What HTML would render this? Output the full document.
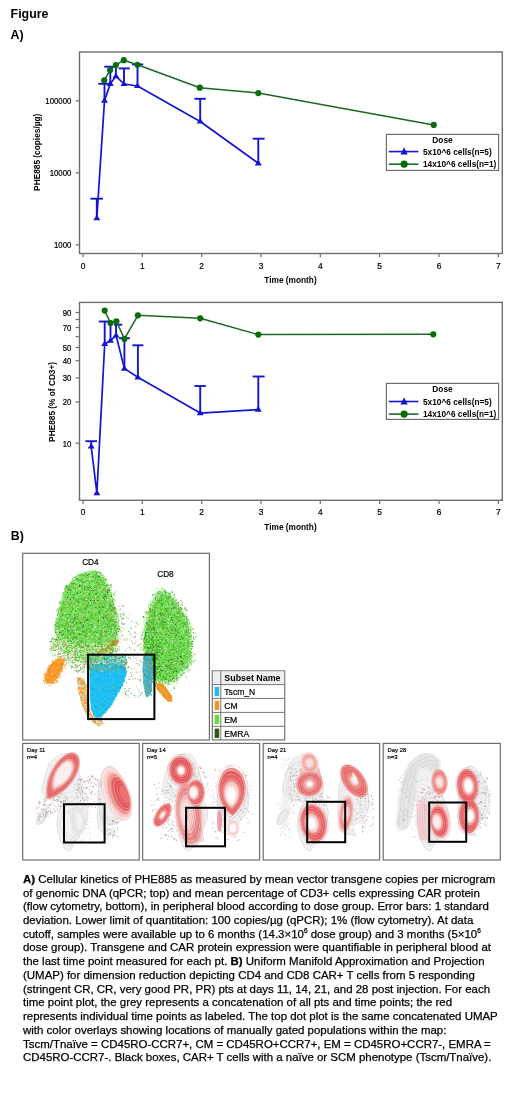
<!DOCTYPE html>
<html><head><meta charset="utf-8"><style>
html,body{margin:0;padding:0;background:#fff;}
body{width:520px;height:1105px;position:relative;overflow:hidden;font-family:"Liberation Sans",sans-serif;color:#111;}
#w{position:absolute;left:0;top:0;width:520px;height:1105px;will-change:transform;}
.t{position:absolute;font-weight:bold;font-size:12.4px;line-height:12px;color:#000;}
.l{position:absolute;left:23px;font-size:11.46px;line-height:13.6px;white-space:nowrap;color:#000;-webkit-text-stroke:0.25px #000;}
.l sup{font-size:6.5px;vertical-align:0;position:relative;top:-4.5px;}
svg{position:absolute;left:0;top:0;}
svg text{font-family:"Liberation Sans",sans-serif;fill:#000;}
svg text:not([font-weight]){stroke:#000;stroke-width:0.2px;}
</style></head><body><div id="w">
<div class="t" style="left:10.6px;top:7.8px">Figure</div>
<div class="t" style="left:10.6px;top:28.6px">A)</div>
<div class="t" style="left:10.8px;top:529.5px">B)</div>
<svg width="520" height="1105" viewBox="0 0 520 1105">
<rect x="79.5" y="52" width="422.8" height="201.5" fill="none" stroke="#6e6e6e" stroke-width="1.4"/>
<line x1="83.0" y1="253.5" x2="83.0" y2="257.3" stroke="#6e6e6e" stroke-width="1.2"/>
<text transform="translate(83.0 268.6) scale(1 1.12)" font-size="8.4" text-anchor="middle" fill="#222">0</text>
<line x1="142.3" y1="253.5" x2="142.3" y2="257.3" stroke="#6e6e6e" stroke-width="1.2"/>
<text transform="translate(142.3 268.6) scale(1 1.12)" font-size="8.4" text-anchor="middle" fill="#222">1</text>
<line x1="201.7" y1="253.5" x2="201.7" y2="257.3" stroke="#6e6e6e" stroke-width="1.2"/>
<text transform="translate(201.7 268.6) scale(1 1.12)" font-size="8.4" text-anchor="middle" fill="#222">2</text>
<line x1="261.0" y1="253.5" x2="261.0" y2="257.3" stroke="#6e6e6e" stroke-width="1.2"/>
<text transform="translate(261.0 268.6) scale(1 1.12)" font-size="8.4" text-anchor="middle" fill="#222">3</text>
<line x1="320.3" y1="253.5" x2="320.3" y2="257.3" stroke="#6e6e6e" stroke-width="1.2"/>
<text transform="translate(320.3 268.6) scale(1 1.12)" font-size="8.4" text-anchor="middle" fill="#222">4</text>
<line x1="379.6" y1="253.5" x2="379.6" y2="257.3" stroke="#6e6e6e" stroke-width="1.2"/>
<text transform="translate(379.6 268.6) scale(1 1.12)" font-size="8.4" text-anchor="middle" fill="#222">5</text>
<line x1="439.0" y1="253.5" x2="439.0" y2="257.3" stroke="#6e6e6e" stroke-width="1.2"/>
<text transform="translate(439.0 268.6) scale(1 1.12)" font-size="8.4" text-anchor="middle" fill="#222">6</text>
<line x1="498.3" y1="253.5" x2="498.3" y2="257.3" stroke="#6e6e6e" stroke-width="1.2"/>
<text transform="translate(498.3 268.6) scale(1 1.12)" font-size="8.4" text-anchor="middle" fill="#222">7</text>
<text x="290.5" y="282.8" font-size="8.3" font-weight="bold" text-anchor="middle" fill="#111">Time (month)</text>
<line x1="75.6" y1="244.9" x2="79.4" y2="244.9" stroke="#6e6e6e" stroke-width="1.2"/>
<text transform="translate(71.3 248.3) scale(1 1.15)" font-size="7.8" text-anchor="end" fill="#222">1000</text>
<line x1="75.6" y1="172.9" x2="79.4" y2="172.9" stroke="#6e6e6e" stroke-width="1.2"/>
<text transform="translate(71.3 176.3) scale(1 1.15)" font-size="7.8" text-anchor="end" fill="#222">10000</text>
<line x1="75.6" y1="100.9" x2="79.4" y2="100.9" stroke="#6e6e6e" stroke-width="1.2"/>
<text transform="translate(71.3 104.3) scale(1 1.15)" font-size="7.8" text-anchor="end" fill="#222">100000</text>
<text transform="translate(39.9 152.3) rotate(-90)" font-size="8.3" font-weight="bold" text-anchor="middle" fill="#111">PHE885 (copies/µg)</text>
<line x1="96.8" y1="218.2" x2="96.8" y2="198.7" stroke="#1414d2" stroke-width="1.9"/>
<line x1="90.4" y1="198.7" x2="102.9" y2="198.7" stroke="#1414d2" stroke-width="1.9"/>
<line x1="104.5" y1="100.6" x2="104.5" y2="83.8" stroke="#1414d2" stroke-width="1.9"/>
<line x1="98.4" y1="83.8" x2="110.2" y2="83.8" stroke="#1414d2" stroke-width="1.9"/>
<line x1="110.3" y1="83.8" x2="110.3" y2="66.7" stroke="#1414d2" stroke-width="1.9"/>
<line x1="104.2" y1="66.7" x2="116.2" y2="66.7" stroke="#1414d2" stroke-width="1.9"/>
<line x1="115.9" y1="76.2" x2="115.9" y2="66.8" stroke="#1414d2" stroke-width="1.9"/>
<line x1="124.0" y1="84.0" x2="124.0" y2="68.4" stroke="#1414d2" stroke-width="1.9"/>
<line x1="118.6" y1="68.4" x2="129.8" y2="68.4" stroke="#1414d2" stroke-width="1.9"/>
<line x1="137.5" y1="86.0" x2="137.5" y2="64.4" stroke="#1414d2" stroke-width="1.9"/>
<line x1="132.0" y1="64.4" x2="143.2" y2="64.4" stroke="#1414d2" stroke-width="1.9"/>
<line x1="200.2" y1="121.5" x2="200.2" y2="98.8" stroke="#1414d2" stroke-width="1.9"/>
<line x1="194.4" y1="98.8" x2="205.8" y2="98.8" stroke="#1414d2" stroke-width="1.9"/>
<line x1="258.3" y1="163.3" x2="258.3" y2="138.7" stroke="#1414d2" stroke-width="1.9"/>
<line x1="252.7" y1="138.7" x2="264.6" y2="138.7" stroke="#1414d2" stroke-width="1.9"/>
<path d="M96.8 218.2 L104.5 100.6 L110.3 83.8 L115.9 76.2 L124.0 84.0 L137.5 86.0 L200.2 121.5 L258.3 163.3" fill="none" stroke="#1414d2" stroke-width="1.7" stroke-linejoin="round"/>
<path d="M96.8 214.7L100.3 220.3L93.3 220.3Z" fill="#1414d2"/>
<path d="M104.5 97.1L108.0 102.7L101.0 102.7Z" fill="#1414d2"/>
<path d="M110.3 80.3L113.8 85.9L106.8 85.9Z" fill="#1414d2"/>
<path d="M115.9 72.7L119.4 78.3L112.4 78.3Z" fill="#1414d2"/>
<path d="M124.0 80.5L127.5 86.1L120.5 86.1Z" fill="#1414d2"/>
<path d="M137.5 82.5L141.0 88.1L134.0 88.1Z" fill="#1414d2"/>
<path d="M200.2 118.0L203.7 123.6L196.7 123.6Z" fill="#1414d2"/>
<path d="M258.3 159.8L261.8 165.4L254.8 165.4Z" fill="#1414d2"/>
<path d="M104.2 80.4 L110.1 70.1 L115.9 65.1 L123.8 60.2 L137.5 64.8 L199.8 87.7 L258.3 93.1 L433.8 124.9" fill="none" stroke="#1e6626" stroke-width="1.5" stroke-linejoin="round"/>
<circle cx="104.2" cy="80.4" r="3.1" fill="#0b6c0b"/>
<circle cx="110.1" cy="70.1" r="3.1" fill="#0b6c0b"/>
<circle cx="115.9" cy="65.1" r="3.1" fill="#0b6c0b"/>
<circle cx="123.8" cy="60.2" r="3.1" fill="#0b6c0b"/>
<circle cx="137.5" cy="64.8" r="3.1" fill="#0b6c0b"/>
<circle cx="199.8" cy="87.7" r="3.1" fill="#0b6c0b"/>
<circle cx="258.3" cy="93.1" r="3.1" fill="#0b6c0b"/>
<circle cx="433.8" cy="124.9" r="3.1" fill="#0b6c0b"/>
<rect x="386.4" y="134.4" width="112.2" height="36" fill="#fff" stroke="#6e6e6e" stroke-width="1.2"/>
<text x="442.5" y="143.0" font-size="8.3" font-weight="bold" text-anchor="middle" fill="#111">Dose</text>
<line x1="388.8" y1="151.6" x2="418.4" y2="151.6" stroke="#1414d2" stroke-width="1.6"/>
<path d="M404.1 147.3L407.7 154.6L400.5 154.6Z" fill="#1414d2"/>
<text x="423.0" y="155.2" font-size="8.3" font-weight="bold" fill="#111">5x10^6 cells(n=5)</text>
<line x1="388.8" y1="164.20000000000002" x2="418.4" y2="164.20000000000002" stroke="#1e6626" stroke-width="1.6"/>
<circle cx="404.1" cy="164.20000000000002" r="3.6" fill="#0b6c0b"/>
<text x="423.0" y="167.4" font-size="8.3" font-weight="bold" fill="#111">14x10^6 cells(n=1)</text>
<rect x="79.5" y="302.4" width="422.8" height="197.90000000000003" fill="none" stroke="#6e6e6e" stroke-width="1.4"/>
<line x1="83.0" y1="500.3" x2="83.0" y2="504.1" stroke="#6e6e6e" stroke-width="1.2"/>
<text transform="translate(83.0 515.3) scale(1 1.12)" font-size="8.4" text-anchor="middle" fill="#222">0</text>
<line x1="142.3" y1="500.3" x2="142.3" y2="504.1" stroke="#6e6e6e" stroke-width="1.2"/>
<text transform="translate(142.3 515.3) scale(1 1.12)" font-size="8.4" text-anchor="middle" fill="#222">1</text>
<line x1="201.7" y1="500.3" x2="201.7" y2="504.1" stroke="#6e6e6e" stroke-width="1.2"/>
<text transform="translate(201.7 515.3) scale(1 1.12)" font-size="8.4" text-anchor="middle" fill="#222">2</text>
<line x1="261.0" y1="500.3" x2="261.0" y2="504.1" stroke="#6e6e6e" stroke-width="1.2"/>
<text transform="translate(261.0 515.3) scale(1 1.12)" font-size="8.4" text-anchor="middle" fill="#222">3</text>
<line x1="320.3" y1="500.3" x2="320.3" y2="504.1" stroke="#6e6e6e" stroke-width="1.2"/>
<text transform="translate(320.3 515.3) scale(1 1.12)" font-size="8.4" text-anchor="middle" fill="#222">4</text>
<line x1="379.6" y1="500.3" x2="379.6" y2="504.1" stroke="#6e6e6e" stroke-width="1.2"/>
<text transform="translate(379.6 515.3) scale(1 1.12)" font-size="8.4" text-anchor="middle" fill="#222">5</text>
<line x1="439.0" y1="500.3" x2="439.0" y2="504.1" stroke="#6e6e6e" stroke-width="1.2"/>
<text transform="translate(439.0 515.3) scale(1 1.12)" font-size="8.4" text-anchor="middle" fill="#222">6</text>
<line x1="498.3" y1="500.3" x2="498.3" y2="504.1" stroke="#6e6e6e" stroke-width="1.2"/>
<text transform="translate(498.3 515.3) scale(1 1.12)" font-size="8.4" text-anchor="middle" fill="#222">7</text>
<text x="290.5" y="529.6" font-size="8.3" font-weight="bold" text-anchor="middle" fill="#111">Time (month)</text>
<line x1="75.6" y1="312.5" x2="79.4" y2="312.5" stroke="#6e6e6e" stroke-width="1.2"/>
<text transform="translate(71.3 315.9) scale(1 1.15)" font-size="7.8" text-anchor="end" fill="#222">90</text>
<line x1="75.6" y1="319.5" x2="79.4" y2="319.5" stroke="#6e6e6e" stroke-width="1.2"/>
<line x1="75.6" y1="327.5" x2="79.4" y2="327.5" stroke="#6e6e6e" stroke-width="1.2"/>
<text transform="translate(71.3 330.9) scale(1 1.15)" font-size="7.8" text-anchor="end" fill="#222">70</text>
<line x1="75.6" y1="336.6" x2="79.4" y2="336.6" stroke="#6e6e6e" stroke-width="1.2"/>
<line x1="75.6" y1="347.5" x2="79.4" y2="347.5" stroke="#6e6e6e" stroke-width="1.2"/>
<text transform="translate(71.3 350.9) scale(1 1.15)" font-size="7.8" text-anchor="end" fill="#222">50</text>
<line x1="75.6" y1="360.7" x2="79.4" y2="360.7" stroke="#6e6e6e" stroke-width="1.2"/>
<text transform="translate(71.3 364.1) scale(1 1.15)" font-size="7.8" text-anchor="end" fill="#222">40</text>
<line x1="75.6" y1="377.9" x2="79.4" y2="377.9" stroke="#6e6e6e" stroke-width="1.2"/>
<text transform="translate(71.3 381.3) scale(1 1.15)" font-size="7.8" text-anchor="end" fill="#222">30</text>
<line x1="75.6" y1="402.0" x2="79.4" y2="402.0" stroke="#6e6e6e" stroke-width="1.2"/>
<text transform="translate(71.3 405.4) scale(1 1.15)" font-size="7.8" text-anchor="end" fill="#222">20</text>
<line x1="75.6" y1="443.2" x2="79.4" y2="443.2" stroke="#6e6e6e" stroke-width="1.2"/>
<text transform="translate(71.3 446.6) scale(1 1.15)" font-size="7.8" text-anchor="end" fill="#222">10</text>
<text transform="translate(55.3 401.9) rotate(-90)" font-size="8.3" font-weight="bold" text-anchor="middle" fill="#111">PHE885 (% of CD3+)</text>
<line x1="91.2" y1="446.5" x2="91.2" y2="441.2" stroke="#1414d2" stroke-width="1.9"/>
<line x1="85.4" y1="441.2" x2="97.0" y2="441.2" stroke="#1414d2" stroke-width="1.9"/>
<line x1="104.7" y1="344.0" x2="104.7" y2="321.5" stroke="#1414d2" stroke-width="1.9"/>
<line x1="98.8" y1="321.5" x2="110.6" y2="321.5" stroke="#1414d2" stroke-width="1.9"/>
<line x1="110.5" y1="340.7" x2="110.5" y2="323.0" stroke="#1414d2" stroke-width="1.9"/>
<line x1="116.1" y1="335.5" x2="116.1" y2="324.7" stroke="#1414d2" stroke-width="1.9"/>
<line x1="114.0" y1="324.7" x2="122.3" y2="324.7" stroke="#1414d2" stroke-width="1.9"/>
<line x1="124.4" y1="368.6" x2="124.4" y2="338.2" stroke="#1414d2" stroke-width="1.9"/>
<line x1="118.9" y1="338.2" x2="129.9" y2="338.2" stroke="#1414d2" stroke-width="1.9"/>
<line x1="137.9" y1="377.3" x2="137.9" y2="345.3" stroke="#1414d2" stroke-width="1.9"/>
<line x1="132.3" y1="345.3" x2="143.4" y2="345.3" stroke="#1414d2" stroke-width="1.9"/>
<line x1="200.2" y1="413.1" x2="200.2" y2="386.0" stroke="#1414d2" stroke-width="1.9"/>
<line x1="194.4" y1="386.0" x2="205.8" y2="386.0" stroke="#1414d2" stroke-width="1.9"/>
<line x1="258.3" y1="409.6" x2="258.3" y2="376.5" stroke="#1414d2" stroke-width="1.9"/>
<line x1="252.7" y1="376.5" x2="264.6" y2="376.5" stroke="#1414d2" stroke-width="1.9"/>
<path d="M91.2 446.5 L96.9 493.1 L104.7 344.0 L110.5 340.7 L116.1 335.5 L124.4 368.6 L137.9 377.3 L200.2 413.1 L258.3 409.6" fill="none" stroke="#1414d2" stroke-width="1.7" stroke-linejoin="round"/>
<path d="M91.2 443.0L94.7 448.6L87.7 448.6Z" fill="#1414d2"/>
<path d="M96.9 489.6L100.4 495.2L93.4 495.2Z" fill="#1414d2"/>
<path d="M104.7 340.5L108.2 346.1L101.2 346.1Z" fill="#1414d2"/>
<path d="M110.5 337.2L114.0 342.8L107.0 342.8Z" fill="#1414d2"/>
<path d="M116.1 332.0L119.6 337.6L112.6 337.6Z" fill="#1414d2"/>
<path d="M124.4 365.1L127.9 370.7L120.9 370.7Z" fill="#1414d2"/>
<path d="M137.9 373.8L141.4 379.4L134.4 379.4Z" fill="#1414d2"/>
<path d="M200.2 409.6L203.7 415.2L196.7 415.2Z" fill="#1414d2"/>
<path d="M258.3 406.1L261.8 411.7L254.8 411.7Z" fill="#1414d2"/>
<path d="M104.7 310.6 L110.5 323.0 L116.4 321.3 L124.4 338.9 L137.9 315.3 L200.2 318.3 L258.3 334.6 L433.3 334.3" fill="none" stroke="#1e6626" stroke-width="1.5" stroke-linejoin="round"/>
<circle cx="104.7" cy="310.6" r="3.1" fill="#0b6c0b"/>
<circle cx="110.5" cy="323.0" r="3.1" fill="#0b6c0b"/>
<circle cx="116.4" cy="321.3" r="3.1" fill="#0b6c0b"/>
<circle cx="124.4" cy="338.9" r="3.1" fill="#0b6c0b"/>
<circle cx="137.9" cy="315.3" r="3.1" fill="#0b6c0b"/>
<circle cx="200.2" cy="318.3" r="3.1" fill="#0b6c0b"/>
<circle cx="258.3" cy="334.6" r="3.1" fill="#0b6c0b"/>
<circle cx="433.3" cy="334.3" r="3.1" fill="#0b6c0b"/>
<rect x="386.4" y="383.4" width="112.2" height="36" fill="#fff" stroke="#6e6e6e" stroke-width="1.2"/>
<text x="442.5" y="392.0" font-size="8.3" font-weight="bold" text-anchor="middle" fill="#111">Dose</text>
<line x1="388.8" y1="401.49999999999994" x2="418.4" y2="401.49999999999994" stroke="#1414d2" stroke-width="1.6"/>
<path d="M404.1 397.2L407.7 404.5L400.5 404.5Z" fill="#1414d2"/>
<text x="423.0" y="405.1" font-size="8.3" font-weight="bold" fill="#111">5x10^6 cells(n=5)</text>
<line x1="388.8" y1="414.09999999999997" x2="418.4" y2="414.09999999999997" stroke="#1e6626" stroke-width="1.6"/>
<circle cx="404.1" cy="414.09999999999997" r="3.6" fill="#0b6c0b"/>
<text x="423.0" y="417.3" font-size="8.3" font-weight="bold" fill="#111">14x10^6 cells(n=1)</text>
<rect x="22.7" y="553.3" width="186.7" height="186.7" fill="#fff" stroke="#6e6e6e" stroke-width="1.2"/>
<defs><filter id="bl" x="-20%" y="-20%" width="140%" height="140%"><feGaussianBlur stdDeviation="1.2"/></filter><filter id="bl2" x="-20%" y="-20%" width="140%" height="140%"><feGaussianBlur stdDeviation="0.6"/></filter></defs>
<path d="M71.9 584h1.0M70.1 643.5h1.0M84.7 573.6h1.0M119.7 613.9h1.0M68.9 605.7h1.0M111.7 614.4h1.0M97.9 654.2h1.0M77.9 657.6h1.0M86.9 621.4h1.0M58.9 636.2h1.0M117.8 622.8h1.0M71 598.2h1.0M73.4 647h1.0M111.8 650.5h1.0M87.7 639.4h1.0M115.7 633.2h1.0M95.3 627.9h1.0M67.7 632.2h1.0M103.4 611.7h1.0M102.6 629.9h1.0M66.4 628.9h1.0M73 608.9h1.0M62.3 643.7h1.0M64.2 608.6h1.0M116.2 651.7h1.0M78.6 645.1h1.0M71.6 603.5h1.0M71 588.8h1.0M75 588.2h1.0M110.5 584.8h1.0M96 577.6h1.0M59.4 656.6h1.0M95.5 606.5h1.0M122.8 624.2h1.0M96.1 650.6h1.0M115.5 642.4h1.0M104.4 613h1.0M72.8 639.3h1.0M89.6 610.3h1.0M67 591.8h1.0M116.9 628.3h1.0M83.2 647.7h1.0M113 610.4h1.0M95.8 634.5h1.0M66.8 596.1h1.0M107.7 634.5h1.0M111.9 631.2h1.0M60.1 610.6h1.0M61.6 660.2h1.0M77.7 643.2h1.0M79.3 642.4h1.0M99.7 606.3h1.0M79.2 608.9h1.0M110.7 653.8h1.0M58.8 653.6h1.0M100.3 619.1h1.0M118 626.3h1.0M94.5 628h1.0M98.4 612.4h1.0M50.9 641.6h1.0M99.1 583.4h1.0M79.2 605.7h1.0M108.4 588.5h1.0M62.9 593.6h1.0M55.2 628.5h1.0M62.9 626.7h1.0M113.6 599.7h1.0M91.4 618.4h1.0M54.9 650.4h1.0M58.3 623h1.0M57.7 659.7h1.0M96.4 594.6h1.0M97.1 588.6h1.0M64.3 658.7h1.0M103.9 638.8h1.0M83.6 642.6h1.0M86.8 617.8h1.0M74 657.7h1.0M73.3 584.4h1.0M59.3 602.6h1.0M81.9 582.1h1.0M106.4 605.6h1.0M112.5 599.7h1.0M78.8 631h1.0M117.3 637.9h1.0M111.6 622.7h1.0M66.6 610.2h1.0M100.5 606.4h1.0M57.5 635.4h1.0M107.4 646.8h1.0M95.4 645.8h1.0M111.7 649.1h1.0M79.8 596.2h1.0M179.6 630.8h1.0M182.8 657.3h1.0M146.9 625.3h1.0M150.8 633h1.0M161.3 601.5h1.0M170.2 658.2h1.0M187.3 627.4h1.0M171.4 666.7h1.0M160.3 615.8h1.0M178.2 618.1h1.0M149.2 614.4h1.0M173.7 594.7h1.0M150.5 642.3h1.0M143.1 650.4h1.0M173.7 620.9h1.0M154.4 660.5h1.0M183.5 618.7h1.0M148.4 605h1.0M176.1 628.3h1.0M155 664.7h1.0M189.5 624h1.0M159 682h1.0M153.1 652h1.0M190.9 635.7h1.0M161.4 673h1.0M162.8 653.9h1.0M167.8 680.2h1.0M167.5 639.7h1.0M152.4 594.5h1.0M188.5 669.9h1.0M158.1 614.9h1.0M156.3 660.4h1.0M145.2 634.8h1.0M155.2 679.4h1.0M181.6 605.1h1.0M145.4 643.9h1.0M158.6 674.1h1.0M192.8 637.3h1.0M185.6 622.1h1.0M144.9 612h1.0M175 674.5h1.0M190.7 664h1.0M186.2 668.1h1.0M179.8 627.3h1.0M173.3 673.5h1.0M152 623.3h1.0M165.1 664.6h1.0M161.3 686.7h1.0M172.2 672.4h1.0M186.9 652.8h1.0M157.6 602.3h1.0M175.3 613.5h1.0M175.5 658.5h1.0M162.1 684.3h1.0M159.1 627.3h1.0M159.6 605.8h1.0M155.3 674.4h1.0M184.4 608.2h1.0M155.8 606.7h1.0M191.5 661.6h1.0M159.9 680h1.0M184.5 636h1.0M181 626.5h1.0M152.8 627.3h1.0M186.1 652.4h1.0M168.7 597.5h1.0M174.7 648.3h1.0M180.9 674.9h1.0M174 688.3h1.0M192.8 632.4h1.0M158.4 666.6h1.0M178.7 664.1h1.0M178.6 632.8h1.0M186.4 610h1.0M180.5 600.9h1.0M146.2 612.3h1.0M156 626.1h1.0M141.4 635.4h1.0M174.8 609h1.0M160.9 603.4h1.0M165.4 644.9h1.0M165.3 629h1.0M176.9 647.5h1.0M166.4 656.4h1.0M152.9 614.1h1.0M178.8 626.6h1.0M152.8 669.4h1.0M179.6 670.1h1.0M148.8 610h1.0M157.8 636.1h1.0M156.8 593.6h1.0M142.9 616.5h1.0M154.5 663.5h1.0M163.4 672h1.0M182.8 649.6h1.0M176.7 626.1h1.0M186 622.4h1.0M183.8 667.9h1.0M165.9 628.3h1.0M167.1 629.8h1.0M169.3 671.8h1.0M160 609.6h1.0M184.9 609.3h1.0M191 643.8h1.0M172.8 661.5h1.0M148.1 624.5h1.0M122.6 606.4h1.0M139.7 679.7h1.0M134.5 632.3h1.0M128.2 657.7h1.0M122.4 614.2h1.0M122.9 618.4h1.0M134.1 650.1h1.0M125 693.9h1.0M125.6 691.4h1.0M130.8 628.1h1.0M49.8 648.9h1.0M65.9 649.2h1.0M78.7 643h1.0M51.3 639.2h1.0M95.7 650.5h1.0M52.7 647h1.0M72.1 650.8h1.0M75.6 659.4h1.0M57.5 654.6h1.0M76 654h1.0M52.5 643.9h1.0M95.2 652h1.0M63 646.9h1.0M68.1 658.1h1.0M83.5 658.6h1.0M76.7 666.1h1.0M83.3 671.9h1.0M63.9 640.7h1.0M89.8 658.8h1.0M76.3 671.2h1.0M71.9 660.6h1.0M82.2 668.8h1.0M61.8 646.1h1.0M83.7 666.3h1.0M81 648.2h1.0M66.8 652.3h1.0M87 653.3h1.0M81.6 656.7h1.0M85.5 662.9h1.0M70.3 648.1h1.0M86.7 665h1.0M83.2 664.1h1.0M60 654h1.0M76.5 670.3h1.0M84.2 664.8h1.0M87 656.1h1.0M69.1 652.9h1.0M68.5 660.2h1.0M78.9 670.7h1.0M74.4 667.7h1.0M56.7 645.7h1.0M63.9 641.9h1.0M64.1 652h1.0M74.4 657.6h1.0M76.1 667.1h1.0M54.2 639.4h1.0M61.7 638.6h1.0M60.7 650.5h1.0M74.6 646.9h1.0M71.6 662.6h1.0M65.9 660.1h1.0M86.6 667h1.0M72.8 663.2h1.0M84.1 667.9h1.0M56.6 646.5h1.0M51 648h1.0M76.9 660.7h1.0M80 660.7h1.0M86.6 645.6h1.0M67.8 652.6h1.0" stroke="#2a7a1a" stroke-width="1.0" fill="none"/>
<path d="M86.1 573.5h1.0M79.7 646.5h1.0M50.6 649.4h1.0M70.8 645.5h1.0M91.8 629.1h1.0M89.2 575.8h1.0M62.9 632.9h1.0M114.4 637.5h1.0M79.2 640h1.0M51.5 641.1h1.0M113.5 595.8h1.0M92.4 594.3h1.0M94.6 632.5h1.0M108.4 606.3h1.0M55 628.7h1.0M59.5 601.5h1.0M73.7 603.7h1.0M82.9 614.8h1.0M67.4 646.7h1.0M100.6 594.2h1.0M107 600.5h1.0M64 591h1.0M104.8 614.2h1.0M110.6 589.5h1.0M67 608.8h1.0M91.9 653.6h1.0M87.3 571.7h1.0M102.8 621.5h1.0M55.2 621.8h1.0M56.4 610.9h1.0M63.9 658.1h1.0M111.1 584.9h1.0M86.7 601.4h1.0M71.5 636.8h1.0M89.7 610.7h1.0M50 642.1h1.0M110.1 593.9h1.0M100 609.3h1.0M53.4 649.2h1.0M113.4 612h1.0M89.6 655.7h1.0M57 618.7h1.0M69.3 616.3h1.0M103.4 621h1.0M83.6 656.5h1.0M96 607.4h1.0M52.4 638.5h1.0M68.7 592.4h1.0M82.4 584.6h1.0M70.8 603h1.0M62.5 616.7h1.0M77.8 573.9h1.0M102.1 651.3h1.0M72.1 661.1h1.0M102.8 629.5h1.0M103.5 645.1h1.0M88.2 631h1.0M103.7 593.3h1.0M67.4 637.5h1.0M96.5 577.2h1.0M66.6 638.7h1.0M90.7 571.2h1.0M82.8 613.1h1.0M81.6 594.9h1.0M84.4 572.3h1.0M84.9 611.7h1.0M71.3 647.7h1.0M104.8 647.6h1.0M69.3 604.4h1.0M74.8 609.6h1.0M89.3 636.6h1.0M96.6 596.5h1.0M83.4 601.8h1.0M67 630.7h1.0M89.9 606.5h1.0M116.8 616h1.0M81.6 582.9h1.0M104.7 608.2h1.0M87.4 604.9h1.0M63.6 595.1h1.0M112.3 650.7h1.0M82.2 621h1.0M96.7 598.1h1.0M87.4 623.9h1.0M64.2 625.6h1.0M101.3 598.4h1.0M85.4 632.4h1.0M71 645.9h1.0M64.1 640.3h1.0M120.3 615.9h1.0M98.2 605h1.0M72.5 585.7h1.0M56.5 659.2h1.0M75.7 655.1h1.0M75 653h1.0M51.8 655.1h1.0M104.5 653.1h1.0M67.2 636.3h1.0M106.5 626.2h1.0M105 592.9h1.0M85.4 635.7h1.0M69.6 622.4h1.0M103.8 588.4h1.0M115.1 623.5h1.0M75.7 650.1h1.0M63.8 604.1h1.0M97.2 588.8h1.0M72.2 632.7h1.0M89.2 575.9h1.0M100.5 607.9h1.0M70.7 658.2h1.0M90.6 603h1.0M53.9 627.6h1.0M85.8 583.5h1.0M87.1 655.6h1.0M110.8 586.9h1.0M77.8 617.9h1.0M102.8 653h1.0M90.3 640.1h1.0M79.8 630.9h1.0M94.7 615.3h1.0M60.8 613.8h1.0M56.9 609.8h1.0M81 617.2h1.0M106.9 617.3h1.0M103.4 645.4h1.0M68.2 645.4h1.0M85.7 655.1h1.0M67.2 616.8h1.0M74.7 640.7h1.0M60.6 638.8h1.0M64.5 630.4h1.0M57.4 656.6h1.0M78 594.4h1.0M96.7 622h1.0M78.3 592h1.0M89.4 657h1.0M96.4 645.2h1.0M70.8 597.8h1.0M81.8 590.9h1.0M112.1 635.8h1.0M119.7 639h1.0M114.8 600.4h1.0M90.9 598.5h1.0M55.2 655.9h1.0M110.5 628.4h1.0M105.3 589h1.0M80.6 641.5h1.0M101.3 619.8h1.0M110.1 585.8h1.0M84.8 643.7h1.0M67.1 657.3h1.0M55.5 628.9h1.0M95.4 602.9h1.0M77.4 652.4h1.0M73.8 600.2h1.0M115.2 592h1.0M54.8 659h1.0M108.2 637.8h1.0M62.1 629h1.0M62.9 605.9h1.0M57.9 625.8h1.0M104.1 654h1.0M91.2 639.3h1.0M71.1 628.1h1.0M95.5 593.1h1.0M82 627.5h1.0M99 656h1.0M97.4 642h1.0M78.6 657.7h1.0M56.4 661.1h1.0M74.1 594.5h1.0M63.9 644.1h1.0M83.1 622h1.0M56.6 647.1h1.0M112.5 594.7h1.0M66.5 609.4h1.0M68.7 592.7h1.0M120.3 630.7h1.0M65 641.8h1.0M107.7 647.6h1.0M67.4 591.7h1.0M88.5 649.8h1.0M98.2 647.8h1.0M79.2 658.9h1.0M96.1 628.8h1.0M84.3 653h1.0M102.3 627.8h1.0M87.5 641.3h1.0M78.1 616.6h1.0M97.4 643.3h1.0M95.9 642.5h1.0M92.9 633h1.0M107.6 622h1.0M70.3 609h1.0M53.8 650.4h1.0M65.7 637.9h1.0M112.9 637.5h1.0M121.3 636.3h1.0M71 637.5h1.0M113.3 615h1.0M75.3 623.2h1.0M111 625.6h1.0M80 652.2h1.0M109.2 596.2h1.0M109.8 652.1h1.0M108 612.5h1.0M109.1 641.4h1.0M60.9 634.8h1.0M59 625.2h1.0M87 571.9h1.0M84.4 622.5h1.0M120.6 631.9h1.0M105.4 579.8h1.0M84.1 585.6h1.0M58 632.7h1.0M102.2 588h1.0M57.8 611.4h1.0M83.8 628.1h1.0M102 621.2h1.0M114 594.6h1.0M111.6 600.9h1.0M55.8 660.5h1.0M115.9 631.8h1.0M83.8 596.5h1.0M73.2 583h1.0M111.1 618.7h1.0M80.5 654.4h1.0M91 582.8h1.0M106.3 635.8h1.0M93.9 615.8h1.0M109.5 623.9h1.0M52.1 637.8h1.0M75.3 585.1h1.0M76.4 639.5h1.0M54.4 634.7h1.0M85 616.3h1.0M106.8 601.3h1.0M75.1 619.1h1.0M80.3 616.7h1.0M115.1 651.8h1.0M80.4 658h1.0M70.5 629.9h1.0M78.3 596.7h1.0M83.1 598.7h1.0M64.1 617.4h1.0M92.1 571.1h1.0M69.8 641.4h1.0M52.1 650.6h1.0M80.9 638h1.0M121.1 622.9h1.0M102.7 597.1h1.0M89.8 605.6h1.0M81.2 587h1.0M53.8 655.1h1.0M87.4 579.2h1.0M87.8 645.5h1.0M115.4 608.9h1.0M95.5 625.8h1.0M123.5 628.9h1.0M78.7 642.9h1.0M91.2 608h1.0M59.1 640.3h1.0M71.9 636.2h1.0M73.9 611.6h1.0M94.8 593.1h1.0M118.7 649.1h1.0M116.2 645.5h1.0M85.2 657.8h1.0M77 636.5h1.0M108 592.5h1.0M69.4 621.9h1.0M88.1 605.7h1.0M110.6 602.5h1.0M61.7 596.2h1.0M76 658.7h1.0M120.2 616.7h1.0M63.4 650.7h1.0M86.5 620.2h1.0M90.7 598.7h1.0M55.4 622h1.0M85.5 597.5h1.0M71 590.9h1.0M102.2 596.1h1.0M99.3 631.4h1.0M66.1 648.3h1.0M95.4 586.8h1.0M70.3 605.2h1.0M70.9 629h1.0M111.2 641.8h1.0M55.6 643.2h1.0M117.4 639.3h1.0M110.8 596h1.0M95.4 611.9h1.0M101.1 644.5h1.0M96.1 620.3h1.0M78.7 588.6h1.0M81.3 656.6h1.0M70.1 651.8h1.0M89.2 640.3h1.0M106 646.9h1.0M69.3 603.3h1.0M62.2 634.9h1.0M83.1 603.6h1.0M123.4 639.4h1.0M97.3 593.3h1.0M106.6 647.7h1.0M75.4 646.9h1.0M85.1 616.2h1.0M70.1 623.8h1.0M100 585.1h1.0M61.7 636.9h1.0M86.6 609h1.0M73.8 588.1h1.0M99.3 611.4h1.0M77.5 580.6h1.0M115.5 620.7h1.0M113.4 593.4h1.0M144.5 628.9h1.0M180 665.2h1.0M145.7 672.8h1.0M171.5 667.1h1.0M153.3 625.2h1.0M173.3 608.7h1.0M149.4 664h1.0M193.1 661.6h1.0M191.8 656.7h1.0M172.6 598.3h1.0M146.2 669.8h1.0M188.9 669.7h1.0M162 636h1.0M174.2 594.4h1.0M161.7 623.3h1.0M172.4 621.2h1.0M165.7 689.1h1.0M148.2 656.3h1.0M155.3 638.5h1.0M159.6 643.8h1.0M143.4 621.6h1.0M195.4 636.6h1.0M153.6 610.9h1.0M188.8 633.6h1.0M171.8 618h1.0M143.7 617.9h1.0M160 667h1.0M167.1 680h1.0M152.2 628.1h1.0M189 622h1.0M175.8 682.5h1.0M162.7 657.1h1.0M143.2 629.6h1.0M175.1 621.3h1.0M173.5 613.2h1.0M158.4 596.2h1.0M148 666.3h1.0M194.7 633.6h1.0M169.3 684.4h1.0M152.8 665.2h1.0M150.2 684.2h1.0M167.9 652.7h1.0M184.8 634.4h1.0M143.4 645.2h1.0M175.1 609.8h1.0M154.7 631.6h1.0M152.1 645.7h1.0M155.8 621h1.0M178.2 648.6h1.0M172.4 678.3h1.0M156.7 589h1.0M149.4 657.5h1.0M184.4 658.2h1.0M168.3 610.6h1.0M167.3 600.6h1.0M150 657.8h1.0M181.3 638.6h1.0M189.5 662.6h1.0M149.9 614h1.0M142.4 639.4h1.0M171.2 624.2h1.0M188.9 661.1h1.0M161.7 626.6h1.0M154.3 650h1.0M153.5 607.1h1.0M142.8 658.7h1.0M176.2 643.6h1.0M161.2 660.6h1.0M152.5 650.2h1.0M169.2 636.1h1.0M185.5 611.3h1.0M154.1 597.2h1.0M185 640.7h1.0M178.9 633.2h1.0M184.7 665.4h1.0M153.3 625.1h1.0M161.3 588.3h1.0M172 592.5h1.0M180.2 615.1h1.0M153.5 673.3h1.0M175.6 675.8h1.0M160.8 591.1h1.0M160.6 660.6h1.0M194.4 660.5h1.0M177.3 620.8h1.0M141.4 648.1h1.0M165.9 673.8h1.0M166.5 679.1h1.0M177.5 663.5h1.0M183.1 666.6h1.0M182.2 645.2h1.0M178.1 660.5h1.0M143.1 658.4h1.0M185.7 677.2h1.0M158.7 640.4h1.0M154.7 619.1h1.0M163.5 591.8h1.0M154.4 607.5h1.0M170.1 625.4h1.0M167.4 647.2h1.0M171.1 591.8h1.0M164.9 677.8h1.0M164.3 653h1.0M171.4 669.8h1.0M177.7 656.7h1.0M151.8 673.7h1.0M163.2 655h1.0M190.7 657.8h1.0M143.2 658.9h1.0M186.8 617h1.0M148.6 681.3h1.0M161.9 589.9h1.0M164.1 657.1h1.0M192.6 641.2h1.0M159.5 664.5h1.0M170.3 595.7h1.0M152.7 682.7h1.0M173.5 687.1h1.0M192.9 654.8h1.0M158.7 633.3h1.0M173.4 634.5h1.0M147.4 646.6h1.0M161 655.5h1.0M166.9 602h1.0M167.8 642.2h1.0M168.4 624.7h1.0M162.6 607.7h1.0M171.9 658.2h1.0M182 602.5h1.0M156.3 679.1h1.0M183.9 660.4h1.0M165.9 682.3h1.0M192.7 629.3h1.0M178 602.2h1.0M147.9 607.1h1.0M184.3 636.4h1.0M182.1 652.7h1.0M145.2 661.1h1.0M177.7 664h1.0M184.9 647.9h1.0M154.1 673.7h1.0M151.1 634.1h1.0M186.2 628.7h1.0M176.5 673.5h1.0M140.3 637.4h1.0M146.2 671h1.0M173.9 634.1h1.0M174.7 616.9h1.0M155.2 659.4h1.0M177 670.4h1.0M155.2 686.1h1.0M190.1 627.5h1.0M150.6 672.9h1.0M165.5 670.7h1.0M188.3 639.9h1.0M190.8 638.3h1.0M180.8 664.5h1.0M172.9 646.5h1.0M155.7 665.8h1.0M178.7 615.4h1.0M181.3 604.3h1.0M143 617.5h1.0M151.1 619.9h1.0M146.1 613.6h1.0M161.6 686.7h1.0M151.4 681h1.0M182.1 615.1h1.0M191.4 641.6h1.0M154.9 611.8h1.0M163.1 670.5h1.0M159 593.4h1.0M186.2 614.9h1.0M160.1 659.2h1.0M187 620.3h1.0M175.2 600.9h1.0M152.6 652h1.0M158.5 645.6h1.0M185.3 642.4h1.0M168.3 630.6h1.0M158.4 689.1h1.0M166.8 600.4h1.0M178.2 660.2h1.0M159.1 606.3h1.0M168.9 632.1h1.0M179.4 607h1.0M180.4 652h1.0M165.5 597.1h1.0M148.6 667.4h1.0M171.6 639.3h1.0M172.8 625.9h1.0M186.5 668.2h1.0M169.9 593.9h1.0M175 678.6h1.0M175.8 607.9h1.0M190.7 626.3h1.0M173.1 599.6h1.0M179.6 632.2h1.0M178.8 635.6h1.0M190.9 648.8h1.0M153.5 683.3h1.0M194.5 660.3h1.0M170.5 616.8h1.0M185.4 634.1h1.0M176.4 608h1.0M170.6 623.2h1.0M145.7 624.7h1.0M169.1 633.9h1.0M186.9 661h1.0M178.1 674.9h1.0M154.1 617.8h1.0M158.2 596.4h1.0M182.2 615h1.0M163.1 588.7h1.0M145.9 672.3h1.0M156.1 680.8h1.0M153.9 613.2h1.0M178.7 608.3h1.0M157 593.1h1.0M155.3 666.5h1.0M145.6 618h1.0M159.2 673.1h1.0M185 656.3h1.0M150.1 601.4h1.0M176.5 645.7h1.0M152.5 606.7h1.0M166.4 676.9h1.0M177.2 673.5h1.0M141.6 632.1h1.0M165.8 660.5h1.0M146.6 636.4h1.0M152.9 632.3h1.0M143.8 624.1h1.0M192.4 644.2h1.0M192.8 641.1h1.0M149.6 676.4h1.0M165.8 662.6h1.0M165.4 619.6h1.0M177.1 624.1h1.0M195.1 636.6h1.0M170.1 610.8h1.0M173.9 654.2h1.0M181.5 675.7h1.0M142 632.2h1.0M158 628.8h1.0M140 649.7h1.0M147.7 611.5h1.0M155.1 684.5h1.0M168.7 598.6h1.0M190.3 645.8h1.0M178.8 613.1h1.0M179.7 653.8h1.0M152.5 608.9h1.0M162.7 630.3h1.0M159.9 659.8h1.0M149.8 636.6h1.0M177.9 603.2h1.0M151 666.2h1.0M173 607.1h1.0M170 662h1.0M149.7 658.9h1.0M158.8 640.8h1.0M163.4 636.3h1.0M174.9 658.9h1.0M184.3 662.3h1.0M171.4 591.8h1.0M145.3 647.5h1.0M171.6 600.9h1.0M153.5 613.4h1.0M169.9 661.8h1.0M180.6 609.5h1.0M157.4 655.4h1.0M184.5 618.7h1.0M174.1 595.8h1.0M189.1 634.5h1.0M143.9 626.8h1.0M154.1 656h1.0M183.1 625.2h1.0M174.6 597.4h1.0M175.7 615.5h1.0M183.2 632h1.0M169.8 673.1h1.0M149.7 666.1h1.0M158.9 599.3h1.0M173.8 616.5h1.0M180.1 662.8h1.0M146 671.1h1.0M153.9 613h1.0M187.9 619.9h1.0M181.7 622h1.0M187.5 671.7h1.0M160.5 625.5h1.0M161.2 598h1.0M189.7 665.1h1.0M182.3 671.1h1.0M147.5 642.6h1.0M170.7 633.9h1.0M152 621.9h1.0M145.6 620.5h1.0M184.6 610.1h1.0M143.8 663.6h1.0M175.4 679.6h1.0M190.4 662.8h1.0M188.9 646.1h1.0M177.3 608.1h1.0M142 648h1.0M180.2 631.1h1.0M151.3 617.9h1.0M168 656h1.0M171.4 669.2h1.0M154.5 615.2h1.0M168.7 635.2h1.0M180.1 664.3h1.0M154.3 640.2h1.0M173.8 680.5h1.0M179.9 660.4h1.0M164.8 595.5h1.0M184.6 657h1.0M158.8 666.2h1.0M151.1 603.3h1.0M174.6 618h1.0M152.2 595.3h1.0M157.7 639h1.0M167.2 684.8h1.0M151.1 648.1h1.0M162.6 623.3h1.0M159.7 658.3h1.0M191.5 628.3h1.0" stroke="#55e030" stroke-width="1.0" fill="none"/>
<path d="M64.2 628h1.0M91.4 606.7h1.0M74.6 651.8h1.0M67 634.1h1.0M81.4 656.7h1.0M62.7 627.7h1.0M58.3 646.5h1.0M90.3 640.3h1.0M88.1 614.2h1.0M100.8 651.1h1.0M67 621.8h1.0M58 651.7h1.0M57 609.1h1.0M67.3 659h1.0M89.1 592.6h1.0M118.3 636h1.0M111.3 596.4h1.0M61.6 604.5h1.0M77.8 611.2h1.0M87.2 633.1h1.0M107.2 591.5h1.0M70.2 612.6h1.0M65.1 592.9h1.0M66.8 631.7h1.0M85.9 589h1.0M77.3 589.7h1.0M72.4 587.2h1.0M68.5 602.5h1.0M65 614h1.0M110.1 647.8h1.0M121.9 623.9h1.0M67 641.9h1.0M89.5 629.3h1.0M84.8 644.4h1.0M84.2 574.9h1.0M85.8 605h1.0M57.5 649.3h1.0M59.7 642.9h1.0M96.7 611h1.0M103.5 593h1.0M94.9 577.2h1.0M113.8 654.6h1.0M75.3 599.7h1.0M62.6 640.5h1.0M62.9 594.3h1.0M59.4 642.3h1.0M97.8 603.5h1.0M93.9 633.1h1.0M49.8 641.6h1.0M80.2 629.4h1.0M109.4 623.2h1.0M76.8 624.8h1.0M99.6 581.3h1.0M72.6 626h1.0M109.1 633.3h1.0M107 609.4h1.0M106.1 645.7h1.0M77.6 581.1h1.0M81.5 584.8h1.0M74.1 653.5h1.0M58.1 639.8h1.0M84.8 599.4h1.0M62.5 603.7h1.0M102.9 597.2h1.0M88.4 571.9h1.0M59.7 646.4h1.0M87.5 606.6h1.0M72.8 610.3h1.0M86.8 658.6h1.0M68.1 620.2h1.0M84.8 596.3h1.0M111.9 647.5h1.0M62.7 609.4h1.0M90.5 616h1.0M106.6 619.8h1.0M100.1 645.9h1.0M74.6 587.3h1.0M119.9 609.2h1.0M96.6 628.1h1.0M71.9 612.6h1.0M117 650.1h1.0M171.9 641.4h1.0M151 662.8h1.0M183.4 624.2h1.0M159.6 608.9h1.0M170.7 658.3h1.0M157.8 630.1h1.0M144.9 627.6h1.0M153.8 648.8h1.0M158.5 688h1.0M193.5 639.2h1.0M174.9 632.7h1.0M158.2 600.7h1.0M170.5 630.3h1.0M157.2 653.6h1.0M152.7 676.7h1.0M171.4 659.4h1.0M182.7 673.5h1.0M154.6 660.9h1.0M193.1 637.7h1.0M165.6 610h1.0M177.1 676h1.0M156.2 616.6h1.0M153 631.3h1.0M151.6 629h1.0M186.3 661h1.0M162.1 596.3h1.0M190.6 635.7h1.0M165.8 652.9h1.0M166.9 632.2h1.0M126.2 695h1.0M130.8 693.4h1.0M124.3 673.8h1.0M139.8 695.2h1.0M121.9 618.6h1.0M128.5 679.6h1.0M128.8 688.6h1.0M138.6 692h1.0M137.2 679.1h1.0M127.9 667.4h1.0M140.9 693.4h1.0M135.4 626.2h1.0M129.1 647.4h1.0M120.9 619.1h1.0M136.5 663.6h1.0M139.9 681.1h1.0M131.3 676.7h1.0M141.2 639h1.0M134.1 636.5h1.0M131.3 621.1h1.0M141.8 668.3h1.0M128 690.8h1.0M124.4 688.5h1.0M141.8 662.8h1.0M130.1 657.9h1.0M136.4 622.7h1.0M138 645.8h1.0M128.2 631.4h1.0M135.8 672.2h1.0M134.7 637.2h1.0M133.5 695.3h1.0M124.7 650.8h1.0M134.9 678.6h1.0" stroke="#3aa8b8" stroke-width="1.0" fill="none"/>
<path d="M71.2 624.2h1.0M65.8 623.1h1.0M71.2 634.3h1.0M51.7 634.9h1.0M64.9 591.6h1.0M79.3 604.2h1.0M120.4 633.9h1.0M49 650.9h1.0M87.7 583.6h1.0M59.9 641.4h1.0M104 591h1.0M97.6 602.4h1.0M121.8 630.1h1.0M69.6 592.2h1.0M117.1 602.7h1.0M117.7 616.4h1.0M108.5 585.9h1.0M68.3 641.4h1.0M81.1 626.7h1.0M86.4 634.1h1.0M72.5 627.7h1.0M110.1 610h1.0M111.3 606.4h1.0M76.4 613.9h1.0M70.4 591.5h1.0M111.3 652.5h1.0M109 646.4h1.0M55.1 647.3h1.0M108.4 639.2h1.0M85 605.4h1.0M99.6 640.9h1.0M99 596.9h1.0M91.8 583.1h1.0M66.2 594.6h1.0M115.1 645.1h1.0M116 613.8h1.0M96.6 651.7h1.0M80.3 574.6h1.0M68 658.6h1.0M105.2 654.8h1.0M66.3 609.8h1.0M65 608.6h1.0M55.1 625.1h1.0M62.7 593.6h1.0M77.4 620.9h1.0M78.3 651.7h1.0M76.9 653.6h1.0M93.2 620.9h1.0M70.6 608.9h1.0M105.8 642.1h1.0M107.4 580.6h1.0M67.4 661.6h1.0M110.1 593.5h1.0M94.4 610h1.0M64.3 624h1.0M62.7 627.7h1.0M62.4 626.2h1.0M87.3 594.5h1.0M112.3 645.1h1.0M85.8 648.8h1.0M63.5 634.7h1.0M65 612.6h1.0M105.1 639.7h1.0M91.6 581.7h1.0M66.1 600.2h1.0M85.5 628.5h1.0M99.3 629.3h1.0M87 579.4h1.0M88.7 636.3h1.0M96.2 646.7h1.0M104.1 656.9h1.0M106.8 644.9h1.0M83 597.2h1.0M83.9 609.6h1.0M57.8 646.9h1.0M59.9 652.4h1.0M80.8 651.6h1.0M85 575.4h1.0M58.1 615.5h1.0M111.7 613.3h1.0M72.4 660.8h1.0M113.4 603.9h1.0M80.5 609.1h1.0M71.4 597.7h1.0M102.6 651.9h1.0M107.8 654.2h1.0M78.8 579.4h1.0M95.4 635.6h1.0M75 629.7h1.0M119.8 642.6h1.0M67.3 609.1h1.0M73.7 577.9h1.0M93.7 632.7h1.0M87.2 614.1h1.0M90.5 607.2h1.0M89.9 650.5h1.0M66.8 622.2h1.0M107.6 635.6h1.0M99.1 597.6h1.0M118.5 647.9h1.0M87 611.2h1.0M85.1 617.5h1.0M66.2 609h1.0M94.8 593.2h1.0M92.8 658.4h1.0M67.7 613.1h1.0M111.7 626.4h1.0M82.5 620.7h1.0M113.4 592.1h1.0M74.1 632.5h1.0M112.4 646h1.0M106 624.2h1.0M107.3 650.7h1.0M76.2 611.8h1.0M107.6 648.6h1.0M58.2 623.2h1.0M77 603.1h1.0M77.9 621.9h1.0M84.5 610.7h1.0M69.3 617.3h1.0M70.4 647.9h1.0M98.4 588.2h1.0M89.6 594.6h1.0M87.2 646.1h1.0M54.7 653.6h1.0M51.2 652.4h1.0M70.8 651h1.0M67.1 653.2h1.0M75.3 592.8h1.0M50.3 649h1.0M100.8 609.6h1.0M65.3 592.4h1.0M98.3 625.4h1.0M90.4 580.1h1.0M80.4 587.6h1.0M71.7 604.1h1.0M69.8 611h1.0M93.9 597.5h1.0M120.4 614.5h1.0M97.9 604.4h1.0M79.1 619h1.0M87.9 593.3h1.0M89.7 591h1.0M146.3 639.9h1.0M164.6 676.3h1.0M174.8 677.2h1.0M173.8 596.9h1.0M171 616.7h1.0M159.2 602.2h1.0M150.2 671.6h1.0M152.1 679.5h1.0M160.2 635.1h1.0M183.4 652.3h1.0M181.4 639.4h1.0M159.1 682.3h1.0M173.8 676.4h1.0M158.3 664.4h1.0M185.6 630.5h1.0M173 644.2h1.0M140.5 636h1.0M143.4 638.7h1.0M151.4 665.5h1.0M178.5 654.4h1.0M181.8 675.3h1.0M169.5 650.2h1.0M158 651.9h1.0M169.6 641h1.0M186 634.4h1.0M178.1 624.7h1.0M163.7 668.9h1.0M159.7 626.6h1.0M182.3 626h1.0M142.3 657.2h1.0M188.1 644.3h1.0M169.9 629h1.0M172.6 619.6h1.0M175.9 609.7h1.0M167.1 676.4h1.0M156.7 593.7h1.0M168.7 596.6h1.0M166.2 603.6h1.0M153.4 677.1h1.0M141.7 627.4h1.0M172.4 610.8h1.0M142.3 650.8h1.0M156.7 686.4h1.0M167.6 680.9h1.0M152.6 679h1.0M159.7 597h1.0M160.3 655.3h1.0M161 640.8h1.0M186.7 657.6h1.0M162 664.2h1.0M176.3 670.2h1.0M159.4 601h1.0M166.3 644.6h1.0M170.7 664.9h1.0M169.8 640.7h1.0M168.1 675.1h1.0M172.4 628.5h1.0M177.6 664.9h1.0M181.6 671.9h1.0M179.4 659.7h1.0M155.4 593.5h1.0M152.5 596.3h1.0M143.3 632.9h1.0M175.3 661.9h1.0M162.4 639.8h1.0M159.9 603.5h1.0M165.6 647.4h1.0M166.4 628.1h1.0M180 611.4h1.0M177.6 683.3h1.0M171.1 671.9h1.0M146.4 658.5h1.0M189.8 669.1h1.0M175.1 624.7h1.0M169.7 654.1h1.0M149.9 632.1h1.0M194 653.4h1.0M176.7 648.7h1.0M167.6 687.3h1.0M176.9 647.5h1.0M154.1 624.6h1.0M161.5 624.5h1.0M152.5 663.9h1.0M140.6 654.4h1.0M150.7 664.4h1.0M192.6 628.3h1.0M153.1 636.1h1.0M147.7 640.8h1.0M153.1 603.9h1.0M188.7 630.2h1.0M187.5 670.4h1.0M160.5 641h1.0M144.1 663.6h1.0M140.5 635.9h1.0M181.2 623.9h1.0M172.6 684.5h1.0M186.8 653.3h1.0M154.3 671.9h1.0M152.9 596.2h1.0M172.6 597.7h1.0M175.8 658.4h1.0M146.7 639.2h1.0M160.3 661h1.0M147.2 635h1.0M190.9 629.2h1.0M181.7 656.9h1.0M172.9 672.7h1.0M160.3 686.2h1.0M181 605.9h1.0M171.4 601.4h1.0M185 630.6h1.0M148.5 676.4h1.0M180.8 623.4h1.0M156.7 644.1h1.0M184.3 647.9h1.0M125.8 648.5h1.0M126.7 690h1.0M129.4 633.8h1.0M126.9 639.3h1.0M136 686.4h1.0M134.1 697.5h1.0M141.5 643.9h1.0M122.3 615.7h1.0M121.4 618h1.0M121.8 686.3h1.0M120.7 687.6h1.0M133.7 628.3h1.0M127.6 695.5h1.0M135.9 623.7h1.0M129.8 627.3h1.0M121.9 689.1h1.0M128.2 697.4h1.0M125.8 697.1h1.0M124.5 615.3h1.0M129.5 639.3h1.0M119.7 608.7h1.0M121.7 631h1.0M139.8 671.1h1.0M134.1 622.8h1.0M129.4 614.6h1.0M132 672.8h1.0M129.6 634.2h1.0M73.5 650.8h1.0M72.1 664.3h1.0M70.6 650.1h1.0M84.7 644.4h1.0M79.8 662.9h1.0M51 650.2h1.0M59.5 649.3h1.0M57.2 642.5h1.0M92.5 652.7h1.0M86.6 650.7h1.0M77.8 646.2h1.0M67.5 650.9h1.0M79.2 643.7h1.0M81.7 659.7h1.0M77.3 658.3h1.0M78.1 655.9h1.0M87.8 667.3h1.0M50.7 651h1.0M69.6 655.8h1.0M76.2 647.3h1.0M95.8 650.5h1.0M80.8 656.7h1.0M66 651.8h1.0M71.6 644h1.0M80.3 662.9h1.0M63.7 657.4h1.0M72.2 659.9h1.0M89.1 661.3h1.0M64.9 637.5h1.0M54 642.6h1.0M88.5 664.3h1.0M67.8 645h1.0M65.8 644.5h1.0M58.9 653.1h1.0M73.5 642.2h1.0M91.3 651.2h1.0M76.5 656.9h1.0M75.5 664.4h1.0M50.5 645.9h1.0M67.6 648.4h1.0M71.5 641.5h1.0M83.6 664.2h1.0M64.2 659.2h1.0M73.1 652.3h1.0M67.2 653h1.0M85.8 647.1h1.0M70 665.5h1.0M76 652.3h1.0M54.3 654.5h1.0M55.6 645h1.0M68.8 646.1h1.0M77.4 663.9h1.0M72.8 645.2h1.0M88.7 659.8h1.0M88.5 657.7h1.0M80.5 662.6h1.0M81.5 643h1.0M76.4 644.6h1.0M91.1 650.8h1.0M60.6 637.4h1.0M75.5 667.4h1.0M66.6 640.4h1.0M87.7 660.5h1.0M87 658.8h1.0M80.3 655.7h1.0M58.1 649.3h1.0M88 659.2h1.0M91.9 661.8h1.0M76.8 650.9h1.0M86.1 659.9h1.0M83.2 672.5h1.0M74.4 659.5h1.0M73.8 651.2h1.0M51.2 649h1.0M88.1 655.8h1.0M89 667.7h1.0M82.9 662.1h1.0M86.9 665.6h1.0M71.3 667.5h1.0M67.3 647.6h1.0M85 644.6h1.0M60.8 646.3h1.0M73.1 665.7h1.0M92.6 650.8h1.0M79.7 650.4h1.0M76.2 644.4h1.0M89 648h1.0M75.7 661.4h1.0M59.6 643.6h1.0M53 649.2h1.0M87.1 663.8h1.0M58.9 654.4h1.0M84.6 661.9h1.0M57.9 648.3h1.0M55.4 640.2h1.0M64.5 648.7h1.0M61.6 644.6h1.0M66.4 641h1.0M86.7 664h1.0M76.1 654.6h1.0M50.1 646.9h1.0M68.5 665h1.0M71.6 667.4h1.0M61.5 638.1h1.0M81.2 658.7h1.0M90.1 664.3h1.0M91.8 652.5h1.0M58.8 637.1h1.0M77.8 666h1.0M53.9 644.5h1.0M77.6 650.4h1.0M71.3 648.8h1.0M71 642h1.0M77.4 652.5h1.0M54.1 645.2h1.0M65.1 637.8h1.0M76 643h1.0M57.6 641.5h1.0M74.3 644.4h1.0M83.5 653h1.0M75.5 648.9h1.0M62.6 647.1h1.0M92.2 661.3h1.0M50.2 642.7h1.0M85.7 649.5h1.0M62.9 640.3h1.0M80.1 662.4h1.0M80.9 655.9h1.0M92.7 654.3h1.0M64 641.6h1.0M82.7 650.6h1.0M71 667.4h1.0M88 648.1h1.0M68.5 657.7h1.0M74.6 665.8h1.0M67.9 654.7h1.0M63.4 659.4h1.0M84.3 667.9h1.0M54.2 649.6h1.0M59.1 644.9h1.0M76.1 659.2h1.0M71.6 654.1h1.0M88.8 655.1h1.0M65.5 659.2h1.0M64.5 648.1h1.0M82.8 649.7h1.0M75.9 668.8h1.0M74.9 658.3h1.0M94.1 653.2h1.0M63.8 654.6h1.0M68.1 663.1h1.0M81.5 650.6h1.0M75.8 649h1.0M79.5 664.6h1.0M74.3 660.5h1.0M84.8 663.1h1.0M81.7 660.5h1.0M65 649.8h1.0M89.5 656.1h1.0M59.3 648.8h1.0M52.9 648.3h1.0M84.6 659.9h1.0M67.7 646.7h1.0M87.3 650.4h1.0M54.3 640.8h1.0M67.1 644.3h1.0M61 645.8h1.0M68.7 650.2h1.0M84.9 655.2h1.0M73.1 657.8h1.0M76.7 662.1h1.0M57.2 641.7h1.0M90.7 665.1h1.0M74.7 642.9h1.0M92.3 661.4h1.0" stroke="#a8ee90" stroke-width="1.0" fill="none"/>
<path d="M105.9 623h1.0M91.7 612.2h1.0M66.1 606.2h1.0M89.3 651.7h1.0M116.3 642.1h1.0M112.7 644.6h1.0M107.8 600.8h1.0M58.6 653.7h1.0M118.9 610.1h1.0M98.5 642.5h1.0M119.3 628.7h1.0M87.3 616.7h1.0M110.2 617.1h1.0M101.2 591.4h1.0M66.9 622.7h1.0M85.8 628.2h1.0M118.4 646.4h1.0M74.5 646h1.0M108.8 638.3h1.0M72.1 660.7h1.0M98.9 639.2h1.0M98.2 581.2h1.0M86.1 591.4h1.0M116.4 609.2h1.0M64.1 607.4h1.0M105.2 584.7h1.0M96 603.3h1.0M89.7 623.7h1.0M75 645.6h1.0M85.1 602.1h1.0M85.6 605.1h1.0M70.2 635h1.0M64.6 636.8h1.0M106.6 634.8h1.0M96.2 645.7h1.0M107.2 631.8h1.0M110.7 597.1h1.0M97.5 604.1h1.0M122 635.1h1.0M99.7 625.7h1.0M111.2 645.1h1.0M91 595.3h1.0M91.6 653h1.0M118.9 650.2h1.0M81.8 601.4h1.0M102.6 575.1h1.0M72.8 647.9h1.0M117.1 614.1h1.0M67.5 587.2h1.0M56.3 636.1h1.0M57.5 624.7h1.0M76.9 608.9h1.0M108.9 654.4h1.0M119.1 628.6h1.0M71.5 660.5h1.0M86.5 580.2h1.0M81.1 647.4h1.0M117 641.7h1.0M100.3 638.3h1.0M90.4 600.9h1.0M61.3 629h1.0M72.2 587.1h1.0M80.8 631.6h1.0M121.1 627.3h1.0M70 601.8h1.0M180.7 643.8h1.0M159.8 638.1h1.0M140.3 649.7h1.0M187.2 668h1.0M184.9 607.3h1.0M173.2 633.8h1.0M173.4 605.2h1.0M184.4 657.5h1.0M150.5 618.7h1.0M171.7 623.3h1.0M190.9 660.4h1.0M174.2 654h1.0M181 669.3h1.0M194.9 654.5h1.0M192.5 628.9h1.0M144.7 614.1h1.0M152.7 648.7h1.0M167.5 606.1h1.0M168.8 602.2h1.0M161.3 660.3h1.0M188.6 624.1h1.0M168.1 680h1.0M193.5 639.6h1.0M127.7 618.7h1.0M139.5 680.5h1.0M132.6 679.1h1.0M139.9 654.4h1.0M126 682.6h1.0M121.5 623.3h1.0M140.2 643.9h1.0M118.9 606.1h1.0M141.9 671.1h1.0M130.7 668.6h1.0M125.6 638.2h1.0M124.6 692.8h1.0M140.3 676.2h1.0M129.9 672.7h1.0M131 674.5h1.0M133.3 638.2h1.0M138.4 689.8h1.0M129.4 679.1h1.0M138.5 644.9h1.0M131.3 641h1.0M122.9 612.9h1.0M124.1 614.7h1.0M127.9 654.9h1.0M123.7 676.2h1.0M137.8 624.6h1.0M140.2 660.9h1.0M122 605h1.0M138.3 665.3h1.0M130.2 634h1.0M128.4 666.6h1.0M123.3 640.3h1.0M141.9 634h1.0M134.5 643.6h1.0M141.8 692.5h1.0M130.1 649.3h1.0M138.8 664.2h1.0M138.9 672.2h1.0M127.1 667.6h1.0M130.3 659.3h1.0M128.1 666.9h1.0M87.2 661.4h1.0M96.1 656.4h1.0M75.4 651.2h1.0M53.2 646.4h1.0M68.3 645.3h1.0M75.3 659.9h1.0M89.5 658h1.0M89.6 645.9h1.0M71.6 655.8h1.0M58 638h1.0M87.1 648.1h1.0M64.5 640.6h1.0M58.5 637.9h1.0M92.6 652h1.0M80.1 661.5h1.0M63.1 658.8h1.0M53.5 648h1.0M73.4 655.6h1.0M57.7 654.1h1.0M82.8 664.6h1.0M53.1 642.4h1.0M83.6 667.3h1.0M81.1 672.1h1.0M70.3 654h1.0M88.4 645.9h1.0M71 657.5h1.0M77.3 672.8h1.0M54.7 648h1.0M52.9 647.2h1.0M56.1 639.3h1.0M52.2 645.9h1.0M56 649.6h1.0M88.8 653.7h1.0M63.8 644.4h1.0M74.8 659.2h1.0M52.8 649.7h1.0M76.9 643.1h1.0M65.5 655.4h1.0M84.2 648.6h1.0M82.9 664.2h1.0M94.1 661.1h1.0M77.4 655.3h1.0M60.1 646.2h1.0M64.6 651.5h1.0M87.5 666.5h1.0M71.8 657.5h1.0M86.3 656.9h1.0M63.9 642h1.0M64.1 656h1.0M92.1 649.9h1.0M80 667.2h1.0M74.4 670.7h1.0M82 648.1h1.0M84.7 662.7h1.0M88 653.9h1.0M68.9 640.7h1.0M88.5 666.5h1.0M64 660h1.0M67.1 640.3h1.0" stroke="#f59222" stroke-width="1.0" fill="none"/>
<path d="M136.1 660.2h1.0M124.1 623.8h1.0M126.1 640.1h1.0M135.5 641.4h1.0M136.3 657.8h1.0M132.1 643.2h1.0M140.1 694.8h1.0M136.2 646.1h1.0M135.5 634.8h1.0M126.1 616.9h1.0M139.8 661.8h1.0M137.8 696.7h1.0M133.1 656.8h1.0M134.5 636.7h1.0M133.2 654.8h1.0M134.1 668.9h1.0M133.9 695.9h1.0M131.2 636.4h1.0M134.7 658.3h1.0M138.8 659.3h1.0" stroke="#b0b0b0" stroke-width="1.0" fill="none"/>
<path d="M68.1 663.4h1.0M83.6 670.5h1.0M86.8 654.7h1.0M79.2 666.1h1.0M83.1 656.1h1.0M72.7 650.6h1.0M64.9 652.4h1.0M66.2 653.5h1.0M84.4 646.7h1.0M92.5 653.2h1.0M82.4 656.7h1.0M87.8 647.2h1.0M75.6 659.8h1.0M85.7 664.8h1.0M74.2 642.4h1.0M87.9 646.1h1.0M87.3 662.3h1.0M69.8 662.1h1.0M70 655.6h1.0M69.9 665.7h1.0M79.4 660.5h1.0M63.3 657.2h1.0M74.1 647.9h1.0M66.7 652.2h1.0M85.1 663.7h1.0M87.9 668.5h1.0M60.3 647.4h1.0M78 671.5h1.0M76.3 648.9h1.0M89.8 663h1.0M78 669.6h1.0M75.9 665.9h1.0M67.9 657.3h1.0M86.7 660.6h1.0M53.3 649.8h1.0M70.5 658h1.0M72.1 651h1.0M79.8 664.6h1.0M94.3 654.7h1.0M77.2 653.5h1.0M82.5 651h1.0M76.1 643.7h1.0M76.7 667.5h1.0M73.7 646.8h1.0M63.4 637h1.0M59.9 656.9h1.0M64.9 651.6h1.0M94.7 651.1h1.0M69.9 659.1h1.0M61.8 637.6h1.0M58.5 642.1h1.0M84 649.1h1.0M61.6 641.6h1.0M61 644.5h1.0M69.5 645.7h1.0M80.7 650h1.0M61.6 639.8h1.0M60.8 640.2h1.0M87.8 666.8h1.0M89.2 650.7h1.0M78.8 643.6h1.0M90.2 649.3h1.0M75.1 664.4h1.0M60.7 637.5h1.0M76.9 672h1.0M75.5 670.6h1.0M69.8 661.3h1.0M58.2 649.6h1.0M85.2 660.5h1.0M90.8 652.2h1.0M63 659.7h1.0M69.7 641.4h1.0M85.2 663.2h1.0M91.2 660.5h1.0M70.9 644.3h1.0M65.3 644.1h1.0M74.5 649.4h1.0" stroke="#b0b0a0" stroke-width="1.0" fill="none"/>
<path d="M87.8 664.5h1.0M66.5 646.8h1.0M91.4 653.2h1.0M93.1 653.2h1.0M58.6 648.3h1.0M52.7 640h1.0M81.1 661.8h1.0M70.9 668.1h1.0M82.1 662.2h1.0M76.6 644.9h1.0M71.2 666.4h1.0M84.6 661.5h1.0M57.5 640.3h1.0M80.4 650.6h1.0M60.6 639.8h1.0M60.5 647.9h1.0M95.4 656h1.0M71.8 643.3h1.0M66.4 643.3h1.0M80.3 668.1h1.0M72.8 643.6h1.0M67.6 652.6h1.0M71.8 648.4h1.0M63.1 646.7h1.0M75 646.6h1.0M63.2 655.2h1.0M52.7 638.6h1.0M66.8 655.2h1.0M88 645.5h1.0M91.7 652h1.0M79.9 654.8h1.0M62.4 653.4h1.0M80 669.7h1.0M90.4 667.6h1.0M85.6 654.3h1.0M68.7 649.8h1.0M77.5 657.1h1.0M60.5 648.5h1.0M79.3 647.1h1.0M77.8 661.4h1.0M75.5 665.2h1.0M86.2 660.7h1.0M91 662.2h1.0M82.8 655.2h1.0M63.7 641.2h1.0M76.6 641.4h1.0M66.1 651.4h1.0M84.1 651.5h1.0M87.8 654.3h1.0M88.4 661.8h1.0M76.6 648.8h1.0M55.8 646.5h1.0M68.2 654.6h1.0M74.3 662.4h1.0M66 663h1.0M65.5 643.6h1.0M82.3 666.7h1.0M68.1 641.3h1.0M75.6 657.5h1.0M86 657.6h1.0M72.3 666.8h1.0M92.1 662.5h1.0M92.9 663.6h1.0M64.1 646.4h1.0M89.9 657.7h1.0M61.2 657.8h1.0M81.5 668.5h1.0M68.6 659h1.0M85.7 659.3h1.0M53.4 645h1.0M78.6 665.3h1.0M69.2 643.6h1.0M51.3 648.1h1.0M67.5 656.4h1.0M86.4 649.3h1.0M84.9 658.3h1.0M79.4 660.1h1.0M89 668.1h1.0M55.3 639.4h1.0" stroke="#3cb02a" stroke-width="1.0" fill="none"/>
<path d="M84.2 573.7 L92.6 572.3 L99.1 574.6 L104.7 580.2 L108.4 589.5 L111.2 600.7 L114.9 611.8 L116.8 623.9 L115.9 635.1 L112.1 642.5 L99.1 645.3 L85.2 644.4 L71.2 641.6 L60.1 636.0 L55.4 628.6 L57.3 619.3 L59.6 610.0 L62.4 598.8 L66.6 587.7 L74.0 579.3Z" fill="#7ad45e" fill-opacity="0.95" filter="url(#bl)"/>
<path d="M157.6 594.3 L163.2 592.4 L169.7 596.1 L177.2 604.5 L183.7 614.7 L187.4 623.1 L189.7 636.1 L190.6 649.1 L188.3 660.3 L183.7 668.7 L176.2 677.0 L167.9 680.8 L158.6 680.8 L153.9 676.1 L150.2 667.7 L146.5 658.4 L144.6 647.3 L144.6 635.2 L146.5 621.2 L150.2 608.2 L153.9 598.9Z" fill="#76d25a" fill-opacity="0.95" filter="url(#bl)"/>
<path d="M103.8 612.3h1.0M81.2 625.5h1.0M76.2 595.1h1.0M80.3 631.5h1.0M70.4 642.4h1.0M84 581.1h1.0M82.7 590.1h1.0M93 618.2h1.0M88.1 587.5h1.0M89 582.9h1.0M62.5 638h1.0M85.5 576.4h1.0M74.5 622h1.0M96 617.5h1.0M101.8 582.4h1.0M89.2 597.6h1.0M95.2 576.9h1.0M98.5 618.5h1.0M75.1 610.4h1.0M89.9 628.4h1.0M84.1 597.2h1.0M94.7 612.8h1.0M77 639.1h1.0M116.3 615h1.0M97.8 585.1h1.0M76.1 606.4h1.0M112 641.9h1.0M67 636.8h1.0M83.8 590.2h1.0M67.6 594.5h1.0M61.3 610.5h1.0M102.9 614.7h1.0M59 625.4h1.0M67.5 602.9h1.0M101.6 599.9h1.0M104.5 620.9h1.0M112.3 640.4h1.0M105.1 608.1h1.0M92.3 610.7h1.0M85.1 581h1.0M110.8 618.5h1.0M81.5 598.1h1.0M105.2 645.9h1.0M96.3 608h1.0M93.8 571.8h1.0M105.9 646.2h1.0M84.4 608h1.0M101.5 596.3h1.0M112.3 643.8h1.0M100.7 626.4h1.0M92.4 614.2h1.0M74.5 590.6h1.0M76.8 628.3h1.0M89.7 628.1h1.0M77.8 624.3h1.0M115.4 639.4h1.0M96.5 585.4h1.0M74 610.9h1.0M75.1 599h1.0M92.5 594.9h1.0M78.2 601.9h1.0M72 639.2h1.0M111 617h1.0M106.3 591.6h1.0M82 585.7h1.0M103.8 606.3h1.0M104.1 590h1.0M71.6 616.8h1.0M94.9 601.6h1.0M93.4 602h1.0M80.5 580.9h1.0M65.2 632.8h1.0M70.9 589.4h1.0M63.6 607.7h1.0M72.8 585.1h1.0M92.7 646.3h1.0M97.6 600.2h1.0M90.8 579h1.0M89.2 590.8h1.0M86.5 642.6h1.0M66.5 639.9h1.0M75.8 576.7h1.0M104 604.1h1.0M91.7 577h1.0M83.3 580.3h1.0M98.4 583.8h1.0M92.4 590.8h1.0M70.8 642h1.0M81.3 599.3h1.0M65.1 608.3h1.0M98.3 576.1h1.0M85 621.4h1.0M95.7 639.7h1.0M112.9 637.3h1.0M90.4 610.2h1.0M91.4 591.6h1.0M94.8 641.8h1.0M71.4 632.7h1.0M55.3 632h1.0M112.4 633.6h1.0M94.4 590.1h1.0M71.7 603.1h1.0M103.6 622.9h1.0M110 622.3h1.0M77.7 597.1h1.0M104.6 630.8h1.0M69.7 601.4h1.0M99.9 645.1h1.0M74.9 580.3h1.0M89.6 615h1.0M65.5 600.3h1.0M58.6 628.1h1.0M67.8 633.9h1.0M68.8 596.7h1.0M105.5 602.2h1.0M93.7 597.6h1.0M68.1 597h1.0M70.3 614.1h1.0M67.8 590.3h1.0M86 630h1.0M88.5 630.7h1.0M79.2 575h1.0M77.9 579.6h1.0M111.3 628.8h1.0M64.1 635.2h1.0M101.6 635.5h1.0M108.8 633.8h1.0M101.6 577.6h1.0M106 611.4h1.0M77.6 618.7h1.0M104.8 605.5h1.0M67.8 590.2h1.0M113.5 619.3h1.0M79.1 593.2h1.0M86.1 633.7h1.0M110.7 644.3h1.0M77 619.4h1.0M99.4 603.7h1.0M107.5 626.3h1.0M83.7 597.9h1.0M72.6 601.7h1.0M111.1 605.3h1.0M107.4 612.9h1.0M73 587.7h1.0M57.3 632.4h1.0M66.1 642.3h1.0M79.1 621.4h1.0M83.4 599.6h1.0M76.1 606.4h1.0M110.5 628.5h1.0M111.4 629.6h1.0M99.2 646.9h1.0M88.5 623.6h1.0M85.8 636.6h1.0M115.1 633.2h1.0M100.2 603.8h1.0M90.8 633.7h1.0M113.9 608.8h1.0M102.9 623.7h1.0M96.2 588.8h1.0M70.3 601.6h1.0M71 597.6h1.0M67.1 606.7h1.0M94.1 598.3h1.0M95.2 575.7h1.0M89.9 605h1.0M99.2 637.9h1.0M114.3 644.3h1.0M81.4 590.5h1.0M69.6 617.2h1.0M101.6 628.8h1.0M105.1 600.5h1.0M80.6 610.8h1.0M81.8 612.6h1.0M109.4 637.3h1.0M84.6 608.3h1.0M79.3 640.4h1.0M94.3 614.6h1.0M87.2 591.9h1.0M86.2 619.9h1.0M64.4 588.5h1.0M85.2 624.3h1.0M91.8 571.7h1.0M57.1 623.3h1.0M86.3 619.2h1.0M97.7 587.6h1.0M82.1 600.5h1.0M115.4 613.3h1.0M80.6 616.6h1.0M95 636.6h1.0M91.1 604.6h1.0M60.4 638.6h1.0M74.5 640.9h1.0M92.1 647.8h1.0M107.1 613.9h1.0M104 595.8h1.0M62 631.1h1.0M72 627.1h1.0M100.8 575.4h1.0M87.1 581.3h1.0M73.1 600h1.0M95.5 590.3h1.0M77.9 630h1.0M106.8 601.8h1.0M78.5 623.4h1.0M103.8 582.9h1.0M85.9 592.5h1.0M59.6 627.2h1.0M74.7 610.6h1.0M104.6 594h1.0M89.5 616.5h1.0M104.4 634.9h1.0M104.5 586.7h1.0M100.5 645.5h1.0M113.6 624.7h1.0M115.3 636.5h1.0M86 580.6h1.0M103.4 641.9h1.0M110 612h1.0M63.9 609.2h1.0M86.4 589.6h1.0M100 641.2h1.0M74.5 614.3h1.0M92.9 626.2h1.0M110.5 642.3h1.0M79.6 636.8h1.0M109.3 609.8h1.0M97 632.5h1.0M79.4 636.3h1.0M82.9 618.4h1.0M111 611.1h1.0M60.3 607.9h1.0M67.8 637.9h1.0M82.7 575.6h1.0M77.3 590.7h1.0M65.9 632.3h1.0M82.7 575.5h1.0M71.6 623.3h1.0M89 593.9h1.0M64.2 637.4h1.0M91.3 582.4h1.0M81 622.8h1.0M84.9 596.4h1.0M86 589.3h1.0M90.5 605.5h1.0M113 605.4h1.0M161.8 612.6h1.0M169.8 674.7h1.0M158.9 656.2h1.0M153.8 655.9h1.0M168.1 667.5h1.0M188.1 665.8h1.0M153 643.3h1.0M154.7 659h1.0M159.7 682.6h1.0M186.7 635.9h1.0M164.5 643.1h1.0M168.7 597.7h1.0M146.8 631.5h1.0M155.3 619.6h1.0M173.2 668.3h1.0M170.4 669.9h1.0M172.6 598.2h1.0M165 663.2h1.0M153 627.6h1.0M160.1 614.2h1.0M161.2 610h1.0M172.1 599.3h1.0M150.8 663.4h1.0M176.1 678.5h1.0M174 678.4h1.0M185.1 663.7h1.0M179.6 664.1h1.0M151.6 632.2h1.0M187.3 664.4h1.0M158.9 647.5h1.0M180.7 654.7h1.0M150.8 621.2h1.0M172.1 646.2h1.0M172.8 642.7h1.0M177.3 663.7h1.0M160.2 592.2h1.0M171.1 598.2h1.0M149.9 667.1h1.0M189 662.3h1.0M149.1 662.6h1.0M144.8 635.3h1.0M183.5 616.2h1.0M184 658.6h1.0M173.3 659.2h1.0M154.6 608.3h1.0M165.7 676.9h1.0M171.5 642.8h1.0M147.8 612.2h1.0M145.9 653.4h1.0M151.3 655.3h1.0M186.8 662.4h1.0M160.3 609.5h1.0M175.6 672.7h1.0M155.4 668.9h1.0M174.6 629h1.0M179.4 656.4h1.0M151.7 651.7h1.0M156.9 632.9h1.0M174.8 604h1.0M178.3 650.9h1.0M147.4 614.1h1.0M161 634.4h1.0M158.6 671.7h1.0M168.5 677.7h1.0M168.2 644.2h1.0M186 626.1h1.0M147 664.4h1.0M171.3 645.8h1.0M160 609h1.0M183 615.8h1.0M178.9 636.3h1.0M172 615.4h1.0M163.3 614.8h1.0M169.8 676.1h1.0M145.3 631.2h1.0M180.1 641.4h1.0M183.4 666.6h1.0M180 620.6h1.0M166.7 655.7h1.0M186.9 627.2h1.0M157.1 678.2h1.0M150.9 657.8h1.0M188.2 629.3h1.0M178.3 634.3h1.0M161.8 654.4h1.0M165.9 604.2h1.0M174 676h1.0M168.2 661.8h1.0M167.1 670h1.0M163.7 643.7h1.0M180.3 645.9h1.0M189.9 653.7h1.0M163.3 600.5h1.0M162.6 639.7h1.0M173 646.8h1.0M163.8 625.1h1.0M148.8 642.1h1.0M159.8 613.6h1.0M150.8 625.1h1.0M178.8 644.7h1.0M170 680.1h1.0M186.5 647.7h1.0M174.4 602.1h1.0M172.7 640.3h1.0M167 682.9h1.0M166.3 609.5h1.0M175.5 630.4h1.0M168.7 653h1.0M177.3 618h1.0M163.2 647.1h1.0M149.3 634.3h1.0M158 652.2h1.0M171.2 680.3h1.0M156.2 677h1.0M167.6 660.2h1.0M153.9 624.8h1.0M153.9 612.3h1.0M172.1 601.2h1.0M156.2 624.6h1.0M174.5 637.5h1.0M159.3 606.1h1.0M169.6 672.3h1.0M148.4 647.6h1.0M174.9 615.7h1.0M172.7 633h1.0M156.1 647.5h1.0M157.2 596.8h1.0M169.1 660.3h1.0M155.8 641.9h1.0M152.3 667.9h1.0M181.5 655.4h1.0M162.2 592.6h1.0M147.7 650.4h1.0M167.1 637.9h1.0M151.3 629.2h1.0M148.6 655.7h1.0M190.6 652.4h1.0M152.2 611.5h1.0M155.7 680.2h1.0M154.8 634.5h1.0M156.5 644.8h1.0M166.7 597h1.0M159.6 683h1.0M176.9 656.2h1.0M158.7 672.7h1.0M149.3 617.4h1.0M162.4 619.3h1.0M144.9 638.3h1.0M178.4 673.9h1.0M170.1 625.8h1.0M161.1 623.3h1.0M184.8 668.1h1.0M185.4 618.2h1.0M183.9 624.4h1.0M182.7 629.9h1.0M169.8 598h1.0M171.1 627.8h1.0M165.3 592.1h1.0M155.3 602.4h1.0M187.4 645.6h1.0M159.2 655.5h1.0M173.6 600.3h1.0M164.9 673.6h1.0M171.5 649.5h1.0M183.4 667h1.0M185.4 669h1.0M175 648.2h1.0M149 612.2h1.0M181.6 623h1.0M146.2 625.7h1.0M180.1 660.5h1.0M148.3 629.5h1.0M181.1 657.1h1.0M175.8 664h1.0M186.7 651.9h1.0M148 622.3h1.0M148.1 618.7h1.0M172.1 602.7h1.0M179.5 622.7h1.0M156.5 667.6h1.0M154.5 628.1h1.0M158 646.7h1.0M175.8 634.7h1.0M174 633h1.0M152.4 639.3h1.0M179.6 636.5h1.0M158.6 683.4h1.0M157.7 622.4h1.0M168.1 603.2h1.0M157.1 668.9h1.0M156.4 637.5h1.0M158 598.7h1.0M189.1 652.2h1.0M174.9 629.9h1.0M172.6 658.8h1.0M170.2 680h1.0M174.8 635.4h1.0M148.5 636.9h1.0M177.6 629.7h1.0M148.6 628.7h1.0M158.2 666.6h1.0M182.2 661.7h1.0M162.5 627.1h1.0M178.5 620.6h1.0M191.3 652.6h1.0M159.9 674.7h1.0M145.3 660.4h1.0M178.7 663.2h1.0M183.4 627.7h1.0M170.4 615.2h1.0M165.5 666.3h1.0M182.8 673.1h1.0M178.8 646.7h1.0M172.4 672.8h1.0M170 614h1.0M149.7 661.5h1.0M153 630.7h1.0M148.8 641h1.0M151.4 669.4h1.0M147.9 643h1.0M153.8 628.8h1.0M156.3 634.2h1.0M149.3 648.3h1.0M156.9 646h1.0M144.5 652h1.0M152.3 643.8h1.0M157.2 672.9h1.0M153.1 639.9h1.0M157.7 640.2h1.0M145.7 655.5h1.0M155.2 675h1.0M158.1 650.8h1.0M145.2 654.4h1.0M147.6 668.1h1.0M152.8 665.2h1.0M158.9 659h1.0M157 672.9h1.0M154.4 667.3h1.0M148.2 630.2h1.0M155.6 656.5h1.0M150.5 640h1.0M152.1 663.5h1.0M150.2 663.6h1.0M158.1 650h1.0M156.8 655.5h1.0M155.4 671.3h1.0M146.3 649.4h1.0M153 645.7h1.0M155.3 644.1h1.0M145 647.4h1.0M154.2 667h1.0M145 655.2h1.0M157.4 666.8h1.0M146.8 648.9h1.0M144.3 643.4h1.0M149.1 669.9h1.0M156.1 649.2h1.0M147.1 667.3h1.0M152 636.5h1.0M147 648h1.0M150 635.7h1.0M156 652.6h1.0M153.4 675.3h1.0M158.6 656.7h1.0M155.5 650.1h1.0M158.2 647.1h1.0M146.9 645.1h1.0M154.1 650.7h1.0M152.2 658h1.0M149.8 664.6h1.0M153.9 656.8h1.0M155.4 674.9h1.0M153.9 662.4h1.0M151.1 656.8h1.0M156.7 648.7h1.0M153.1 673.6h1.0M155.1 635.7h1.0M149.2 651.2h1.0M145.4 652.3h1.0M159.5 655.3h1.0M157.8 659.6h1.0M144.8 646.5h1.0M150.5 635h1.0M145.3 652h1.0M150.4 647.7h1.0M149.6 654.9h1.0M156.4 657.1h1.0M157.2 673.1h1.0M152.6 636.1h1.0M149 669.1h1.0M157.1 663.3h1.0M156.2 657.8h1.0M147.9 654.9h1.0M157.7 642.7h1.0M152.5 659h1.0M154.3 662.7h1.0M155.6 645.1h1.0M150.5 660.2h1.0M149.8 643.9h1.0M153.2 641.1h1.0M148.6 633.5h1.0M151.1 638.7h1.0M146.3 647.5h1.0M154.5 651.9h1.0M152.6 654.2h1.0M151.9 668.9h1.0M149.1 654.6h1.0M157.2 665h1.0M148.1 665h1.0M145.8 635.9h1.0M147.1 645.9h1.0M152 644.5h1.0M156.8 652.4h1.0M146.3 647h1.0M157.1 666.6h1.0M145.2 650.5h1.0M145.4 636.5h1.0M150.4 646.2h1.0M158.4 646.6h1.0M156.3 654.4h1.0M150.7 663.5h1.0M145.6 639.2h1.0M156 662.8h1.0M149.3 665.3h1.0M146.3 631h1.0M152.6 661.9h1.0M149.6 671.7h1.0M150.5 659.5h1.0M153.4 665.6h1.0M154 637.7h1.0M148.1 638h1.0M152.4 629h1.0M146.3 639.7h1.0M144.8 657.4h1.0M156.9 640.6h1.0M149.1 658.5h1.0M154.6 664.3h1.0M155.4 665h1.0M152.8 667.6h1.0M149.8 632h1.0M151.5 670.1h1.0M151.2 640.4h1.0M156.5 642.4h1.0M147.3 651.1h1.0M154.3 632.1h1.0M156.7 634.7h1.0M145.5 654.9h1.0M148 652.6h1.0M150.2 632.8h1.0M146.6 639.2h1.0M152.3 660.9h1.0M146.4 631.4h1.0M158.4 659.5h1.0M157.8 644.6h1.0M146.9 643.8h1.0M149.7 664.1h1.0M144.7 644.5h1.0M146.5 650.8h1.0M148.8 645.9h1.0M150.8 647.3h1.0M149.3 648.5h1.0M158.1 651.7h1.0M155.7 670.9h1.0" stroke="#3cb02a" stroke-width="1.0" fill="none"/>
<path d="M95.1 645.3h1.0M70.4 620h1.0M70.3 641.3h1.0M107.4 589.6h1.0M93.7 600.4h1.0M105.1 592.4h1.0M114.8 613.8h1.0M57.9 613.3h1.0M64.8 614.6h1.0M69.7 634.3h1.0M76.6 645.2h1.0M97.5 639.6h1.0M102.8 607.1h1.0M96.1 582.1h1.0M77 627.1h1.0M79.8 623.3h1.0M73.4 597.7h1.0M116.1 615.7h1.0M110.5 635.1h1.0M60.8 635h1.0M74.6 617.7h1.0M73.1 608.8h1.0M78.4 601.7h1.0M97.8 582.3h1.0M104.4 636.3h1.0M72 609.9h1.0M70.6 582.8h1.0M74.8 578.1h1.0M83 644.7h1.0M66.3 623.8h1.0M91.6 594.3h1.0M96.9 600.4h1.0M89.8 587.5h1.0M114.5 642.1h1.0M87.3 604.7h1.0M115.1 635.9h1.0M98 621.7h1.0M100.6 614.6h1.0M112.6 610.6h1.0M105.5 616.9h1.0M74.1 615.7h1.0M56.1 626.6h1.0M89.8 600.9h1.0M67.5 631h1.0M65.9 599.8h1.0M63 602.5h1.0M106.2 593.5h1.0M71.4 602.6h1.0M103.1 617.8h1.0M99.3 633.4h1.0M88 602.8h1.0M79.3 586.4h1.0M99.5 635.3h1.0M56.1 626.7h1.0M89.1 595h1.0M97.8 620.2h1.0M118.6 629.1h1.0M103.5 598.6h1.0M102.1 582.1h1.0M71.8 602.2h1.0M81.6 582.2h1.0M113.3 607.8h1.0M115 630.3h1.0M58.7 632.5h1.0M66.1 587.3h1.0M99.9 630.7h1.0M109.8 606.2h1.0M64.7 597.4h1.0M98.2 588.3h1.0M91.9 600.9h1.0M76 630.5h1.0M64 638.3h1.0M72.1 597.5h1.0M104.7 594.9h1.0M112.7 603.7h1.0M76.7 636.7h1.0M88.3 574.5h1.0M97.9 575.9h1.0M95.3 594.3h1.0M106.2 634h1.0M73.9 603.9h1.0M79.8 592.4h1.0M106.7 620.1h1.0M99.3 602.9h1.0M112.7 624.2h1.0M62.1 625.7h1.0M114.7 622.2h1.0M110.8 596h1.0M186.4 666.5h1.0M164.4 681.8h1.0M150.9 622.7h1.0M182.8 637.7h1.0M156.3 626.1h1.0M167.9 653h1.0M160.4 601.2h1.0M176.1 626h1.0M177.9 613.5h1.0M165 665h1.0M176.3 616h1.0M162.2 629.1h1.0M163.5 669.4h1.0M179.7 656.5h1.0M172 679.3h1.0M183.8 672.8h1.0M168.4 673.9h1.0M175.2 608.3h1.0M181.5 663h1.0M177.9 605.7h1.0M175.8 666.3h1.0M162.2 670.6h1.0M159.6 681.6h1.0M170.4 604h1.0M182.6 624.2h1.0M182.4 658.8h1.0M173.4 647.4h1.0M145.9 644.8h1.0M175.9 661.3h1.0M183.1 645h1.0M156.2 656.9h1.0M191.7 646.4h1.0M173 648.6h1.0M189.7 652.1h1.0M189.5 642.9h1.0M187.2 651.1h1.0M170.6 596.5h1.0M166.6 665.3h1.0M161.1 679.4h1.0M154.7 675.7h1.0M160.8 648.1h1.0M158.6 666.2h1.0M170.9 617.4h1.0M162.8 676.9h1.0M154.5 652.8h1.0M183.5 655.2h1.0M175.2 639.2h1.0M167.6 633.9h1.0M175.3 639.3h1.0M152.2 637.6h1.0M157.3 592h1.0M169.5 633.1h1.0M163.7 622.5h1.0M154.8 671.1h1.0M151.3 649.2h1.0M160.4 679.4h1.0M173.2 672.2h1.0M158.9 619.1h1.0M147.2 645.5h1.0M145 636.1h1.0M171.8 668.3h1.0M151.1 639.7h1.0M166.5 647.2h1.0M186.8 622.9h1.0M146.6 624h1.0M181.1 660.1h1.0M174.7 630.9h1.0M158.9 663.9h1.0M159.4 671h1.0M171.2 630h1.0M153 621.9h1.0M156.5 623.1h1.0M187.3 653.3h1.0M155.7 630.7h1.0M169.6 668.1h1.0M167 599.4h1.0M180.4 662h1.0M165 655.8h1.0M159.6 675.9h1.0M191.5 641.6h1.0M168.5 681.4h1.0M173.6 615.3h1.0M172.5 672.1h1.0M183.7 649.4h1.0" stroke="#1c4a12" stroke-width="1.0" fill="none"/>
<path d="M103.2 587h1.0M67.6 625.7h1.0M85.7 643.8h1.0M76.6 633.9h1.0M63.8 638.7h1.0M86.8 615.7h1.0M82.8 578.2h1.0M59.3 628.9h1.0M105.3 629.8h1.0M69.6 632.5h1.0M76.6 645.7h1.0M77.3 604.1h1.0M91.4 595.2h1.0M86.5 594.7h1.0M72.1 590.1h1.0M97.8 596.4h1.0M104.9 623.4h1.0M89.6 642.1h1.0M87.2 592.1h1.0M86 572.8h1.0M88.6 640.8h1.0M83.4 591.6h1.0M99.4 618.7h1.0M109.2 614.6h1.0M70.6 635.5h1.0M110.8 623.8h1.0M76.6 623.9h1.0M76.7 575.9h1.0M81.1 617.8h1.0M112.3 598.6h1.0M94.9 574.8h1.0M115.5 626.3h1.0M78.6 637.1h1.0M94.6 604.5h1.0M80.8 629.3h1.0M80.6 601.6h1.0M81.6 594.9h1.0M71.5 622.6h1.0M99.7 592.9h1.0M106.5 623h1.0M93.1 621.5h1.0M61.5 623.9h1.0M93.9 604.3h1.0M61 638.3h1.0M110.8 593.1h1.0M58.3 608.2h1.0M89.8 603h1.0M101.5 582.8h1.0M118.4 621.8h1.0M79.8 575.9h1.0M107.5 629.9h1.0M105.5 621.4h1.0M80.1 616.8h1.0M115.6 609.8h1.0M63.1 636.8h1.0M92.4 578.9h1.0M95.8 577h1.0M112.1 614.4h1.0M58.8 636.5h1.0M79.8 626.6h1.0M74.7 607.4h1.0M102.4 575.7h1.0M97.3 601.4h1.0M98.4 610h1.0M82.7 644.6h1.0M108 631.8h1.0M74.5 628.1h1.0M79.2 605.8h1.0M104.4 610.4h1.0M85.5 629.3h1.0M86.5 615.8h1.0M73.7 597.8h1.0M62.5 633.3h1.0M59.5 626.8h1.0M112.2 598.4h1.0M87 630.4h1.0M75.8 578.9h1.0M97 590h1.0M72.8 611.3h1.0M104.3 578.8h1.0M90.2 577.1h1.0M97.4 604.6h1.0M76.9 638.7h1.0M82.6 589.1h1.0M95 596.6h1.0M89.2 580.3h1.0M100.2 615.7h1.0M69 627.7h1.0M116.3 615.5h1.0M93.1 628.5h1.0M106.9 604.3h1.0M77.9 611.5h1.0M96.3 609.9h1.0M86.2 627.3h1.0M90.3 624h1.0M82.4 605.7h1.0M73.5 580.5h1.0M100.8 647.1h1.0M109.4 601.4h1.0M107.9 629.8h1.0M90.1 633.1h1.0M78.2 597.6h1.0M92.9 572.7h1.0M91 584.5h1.0M108.6 613.3h1.0M94.1 602.4h1.0M102.7 620h1.0M86.7 621.5h1.0M75.7 604h1.0M83.2 585.8h1.0M114.8 626.6h1.0M76.8 576.1h1.0M110.6 595.2h1.0M86.3 612.7h1.0M88.7 605.7h1.0M79.5 583.1h1.0M95.9 629.4h1.0M109 604.3h1.0M58 631.9h1.0M71.7 635.5h1.0M71.4 608.1h1.0M111.9 626.8h1.0M108.5 628.7h1.0M117.8 632.9h1.0M83.1 581.1h1.0M84.6 610.3h1.0M54.7 624.3h1.0M103.5 625h1.0M97.2 616.6h1.0M69.9 601.7h1.0M86.2 588.6h1.0M89.6 612.8h1.0M69.9 626.4h1.0M68 628.7h1.0M111.2 633.3h1.0M76.6 634.1h1.0M88 597.1h1.0M77.2 644.8h1.0M98.8 634.7h1.0M111.7 635.2h1.0M108.1 606.8h1.0M88.2 597.6h1.0M86.4 623.6h1.0M99.2 624.8h1.0M58.4 626.2h1.0M94.7 610.2h1.0M81.8 582.2h1.0M82.1 628.1h1.0M98.1 590.5h1.0M106.6 602.8h1.0M110.9 593.3h1.0M89.7 627h1.0M103.8 611.2h1.0M79.9 597h1.0M118.4 628.8h1.0M102 608.8h1.0M101 598.9h1.0M65.6 589.2h1.0M63.8 629.8h1.0M104.9 638.5h1.0M59.9 625.7h1.0M91.6 587.3h1.0M80.3 581.6h1.0M110.6 643h1.0M107.6 613.2h1.0M105.4 640.2h1.0M92.3 596.5h1.0M78.8 630.5h1.0M113.6 604h1.0M77.3 612.7h1.0M72.6 599.2h1.0M89.2 601.4h1.0M106.7 611h1.0M82.8 619h1.0M70.7 639.8h1.0M101.6 623.3h1.0M75.3 619.2h1.0M114.3 611.5h1.0M97 607.9h1.0M64.8 602.6h1.0M81.5 590.1h1.0M97.6 602.3h1.0M99.7 630.5h1.0M73.5 615.7h1.0M104.4 585.3h1.0M82.5 614.8h1.0M118 624.6h1.0M116.7 623.9h1.0M91.6 645.9h1.0M65.5 639.4h1.0M105.9 586.9h1.0M68.7 633h1.0M77.2 626.7h1.0M87.6 625.1h1.0M85.9 622.6h1.0M110 591.9h1.0M110.3 610.5h1.0M99.6 600.3h1.0M77.9 624.8h1.0M69.2 630.5h1.0M85.7 594.3h1.0M103.5 578h1.0M78 587.2h1.0M100.4 589.1h1.0M112.4 610.3h1.0M89.7 647h1.0M86.4 576.6h1.0M97.5 633.3h1.0M82.7 641.8h1.0M70.5 625.8h1.0M85.7 591.6h1.0M112.3 629.3h1.0M107.7 642.4h1.0M73.9 592h1.0M106.3 588.4h1.0M67.6 622.1h1.0M108.3 616.7h1.0M78.9 592.9h1.0M108 585.1h1.0M87.6 590.9h1.0M88.5 633.6h1.0M93.9 613.2h1.0M105.7 605.7h1.0M67.9 639.9h1.0M81 634.8h1.0M93.3 583.7h1.0M108 631.6h1.0M98.4 620.1h1.0M66 641.8h1.0M106.1 579.8h1.0M79.2 620.5h1.0M95 626.7h1.0M111.6 604.2h1.0M86.5 574.2h1.0M107.8 595.2h1.0M75.7 633.4h1.0M88.9 646.9h1.0M66.8 587.7h1.0M92.5 643.5h1.0M86.5 642h1.0M105.4 633.4h1.0M98.5 624.3h1.0M104.8 584.5h1.0M98 641.7h1.0M68.9 637.4h1.0M86.1 586.1h1.0M91.9 644.4h1.0M61 598.4h1.0M96.4 643.6h1.0M98.3 604.6h1.0M91.8 601.7h1.0M85.5 593.1h1.0M63 609.2h1.0M92.6 587.3h1.0M91.9 625.5h1.0M69.3 644.1h1.0M59.6 619.9h1.0M73.9 592.2h1.0M86.9 575.9h1.0M67 613.8h1.0M65.3 600.1h1.0M65.8 595.2h1.0M75.7 579.1h1.0M87.7 617.5h1.0M115.2 625.1h1.0M70.5 625.2h1.0M60.4 608.7h1.0M73.8 622.8h1.0M111.7 630.2h1.0M97.2 581.9h1.0M84.4 640.4h1.0M68.7 593.5h1.0M76.1 606.8h1.0M92.1 642h1.0M72.6 611.9h1.0M93.4 584.9h1.0M87.4 628.9h1.0M99.6 599.3h1.0M65.9 621h1.0M95 622.1h1.0M112.7 627h1.0M95.7 596.1h1.0M89.1 603.1h1.0M62.8 630.4h1.0M74.2 580h1.0M65.8 613.4h1.0M96.5 611.9h1.0M118.7 628.2h1.0M66.3 612.2h1.0M95.9 610.7h1.0M109.9 591.4h1.0M72.3 606.5h1.0M86.2 584.9h1.0M68.1 602.3h1.0M91.2 606.5h1.0M65.4 586.5h1.0M77.4 631.6h1.0M81.2 635.6h1.0M83.7 621.2h1.0M91.9 573h1.0M94.1 646.6h1.0M109.6 639.8h1.0M95.8 638.4h1.0M60.5 622.2h1.0M83 612.7h1.0M63.9 597.7h1.0M91.4 629.2h1.0M64.1 602.5h1.0M107 622.3h1.0M65.9 621.3h1.0M81.4 577.1h1.0M101.7 575.3h1.0M72.9 593.6h1.0M97.5 601.7h1.0M64.7 598.9h1.0M109.2 599.4h1.0M105.9 593.7h1.0M65.8 641.4h1.0M92 632.3h1.0M85.3 625.9h1.0M65.8 591.8h1.0M58.6 637.3h1.0M76.9 587.2h1.0M99 604.2h1.0M92.2 571h1.0M104.1 581h1.0M77.6 636.9h1.0M108.4 636.2h1.0M98.1 581h1.0M64.4 608.8h1.0M100.7 646.9h1.0M68.4 625.4h1.0M88.2 591.8h1.0M70.3 644.5h1.0M97.4 601.9h1.0M73 580.2h1.0M65.6 629.3h1.0M84.7 646.1h1.0M76.3 642h1.0M86.9 571.8h1.0M63.1 611h1.0M87.4 605h1.0M67.9 620.4h1.0M83.7 619h1.0M66.6 585h1.0M94 577.8h1.0M98.7 645.7h1.0M65.9 600.1h1.0M110.3 620.3h1.0M98.3 589.3h1.0M94.8 601.8h1.0M67.7 614.7h1.0M100.1 590.6h1.0M65.4 597h1.0M76.2 595.7h1.0M103.7 576.7h1.0M68.5 597.1h1.0M75 632.6h1.0M68.4 607.8h1.0M96.5 584.9h1.0M91.8 573.7h1.0M57.7 629.7h1.0M58 631h1.0M83.8 579.8h1.0M109.9 608.2h1.0M98.9 585.8h1.0M86.1 593.4h1.0M82.5 574.4h1.0M69.1 633.8h1.0M80.5 605.3h1.0M113 639.1h1.0M78.4 642.6h1.0M61.9 595.6h1.0M69.6 594.8h1.0M65.2 598.5h1.0M63.5 636.9h1.0M69.7 583h1.0M73.3 610.7h1.0M79.5 632.6h1.0M102.8 609.8h1.0M100.5 582.3h1.0M79.2 631.7h1.0M88.8 605.3h1.0M83.5 580.1h1.0M95.7 641.7h1.0M59 606.4h1.0M75.7 616.4h1.0M80 644.3h1.0M100.3 573.4h1.0M54.1 630.5h1.0M104.3 593h1.0M103.8 580h1.0M103.4 634.7h1.0M71.5 598.8h1.0M105.6 619.4h1.0M101.1 594.9h1.0M116.2 627.9h1.0M64.7 599.1h1.0M77.7 604.4h1.0M68 609.9h1.0M86.8 622.4h1.0M73.5 581.6h1.0M74.4 621.7h1.0M91.7 602.7h1.0M91.6 631.1h1.0M65 639.6h1.0M71.5 620.1h1.0M110.4 615.8h1.0M65.2 638.1h1.0M111.3 633.5h1.0M71.7 585.6h1.0M101.1 632.3h1.0M64.5 625.1h1.0M102.5 646.2h1.0M93.6 611.5h1.0M86.6 604.9h1.0M97.2 647.5h1.0M93.2 615.7h1.0M57.9 633.3h1.0M75.1 615.4h1.0M96.7 613.8h1.0M107.2 630h1.0M88.5 592.9h1.0M83.1 606.4h1.0M111.1 634h1.0M105.7 586.3h1.0M56.6 634.4h1.0M113.5 619.8h1.0M112 632.3h1.0M68.2 619h1.0M95.2 623h1.0M81.6 636.4h1.0M69.2 629.2h1.0M94.4 577.5h1.0M70 635.4h1.0M89.3 579.2h1.0M102.5 640.6h1.0M80.1 574.4h1.0M68.1 639.5h1.0M101.9 586.8h1.0M100.4 628.1h1.0M86.8 614.6h1.0M107.1 587.9h1.0M90 588.7h1.0M78.9 590.9h1.0M71.3 644.2h1.0M89.6 608.8h1.0M85.3 614.8h1.0M92.2 602.5h1.0M104 645.9h1.0M61.3 621.8h1.0M87.2 641.1h1.0M58.2 633.4h1.0M74.7 610.3h1.0M100.6 624.4h1.0M93.6 606.4h1.0M64.2 628.5h1.0M100.1 578.3h1.0M73.2 596.2h1.0M86.7 579.8h1.0M67 618.2h1.0M77.6 608.1h1.0M102.2 582.2h1.0M99.9 574.9h1.0M65.7 587.5h1.0M85 599.8h1.0M83.3 620.8h1.0M87.9 605.9h1.0M61.8 614h1.0M105.9 590.2h1.0M81.8 602.8h1.0M96.9 612.7h1.0M79.9 587.7h1.0M76.1 614.4h1.0M76.7 631.1h1.0M99.2 618.7h1.0M94 624.6h1.0M83.4 631.9h1.0M90.8 592.4h1.0M86.7 647.2h1.0M80.6 629.8h1.0M76.6 594.9h1.0M110.1 590.5h1.0M85.5 623.9h1.0M72.5 596.5h1.0M75.1 599.4h1.0M79.4 630.4h1.0M111.4 620.2h1.0M91.4 574.3h1.0M85.7 623.4h1.0M78.5 609.4h1.0M75.1 610h1.0M108.8 588.4h1.0M93.9 627.6h1.0M99.5 603.7h1.0M83.3 589.1h1.0M107.5 645h1.0M83.3 594.2h1.0M89 596.6h1.0M64 614.2h1.0M63.8 612.7h1.0M112.9 618.4h1.0M110.5 623h1.0M97.7 632.8h1.0M68.9 637.1h1.0M102.7 613.7h1.0M89.9 607.7h1.0M66.2 639.9h1.0M80.5 614.6h1.0M92.1 626.6h1.0M57.6 631.1h1.0M92.3 587.6h1.0M114.4 640.2h1.0M108.5 645.4h1.0M74.9 591.1h1.0M105.4 623.7h1.0M110.4 624.3h1.0M80.3 599h1.0M100.1 583.2h1.0M88.8 614.3h1.0M65.3 600.7h1.0M70.5 643h1.0M97.5 588.3h1.0M75.4 592.3h1.0M109.6 610.9h1.0M67.6 605.2h1.0M63.7 619.3h1.0M71 609.4h1.0M60.7 600.9h1.0M61.8 610.5h1.0M87.4 634.4h1.0M84.8 641h1.0M107.6 605.5h1.0M82.9 578.7h1.0M115.1 616h1.0M75.6 594.2h1.0M99 597.1h1.0M116.1 625.5h1.0M75.1 576.5h1.0M108.2 621h1.0M98.4 575.5h1.0M78.5 581.5h1.0M106.1 633.9h1.0M93.7 646.1h1.0M85.5 637.3h1.0M77.7 584.7h1.0M108.6 619.9h1.0M83.5 602h1.0M93.6 581.8h1.0M55.6 626.3h1.0M95.3 578.7h1.0M88.8 643.1h1.0M114.2 607.8h1.0M62.4 612.1h1.0M103.9 591.3h1.0M92.1 625.9h1.0M88.8 609.9h1.0M107.1 588.1h1.0M105.3 582.3h1.0M73 624.4h1.0M103.8 578.9h1.0M101.9 622.9h1.0M106.3 625.5h1.0M104.6 580.7h1.0M84.1 571.8h1.0M56.5 629h1.0M73.1 588.3h1.0M108 622.2h1.0M95.4 611.9h1.0M77.8 609h1.0M76.6 597.2h1.0M86.9 624.2h1.0M112.8 627.6h1.0M78.8 601.1h1.0M93.3 578h1.0M73.3 641.4h1.0M90.8 582.9h1.0M93.4 640.6h1.0M79.3 636.4h1.0M112.3 599.5h1.0M89.5 575.5h1.0M103.8 576.7h1.0M73 614.9h1.0M88.9 615.7h1.0M104.7 592.8h1.0M61.6 623.9h1.0M93.3 580h1.0M82.6 614.9h1.0M89.3 579.5h1.0M77.3 597.8h1.0M94.6 615.1h1.0M92.7 593.9h1.0M100.7 590.8h1.0M70 609.6h1.0M64.5 613.6h1.0M110.6 637.2h1.0M98.6 631.2h1.0M103.4 599.7h1.0M102.6 619.5h1.0M96.4 629.1h1.0M108 595.9h1.0M112.1 625.7h1.0M99.9 575.7h1.0M83.3 624.3h1.0M98.1 591.2h1.0M112 642.9h1.0M95.4 647.4h1.0M66.3 618.5h1.0M108.1 638.1h1.0M87.2 632h1.0M95.8 576.7h1.0M88.3 615.4h1.0M67.8 588.2h1.0M100 598.5h1.0M80.1 631.1h1.0M78.5 638.4h1.0M101.1 626.6h1.0M98.3 638.4h1.0M95.4 636.7h1.0M84.1 579.1h1.0M101.3 619.1h1.0M115.9 626.6h1.0M83.9 624.5h1.0M107.4 616.5h1.0M66.1 637.4h1.0M74.1 600.3h1.0M76.3 612.5h1.0M97.1 599.3h1.0M108.7 602.2h1.0M76.9 643.6h1.0M84.2 595.1h1.0M75.5 631.9h1.0M93.2 611.6h1.0M84.1 587h1.0M68.3 583.8h1.0M105.8 643h1.0M98.1 588.4h1.0M100 616.2h1.0M80.4 632.9h1.0M63.8 634.5h1.0M90.3 613.6h1.0M93.2 575.7h1.0M90.7 578.8h1.0M91.7 588.7h1.0M104.7 630h1.0M56.3 627.3h1.0M81.6 611.4h1.0M100.6 605.3h1.0M81.4 621.3h1.0M81.4 579.6h1.0M79.9 637.6h1.0M79.3 581.7h1.0M191.3 649.4h1.0M189.6 649h1.0M151.3 646h1.0M167.2 674.3h1.0M163.3 592.4h1.0M159.1 628.1h1.0M177.2 664.3h1.0M188.3 641h1.0M167.3 661.1h1.0M166.6 596.1h1.0M150.1 618.6h1.0M179.2 676.7h1.0M148 638.3h1.0M164.9 658.7h1.0M188.4 663.7h1.0M166 632.9h1.0M182.5 654.3h1.0M161.8 656.3h1.0M167.7 670.3h1.0M171.3 660.1h1.0M157.5 598.4h1.0M169 630h1.0M166.6 672.3h1.0M181.4 613.5h1.0M189.5 652.1h1.0M183.9 657.4h1.0M179.4 666.6h1.0M157.2 628.7h1.0M179.1 616.5h1.0M171.2 615.5h1.0M154.4 629.5h1.0M150 654.2h1.0M156.4 626.3h1.0M190.5 653.8h1.0M181.6 610.6h1.0M154.4 648h1.0M153.3 651.3h1.0M173.5 654.2h1.0M153.8 660.7h1.0M168.9 621.9h1.0M153.3 634.6h1.0M158.8 658.8h1.0M152.9 609.2h1.0M179.2 622.4h1.0M186.7 662.5h1.0M147.6 643.2h1.0M173.9 680.8h1.0M160.1 655.4h1.0M150.5 621.3h1.0M191.7 652.7h1.0M183.5 663.2h1.0M181.9 641.1h1.0M152.6 614.7h1.0M158.4 625.6h1.0M164.5 646.5h1.0M184.7 665.8h1.0M155.2 670.4h1.0M146.7 652.9h1.0M163.7 676.1h1.0M165 607.5h1.0M179 622.8h1.0M165.6 599.3h1.0M183.5 673h1.0M179.3 643.9h1.0M166.3 669.7h1.0M186.9 631.2h1.0M191.9 652.4h1.0M158.9 659.9h1.0M168.8 674.3h1.0M150.3 618.3h1.0M172.8 616.4h1.0M171.8 682.4h1.0M156.3 600.4h1.0M184 627.5h1.0M181.9 644.2h1.0M158.3 604.4h1.0M162.7 598.3h1.0M153.9 668.1h1.0M160.1 626.6h1.0M186.9 629.3h1.0M154.6 612.9h1.0M158.8 657.4h1.0M181.5 666.8h1.0M172.2 623.6h1.0M184.7 616.7h1.0M180.3 640.4h1.0M160 623.1h1.0M172 668h1.0M162 620.2h1.0M173.2 621.8h1.0M148.3 615.4h1.0M181.6 609.2h1.0M166.6 647.3h1.0M166.2 646.2h1.0M163.7 673.8h1.0M149.9 628.3h1.0M172.1 676.7h1.0M184.1 634.6h1.0M177.7 655.5h1.0M179.2 659.6h1.0M150.5 657.6h1.0M175.6 621.5h1.0M157.1 638.6h1.0M168.4 614.5h1.0M155.1 622.2h1.0M168.3 618.7h1.0M155.5 672.4h1.0M162.8 633.9h1.0M184.7 659.8h1.0M178.9 609.5h1.0M177 622.2h1.0M169.6 669.7h1.0M156.8 640.2h1.0M143.1 640.2h1.0M159.5 654.6h1.0M183.4 672.6h1.0M163.9 590.7h1.0M163.2 590.9h1.0M187.7 624.8h1.0M170.1 661.3h1.0M186.2 623.9h1.0M166.6 668.3h1.0M168 656.9h1.0M151.1 670.9h1.0M183 630h1.0M170.5 611h1.0M170.6 681.5h1.0M161.9 595.5h1.0M148.1 631.1h1.0M185.9 646.6h1.0M165.2 620.4h1.0M155.1 602.1h1.0M183.8 659.2h1.0M149.6 645.2h1.0M156.9 675.9h1.0M184.8 656.5h1.0M174.5 608.8h1.0M149.4 663.2h1.0M178.1 663.5h1.0M170.1 646.1h1.0M158.5 631.1h1.0M179.7 653h1.0M152.4 674.6h1.0M156.1 650.6h1.0M174.9 674.6h1.0M183 657.6h1.0M166.7 626.7h1.0M186.5 627.6h1.0M146.7 637.5h1.0M155.7 619.6h1.0M190 629.6h1.0M188.5 634.7h1.0M170.3 602.7h1.0M158.8 610.2h1.0M158.3 607.4h1.0M148.4 638.4h1.0M155.8 682.1h1.0M144.1 646.1h1.0M163.4 616h1.0M167.9 642.7h1.0M161.8 667.4h1.0M146.7 617.1h1.0M160.1 661.9h1.0M159.5 681h1.0M146.7 652.3h1.0M153.7 665.4h1.0M177.2 680.1h1.0M163.3 597.6h1.0M164.5 604.5h1.0M156.8 609.5h1.0M176.8 646.9h1.0M157.5 637h1.0M185 614.9h1.0M173.1 610.5h1.0M170.5 680.4h1.0M148.7 631.2h1.0M175.3 675h1.0M160.3 617.2h1.0M177.4 635.2h1.0M148.5 666.6h1.0M153.9 601.6h1.0M153.1 648.3h1.0M156.2 637.1h1.0M147.5 656.2h1.0M163 591.8h1.0M178.8 620.3h1.0M173 600.1h1.0M171.1 681.6h1.0M162.2 684h1.0M156.3 613.2h1.0M145.8 640.4h1.0M157.4 670.7h1.0M175.3 603.4h1.0M170.4 631.2h1.0M174.7 618h1.0M149.2 661.8h1.0M172.1 646.8h1.0M151.5 625h1.0M189.6 660.3h1.0M164 628.7h1.0M167.9 598h1.0M161.2 625.9h1.0M175.9 614.9h1.0M164 646.8h1.0M178 621.8h1.0M144.4 638.9h1.0M175.2 613.7h1.0M166.4 624.2h1.0M166.1 669.2h1.0M143.3 647.2h1.0M181.8 636.4h1.0M152.5 631h1.0M152 650.9h1.0M191.4 647.4h1.0M149.3 661h1.0M157 665.5h1.0M155.7 676.5h1.0M152.1 652.1h1.0M147.5 638.4h1.0M148.9 613.3h1.0M177.3 645.2h1.0M178 668.2h1.0M150.6 624.6h1.0M151.1 671.3h1.0M169.5 634.7h1.0M185 613.6h1.0M161.1 630h1.0M157.4 660.4h1.0M160.6 683.7h1.0M161.6 601.5h1.0M146.9 617.1h1.0M168.8 618.9h1.0M176.9 633.9h1.0M152.6 631h1.0M162.2 657.1h1.0M173.9 624h1.0M145.2 655.4h1.0M154.3 642.3h1.0M178.3 674.4h1.0M184.2 669.3h1.0M168.9 594.7h1.0M155.3 637.4h1.0M175.3 676.9h1.0M160.6 677h1.0M175.9 666.2h1.0M167.8 669.6h1.0M158.5 648.9h1.0M161.1 636.3h1.0M155.4 664.9h1.0M181.9 624.5h1.0M170.9 610h1.0M167.9 656h1.0M186 665.7h1.0M189 659.5h1.0M160.3 662h1.0M178.1 614.9h1.0M154.2 650.5h1.0M175.4 640.1h1.0M164.7 652h1.0M158 594.9h1.0M160.3 612.9h1.0M176.3 655.6h1.0M175.3 611.5h1.0M176.8 601.3h1.0M185.3 623.5h1.0M187.6 653.5h1.0M183.2 656.5h1.0M169.5 645.2h1.0M181.8 659.3h1.0M187.7 657.2h1.0M167.4 597.3h1.0M187.8 657.5h1.0M177.5 626.4h1.0M154.3 636.3h1.0M160.8 674.7h1.0M149.5 669.7h1.0M166.1 606.7h1.0M151 631.3h1.0M185.4 625.3h1.0M154 648.2h1.0M181.1 632.8h1.0M165.7 648.4h1.0M178.9 618.2h1.0M176.6 676.4h1.0M169.5 604.8h1.0M146.3 645.4h1.0M162.4 607.6h1.0M154.5 606h1.0M155.3 610.1h1.0M159.1 658.3h1.0M165.5 632.9h1.0M159.1 638h1.0M159.9 667.3h1.0M172.1 644.8h1.0M182.6 628.7h1.0M187.2 665.5h1.0M156.1 593.9h1.0M178.7 659.1h1.0M158.8 660.9h1.0M190.3 638.4h1.0M153.2 599h1.0M188.9 638.8h1.0M184.6 650.1h1.0M162.6 678.4h1.0M172.6 663.4h1.0M177.7 602.6h1.0M152.4 608.2h1.0M146.5 627.2h1.0M173.5 676h1.0M167.3 603.8h1.0M149.4 620.5h1.0M178.2 610h1.0M154.5 610.8h1.0M175.1 656h1.0M186.9 658.9h1.0M159.5 591.8h1.0M188.7 641.8h1.0M185.8 625.7h1.0M154.1 638.3h1.0M184.3 617.1h1.0M165.9 628.2h1.0M157 639.5h1.0M160.8 679h1.0M156.2 663h1.0M157.9 606h1.0M158.4 592.6h1.0M157.9 605.1h1.0M170.2 639.2h1.0M158 642.6h1.0M174.9 601.8h1.0M180.4 640.9h1.0M183.5 618.8h1.0M168.1 648h1.0M156.5 620.2h1.0M151.6 632.2h1.0M172 652.4h1.0M150.1 672.7h1.0M154.9 602.4h1.0M175.4 663h1.0M156 595h1.0M170 620.6h1.0M167.6 619.1h1.0M161.2 678h1.0M143.4 632.3h1.0M160 640.4h1.0M146.8 642.1h1.0M167.7 677.6h1.0M167.6 635.9h1.0M156.1 601.1h1.0M152.4 626.5h1.0M151.9 655.6h1.0M176.4 668.3h1.0M154.5 624.7h1.0M183.7 618.7h1.0M161.3 639.1h1.0M158.4 637.9h1.0M175.8 666.8h1.0M190.2 635.5h1.0M151.8 641.9h1.0M157.9 597.1h1.0M149.8 651.5h1.0M153.4 624.9h1.0M168.8 651.1h1.0M170.8 641h1.0M173.3 637.5h1.0M156.6 660.6h1.0M150.6 630.7h1.0M146.9 654.8h1.0M181.5 627.9h1.0M164.3 655.5h1.0M144.3 638.9h1.0M168.4 665.7h1.0M177.7 655.7h1.0M190.2 656.9h1.0M174.9 601.7h1.0M183.1 617.3h1.0M166.7 635.6h1.0M183.3 657.3h1.0M179.6 609.1h1.0M166.1 621.2h1.0M157.5 645.6h1.0M169.2 620.2h1.0M168.6 648.1h1.0M158.4 650.1h1.0M167.4 655h1.0M190.3 634.8h1.0M178.7 606.6h1.0M184.8 658.4h1.0M168.8 634.2h1.0M158 670.5h1.0M150 641h1.0M190.2 660.5h1.0M162.2 672.1h1.0M186.1 628.1h1.0M174.1 679.6h1.0M157.4 639.2h1.0M147.8 659.7h1.0M157.5 623.1h1.0M162.4 630.5h1.0M182.4 641.3h1.0M172.2 661h1.0M155.1 646.3h1.0M178.6 627.3h1.0M178.2 623.8h1.0M172.7 664.3h1.0M145.8 644.9h1.0M187 637.7h1.0M169.6 625.3h1.0M148.4 619.2h1.0M167.5 595.3h1.0M159.8 610.4h1.0M185.8 637.3h1.0M148.7 646.2h1.0M164 608.8h1.0M159.5 648h1.0M177.5 669.2h1.0M159.2 605.6h1.0M147.1 634.3h1.0M175.3 678.3h1.0M164.6 594.3h1.0M172.6 661h1.0M162.3 612.1h1.0M168.2 643.8h1.0M153.6 655.1h1.0M175.9 646.6h1.0M183.8 618h1.0M146.5 652.7h1.0M160 681.9h1.0M144.9 652.2h1.0M152.2 669.9h1.0M162.7 638.5h1.0M179 619.2h1.0M177.9 671.8h1.0M162.1 648.1h1.0M145.5 623.8h1.0M186.5 630h1.0M149.2 641.4h1.0M143.2 641.9h1.0M177 617h1.0M164.5 657.6h1.0M152.8 604.7h1.0M186.7 637.1h1.0M159.4 663.7h1.0M160.7 662h1.0M157 649.3h1.0M185.2 666.9h1.0M153.8 636.3h1.0M170.2 641.2h1.0M171.5 607.2h1.0M151.9 670.6h1.0M158.2 610.2h1.0M147.2 660.4h1.0M176.8 640.6h1.0M177.8 611.4h1.0M167.5 639.8h1.0M170.1 659.2h1.0M154.4 651.9h1.0M166.1 637.2h1.0M188.4 643h1.0M173.1 669h1.0M177.5 643.1h1.0M161.7 615.8h1.0M150.3 615.9h1.0M175.8 649.3h1.0M185.5 661.8h1.0M160.7 662.1h1.0M157 628.9h1.0M177.2 607.7h1.0M190.3 656.4h1.0M150.7 608.8h1.0M160.4 602.2h1.0M169.9 674.1h1.0M185.5 648.4h1.0M163 645.9h1.0M149.5 668h1.0M150.5 639h1.0M175.3 653.7h1.0M157.3 621.4h1.0M177.1 662.7h1.0M155.9 670.1h1.0M185.9 646.7h1.0M156.3 598.2h1.0M162.9 669.5h1.0M156.1 640.9h1.0M163.8 642.3h1.0M157.1 609.3h1.0M185.7 629.1h1.0M145.5 649.8h1.0M144.1 636.1h1.0M170.2 616.5h1.0M186.2 644.5h1.0M174.7 617.5h1.0M173.9 613.2h1.0M168.7 665.3h1.0M152.4 634.2h1.0M183.1 630.4h1.0M172.2 627h1.0M157.6 662.4h1.0M186.9 620.5h1.0M173 626.5h1.0M191.9 648.4h1.0M144.6 643.5h1.0M175.3 656h1.0M185.2 624.4h1.0M157.3 674.1h1.0M161.6 610.4h1.0M161.5 684.5h1.0M146.3 661.6h1.0M188.1 628.3h1.0M173.8 621.3h1.0M175.1 617.8h1.0M167.6 653.4h1.0M173.1 659.6h1.0M157 636.7h1.0M172.5 678.6h1.0M175.5 662.7h1.0M188.7 635.3h1.0M168.4 677.7h1.0M162.5 596.9h1.0M183.2 652h1.0M169.6 646.8h1.0M178.6 612.4h1.0M177.7 665.1h1.0" stroke="#a8ee90" stroke-width="1.0" fill="none"/>
<path d="M82 588.2h1.0M105.3 579.2h1.0M86.6 617.8h1.0M88.5 594.3h1.0M86.4 645.9h1.0M70.3 590.7h1.0M60.3 632.2h1.0M68.7 614.4h1.0M108.2 640.8h1.0M94.7 571.9h1.0M95.2 615h1.0M86.6 607.3h1.0M96.3 620.7h1.0M110.3 612.6h1.0M58.7 608.2h1.0M109.4 592.2h1.0M97.2 596.8h1.0M116.9 634.8h1.0M74.5 637.4h1.0M62.7 609.8h1.0M81.5 574.6h1.0M110.7 644.1h1.0M98.1 601.2h1.0M107.2 623.3h1.0M60.4 624.3h1.0M88.6 639.1h1.0M65.1 628.8h1.0M82.6 593.7h1.0M65.2 625.2h1.0M71.7 606.7h1.0M85.5 645.8h1.0M103.7 615h1.0M66.6 588.2h1.0M57.8 634.3h1.0M73.1 625.8h1.0M108.2 589.5h1.0M98.3 606.6h1.0M105.7 632.6h1.0M100.7 609.7h1.0M60.1 616.9h1.0M76.8 641h1.0M59.8 632.8h1.0M55.8 633.1h1.0M96 593.5h1.0M84.5 586.6h1.0M111.2 610.5h1.0M108.3 629.2h1.0M117.1 628.7h1.0M105.1 612.7h1.0M111.4 605.8h1.0M103.7 620.3h1.0M80.6 622.4h1.0M58.1 610h1.0M86.4 629.2h1.0M93.6 636h1.0M71.5 583.6h1.0M108.8 633.6h1.0M85.5 609.2h1.0M82.9 645h1.0M105.2 596.4h1.0M114.6 621.9h1.0M108.5 620.3h1.0M107.3 595.1h1.0M78.8 611.1h1.0M87.7 608h1.0M99.5 634.9h1.0M80.8 579.3h1.0M94.4 646.6h1.0M87.6 620.7h1.0M78.8 627h1.0M75.6 602.3h1.0M72.8 630h1.0M98.2 613.1h1.0M93.7 602h1.0M70.7 611.5h1.0M76.2 638.9h1.0M66.9 597.9h1.0M73 595.8h1.0M79 585.3h1.0M98.6 610.3h1.0M98.2 606.9h1.0M91.7 605.4h1.0M82.6 582.5h1.0M63.8 627.7h1.0M100.6 641.2h1.0M77.1 592.8h1.0M81.2 617.7h1.0M98.4 620.8h1.0M106.6 619.1h1.0M95.3 594h1.0M75.9 600.4h1.0M88.4 647.4h1.0M93.1 576.2h1.0M98.3 583h1.0M65.2 607.4h1.0M97.4 580.2h1.0M83.2 616.1h1.0M74.7 611.1h1.0M82.2 626h1.0M75.7 624.3h1.0M100.8 625.9h1.0M80.3 575.1h1.0M76.4 604.9h1.0M78.8 597h1.0M83.8 598.7h1.0M88.8 591.2h1.0M75.5 613.3h1.0M93.8 581h1.0M76.4 617.7h1.0M92.9 603.4h1.0M117.3 628.7h1.0M85.3 600.4h1.0M67 592.3h1.0M107.3 643.9h1.0M94.5 603.1h1.0M100.3 573.2h1.0M86.5 645.9h1.0M113 604.1h1.0M77.2 593.2h1.0M80.2 638.7h1.0M114 625.1h1.0M112.5 635.4h1.0M62.3 603.2h1.0M92.2 619.1h1.0M56 634.3h1.0M64 591.5h1.0M70.2 640.4h1.0M77.3 641.3h1.0M108.3 646.3h1.0M87.2 617.1h1.0M114.6 626.4h1.0M94.5 588.3h1.0M85.3 621.8h1.0M81.4 642.1h1.0M110.7 631.4h1.0M107.6 624.3h1.0M101.9 584.5h1.0M73.2 632.7h1.0M75.7 622.3h1.0M67 618.8h1.0M75.6 589.1h1.0M71 584.8h1.0M78 614h1.0M115.6 632.1h1.0M72.1 605.4h1.0M86.4 628.8h1.0M107.1 592.9h1.0M80.4 581.1h1.0M101.6 617.1h1.0M75.2 606.3h1.0M69.9 599.2h1.0M78.5 580.8h1.0M91.5 596.2h1.0M66.9 604.6h1.0M80.4 581h1.0M109.7 603h1.0M108.9 621.6h1.0M72.8 622.1h1.0M111.3 624.8h1.0M87.2 646.7h1.0M97.2 572.3h1.0M99.1 584.4h1.0M91.5 580.8h1.0M82.8 631.4h1.0M92.7 590.4h1.0M107.7 591.1h1.0M60.6 625.9h1.0M75.9 642.9h1.0M84.9 605.4h1.0M79.8 628.3h1.0M99 638h1.0M109.5 604.3h1.0M79.1 590.2h1.0M72.7 639.3h1.0M112.7 621.3h1.0M56.9 615.2h1.0M63.8 620.2h1.0M85.8 628.2h1.0M111.8 607.1h1.0M81 645.2h1.0M113.9 612.6h1.0M84.8 634.7h1.0M87.3 633.6h1.0M97.6 613.2h1.0M71.5 622.6h1.0M79.2 623.8h1.0M98.3 642.8h1.0M103 597.7h1.0M85 612.6h1.0M66.3 621.4h1.0M89.9 624.9h1.0M69.9 626.7h1.0M81.4 640.5h1.0M85.9 620h1.0M114.5 609.8h1.0M97 646.4h1.0M77 599.8h1.0M66.9 631.7h1.0M100 601.4h1.0M115.8 612h1.0M76 643.6h1.0M109.1 599.9h1.0M72.2 619.1h1.0M87.4 619.4h1.0M105.4 580.2h1.0M91 588.7h1.0M106.2 626.1h1.0M72.7 594.9h1.0M65.7 586h1.0M92.4 577.5h1.0M88.3 593.5h1.0M74.8 638.3h1.0M87.9 625.9h1.0M99.1 612.6h1.0M84.4 589.6h1.0M111.6 642.9h1.0M88 612h1.0M83.9 582.4h1.0M61.3 619.1h1.0M115.8 634.1h1.0M66.2 632.5h1.0M105.8 616h1.0M100.2 573.3h1.0M89.1 612.7h1.0M62.2 614.2h1.0M79.6 609.2h1.0M80.5 634.5h1.0M113.4 608.2h1.0M73.2 580.8h1.0M68.7 622.4h1.0M69.7 615.1h1.0M109.1 605.8h1.0M60.7 608.8h1.0M111.9 642.1h1.0M104.3 631.1h1.0M69.8 593.9h1.0M115.4 641.9h1.0M73.3 597.1h1.0M64 628.9h1.0M107.3 617.8h1.0M95.5 607.2h1.0M70.1 599.8h1.0M68.9 585.9h1.0M94.5 623.8h1.0M74.4 618.6h1.0M71.8 637.6h1.0M83.6 608.9h1.0M62.6 634.5h1.0M100.9 644.2h1.0M118.6 629.5h1.0M72.8 641.5h1.0M101 647.9h1.0M110.9 620.3h1.0M78.5 575.7h1.0M70.3 626.4h1.0M67.7 604.1h1.0M114.2 637.9h1.0M62.6 630.4h1.0M83.2 626.4h1.0M71.5 608.3h1.0M69.1 589.7h1.0M98.4 642.6h1.0M67.9 627.3h1.0M70.1 634.4h1.0M89.5 621h1.0M88.4 605.9h1.0M65.9 605.1h1.0M100.7 580.1h1.0M67 617.6h1.0M61.5 608h1.0M79.5 598.7h1.0M88.2 589.7h1.0M108.6 614.1h1.0M105.5 640.4h1.0M76.2 579.1h1.0M107.1 624.7h1.0M83 624.7h1.0M98.8 572.2h1.0M75.7 578.9h1.0M111.9 601.8h1.0M76 636.4h1.0M66.2 637.9h1.0M70.1 630.1h1.0M106.6 585.4h1.0M87.4 619.9h1.0M73.5 634h1.0M101.8 607.1h1.0M81.6 580.7h1.0M95.4 576.7h1.0M77 643.5h1.0M110.1 619.9h1.0M90.9 613.8h1.0M55.3 625.6h1.0M87.4 588.5h1.0M84.3 610.6h1.0M56.5 623.9h1.0M114.1 607h1.0M99.8 586.7h1.0M100.7 606.9h1.0M98.4 629.6h1.0M89.1 629.2h1.0M85 621h1.0M65.4 587.1h1.0M73.2 599.2h1.0M76.5 628.6h1.0M78.8 644h1.0M57.5 635.9h1.0M78.1 604.9h1.0M62 615.5h1.0M78.9 634.7h1.0M86.7 605.5h1.0M110.3 596h1.0M100.9 634.4h1.0M96.2 572.8h1.0M75.9 611h1.0M115.3 625.7h1.0M75.9 594.1h1.0M67.2 601.9h1.0M98.7 583h1.0M107.1 590.4h1.0M97.5 625.1h1.0M78.3 598.5h1.0M94 587.4h1.0M103.2 589.6h1.0M71.1 602.8h1.0M81 609.5h1.0M60.4 610.8h1.0M79.1 581.6h1.0M59.1 619.5h1.0M89.9 646.9h1.0M85.9 606.1h1.0M113 630.7h1.0M95.1 578.2h1.0M72 579.2h1.0M102.1 630.8h1.0M87.2 628.7h1.0M106.8 617.5h1.0M79.7 586h1.0M90.3 631.7h1.0M116.2 641h1.0M118 620.6h1.0M85.1 636.2h1.0M117.9 631.5h1.0M114.6 638.7h1.0M86 609.4h1.0M69.2 604.1h1.0M81.3 604.2h1.0M103.1 578.2h1.0M75.3 579.2h1.0M103.3 627.1h1.0M84.4 617.7h1.0M72.8 608.3h1.0M95.6 598.3h1.0M101.5 633h1.0M70.7 644h1.0M76.9 601.2h1.0M80.3 642h1.0M97.6 639.2h1.0M69.7 636.2h1.0M66.7 629.7h1.0M108.1 642.2h1.0M97.5 627.3h1.0M108.3 608.9h1.0M67.6 641.8h1.0M116.4 622.1h1.0M111.4 629.1h1.0M104.2 599.9h1.0M74.2 620.9h1.0M84.2 588.2h1.0M92.9 632.4h1.0M114 622.3h1.0M94.7 631.7h1.0M89.6 600.1h1.0M67.4 607.1h1.0M75.5 584h1.0M87.7 644.7h1.0M104.6 645h1.0M96.4 579.9h1.0M85.6 627.2h1.0M91.6 590.5h1.0M68.2 625.2h1.0M60.5 609.7h1.0M84 622h1.0M78.8 629.6h1.0M105.1 591h1.0M95.1 585.3h1.0M114.9 641.6h1.0M100.7 637.2h1.0M84.1 590.6h1.0M96.9 622.6h1.0M54.8 632.4h1.0M85.6 574.7h1.0M109.8 604.3h1.0M62.9 633.3h1.0M72.7 622h1.0M76 623.1h1.0M78.2 627.9h1.0M74.2 615.4h1.0M104.1 596.6h1.0M76.3 616.4h1.0M85.3 632.2h1.0M97.8 596.9h1.0M96 632.3h1.0M111.4 610h1.0M61 617.9h1.0M73.7 583.9h1.0M105.5 611.9h1.0M78 602.7h1.0M73 633.1h1.0M98.4 623.9h1.0M106.9 642h1.0M91.6 626.9h1.0M65.9 600.9h1.0M97.5 644.7h1.0M102.2 603.1h1.0M67.3 587.3h1.0M115.4 626.9h1.0M97 592h1.0M96.1 639.8h1.0M107.1 592.4h1.0M85.5 620.8h1.0M114.2 633.8h1.0M72.8 584h1.0M101.1 631.9h1.0M83 603.7h1.0M81.9 629.9h1.0M73.8 624.2h1.0M83.8 601.5h1.0M69.1 586.7h1.0M77.5 608.5h1.0M112.1 619.8h1.0M99.3 607.5h1.0M109.1 590.5h1.0M66 585.8h1.0M105.5 585.1h1.0M82.2 630.8h1.0M72.7 605.6h1.0M65.9 641.4h1.0M54.6 624.7h1.0M76 593.3h1.0M98.7 611.7h1.0M73.5 577.3h1.0M91.5 624.7h1.0M103.1 618.5h1.0M89.5 618.1h1.0M81.7 627.6h1.0M87 623.4h1.0M71.2 584.8h1.0M96.2 573.8h1.0M104.9 594.2h1.0M75.8 584.5h1.0M114.5 625.6h1.0M88.5 595.6h1.0M83.4 619.2h1.0M91.9 615.8h1.0M59.1 627h1.0M69.7 632.7h1.0M85 645h1.0M86.6 600.6h1.0M85.6 637h1.0M71.5 631.6h1.0M71 611.7h1.0M71.9 610.6h1.0M67.3 623.9h1.0M82.4 610.7h1.0M88 598h1.0M112.5 608.4h1.0M115.8 640.2h1.0M87 575.3h1.0M105.8 597.7h1.0M68.6 630.6h1.0M115.2 615h1.0M90 600.9h1.0M61.5 626.2h1.0M97.5 576h1.0M91.1 616.1h1.0M106.7 610.7h1.0M83.5 626.9h1.0M95 575.1h1.0M104.3 627.2h1.0M103.5 616h1.0M109.8 626.7h1.0M112.7 626.1h1.0M69 606.2h1.0M114.4 626.8h1.0M97.3 577.5h1.0M62.1 624.1h1.0M77.7 623h1.0M79.3 633.5h1.0M115.9 618.6h1.0M57.9 626h1.0M62.2 635.2h1.0M78.2 634.2h1.0M68.1 589.6h1.0M76.7 578.3h1.0M99.2 643.2h1.0M55.3 631.9h1.0M84.7 635.3h1.0M82.7 632.9h1.0M59.2 624.7h1.0M106.3 615.2h1.0M75.8 629.9h1.0M104.1 630.9h1.0M94.6 607.6h1.0M96 571.8h1.0M109.3 587.5h1.0M84.6 630.7h1.0M112.5 602.9h1.0M99 576.7h1.0M74.4 619.5h1.0M68.1 637.5h1.0M74.2 637.5h1.0M86.3 587.5h1.0M89 632.1h1.0M106.7 584.2h1.0M91 625.5h1.0M114.9 612.1h1.0M68.4 640.1h1.0M83.8 612.4h1.0M108.4 626.8h1.0M89.2 586h1.0M106.2 631.7h1.0M81.5 599.3h1.0M66.6 614.4h1.0M86.7 608.5h1.0M107.8 631.3h1.0M99.8 639.2h1.0M108.6 645.8h1.0M91.8 639.2h1.0M118.6 629.8h1.0M144.3 637.9h1.0M176.7 630.6h1.0M146.5 632.7h1.0M169.7 665.2h1.0M158.6 675.1h1.0M155.2 658.6h1.0M166.1 634.6h1.0M187 624.2h1.0M178.7 611.5h1.0M161.2 604.1h1.0M148 634.7h1.0M169 596h1.0M166.7 647.2h1.0M168.2 675.5h1.0M158 684.3h1.0M160.7 649.1h1.0M177.7 632.3h1.0M161.8 597.6h1.0M160.2 637.2h1.0M188.3 636.5h1.0M184.9 624.2h1.0M160.3 593.2h1.0M166.1 671.2h1.0M185.8 634h1.0M160.5 621.2h1.0M159.2 643.1h1.0M182.8 626.3h1.0M150.5 653.4h1.0M174.5 671.3h1.0M180.2 657.1h1.0M157.3 669.8h1.0M165.1 613.8h1.0M158.9 602.7h1.0M159.9 648.1h1.0M161.6 595.5h1.0M163.4 613.4h1.0M154.8 603.6h1.0M148.4 639.3h1.0M173.6 666h1.0M151 630.4h1.0M145.9 623.3h1.0M145.7 653.6h1.0M179 640.2h1.0M156.8 677.4h1.0M178.6 642.6h1.0M167.6 660.4h1.0M165.4 596.8h1.0M174.8 635.6h1.0M167.3 628.3h1.0M154 658.5h1.0M146.9 662.7h1.0M146.1 651.7h1.0M149.2 637.7h1.0M161.8 683h1.0M143.9 639.1h1.0M161.5 615h1.0M158.4 645.4h1.0M159.1 660.9h1.0M146.1 660.1h1.0M143.1 641.1h1.0M173.2 622.8h1.0M173.2 654.8h1.0M153 620.9h1.0M179.9 639.5h1.0M169.9 659.8h1.0M150.9 653.9h1.0M154.6 605.4h1.0M149 644.2h1.0M163.3 625h1.0M172.8 664.5h1.0M162.9 615.4h1.0M168.3 635.5h1.0M172.7 627.9h1.0M160.2 638.2h1.0M162 654.1h1.0M149 668.1h1.0M158.8 627.3h1.0M172.8 678.5h1.0M191.5 644.9h1.0M153.9 629.2h1.0M150.3 638.8h1.0M191.7 643.2h1.0M170.8 629.5h1.0M172.7 608.6h1.0M162.3 629.3h1.0M158 681.1h1.0M175.8 622.9h1.0M186.3 630.5h1.0M171.4 668.4h1.0M182.1 638.5h1.0M147.7 632.4h1.0M153.1 640.6h1.0M187.8 642.2h1.0M147.5 647.6h1.0M160.3 669.5h1.0M189.2 656.8h1.0M175.5 670.5h1.0M168.1 628.5h1.0M177.8 613.2h1.0M169.8 655.4h1.0M148.1 639.1h1.0M164 590.9h1.0M163 662.5h1.0M163.5 597.8h1.0M183.9 647h1.0M154.1 663.2h1.0M151.7 614.5h1.0M188.5 628.2h1.0M162.3 620.5h1.0M147.3 624.5h1.0M154.5 607.5h1.0M161.4 657.5h1.0M172.8 653.3h1.0M144.8 654.4h1.0M160.7 623h1.0M161.5 646.2h1.0M165.9 624.6h1.0M165.2 592.4h1.0M180.8 651.1h1.0M151.5 629h1.0M175.5 676.2h1.0M166.6 602.1h1.0M166 610.9h1.0M175.5 640.8h1.0M165.3 613.4h1.0M155.3 676.5h1.0M175.7 600h1.0M175.1 624.5h1.0M150.7 615.9h1.0M186.7 619.3h1.0M149.2 620.4h1.0M158.8 639h1.0M176.6 663.2h1.0M160.4 615.8h1.0M177.3 622h1.0M174.8 614.2h1.0M161.7 662.5h1.0M158.9 669.5h1.0M176.5 613.5h1.0M160.5 634.4h1.0M148.6 636.9h1.0M168.7 605h1.0M180.9 661.9h1.0M182.5 614.8h1.0M174.5 605.9h1.0M154.6 610.4h1.0M155 678.2h1.0M188.1 644.7h1.0M157.5 656.4h1.0M164.8 665.5h1.0M159.5 632.8h1.0M185.8 625.2h1.0M158.9 639.2h1.0M172.1 620.6h1.0M152.7 627.9h1.0M153.9 629.8h1.0M180.8 650h1.0M172.8 669.4h1.0M160 642.9h1.0M150.8 655.3h1.0M158.5 666.4h1.0M174.6 656.4h1.0M148.6 626h1.0M190.2 630.2h1.0M176.2 634.9h1.0M171.5 620.1h1.0M152.1 609.7h1.0M158.6 645.9h1.0M152.2 643.7h1.0M178.5 648.7h1.0M154.5 676.5h1.0M175.4 667.8h1.0M148.6 662.1h1.0M168.5 604h1.0M161.9 653.7h1.0M162.7 651.8h1.0M151.4 667.9h1.0M162.5 624.9h1.0M153.5 666h1.0M155 680.1h1.0M148.8 625.2h1.0M169 669.8h1.0M159.2 625.4h1.0M152.1 641.6h1.0M150.2 634.7h1.0M185.7 625.9h1.0M163.4 659.7h1.0M156 682.4h1.0M172.8 670h1.0M154.3 613h1.0M171 662.6h1.0M171.5 633.2h1.0M177.6 677.6h1.0M168.4 680.9h1.0M170.6 681h1.0M155 647.9h1.0M156.8 655.6h1.0M182.4 638h1.0M159.8 624.6h1.0M157.2 615.9h1.0M168.4 621.5h1.0M148.1 627.3h1.0M189.3 654.5h1.0M179.3 609.3h1.0M164.7 640.4h1.0M177 658.8h1.0M178.2 609.1h1.0M145.9 640.6h1.0M153.1 677.3h1.0M179.5 628.8h1.0M166.3 611.3h1.0M165.1 659.1h1.0M164.7 643.5h1.0M176.6 619.5h1.0M184 656.7h1.0M156.9 658.5h1.0M177.1 617h1.0M176.6 661.3h1.0M173.5 607.6h1.0M145.8 632.4h1.0M152.3 658.2h1.0M165.4 678.3h1.0M170.5 647.9h1.0M157.5 607.9h1.0M158.3 593.6h1.0M181.2 609h1.0M160.3 614.5h1.0M152.7 624.5h1.0M186.2 642.3h1.0M179 614.7h1.0M145.3 654.6h1.0M155.6 669.1h1.0M162.1 679.3h1.0M174.7 668.6h1.0M166.8 673.8h1.0M161 600.6h1.0M172.8 677.9h1.0M170.9 664.3h1.0M155.3 658.1h1.0M176.3 671.4h1.0M159.7 647h1.0M149.5 638.7h1.0M160.2 612.7h1.0M182.1 614.9h1.0M146 660.8h1.0M149 633.4h1.0M157.3 639.4h1.0M166.7 666.8h1.0M171.4 647.8h1.0M164.4 609.3h1.0M182.5 639.7h1.0M167 614.5h1.0M164.5 616.2h1.0M158.5 663.8h1.0M181 636.5h1.0M187 651h1.0M155 598.4h1.0M146.1 622.7h1.0M161.9 639.3h1.0M148.6 665.6h1.0M167 668.9h1.0M185.5 617.1h1.0M152.7 632.6h1.0M155.7 646.8h1.0M155.8 625.2h1.0M169.5 637.4h1.0M181 631.3h1.0M161.2 597h1.0M143.5 638.1h1.0M180.3 652.5h1.0M174.3 652.5h1.0M162.2 638.5h1.0M165.4 679.3h1.0M167.9 665.5h1.0M156.5 601h1.0M177.3 668.6h1.0M164.6 679.3h1.0M154.3 616h1.0M167.1 621.6h1.0M168 661.6h1.0M167.3 609.3h1.0M172.6 626.7h1.0M166.6 666.9h1.0M144.9 632.7h1.0M156.2 632.5h1.0M169.6 651.3h1.0M172.5 645.7h1.0M164.8 592.7h1.0M166.3 622.9h1.0M174.1 649.5h1.0M189.9 636.8h1.0M166.9 628.6h1.0M169.8 660.1h1.0M165 621.8h1.0M186.2 632.1h1.0M172.4 661.2h1.0M188.5 632.4h1.0M148.8 628.5h1.0M149.9 664.5h1.0M161 653.6h1.0M176.1 651.8h1.0M163.6 603h1.0M158.8 637h1.0M173.9 634.9h1.0M149.8 609.8h1.0M180.6 675.3h1.0M176.7 680.6h1.0M160.6 670.4h1.0M179.6 661.1h1.0M152.7 674h1.0M186.5 656.4h1.0M168.2 630.4h1.0M170.9 619.3h1.0M161 596.7h1.0M159.3 642.3h1.0M179.9 646.7h1.0M191.2 655.7h1.0M175.6 648.7h1.0M157.4 639.6h1.0M149 608.7h1.0M178.4 614.6h1.0M175.2 652.5h1.0M172.2 659.5h1.0M146.5 654h1.0M155.8 625.5h1.0M153.1 625.9h1.0M168 616.8h1.0M154.4 614.1h1.0M177.8 613.5h1.0M162.5 621.7h1.0M168.9 649.9h1.0M152.9 653.2h1.0M175.9 603h1.0M168.2 631.4h1.0M168.4 599.8h1.0M175.1 658.6h1.0M148.4 660.6h1.0M180.1 660.5h1.0M183.5 656h1.0M151.3 671.6h1.0M181.1 608.3h1.0M182.3 612.9h1.0M177.5 602.9h1.0M178.9 633h1.0M160.9 605.1h1.0M152.2 645.3h1.0M161.5 604.4h1.0M166.1 628.3h1.0M163 617.6h1.0M161.3 648.1h1.0M177.8 658.6h1.0M159.5 673.6h1.0M176.6 657h1.0M169.9 664.2h1.0M149.7 662.5h1.0M164.4 618.8h1.0M161.1 670.8h1.0M181.4 669.5h1.0M171.6 649.6h1.0M149.6 611.7h1.0M182.7 663.6h1.0M176.5 677.8h1.0M167 642.5h1.0M163.3 678h1.0M164.4 625.7h1.0M168.7 655.5h1.0M177.3 671.5h1.0M177.9 631.2h1.0M178.4 653.1h1.0M168.7 593.5h1.0M167.7 608.6h1.0M176.7 646.3h1.0M156.6 602.9h1.0M181.6 634.6h1.0M155.1 599.4h1.0M150.5 611.1h1.0M152.6 672.8h1.0M153.8 627.5h1.0M174.3 636.8h1.0M153.6 679.2h1.0M183.6 625.1h1.0M168.3 614h1.0M167.8 646.3h1.0M174.5 616.1h1.0M161.2 617.6h1.0M157.5 668.3h1.0M154.1 610.6h1.0M170.8 610.3h1.0M187.2 641.5h1.0M143.2 641.5h1.0M147.6 662.2h1.0M173.4 607.7h1.0M184 654.4h1.0M150.2 670.8h1.0M181.8 634.9h1.0M172.6 604.5h1.0M175.7 660.4h1.0M165 608.5h1.0M155.8 653.4h1.0M167.5 592.9h1.0M160.1 665.3h1.0M187.1 658.2h1.0M151.4 643.9h1.0M164.5 621.3h1.0M154.8 669.6h1.0M165.7 633.5h1.0M161.1 626.7h1.0M155.8 596.4h1.0M161.1 599.6h1.0M160.6 666.5h1.0M158.5 613.9h1.0M144.4 653.3h1.0M164.7 590.7h1.0M155.7 659.6h1.0M169.9 680.4h1.0M173.2 634h1.0M182.9 663.6h1.0M166.1 598.4h1.0M152.8 619.8h1.0M165.3 660.4h1.0M187.2 667.3h1.0M187.9 631h1.0M161.6 604h1.0M186.1 619.1h1.0M149.4 643.7h1.0M181 657.4h1.0M153 602.5h1.0M146.2 632.8h1.0M171 648.1h1.0M148 654.6h1.0M155.1 624.4h1.0M149.7 621.2h1.0M168.9 604.3h1.0M172.2 604.4h1.0M167.9 597.5h1.0M181.2 613.1h1.0M152.8 677.5h1.0M169.3 676.2h1.0M165.5 609.5h1.0M159.8 652h1.0M160.9 639.2h1.0M174.2 639.7h1.0M160.3 613.8h1.0M155.3 644.7h1.0M179.9 607.6h1.0M178.6 620.3h1.0M154.6 594.6h1.0M179 617h1.0M155.3 654.5h1.0M160.6 622.8h1.0M172.1 631.5h1.0M157.3 649.9h1.0M164.6 602.2h1.0M153.1 647.7h1.0M174.4 628.6h1.0M167.6 628.1h1.0M162.9 676.6h1.0M169.4 620.5h1.0M164.9 657.8h1.0M171.1 608.7h1.0M161.7 636.8h1.0M152.7 616h1.0M158.7 663.5h1.0M175.6 635.8h1.0M168 615h1.0M181.7 664.5h1.0M188.1 643.9h1.0M166.7 642.3h1.0M148.9 641.6h1.0M180.2 642.9h1.0M155.4 624.7h1.0M176.5 679.1h1.0M147.3 650.6h1.0M184.8 632.1h1.0M158.1 615.3h1.0M161.1 623h1.0M177.6 633.2h1.0M178.5 664.3h1.0M178.8 621.4h1.0M144.4 647.4h1.0M183.7 623.1h1.0M151.5 637.7h1.0M161.2 594h1.0M159.4 684.5h1.0M175.4 616.9h1.0M169 666.1h1.0M172.8 597.9h1.0M180.8 652.1h1.0M163.1 627.7h1.0M159.5 672.8h1.0M180.9 660.5h1.0M178.6 611.7h1.0M146.9 627.9h1.0M153.5 646.4h1.0M152.2 650.2h1.0M160.4 680h1.0M173.7 649.3h1.0M168.5 644.3h1.0M150.4 673.2h1.0M161.4 613.8h1.0M158.4 601.1h1.0M175.9 675.1h1.0M161.5 606.3h1.0M153.3 660.1h1.0M173.2 647.6h1.0M186.4 662.4h1.0M152.5 623.2h1.0M171.3 659.9h1.0M180.6 643.4h1.0M154 612.1h1.0M165.5 635.5h1.0M161.3 648.2h1.0M158.5 600.4h1.0M156.5 668.7h1.0M154.3 678h1.0M174.1 643.7h1.0M165.2 619.6h1.0M146.7 663.2h1.0M170.3 669.7h1.0M165.2 641h1.0M176 671.3h1.0M174.4 608.6h1.0M149.2 644.1h1.0M174.7 617.6h1.0M172.7 611.6h1.0M155.6 650.4h1.0M169.5 593.6h1.0M153.9 657.1h1.0M151.9 659.6h1.0M148 627.7h1.0M149 628.6h1.0M151.5 664h1.0M153 666h1.0M156.5 673.3h1.0M155.7 650.5h1.0M156.4 652.7h1.0M154.1 666.8h1.0M150.5 639.8h1.0M145.9 642h1.0M148.6 667.2h1.0M148.5 639.5h1.0M156.7 644h1.0M150 663.3h1.0M146.6 648.2h1.0M150.9 643.3h1.0M149.5 638.2h1.0M156 664.8h1.0M154.4 669h1.0M148.2 642.5h1.0M156 673.7h1.0M154.4 633.4h1.0M152.8 665.6h1.0M155.8 637.2h1.0M148.3 648.3h1.0M155 642.1h1.0M146.7 653h1.0M154.5 672.4h1.0M151.4 675.4h1.0M148.8 653.8h1.0M148.1 640.5h1.0M149.3 664.6h1.0M152.7 651.5h1.0M148.6 636.1h1.0M151 669.5h1.0M147 660.8h1.0M153.6 675.8h1.0M156.9 636.6h1.0M155.3 660.7h1.0M148.1 648.2h1.0M152.8 660.7h1.0M151.2 658.9h1.0M155.8 641.4h1.0M146.5 629.4h1.0M154.2 667.3h1.0M156.4 658h1.0M154.3 667.1h1.0M150.1 644h1.0M159.4 649.9h1.0M152.6 658.2h1.0M151.9 668.1h1.0M151 628.7h1.0M153.2 637.1h1.0M151.8 659.5h1.0M157.5 639.9h1.0M147.8 637.1h1.0M146.9 662.8h1.0M143.9 642.8h1.0M152.4 656.2h1.0M154.4 662.3h1.0M158.4 663.4h1.0M154.7 673.8h1.0M146 655h1.0M150.7 651.7h1.0M144.4 636.9h1.0M156.3 655.8h1.0M146.4 654.7h1.0M153.9 654.9h1.0M152.3 656.9h1.0M150.4 657.9h1.0M152.3 653h1.0M144 648.3h1.0M154.5 651.4h1.0M153.3 642.4h1.0M144.9 655.8h1.0M155.6 669.6h1.0M152.8 647.7h1.0M155.1 666h1.0M146.2 656.1h1.0M145.9 640.7h1.0M153.5 646.6h1.0M157.1 653.8h1.0M150.2 672.4h1.0M150.4 628.3h1.0M154.9 656.3h1.0M157.5 651.7h1.0M146.6 664.1h1.0M150.8 632h1.0M146 652.9h1.0M156.9 652.9h1.0M144.6 646.8h1.0M153 667.4h1.0M149.4 667.2h1.0M147.3 637.9h1.0M149.6 626.8h1.0M154.1 667.6h1.0M151.2 640.6h1.0M149.6 626.8h1.0M151.8 669.9h1.0M158.2 659.6h1.0M152.4 650.3h1.0M152 675.1h1.0M149.1 643.8h1.0M146.9 645h1.0M145.9 640h1.0M149.3 671h1.0M150 661.2h1.0M153.6 657.9h1.0M150.4 658.8h1.0M153.4 659.5h1.0M155.5 667.3h1.0M157 640.2h1.0M153.6 629.4h1.0M156.7 639.2h1.0M150.7 652.4h1.0M153.7 634h1.0M152.4 661.1h1.0M152.1 647.6h1.0M146.8 628.9h1.0M151.5 670.7h1.0M157.6 639.8h1.0M155.2 660h1.0M152.9 656.6h1.0M148.8 639.2h1.0M152 666.3h1.0M154.6 646.4h1.0M145.1 633.8h1.0M153.5 665.9h1.0M154.7 661.9h1.0M154.3 648.9h1.0M149.5 655.5h1.0M156.9 646.7h1.0M153.6 672.2h1.0M144.7 642.6h1.0M158.3 666.7h1.0M155 634h1.0M159.4 655.9h1.0M150.7 647h1.0M155.2 652.1h1.0M153 632.7h1.0M145.1 638.1h1.0M151.9 666.5h1.0M149.9 645.9h1.0M144.9 654.4h1.0M151.6 669.7h1.0M143.7 646h1.0M150.4 630.6h1.0M158.6 651.8h1.0M155.6 666.9h1.0M145.8 661.5h1.0" stroke="#2a7a1a" stroke-width="1.0" fill="none"/>
<path d="M105.8 590.7h1.0M91 645.6h1.0M102.2 599.3h1.0M61.6 617.9h1.0M107.2 606.7h1.0M76.3 585.5h1.0M99.2 616.8h1.0M114 637.9h1.0M89.8 644.9h1.0M53.6 631.1h1.0M107.4 633.3h1.0M89.8 626.4h1.0M117.4 638.6h1.0M108.5 599.7h1.0M63.8 621.3h1.0M61.8 629.2h1.0M83.5 602.3h1.0M73.4 628.5h1.0M84.3 611.6h1.0M94.7 588.7h1.0M87.2 608.9h1.0M72.1 641.4h1.0M108.7 636.4h1.0M96 639.3h1.0M84.6 591.1h1.0M69.7 607.1h1.0M94.6 624.2h1.0M83.4 610h1.0M101.4 599.1h1.0M84.4 580.3h1.0M80.1 589.4h1.0M72.4 590.7h1.0M55.8 620.2h1.0M96 642.7h1.0M116.4 617.8h1.0M79.7 639.9h1.0M87.5 617.6h1.0M113.8 618.9h1.0M69.8 585h1.0M88 594.7h1.0M81.5 635.9h1.0M94.6 626.3h1.0M69.3 596.5h1.0M109.1 588.1h1.0M77.6 588.1h1.0M95.5 580.4h1.0M64 640.8h1.0M76.7 631.5h1.0M104.6 608.7h1.0M105.2 613.9h1.0M69.5 636.9h1.0M95.2 597.8h1.0M85.1 584.7h1.0M75 582.9h1.0M96.2 571.8h1.0M95.9 579.2h1.0M107.4 643.7h1.0M94.4 613.1h1.0M105.6 612.8h1.0M92.3 599.6h1.0M78.7 595.4h1.0M95.2 595.8h1.0M118.5 630.6h1.0M116.1 641.1h1.0M79.4 589.7h1.0M91.7 636.8h1.0M84.1 584.7h1.0M99.5 583.1h1.0M114.5 634.2h1.0M57 625.2h1.0M88.6 640.3h1.0M62.6 617.8h1.0M98.7 629.7h1.0M100 587.3h1.0M91.3 594h1.0M62.8 616.7h1.0M95.9 627.3h1.0M80.1 604h1.0M72 602.5h1.0M90.9 578h1.0M71.7 598.2h1.0M86.3 628.6h1.0M69.1 628.2h1.0M92.9 630.1h1.0M79.1 625.4h1.0M102.1 629.6h1.0M92.3 589.6h1.0M76.4 641.1h1.0M84.4 583.6h1.0M106.4 600.2h1.0M71.9 615.4h1.0M91.3 578.6h1.0M82.3 590.8h1.0M93.9 627.5h1.0M91.3 589.4h1.0M105.6 645.8h1.0M93.9 630.1h1.0M96.2 619.7h1.0M99.5 641.2h1.0M66.2 639.9h1.0M67 604.7h1.0M96.1 634.6h1.0M61.1 627.1h1.0M74.8 578.1h1.0M66.2 610.1h1.0M86.8 643.3h1.0M58.2 616h1.0M71.2 640.3h1.0M96.2 645.1h1.0M95.9 622.5h1.0M98.6 635.8h1.0M90.7 620.8h1.0M98.1 582.4h1.0M60.6 628.6h1.0M74.3 579.2h1.0M111.5 642.8h1.0M75.8 621h1.0M113 630.9h1.0M89 639.9h1.0M105.1 647.2h1.0M90.6 575.2h1.0M114.6 640h1.0M101.4 615.9h1.0M78.4 597.5h1.0M85.3 605.6h1.0M86.5 582.4h1.0M116.6 618.3h1.0M103.4 630.2h1.0M102.5 633.4h1.0M86.7 638.1h1.0M106.4 642.4h1.0M88.4 634.3h1.0M70.7 613.9h1.0M94.5 584.6h1.0M94.7 581.3h1.0M89.2 579.1h1.0M112 618.5h1.0M64.9 619.2h1.0M65.6 613.9h1.0M99.5 601.5h1.0M88.6 591.4h1.0M57.8 635.6h1.0M85.2 627.3h1.0M55.6 630.2h1.0M116.4 615.3h1.0M90.3 579.3h1.0M86.7 579h1.0M115.6 623.7h1.0M71.8 613.8h1.0M72.5 604.6h1.0M63.3 595h1.0M92.9 643.8h1.0M105 583.9h1.0M107.4 600h1.0M56 633.8h1.0M63.9 613.4h1.0M71.6 579.5h1.0M65.5 612.7h1.0M84.1 633.4h1.0M110.6 634.6h1.0M79.4 581.4h1.0M84.1 619.8h1.0M61.2 636.1h1.0M80.1 599.9h1.0M87.5 636.7h1.0M92.5 610.2h1.0M66.2 607.7h1.0M74 590.9h1.0M116.8 638.9h1.0M74.7 581.3h1.0M89.4 623.6h1.0M56.7 620.9h1.0M75.6 582h1.0M94.8 610.6h1.0M105.3 645.9h1.0M108 612.9h1.0M95.1 600.1h1.0M82.3 617.4h1.0M78.3 645.8h1.0M89.4 572.9h1.0M112.7 622.7h1.0M87.7 608.5h1.0M103.8 636.9h1.0M105.9 588.7h1.0M98.5 574.7h1.0M68.1 584.7h1.0M55.1 621h1.0M59.3 625.2h1.0M74.4 612.7h1.0M77.1 640.3h1.0M65.6 630.6h1.0M76.8 590.5h1.0M68.3 628.4h1.0M61.3 623.1h1.0M75.2 632h1.0M63.5 596h1.0M89.7 573.6h1.0M79.2 589.2h1.0M76.6 591h1.0M73.5 609h1.0M73.3 579.6h1.0M111.8 631.2h1.0M102.7 626.5h1.0M75.8 596.8h1.0M73.1 606.8h1.0M71.2 580.5h1.0M91.7 638.6h1.0M78.3 604h1.0M69.3 641.7h1.0M92.5 583.4h1.0M91.3 585.5h1.0M101.7 588h1.0M77.2 582.8h1.0M75.2 630.9h1.0M113.9 632.3h1.0M103.5 641.9h1.0M75.9 612.2h1.0M65.5 600.2h1.0M69.8 623.8h1.0M65.8 602.1h1.0M68.3 620.8h1.0M72.2 611.9h1.0M64 591.6h1.0M111.7 613.2h1.0M108.8 613.2h1.0M95.4 608.6h1.0M73.9 584.8h1.0M66.3 632.2h1.0M58 632.2h1.0M81.8 616.6h1.0M86.4 645.8h1.0M72.2 624.6h1.0M83.2 637.3h1.0M99.4 645.8h1.0M80 583.3h1.0M107.6 632.3h1.0M73.6 605.7h1.0M65.7 632.8h1.0M91.9 594.7h1.0M66.4 606.6h1.0M81.4 604.9h1.0M58.1 609h1.0M75.6 627.9h1.0M106.6 607.5h1.0M83 615h1.0M100.7 595.8h1.0M103.1 631.1h1.0M76 608.6h1.0M75.9 589.8h1.0M108.4 641.9h1.0M67.9 591.6h1.0M85.6 589.1h1.0M110.1 591.1h1.0M92.2 643.8h1.0M57.7 613.1h1.0M90.9 618.2h1.0M85.9 599.5h1.0M103.6 612.4h1.0M101.2 614.9h1.0M78.3 636.2h1.0M76.1 641.8h1.0M82.8 587.1h1.0M60.2 605.9h1.0M115.5 620.8h1.0M74.5 640.1h1.0M78.9 613.7h1.0M105.9 587.2h1.0M88.7 630.7h1.0M99 622.1h1.0M88.7 601.5h1.0M91.8 604.4h1.0M89.9 611.5h1.0M99.3 627.4h1.0M64.5 605h1.0M114 625.7h1.0M70.5 630.6h1.0M94.3 628.1h1.0M61 597.9h1.0M66.5 605.8h1.0M89.9 610.8h1.0M77.1 607.1h1.0M103.9 640.2h1.0M113.3 631.4h1.0M75.3 625.3h1.0M63.1 628.2h1.0M62.9 596h1.0M98.3 624.1h1.0M76 603.9h1.0M103 634.4h1.0M88.3 634.2h1.0M112.7 629.9h1.0M104.6 620.3h1.0M98.2 633.9h1.0M110 589.9h1.0M97.4 646.8h1.0M114.8 615.3h1.0M102.1 574.9h1.0M86.3 616.7h1.0M74.4 622.4h1.0M67.6 600.4h1.0M110.7 612.4h1.0M105.1 593.3h1.0M61 629.1h1.0M97.2 622.8h1.0M73.9 644.2h1.0M86.2 584.6h1.0M106.4 642.4h1.0M93.6 644.6h1.0M83.7 596.9h1.0M82.5 645.8h1.0M72.5 601.4h1.0M79.7 579.6h1.0M81 593.5h1.0M112.7 602.7h1.0M90.4 602.1h1.0M73.5 592.2h1.0M164.6 597.6h1.0M177.8 663.8h1.0M168.3 602h1.0M176.4 637h1.0M171.9 642.9h1.0M158.7 615.3h1.0M159.8 679.1h1.0M165.2 659.9h1.0M161.5 593h1.0M156.9 680.5h1.0M156.7 616.1h1.0M167.8 623.1h1.0M184.8 620.7h1.0M145.7 651.1h1.0M169.5 609.8h1.0M154 668.4h1.0M173.5 605.8h1.0M187.4 651.3h1.0M162.8 636.6h1.0M191.7 645.1h1.0M147.5 634.4h1.0M149.4 633.7h1.0M170.3 648.3h1.0M153.8 679.8h1.0M169.4 603.3h1.0M163.6 617.6h1.0M178.7 641.6h1.0M180 606h1.0M174.5 644.6h1.0M146.8 649.7h1.0M160.6 630.2h1.0M184.7 647.7h1.0M146 618h1.0M152.5 651.7h1.0M168.8 617h1.0M155.1 635h1.0M153.7 600.6h1.0M165 651h1.0M144.4 653.8h1.0M149.7 638.1h1.0M167.6 627.9h1.0M147.9 663.1h1.0M179.6 638.2h1.0M167.1 622.4h1.0M157.2 664.6h1.0M184.1 647.3h1.0M158.3 670.4h1.0M177.6 660.5h1.0M163.5 681.6h1.0M164.3 648.5h1.0M147.5 645.9h1.0M157.3 631.9h1.0M155.8 656.2h1.0M174.3 640.4h1.0M152.8 633.6h1.0M184.5 628.3h1.0M177.8 614.8h1.0M190.8 632.8h1.0M151.3 637h1.0M189.9 639.9h1.0M174.6 615.9h1.0M191.2 651.3h1.0M165.3 620.8h1.0M150.6 671h1.0M180.8 659.4h1.0M169.4 606.5h1.0M163.3 611.2h1.0M157 630.9h1.0M175.2 639.7h1.0M174.5 652.6h1.0M172.6 632.2h1.0M155.1 647.8h1.0M169.8 623.5h1.0M172 648.2h1.0M183.9 654.5h1.0M159.9 648.5h1.0M147.5 645.3h1.0M159.6 607.2h1.0M167 671.7h1.0M169.6 661.4h1.0M153.1 674.1h1.0M168.5 674.6h1.0M156.7 676h1.0M189.7 641.7h1.0M174.4 674.7h1.0M171.9 611.3h1.0M188.7 645h1.0M162.7 597.1h1.0M159.2 669.6h1.0M190.4 650.3h1.0M178.5 606.8h1.0M176.9 674.7h1.0M181.8 654.1h1.0M181.7 634.5h1.0M157.7 610.3h1.0M174.3 672.9h1.0M147.9 639.8h1.0M167.5 683.3h1.0M180.7 614.5h1.0M183.4 668.1h1.0M185.5 625.4h1.0M181.2 614.4h1.0M170.9 599h1.0M172.7 634.8h1.0M171.6 641.6h1.0M175.1 657.9h1.0M182.6 653.8h1.0M178.9 631.6h1.0M156.6 597h1.0M164.8 663.2h1.0M167 645.8h1.0M155.9 664.7h1.0M175.4 613.2h1.0M182.6 631.2h1.0M173.4 648.6h1.0M144.3 645.6h1.0M155.4 625.9h1.0M147.5 664.4h1.0M169.8 617.1h1.0M160.6 638.5h1.0M158 596.8h1.0M171.4 670.3h1.0M174.4 675.2h1.0M151.4 665.1h1.0M163.2 646.6h1.0M182.7 647.4h1.0M160.5 593.1h1.0M181.9 645.8h1.0M188.8 623.7h1.0M174.9 609.6h1.0M169.3 599.8h1.0M187.9 622.1h1.0M150.6 626.6h1.0M172.5 668.5h1.0M150.2 613.6h1.0M174.1 635.3h1.0M147.4 633.4h1.0M174.5 666.4h1.0M180 651h1.0M156.3 638.5h1.0M159.2 595.9h1.0M167.8 632.4h1.0M167.4 638.4h1.0M153.4 597h1.0M167.6 625.5h1.0M152.5 603.5h1.0M177.5 649.2h1.0M182 619.2h1.0M175.7 659.8h1.0M183 647.5h1.0M185 641.5h1.0M172.4 597.4h1.0M187.4 650.7h1.0M166 603.3h1.0M143.6 650.1h1.0M157.5 621.5h1.0M178 626.4h1.0M166.3 648h1.0M150.8 663.1h1.0M168.2 619.6h1.0M188.3 625.5h1.0M145.4 624.5h1.0M173.8 597.9h1.0M149.6 635h1.0M169.3 671.1h1.0M145.5 654.7h1.0M169 599.8h1.0M149.1 643.7h1.0M175.3 681.1h1.0M166.7 662.1h1.0M181.2 629.1h1.0M156.1 613.2h1.0M153 651.7h1.0M164.6 612.9h1.0M179.7 634.6h1.0M160.5 651.1h1.0M182.1 655.4h1.0M164.9 607h1.0M165 651.2h1.0M160.8 597h1.0M179.6 648.3h1.0M185.9 641.1h1.0M164.9 648h1.0M178.1 640.7h1.0M173.9 609.1h1.0M170.5 606.3h1.0M167.9 593h1.0M157.7 636.7h1.0M151.2 607.2h1.0M159.9 627.8h1.0M167.6 633.7h1.0M146.2 654.8h1.0M146.1 631.6h1.0M153.6 602.2h1.0M163.5 641h1.0M176.7 625.9h1.0M162.4 657.7h1.0M155.4 602.2h1.0M171 597h1.0M154.9 649.2h1.0M157.5 673.7h1.0M168.1 621.1h1.0M159.4 680.5h1.0M168.3 628.1h1.0M149.6 635.5h1.0M178.2 614.8h1.0M155.8 599.6h1.0M163.1 665.5h1.0M160.7 635.5h1.0M171.8 682.6h1.0M151.5 631h1.0M175 604h1.0M157.2 681.7h1.0M188.9 648.1h1.0M165.2 683.5h1.0M159.7 638.5h1.0M161.6 631.3h1.0M185.5 617.1h1.0M150.3 607.1h1.0M151.4 633.3h1.0M165 599.4h1.0M165.7 657.4h1.0M148.1 610.5h1.0M164 602h1.0M154.1 598.7h1.0M153.9 637.8h1.0M151.3 671.5h1.0M180 630.7h1.0M172.7 611.1h1.0M177.9 673.5h1.0M172.1 640.9h1.0M155.6 625h1.0M171 651h1.0M159.7 641.5h1.0M156.5 665.3h1.0M156 618.4h1.0M190.1 634h1.0M176.6 615.9h1.0M169.5 604.7h1.0M151.7 655.4h1.0M165.9 613.9h1.0M156 617.9h1.0M149.3 667.6h1.0M189.1 640.3h1.0M146.8 636.9h1.0M157.1 664.5h1.0M183.2 632.7h1.0M181 667.9h1.0M166.9 605h1.0M162.9 606.3h1.0M185.5 636.5h1.0M186.6 655.8h1.0" stroke="#e2f6da" stroke-width="1.0" fill="none"/>
<path d="M84 611.8h1.0M59.9 608h1.0M64.3 604.9h1.0M86 611.6h1.0M89.9 646.2h1.0M85.6 632.5h1.0M77.3 601.4h1.0M92.2 635h1.0M88.3 615.7h1.0M71.7 642.1h1.0M71.2 640.2h1.0M111.8 607.5h1.0M62.9 609h1.0M84.7 606.8h1.0M116 616.7h1.0M87.2 631.7h1.0M87 612.3h1.0M91.3 605h1.0M107.8 624.3h1.0M116.9 637.9h1.0M90.1 617.8h1.0M87.1 578.9h1.0M96.1 576.2h1.0M118.2 620.1h1.0M86 597.9h1.0M98.1 582.6h1.0M114.8 608.3h1.0M103.3 576.9h1.0M108.1 617.2h1.0M83.6 633.6h1.0M91 584.3h1.0M62.9 606.4h1.0M100.2 587.9h1.0M84.9 621.7h1.0M70.6 630.6h1.0M96.9 611h1.0M98.9 580.1h1.0M99.9 608.7h1.0M89.4 571.7h1.0M112.9 621.3h1.0M103 635.9h1.0M80.1 598.4h1.0M89 639.1h1.0M85.8 590.3h1.0M71.3 610.4h1.0M116.2 629.9h1.0M71.2 643.1h1.0M108.8 637.2h1.0M115.8 620.7h1.0M110.3 640.3h1.0M96.2 575.8h1.0M97.1 584h1.0M87.7 607.6h1.0M62.1 639.4h1.0M95.9 581.5h1.0M55.6 623.1h1.0M81.3 576.7h1.0M65.1 622h1.0M69.2 584.4h1.0M98 615.4h1.0M110 599.3h1.0M86.9 589.8h1.0M62.6 613h1.0M71.3 635.2h1.0M95.7 613.6h1.0M107 585.9h1.0M73.2 633h1.0M94.8 572.5h1.0M99.7 609h1.0M84.2 643.8h1.0M91.3 597.2h1.0M89.5 585.7h1.0M85.3 637.3h1.0M108.1 607.4h1.0M67.5 625.1h1.0M105.9 605.7h1.0M59.4 636.1h1.0M103.2 612.6h1.0M84.7 637.4h1.0M78.9 602.9h1.0M84.9 625.4h1.0M96.7 608.7h1.0M89 645.3h1.0M86.7 583.7h1.0M112.7 604.9h1.0M113 617.7h1.0M71.3 618.6h1.0M64.1 635.8h1.0M77.2 644.7h1.0M55.3 629.8h1.0M61.2 598.1h1.0M64.2 595.2h1.0M65.9 618.2h1.0M70.1 616.3h1.0M70.7 613.5h1.0M114.6 619.5h1.0M86.5 586.9h1.0M82.3 646.1h1.0M83.9 576.1h1.0M70 643.1h1.0M97.9 578.7h1.0M74 611.4h1.0M98.6 596.7h1.0M61.8 639.8h1.0M102.5 632.4h1.0M73.5 603.1h1.0M104.3 622.8h1.0M91.8 639.9h1.0M71.1 584.5h1.0M109.1 642.2h1.0M69.5 609.4h1.0M74.8 577.1h1.0M113.4 629.2h1.0M59.2 620.7h1.0M97 622.8h1.0M71.3 610.5h1.0M110.4 626.5h1.0M97.9 579.4h1.0M94.5 645.3h1.0M110.9 633.1h1.0M64.6 599h1.0M66.2 596.7h1.0M96.1 613h1.0M62.6 616.5h1.0M102.4 584.1h1.0M78.2 633.2h1.0M103.4 585.6h1.0M63.2 627h1.0M100.4 623.7h1.0M80.3 596.3h1.0M104.6 600.4h1.0M91.3 616.9h1.0M58.9 630.8h1.0M94.3 611.9h1.0M81.2 621.6h1.0M61.7 633.5h1.0M97.7 601.8h1.0M99.7 617.4h1.0M81.8 611.3h1.0M66.2 618.4h1.0M76.2 627.9h1.0M82.6 637.2h1.0M83.9 579.8h1.0M73.6 635h1.0M87.7 614.2h1.0M61.9 604.2h1.0M93.1 587.9h1.0M95 642.6h1.0M76.2 611.1h1.0M79.8 608.9h1.0M102.7 610.7h1.0M73.4 636.6h1.0M84.9 587.1h1.0M117.3 633h1.0M102 605.4h1.0M89.9 590.8h1.0M99.9 586.9h1.0M98.2 630.9h1.0M118.7 626.4h1.0M103.2 636.2h1.0M113.2 604.1h1.0M79.2 637.3h1.0M89.6 611.1h1.0M98 641.8h1.0M90.5 626.4h1.0M93 627.8h1.0M98 640.9h1.0M70.8 592.5h1.0M91.7 606h1.0M64.5 608.1h1.0M102.5 618.9h1.0M94.4 574.3h1.0M72.4 615.4h1.0M64.3 604.9h1.0M97.5 639.5h1.0M111.3 639.5h1.0M105.4 595.3h1.0M94 598.7h1.0M106.6 646h1.0M81.2 604.7h1.0M115.9 611.7h1.0M97.4 608.3h1.0M77.8 622.9h1.0M110.9 626.6h1.0M86 610.4h1.0M64.7 630.5h1.0M72.8 623.2h1.0M76.9 603h1.0M78.2 609.2h1.0M82.5 620.3h1.0M112.1 616.8h1.0M108.7 594.4h1.0M64.3 592.7h1.0M91.3 626.8h1.0M56.2 622.5h1.0M114.1 624.2h1.0M80 574.4h1.0M79.2 635.7h1.0M65.4 607.5h1.0M91.2 630.7h1.0M97.7 587.4h1.0M110.7 632.1h1.0M72.9 608.3h1.0M100.6 628.4h1.0M69.6 616.9h1.0M104 579.2h1.0M99.5 634.3h1.0M94.1 641.8h1.0M109 599.8h1.0M98.6 604.1h1.0M80.8 646.4h1.0M103.3 585.2h1.0M57.5 612.7h1.0M101.4 603.6h1.0M97 577.4h1.0M89 573.4h1.0M99.5 598.7h1.0M59.5 627h1.0M94.7 620.5h1.0M93.8 589.1h1.0M108.6 605.7h1.0M82.8 574.1h1.0M107.7 629.6h1.0M90.4 573.4h1.0M89.6 616.8h1.0M104.6 624.5h1.0M83.5 641.9h1.0M87.9 636h1.0M100.2 602.6h1.0M102.2 644.5h1.0M98.5 633.3h1.0M111.4 631.4h1.0M80.5 640.6h1.0M87.4 581.4h1.0M90.6 618.7h1.0M118.2 629.9h1.0M106.7 601.8h1.0M92.6 574.3h1.0M99.8 592.4h1.0M102.4 609.6h1.0M76 614.8h1.0M78.6 613.9h1.0M65.1 638.7h1.0M94.3 639.3h1.0M90.5 641.7h1.0M83.8 631.8h1.0M72.6 584.7h1.0M79.5 611.9h1.0M91.3 591.3h1.0M83.7 592.7h1.0M97 619.2h1.0M67.7 592.1h1.0M85.4 640.9h1.0M90.9 619h1.0M104.3 607.7h1.0M78.8 620.1h1.0M95.8 623.8h1.0M80.5 637.2h1.0M98.7 648.4h1.0M77.2 623.4h1.0M95.3 620.9h1.0M103.4 611.4h1.0M108.4 624.6h1.0M81.7 609.3h1.0M83.8 633.1h1.0M80.1 579h1.0M84.2 615h1.0M106.7 632.5h1.0M108.1 621.3h1.0M79.7 630.2h1.0M87.6 626.7h1.0M65.2 626.5h1.0M83.8 626.1h1.0M61.2 616.4h1.0M101.7 623.9h1.0M107.6 609.8h1.0M68.4 626.9h1.0M80 606.9h1.0M102.6 594.8h1.0M60.3 603.9h1.0M88.6 620.9h1.0M99 600.6h1.0M77 595.5h1.0M99.5 575.2h1.0M90.5 613.9h1.0M90.3 642.9h1.0M87.6 589.2h1.0M89.6 628.2h1.0M68.6 622.3h1.0M113.9 622.5h1.0M101.3 618.2h1.0M70.1 607.6h1.0M77.4 612.5h1.0M107 641.8h1.0M95.9 612.8h1.0M81.8 605.6h1.0M62.2 624.7h1.0M90.1 598.9h1.0M63.1 638.5h1.0M89.9 631h1.0M80.8 604.3h1.0M70.3 638.4h1.0M73.5 589.2h1.0M88.2 613.2h1.0M70.1 619.7h1.0M61.6 614.8h1.0M88.8 573.4h1.0M93.1 630.6h1.0M88.7 630.7h1.0M54.7 626.7h1.0M109.2 614.4h1.0M87.4 630.6h1.0M92.7 642.5h1.0M76.2 601.1h1.0M98.7 614.5h1.0M98.7 598.7h1.0M81.1 635.4h1.0M116 640.9h1.0M103.9 642h1.0M90.6 593.7h1.0M97.8 592.5h1.0M65.1 590.7h1.0M90.7 594.7h1.0M110.9 598.9h1.0M93.8 612.4h1.0M104.9 583.2h1.0M78.6 638.8h1.0M117.2 614.3h1.0M76.2 588.3h1.0M89.5 583.4h1.0M76.2 584.5h1.0M105.4 623.4h1.0M77.5 587.6h1.0M69.6 643.1h1.0M104.6 646.5h1.0M93.9 640.2h1.0M79.4 575.7h1.0M67.3 618.4h1.0M86.2 634.2h1.0M106.8 613.5h1.0M99.9 585.3h1.0M92.9 573.5h1.0M82.4 590.4h1.0M95.6 630h1.0M111.6 600.6h1.0M79.1 607.8h1.0M113.8 611.7h1.0M110.7 622.2h1.0M110.1 622.4h1.0M84 638.5h1.0M105.8 644.4h1.0M86.5 595.2h1.0M63.8 590.1h1.0M82.1 610.9h1.0M69 597h1.0M96.5 589h1.0M108 633.3h1.0M84.8 616.2h1.0M104.3 627.9h1.0M75.4 599.6h1.0M106.4 620.3h1.0M92 614.5h1.0M115.3 628.7h1.0M104.5 603.6h1.0M75.5 621h1.0M79 600.2h1.0M66.9 624.2h1.0M100.6 606h1.0M84.2 620.3h1.0M79.7 600h1.0M88.6 622.8h1.0M81.8 614.2h1.0M84.1 593.1h1.0M98.9 600h1.0M113 640.9h1.0M60.2 633.6h1.0M117.2 631.6h1.0M73.7 587.8h1.0M114.5 635.9h1.0M107.8 620.4h1.0M86 604.6h1.0M95 631.8h1.0M77.5 619.8h1.0M71.9 610.5h1.0M66.8 613.5h1.0M83.1 613.1h1.0M56.7 628.7h1.0M79.2 622.6h1.0M91.7 617.4h1.0M101.5 623.4h1.0M80 610h1.0M90.2 638.5h1.0M79 642.3h1.0M62.8 626.7h1.0M113.3 637.7h1.0M98.1 599.1h1.0M87.7 644.6h1.0M95.4 580.8h1.0M112.3 624.1h1.0M95.8 608.4h1.0M103.4 602.6h1.0M71.2 618.6h1.0M110.2 603.8h1.0M59.7 611.2h1.0M86.1 578.5h1.0M108.5 616.3h1.0M94.7 576.5h1.0M64.7 591.9h1.0M62.3 607.8h1.0M101.7 633.4h1.0M109.9 630.8h1.0M64.3 621.6h1.0M94.9 573.1h1.0M100.3 636.5h1.0M102.9 580.2h1.0M66.7 628.5h1.0M111.7 602.3h1.0M92.7 646.4h1.0M109 592.5h1.0M91.1 646.1h1.0M94.8 613.4h1.0M68.8 636.1h1.0M103.5 585.4h1.0M57.4 623.1h1.0M57 628.4h1.0M95.8 574.7h1.0M95.5 617.5h1.0M92.4 620h1.0M67.1 632.2h1.0M77.1 632.3h1.0M67.5 586h1.0M110.1 637.8h1.0M88 595.9h1.0M86.1 590.7h1.0M80.7 633.7h1.0M111.8 597.7h1.0M64.6 589.1h1.0M66.4 607.5h1.0M70 630.6h1.0M94.3 593.8h1.0M94.7 583.4h1.0M70.9 589.5h1.0M90.9 608.5h1.0M103.8 586.1h1.0M62 612h1.0M90.7 626.1h1.0M61.7 610.5h1.0M82.5 598.9h1.0M83.2 590.5h1.0M70.9 588.4h1.0M73 602.8h1.0M83.4 572.8h1.0M109.8 608.8h1.0M88.6 606.7h1.0M116 624.3h1.0M105.3 622h1.0M88.3 586.3h1.0M100 642.9h1.0M68.7 622h1.0M70.6 602.9h1.0M111.7 618.2h1.0M79.5 603.5h1.0M82.5 586.7h1.0M98.7 598.9h1.0M108.7 589.5h1.0M114.2 625.5h1.0M112.2 598.4h1.0M68.9 606.7h1.0M106 625.8h1.0M92 630.9h1.0M81.4 591.3h1.0M68.3 633.8h1.0M100.1 613.1h1.0M113.5 616.4h1.0M77.8 581.3h1.0M90.9 609.4h1.0M92.7 595.3h1.0M96 623h1.0M97.4 586.4h1.0M75.5 644.2h1.0M109.2 608.3h1.0M82.2 635.5h1.0M99.4 632.3h1.0M65.3 621.7h1.0M81.8 581.8h1.0M57.8 613.4h1.0M58.9 635.9h1.0M81.2 585.9h1.0M92.9 639.3h1.0M105.1 579.3h1.0M91.2 602.3h1.0M72 605.8h1.0M83.4 606.1h1.0M74.4 597.3h1.0M85.1 642.6h1.0M88.8 632.6h1.0M67.5 603.5h1.0M71 606.4h1.0M111 640.5h1.0M90.9 618.5h1.0M63.2 595.6h1.0M66.3 608.9h1.0M103.2 581.1h1.0M87.5 623.9h1.0M109.3 615.3h1.0M83.8 605.1h1.0M115 607.9h1.0M94.7 574.9h1.0M79.2 611.5h1.0M94.5 607.6h1.0M99.9 630.4h1.0M66.5 620h1.0M98.5 594.4h1.0M67.6 640.3h1.0M65.7 615.3h1.0M107.1 623.3h1.0M99.3 632.3h1.0M71.5 582.5h1.0M88.7 611.2h1.0M88 576.2h1.0M61.8 639.2h1.0M71.6 623.5h1.0M117.2 624.3h1.0M74.5 633.6h1.0M89 600.6h1.0M95.2 618.7h1.0M95.1 606.1h1.0M99 635.2h1.0M74.4 607.9h1.0M82 579.1h1.0M111.3 641.9h1.0M91.8 608.2h1.0M82.4 604.6h1.0M96.4 621.3h1.0M92.3 587.8h1.0M72.3 598.6h1.0M117.4 627.7h1.0M82.1 604.2h1.0M67.8 639.3h1.0M91 598.3h1.0M66.7 628.3h1.0M111 594.5h1.0M79 629.1h1.0M58.8 638.3h1.0M102.1 646.7h1.0M100 606.2h1.0M73.8 596.6h1.0M78.5 627.7h1.0M106.9 585.7h1.0M108.7 592.5h1.0M86.9 628.8h1.0M99.5 579.7h1.0M101.6 637.4h1.0M113.4 631.1h1.0M75.2 579.4h1.0M85.9 609.2h1.0M57.2 621.6h1.0M98.8 619.8h1.0M83.5 603.2h1.0M79.4 610.4h1.0M101.8 624.3h1.0M57.3 635.6h1.0M100.2 603.8h1.0M83.5 643.6h1.0M60.1 624.1h1.0M100.6 607h1.0M77.3 643.6h1.0M68 604.6h1.0M74.3 615.5h1.0M89.2 611.7h1.0M68 607.2h1.0M78.1 631.4h1.0M100 616.6h1.0M66 629.4h1.0M96.9 621.5h1.0M93.5 595.8h1.0M95.6 619.6h1.0M99.9 575.9h1.0M58.4 611.9h1.0M110.5 608.3h1.0M97.7 601.5h1.0M78 591.6h1.0M102.5 609.5h1.0M94.8 628.6h1.0M103.6 615.8h1.0M91.9 589.3h1.0M89.2 571.4h1.0M89.7 614.8h1.0M109.3 611.1h1.0M100.5 629.2h1.0M96.4 578.8h1.0M97.8 645.9h1.0M102.4 581.2h1.0M101.2 641.2h1.0M79.9 595.3h1.0M98.1 615.9h1.0M104.4 588.8h1.0M92.3 599.8h1.0M103.7 616.4h1.0M97.5 633.3h1.0M111.7 616.4h1.0M100.9 581.8h1.0M83.8 628.4h1.0M85.4 574.2h1.0M65.4 600.2h1.0M117.3 615.2h1.0M67.9 622.5h1.0M76.3 633h1.0M61.5 601.7h1.0M83.7 646.2h1.0M108.2 622.5h1.0M81.2 620.6h1.0M73.1 624.3h1.0M89.5 616.9h1.0M86.7 634.1h1.0M85 573.6h1.0M108.7 646.2h1.0M62.4 633.3h1.0M69 640.7h1.0M56.2 619.8h1.0M78.1 626.7h1.0M91.6 618.4h1.0M95 581.5h1.0M98.9 596.2h1.0M75.9 643.6h1.0M54.7 624.2h1.0M96.6 623.5h1.0M67.6 595.7h1.0M108.8 607.1h1.0M72.5 637.2h1.0M86.6 636.8h1.0M101 612.6h1.0M111.8 632.4h1.0M99.5 626h1.0M84.4 621h1.0M91.6 571.9h1.0M106.4 627.4h1.0M89.1 624.4h1.0M72.6 591.4h1.0M106.5 616.8h1.0M96.1 627.7h1.0M102 582.4h1.0M107.9 629.3h1.0M87.1 601.2h1.0M95.8 594.3h1.0M77.9 592.9h1.0M85.6 581.8h1.0M87.8 595.7h1.0M80.2 593h1.0M94.9 605h1.0M104.9 643h1.0M91 593.5h1.0M92 571.4h1.0M102.2 644.8h1.0M100.3 634.4h1.0M103.2 624.7h1.0M55.2 621.8h1.0M100.4 644.3h1.0M113.7 626.2h1.0M75.4 607.3h1.0M63.3 632.4h1.0M97.1 590.2h1.0M92.6 580.2h1.0M105.5 587.5h1.0M55.2 629.8h1.0M90.3 589.1h1.0M88.7 581.8h1.0M93.3 583.6h1.0M90.8 602.3h1.0M69.6 621.1h1.0M76 644.5h1.0M61.6 607.1h1.0M68 597.5h1.0M97.3 626.5h1.0M58 623h1.0M95.7 618.3h1.0M97.1 603.5h1.0M88.6 608.5h1.0M58.9 625.1h1.0M67.7 606.9h1.0M93.9 616.6h1.0M91.9 630.6h1.0M102.5 632.8h1.0M89.7 637.9h1.0M68.6 595.8h1.0M77.4 627.6h1.0M88.8 619h1.0M80.3 602.1h1.0M70.1 607.3h1.0M79.9 609.9h1.0M74.8 636.5h1.0M105.2 603.3h1.0M90.9 592h1.0M56.4 625.8h1.0M99.3 624.7h1.0M61.2 620.5h1.0M75.2 594.6h1.0M106.5 630h1.0M74 611.1h1.0M77.5 637.6h1.0M61.3 605.7h1.0M97.3 581.1h1.0M63.1 595.9h1.0M100.1 576.7h1.0M86.3 577.2h1.0M99.7 602.6h1.0M90.9 623.9h1.0M101 591.2h1.0M106.6 610.4h1.0M79.5 576.2h1.0M97.3 632.3h1.0M89 644.1h1.0M72 587.8h1.0M95.3 647.9h1.0M65.3 631.2h1.0M78.3 610.9h1.0M110.6 593.8h1.0M112.1 645.4h1.0M90.8 582.2h1.0M115.2 638h1.0M75.7 618.1h1.0M67.1 638.2h1.0M88.6 639.8h1.0M101.8 601.3h1.0M103.3 624.6h1.0M112.4 636.7h1.0M112.9 601.5h1.0M74.1 588.2h1.0M85.1 576.8h1.0M81.6 592.2h1.0M78.1 624h1.0M98.7 604.8h1.0M96.2 617.3h1.0M110.5 608.3h1.0M104.7 645.9h1.0M99.9 603h1.0M73.1 595.2h1.0M111.8 635.1h1.0M62.8 592.6h1.0M86.2 646.9h1.0M64.7 620.4h1.0M59.4 634.7h1.0M70.6 616.4h1.0M68.7 587.2h1.0M84.1 637.1h1.0M83.9 598.4h1.0M101.4 609h1.0M63 605.9h1.0M105.4 602.7h1.0M81.1 609h1.0M85.2 634.4h1.0M116.5 617h1.0M100.4 615.1h1.0M104.6 623h1.0M73 609.2h1.0M81.3 581h1.0M64 627.1h1.0M100.5 592.2h1.0M64.1 604.9h1.0M61.5 636.6h1.0M80.7 611.8h1.0M65.3 616.2h1.0M69.3 640.7h1.0M76.4 610.3h1.0M75.3 578.7h1.0M71.4 624.1h1.0M88.2 580.9h1.0M64.9 587.7h1.0M69.3 593.2h1.0M101.1 592h1.0M90.7 594.6h1.0M58.5 620.8h1.0M81 580.2h1.0M68 637.8h1.0M61.8 630.9h1.0M64.8 602.3h1.0M75.6 591h1.0M94.5 602.2h1.0M74.1 595.1h1.0M92.1 582.1h1.0M66.2 615h1.0M72.6 604.6h1.0M107.4 589.4h1.0M60.6 605h1.0M60.6 639.7h1.0M65.6 612.4h1.0M90.7 617.3h1.0M57.8 614.8h1.0M101.3 643.5h1.0M65.3 587.4h1.0M79.5 579.2h1.0M100.8 614h1.0M81.6 581.5h1.0M72.6 614.1h1.0M66.3 634.6h1.0M90.1 595.9h1.0M78.8 574.4h1.0M75.6 617.1h1.0M64.6 607.2h1.0M75.8 633.2h1.0M80.6 643.2h1.0M62.8 607.7h1.0M86 614.7h1.0M106.8 610.8h1.0M81.7 580.1h1.0M109 599.5h1.0M83 601.7h1.0M105.6 629.5h1.0M97.1 640.1h1.0M74.4 625.3h1.0M84.8 630.5h1.0M93.2 641.2h1.0M74.8 588.9h1.0M107.4 628.3h1.0M93.7 588.2h1.0M113.7 639.1h1.0M65.2 632.4h1.0M80.3 606.2h1.0M66.7 594.6h1.0M75.5 594.3h1.0M76.4 617.6h1.0M89.7 646.4h1.0M110.1 634h1.0M62.3 600.9h1.0M78 642.9h1.0M61.3 634.7h1.0M105.2 646.9h1.0M80.4 637.5h1.0M77.7 586.6h1.0M87.1 607.9h1.0M79.3 637h1.0M99.8 579.5h1.0M74.5 582.3h1.0M68.1 613.7h1.0M71.5 632.7h1.0M108.4 640.4h1.0M97.6 646.6h1.0M75.4 625.7h1.0M98.3 597.4h1.0M96.1 637.5h1.0M84.8 596.7h1.0M94.8 579.7h1.0M70.6 613.4h1.0M77.7 618.9h1.0M101.8 592.1h1.0M60.6 622.3h1.0M74.5 587.1h1.0M91.2 581.8h1.0M87.7 642h1.0M90.4 614h1.0M78.7 584.2h1.0M55.4 628.4h1.0M71.6 610h1.0M91.3 607.2h1.0M90.7 572.9h1.0M81.3 573.6h1.0M61.4 628.3h1.0M102.2 600h1.0M108.4 642.8h1.0M75.3 591.6h1.0M98.3 606.3h1.0M62.7 633.6h1.0M64.3 611.7h1.0M70.2 603.9h1.0M99.5 606.1h1.0M67 603.8h1.0M91.6 629.5h1.0M63.7 594.7h1.0M103.9 615.1h1.0M106.6 635.3h1.0M97.7 572h1.0M96.8 588.6h1.0M103.6 613.7h1.0M83.1 588.2h1.0M75.4 637.9h1.0M101 591.1h1.0M89.2 635.3h1.0M106.2 616.4h1.0M90.2 608.8h1.0M85 642.8h1.0M66.7 611.2h1.0M82.5 617.6h1.0M117.7 618.2h1.0M65.8 595.1h1.0M75.6 592.2h1.0M77.5 633.9h1.0M75.2 613.7h1.0M64.3 625.3h1.0M79.2 623.5h1.0M102.2 643.8h1.0M107.1 639.5h1.0M96.8 620.9h1.0M71.3 629.7h1.0M80.9 609.1h1.0M99.6 578.1h1.0M84.9 630.6h1.0M101.7 588h1.0M108.5 613.2h1.0M84 612.5h1.0M102.3 634.9h1.0M73.1 637h1.0M100.8 603.6h1.0M92.6 570.2h1.0M71.8 603.1h1.0M65.8 619.6h1.0M108.8 634h1.0M88.1 647.3h1.0M91.9 627.5h1.0M117.5 631.6h1.0M94.7 610.2h1.0M75.8 636.6h1.0M108.2 610.6h1.0M80.5 580.9h1.0M90.8 601h1.0M80.5 631.3h1.0M116.6 625.8h1.0M101.5 609.4h1.0M94 633.8h1.0M95.8 587.1h1.0M70.6 601.7h1.0M92.5 573.2h1.0M81.4 619h1.0M60 602.5h1.0M108.6 629.7h1.0M112.9 626h1.0M63 625.4h1.0M75.6 644.5h1.0M60.5 621.1h1.0M107.3 585.4h1.0M76.4 597.6h1.0M105.2 579.6h1.0M68.7 585.6h1.0M94.7 570.7h1.0M61.6 623.8h1.0M71.3 581h1.0M89.1 630.2h1.0M70.3 612.1h1.0M100.4 645.2h1.0M90.8 640.2h1.0M85.9 597.2h1.0M104.4 585.4h1.0M74.7 608.3h1.0M85.5 573h1.0M104.9 593.6h1.0M103.4 595.8h1.0M90.1 616.1h1.0M88.1 628.8h1.0M103.3 615.2h1.0M72.9 603.2h1.0M84.2 606.9h1.0M107.2 593.8h1.0M84.5 643.3h1.0M57.9 636.8h1.0M102.5 623.3h1.0M83.5 607.7h1.0M79.4 644.8h1.0M83.8 581.8h1.0M110.1 624.2h1.0M114.8 639.9h1.0M110.1 591h1.0M72.6 639.1h1.0M103.4 616.5h1.0M87.9 595.2h1.0M71.2 601.1h1.0M89.7 638.6h1.0M107.5 604.1h1.0M91.5 592.3h1.0M110.5 613.5h1.0M63.4 605.4h1.0M78.5 598.7h1.0M102.3 644.2h1.0M88.2 620.7h1.0M69.4 611.3h1.0M112.2 600.6h1.0M71.3 637h1.0M85.6 644.7h1.0M101.4 601.2h1.0M82.6 615.4h1.0M96.3 642.7h1.0M70.4 583.5h1.0M95.6 609h1.0M95.1 634.8h1.0M66.4 641.6h1.0M73 641.1h1.0M106.2 618.4h1.0M87.3 579.9h1.0M67.5 609.9h1.0M80 638.6h1.0M101.5 611.3h1.0M85.8 626.3h1.0M80 599.7h1.0M64.3 595.1h1.0M68.1 592.8h1.0M108.6 588.5h1.0M80.4 590.3h1.0M114.4 627.3h1.0M73.6 589.6h1.0M69.8 628.5h1.0M110.3 641.4h1.0M91.9 639.5h1.0M83.1 584.4h1.0M114.1 639h1.0M89.4 601.1h1.0M77.2 625.8h1.0M99.1 606h1.0M76.3 575.9h1.0M61 607.8h1.0M114.1 632.6h1.0M88.4 576.7h1.0M77.3 588.6h1.0M68.9 621h1.0M87.5 576.2h1.0M111.6 641.1h1.0M76.3 601.4h1.0M110.5 606.1h1.0M66.9 586.7h1.0M78.9 630.2h1.0M102.9 578.7h1.0M87.9 618.1h1.0M81.4 638h1.0M82.8 639.6h1.0M64.2 597.2h1.0M94.6 620.7h1.0M97.9 605.5h1.0M73.7 603.7h1.0M65.2 633.2h1.0M89.5 605.1h1.0M99.6 586.8h1.0M96.8 619.7h1.0M67.3 634.6h1.0M72.9 608.9h1.0M104.9 614h1.0M68.3 632.8h1.0M59.2 603.8h1.0M94.3 605.5h1.0M84.9 612.7h1.0M74.1 589.8h1.0M76.6 591.6h1.0M100.9 621.3h1.0M71.7 626.1h1.0M106.2 641.3h1.0M76.8 611.1h1.0M66.7 617.8h1.0M98.5 582.4h1.0M76.8 580.8h1.0M67.6 626h1.0M71.6 626.3h1.0M79.3 598.5h1.0M102.3 575h1.0M115.3 635.7h1.0M65.6 592.4h1.0M93 625.7h1.0M77.1 605.8h1.0M79.4 620.9h1.0M81.9 636h1.0M106.4 587.2h1.0M100.1 616.9h1.0M98.3 610.5h1.0M56 619.8h1.0M96.6 629.8h1.0M84.7 601.6h1.0M77.7 585.4h1.0M103.5 608.6h1.0M81.7 586.6h1.0M88 624.5h1.0M90.9 591.6h1.0M107.9 630.3h1.0M75.7 643.1h1.0M99.3 641.9h1.0M67.9 618.4h1.0M85.2 589h1.0M93.4 625.5h1.0M95.5 640.8h1.0M79.7 628h1.0M115.2 630.2h1.0M56.3 632.8h1.0M106.3 607.9h1.0M115.9 628.4h1.0M112.8 642.9h1.0M64.5 599.8h1.0M77.4 625.7h1.0M96.5 605.3h1.0M85.6 614.6h1.0M110.2 629.4h1.0M87.7 623.2h1.0M60.4 617.6h1.0M100.7 601.5h1.0M111.3 619.2h1.0M67.3 612h1.0M89.5 612.2h1.0M67.6 593.7h1.0M110.3 641.9h1.0M95.2 630.2h1.0M60.1 624.4h1.0M96.1 577.3h1.0M108.2 598.2h1.0M86.5 609.3h1.0M93.3 636.1h1.0M93.7 612.2h1.0M76.4 619.1h1.0M99 595.1h1.0M86.2 581h1.0M89.8 604.1h1.0M87.9 581.5h1.0M76.2 594h1.0M93.9 598.3h1.0M103.2 629.7h1.0M86.8 625.5h1.0M78.5 627.3h1.0M85.9 584.2h1.0M88.1 635.8h1.0M78.7 603.4h1.0M91.8 633.2h1.0M70.3 609.2h1.0M94.1 633.6h1.0M97.6 614.2h1.0M106.9 595.6h1.0M106.5 623.3h1.0M83.2 576.2h1.0M102.3 598.5h1.0M84 618.2h1.0M62.8 602.2h1.0M109.6 623.2h1.0M93.6 637.3h1.0M79 590.4h1.0M80.1 596h1.0M76.8 621h1.0M71.6 610.7h1.0M92.5 617.9h1.0M90.9 598.7h1.0M70.7 636.9h1.0M73 624.9h1.0M113.7 612.4h1.0M84.9 622.1h1.0M65.4 606.5h1.0M65.2 611.6h1.0M64.2 632.4h1.0M61.9 608.5h1.0M62.9 593.2h1.0M69.8 616.9h1.0M95.8 580.4h1.0M102.5 646h1.0M86 589.6h1.0M87.2 586.4h1.0M97.8 638.2h1.0M101.2 592.1h1.0M62.5 640.4h1.0M82.6 639.4h1.0M103.9 602.5h1.0M108.8 617h1.0M91.1 617.1h1.0M87.5 616.9h1.0M78.2 606.7h1.0M61.7 603.7h1.0M99.4 579.1h1.0M99.2 603.9h1.0M85.9 593.9h1.0M99.9 593.7h1.0M76.7 585h1.0M67.9 593.8h1.0M86 600.5h1.0M82.9 582.9h1.0M89.5 647.7h1.0M102.4 635.6h1.0M65.3 586.6h1.0M78.7 611.4h1.0M105.5 624.8h1.0M92.8 602.1h1.0M82.6 578.8h1.0M85.3 605.7h1.0M92 582.1h1.0M72.7 611.8h1.0M86 618.5h1.0M68.3 610.2h1.0M73.5 602.5h1.0M91.4 626h1.0M67.4 642.8h1.0M114.3 628.6h1.0M95.7 629.7h1.0M72.1 597.7h1.0M95.8 613.1h1.0M61.1 619.7h1.0M113.8 620.8h1.0M109.8 623.5h1.0M75.9 636.7h1.0M94.1 579.4h1.0M61.4 625.6h1.0M91.1 619.1h1.0M84.4 641.3h1.0M82.1 594h1.0M93.4 628.6h1.0M117.5 616.7h1.0M78.9 604h1.0M100.8 604.7h1.0M106.9 617.5h1.0M74.8 636.5h1.0M61.9 627.2h1.0M74 592.7h1.0M107 595.6h1.0M110.5 617.8h1.0M64.6 626.8h1.0M78.4 609.6h1.0M93 622.1h1.0M67.2 594.8h1.0M91.7 638.5h1.0M110.4 608.7h1.0M117.7 629.4h1.0M86.1 646h1.0M97.1 632.3h1.0M106.2 647h1.0M76.2 578.6h1.0M99.2 630.8h1.0M70.5 633.2h1.0M54.1 629.6h1.0M92 612.7h1.0M112.5 618.1h1.0M73.6 593.5h1.0M114.5 608.6h1.0M107.5 646.9h1.0M71.1 608.5h1.0M78 586.3h1.0M106.9 637.3h1.0M79.9 624.8h1.0M97.9 573h1.0M82.2 630.1h1.0M96.2 571.9h1.0M83.9 613.7h1.0M113.1 601.7h1.0M107.7 619.4h1.0M109.3 600.7h1.0M55.5 625.3h1.0M75.8 606h1.0M83.2 627.7h1.0M90.1 592.3h1.0M114.6 607.8h1.0M115.1 621h1.0M108.6 585.5h1.0M71.4 611.8h1.0M77 599.9h1.0M116.5 630.2h1.0M85.2 585.5h1.0M100.6 631.6h1.0M79 628h1.0M82.3 596.8h1.0M115.4 638.1h1.0M59.5 614h1.0M68.4 643h1.0M93.3 596.7h1.0M60.3 613.4h1.0M116.4 623h1.0M104.6 622.5h1.0M82.7 595h1.0M71.1 582.3h1.0M93.2 595.3h1.0M75.8 643.7h1.0M60.2 616h1.0M83.6 642.5h1.0M60.4 628.2h1.0M100.5 595.3h1.0M100.3 629.1h1.0M69.9 587.5h1.0M86.8 627.9h1.0M91.7 603.8h1.0M68.4 607.5h1.0M93.7 581.9h1.0M98.2 630.9h1.0M95.4 575.2h1.0M72.2 579h1.0M94.5 587h1.0M80.6 589.5h1.0M95.1 609h1.0M74.4 627.3h1.0M57.7 618.1h1.0M113.8 610.3h1.0M62.6 620.4h1.0M105 623h1.0M75.3 606.1h1.0M101.9 602.8h1.0M113.7 623.7h1.0M62 622.5h1.0M92.1 572.9h1.0M111.3 601.4h1.0M100.2 577.6h1.0M64.8 601.8h1.0M68 629h1.0M108 639.4h1.0M64.9 613.9h1.0M65.4 628.8h1.0M87.2 603.1h1.0M114.1 613h1.0M63.2 593.2h1.0M80.9 599.6h1.0M65.7 634h1.0M55.6 618.6h1.0M58.2 621.1h1.0M83 584.3h1.0M149.5 639.8h1.0M146.7 624.9h1.0M149.7 635.4h1.0M166.6 654.1h1.0M166.8 609h1.0M157.5 680.5h1.0M152.3 642.9h1.0M171.1 675.2h1.0M187.9 641.3h1.0M160.8 606.4h1.0M163 611.5h1.0M160.1 665.6h1.0M146.7 634.1h1.0M185.8 637.9h1.0M176.9 645.3h1.0M150.3 620.6h1.0M156.9 662h1.0M159.6 664.9h1.0M168.5 674.7h1.0M178.7 645.9h1.0M182 639.5h1.0M166.9 643.8h1.0M176.3 661.5h1.0M156.3 678.6h1.0M171.6 608.8h1.0M183.8 666.9h1.0M183 655.4h1.0M169.7 608.6h1.0M185.9 633.8h1.0M170.9 647.5h1.0M171.2 679.9h1.0M153.2 618.8h1.0M159.9 607.9h1.0M150 634.7h1.0M155 680.5h1.0M171.3 672.6h1.0M177.4 660.9h1.0M152.6 636.1h1.0M148.2 651.4h1.0M180.6 619.5h1.0M169.9 640.9h1.0M147.2 642.2h1.0M163.9 672.8h1.0M167.9 647.2h1.0M151.6 647.8h1.0M154.9 658.6h1.0M157.4 679h1.0M171.7 604h1.0M144.9 654.2h1.0M157.6 679.6h1.0M165.2 638.8h1.0M169.8 647.8h1.0M159.3 606.8h1.0M171.9 606.2h1.0M168.8 620.2h1.0M190.4 654.2h1.0M164.6 600.9h1.0M165.5 619.7h1.0M164.9 618.6h1.0M157.8 639.5h1.0M163.2 684h1.0M189.8 639.5h1.0M158.7 606.7h1.0M180.9 649.3h1.0M180.7 609.4h1.0M183.7 655.4h1.0M181.9 620h1.0M168.2 596.3h1.0M180.1 627.1h1.0M158.8 639.8h1.0M180.4 652.5h1.0M150.6 633.5h1.0M183.3 646.3h1.0M181 645.1h1.0M160.9 597.8h1.0M187.9 633.5h1.0M187.5 635.6h1.0M190.1 650.8h1.0M175.5 674.1h1.0M164.7 671h1.0M153.8 610.8h1.0M171.2 650.7h1.0M161.7 646h1.0M179.5 638.3h1.0M163.7 591.7h1.0M149.9 642.9h1.0M160.4 652.3h1.0M167.4 621.1h1.0M157.4 656.4h1.0M185.5 660.3h1.0M167.8 649.9h1.0M181.7 648.8h1.0M160.3 610.5h1.0M168.4 647.5h1.0M187.3 624.8h1.0M160.9 661.7h1.0M188.9 632.3h1.0M155.5 679.2h1.0M159.6 656.3h1.0M152.2 619.2h1.0M167.9 612.6h1.0M166.9 599.6h1.0M150.2 633.8h1.0M162.9 600.8h1.0M164.2 625.5h1.0M163.7 654.7h1.0M148.5 612.6h1.0M173.4 615.9h1.0M150.8 646h1.0M143.3 640.5h1.0M172.3 617.1h1.0M160.1 625.1h1.0M156.7 661.3h1.0M168 648.2h1.0M149.7 610.2h1.0M166.8 631.7h1.0M173 627.8h1.0M180.7 619h1.0M163.1 646.1h1.0M180 661.1h1.0M150.2 605.4h1.0M177.5 629.8h1.0M174.1 674.7h1.0M179.8 615.6h1.0M147.6 652.6h1.0M150.4 640.3h1.0M150.5 652.1h1.0M180.7 632.3h1.0M165.7 675h1.0M156.8 678.4h1.0M162.5 636.3h1.0M186.6 634.2h1.0M148.7 626.9h1.0M169.3 618.3h1.0M186.2 642.5h1.0M170.8 661.1h1.0M184.4 622.5h1.0M188 626.7h1.0M182.7 614.2h1.0M148.5 651.8h1.0M177.8 645h1.0M170 652.9h1.0M156.9 598.6h1.0M168.3 657.1h1.0M152 673.1h1.0M184.1 651.7h1.0M157.8 616.7h1.0M163.7 642.5h1.0M148.2 611.5h1.0M160.6 591.9h1.0M161.1 598.3h1.0M182.2 635.1h1.0M185.8 653.9h1.0M154.2 628.5h1.0M149.7 616.2h1.0M157.5 675.4h1.0M182.8 639.1h1.0M152.6 657h1.0M181 623.3h1.0M170 649.9h1.0M166.8 603.2h1.0M180 677.1h1.0M187.2 665h1.0M180.4 653.7h1.0M163.4 637.9h1.0M150.8 628.3h1.0M159.6 638.5h1.0M187.4 621.2h1.0M164.9 607.6h1.0M154.3 656.8h1.0M178.1 633.6h1.0M153.4 620h1.0M174.4 675.9h1.0M190.8 637.1h1.0M161.6 641.5h1.0M163.3 644.4h1.0M173.3 676h1.0M173.3 682.1h1.0M164.4 666.9h1.0M181.5 623.4h1.0M147.2 651.1h1.0M159.5 676.2h1.0M163.1 680.5h1.0M179.8 647.2h1.0M159 606h1.0M159.8 596.6h1.0M143.7 646.7h1.0M179 640.3h1.0M175.1 649.9h1.0M159.3 626.4h1.0M161.5 630.8h1.0M160.6 604.2h1.0M181 663.2h1.0M146.4 635.1h1.0M162.5 647.6h1.0M165.9 626.7h1.0M173.7 644.4h1.0M165.4 677.2h1.0M159.5 638.1h1.0M165.6 597.1h1.0M157.8 601.1h1.0M153.3 674.3h1.0M180.6 673h1.0M151 650h1.0M167 665h1.0M156.8 629.9h1.0M157.2 656.3h1.0M156.8 618.1h1.0M182.3 657.1h1.0M188.6 640h1.0M179.8 652.3h1.0M146.4 644.9h1.0M169.7 656.5h1.0M160 658.9h1.0M167.7 684.3h1.0M146.9 642.1h1.0M175.1 640.2h1.0M159.6 634.1h1.0M179.4 647.3h1.0M170 598.7h1.0M165.2 598.6h1.0M173.5 658.4h1.0M169.4 599.6h1.0M162.1 638.6h1.0M154 675.7h1.0M157.1 639.7h1.0M156.4 660.8h1.0M152.6 633.9h1.0M190.5 631.6h1.0M189 622.6h1.0M146.6 638.6h1.0M171.5 673.4h1.0M170.1 613.6h1.0M154.5 666.1h1.0M187 658.8h1.0M187 651h1.0M178.9 632h1.0M182.7 660.9h1.0M164 619.7h1.0M179.3 614.5h1.0M190.5 635.8h1.0M183.9 634.9h1.0M167.4 648h1.0M183 651.2h1.0M168 675.6h1.0M168.2 678.4h1.0M177.3 633.7h1.0M177.5 636.5h1.0M153.6 645.4h1.0M174.4 667.1h1.0M176.7 678.5h1.0M172.3 680.7h1.0M189.3 655.7h1.0M166.8 597.2h1.0M146.5 628.8h1.0M172.4 612.5h1.0M174.2 650.1h1.0M170.7 680.7h1.0M183.6 624.9h1.0M164.6 627h1.0M156.5 615.5h1.0M190.5 639.1h1.0M157.1 644.5h1.0M160.7 651.8h1.0M150.6 621.7h1.0M164.2 669.8h1.0M147 654.2h1.0M190.1 648.6h1.0M156.6 601.9h1.0M177.8 626.8h1.0M157.6 614.2h1.0M170.9 639.4h1.0M169.9 619h1.0M169.6 621h1.0M177.5 679.5h1.0M155.4 634.9h1.0M152.9 662.3h1.0M171.8 650.9h1.0M174.3 608.6h1.0M182.9 624.3h1.0M168.6 621.6h1.0M158.7 625.4h1.0M183.5 625.5h1.0M165.5 647.2h1.0M162.2 679.2h1.0M184.5 649.1h1.0M173.6 666.3h1.0M184.5 646.1h1.0M190.7 648.5h1.0M167.3 657.5h1.0M184.7 640.1h1.0M143.6 631.1h1.0M156.8 615.5h1.0M188.8 660.4h1.0M176.3 630.9h1.0M184.3 654.5h1.0M174.1 602.6h1.0M160.9 622.9h1.0M180.6 624.9h1.0M189.3 653.1h1.0M170.1 645.2h1.0M169.7 617.6h1.0M144.7 646.4h1.0M167.7 617.5h1.0M154.1 636.6h1.0M150.5 632.7h1.0M157.5 669h1.0M155.7 660.5h1.0M178.5 637.9h1.0M150.7 658.5h1.0M168.8 660.2h1.0M164.1 629.2h1.0M178 672.5h1.0M164.8 657.7h1.0M157.7 663.2h1.0M148.6 641.1h1.0M156.1 672.5h1.0M148.3 664.8h1.0M159.2 639h1.0M174.4 653.4h1.0M166.9 661.6h1.0M152.3 653.5h1.0M161.6 648.1h1.0M156.2 625.6h1.0M188.2 657.3h1.0M183.4 625.1h1.0M163.2 610.7h1.0M175.6 642.9h1.0M145.5 638.9h1.0M173.1 664.9h1.0M155.7 619.4h1.0M151.1 621.3h1.0M175 632.1h1.0M159.9 602.8h1.0M154.8 651.1h1.0M174.2 634.8h1.0M153.3 624.1h1.0M182.4 616.7h1.0M178.5 652.7h1.0M190.5 641.3h1.0M154.9 627.1h1.0M176.8 611.9h1.0M143 641.5h1.0M173.6 614.4h1.0M180.1 623.4h1.0M178.6 604.1h1.0M163.8 613.1h1.0M154.9 646.2h1.0M155.8 668.9h1.0M164.8 664.3h1.0M158.4 595.6h1.0M161.5 628.8h1.0M169.7 600.1h1.0M153.5 642.8h1.0M155.5 641.4h1.0M150.2 664.8h1.0M178.7 664.8h1.0M145.6 640.5h1.0M170.3 680.6h1.0M187.1 628.9h1.0M179.4 654h1.0M182.1 645.9h1.0M160.6 625.9h1.0M182.2 631h1.0M168.9 638.3h1.0M156.7 645.7h1.0M161.2 680h1.0M150.6 619.6h1.0M188.8 646.6h1.0M167 669.3h1.0M156.3 636.6h1.0M173 599.8h1.0M168 667.9h1.0M147.5 625.8h1.0M159.4 592.2h1.0M170.8 667.1h1.0M164.7 662.8h1.0M181.2 645.2h1.0M149.7 625h1.0M159.6 597.5h1.0M165.1 683.6h1.0M145.4 642.8h1.0M153 606.6h1.0M183.2 637.7h1.0M187.3 651.2h1.0M160.4 615.9h1.0M168.4 683h1.0M176 611.8h1.0M158.9 608.7h1.0M187.5 659.8h1.0M190.7 641.5h1.0M183.8 643.7h1.0M158.2 665.6h1.0M151.9 613.6h1.0M151.1 664h1.0M156.7 670.4h1.0M183.9 642.7h1.0M166.6 624.8h1.0M171.8 632.4h1.0M154.3 605.9h1.0M161.6 599.3h1.0M165.6 665.7h1.0M145.7 618.1h1.0M154.5 665.7h1.0M155.9 606.1h1.0M157.8 617.2h1.0M164.7 602.3h1.0M161 678.6h1.0M171 625.9h1.0M151.4 668.5h1.0M160.1 646.8h1.0M159.3 606.9h1.0M154.2 649.4h1.0M190 651.5h1.0M169.4 634.5h1.0M166.4 640.4h1.0M165 656.3h1.0M143.1 645.4h1.0M154.3 610.5h1.0M180 647h1.0M161.7 633.1h1.0M157.1 653.7h1.0M175.8 623.4h1.0M160.5 597.3h1.0M165.8 631.9h1.0M173.4 647.8h1.0M170.6 655.4h1.0M169.1 632.3h1.0M161.7 627.9h1.0M155.5 623.3h1.0M172.6 614.6h1.0M158.3 632.6h1.0M170.8 612.2h1.0M173.4 600.8h1.0M189.9 653.4h1.0M186.3 633h1.0M143.4 648.7h1.0M145.4 622.5h1.0M150.1 639.4h1.0M154.7 641.9h1.0M170.3 673.5h1.0M168.4 597h1.0M160.1 637.3h1.0M181.2 617.5h1.0M150.5 604h1.0M163.5 678.2h1.0M153.2 621.3h1.0M160.6 645.2h1.0M160.7 654.8h1.0M175 655.9h1.0M170.7 644.9h1.0M166.5 676.4h1.0M181.5 646.5h1.0M169.3 654.5h1.0M149.3 644.6h1.0M164.3 628.7h1.0M177.2 640.8h1.0M186.3 659.8h1.0M186 629.7h1.0M171.9 606.1h1.0M160.1 639h1.0M174.6 648.7h1.0M170.7 620.1h1.0M146.4 616h1.0M162.1 644.8h1.0M151.5 673.7h1.0M166.3 592.3h1.0M157.5 650.8h1.0M180.9 622.4h1.0M158.5 657.5h1.0M164.7 626.2h1.0M166.5 600h1.0M170.2 632.4h1.0M166.7 633.2h1.0M185.1 662h1.0M172.7 653.2h1.0M166.4 634h1.0M147.4 661h1.0M174.2 644.2h1.0M154.8 678.3h1.0M161.9 616.1h1.0M175 603.3h1.0M163.8 649h1.0M143.2 649.5h1.0M167.5 608.9h1.0M158.1 658.4h1.0M170.5 658.4h1.0M150.2 613.3h1.0M172 628.5h1.0M174.3 636.6h1.0M182.2 671.8h1.0M150.7 610.9h1.0M155.2 642.6h1.0M173.7 664.7h1.0M160.1 600.4h1.0M172.5 668.3h1.0M164.4 627.1h1.0M159 668.1h1.0M188.3 647.1h1.0M162.5 672.4h1.0M151.1 636.2h1.0M145.3 661h1.0M178.4 633.6h1.0M177.3 637.5h1.0M166.1 635.7h1.0M178.2 629.3h1.0M171.7 670.7h1.0M173.3 655.4h1.0M156.5 653.4h1.0M184 641h1.0M164 669h1.0M164.6 650.4h1.0M188.6 638.1h1.0M151.3 672.6h1.0M168.5 614.4h1.0M187.3 621.1h1.0M152.4 613.9h1.0M174.6 643.1h1.0M146.8 649h1.0M158.5 614.7h1.0M163.4 600.7h1.0M177.5 660.2h1.0M184.3 664.2h1.0M170 632.3h1.0M170.6 635.5h1.0M152.1 665h1.0M160.2 671h1.0M177.3 628.9h1.0M171.3 640.7h1.0M161.7 660.9h1.0M167.2 600h1.0M146.1 630.6h1.0M169.6 624.7h1.0M186.2 627.5h1.0M167.9 618.1h1.0M159.5 657h1.0M144.3 648.5h1.0M171.1 623.2h1.0M154.1 662.8h1.0M184.8 659.3h1.0M175 638.4h1.0M163.3 661.9h1.0M150.9 664.3h1.0M150 655.9h1.0M186.7 644.7h1.0M169.1 645.2h1.0M151.6 640.4h1.0M152.5 602.1h1.0M168.1 631.9h1.0M185.6 657.8h1.0M189.8 643.6h1.0M179.9 654.3h1.0M154.7 602.9h1.0M159 629.1h1.0M150.8 609.6h1.0M182.6 640.1h1.0M176.6 618.9h1.0M171.1 626.3h1.0M150.7 666.7h1.0M187.2 628.4h1.0M179.7 663.5h1.0M167 655.7h1.0M155.5 657.3h1.0M180.2 610.2h1.0M157.4 642.7h1.0M147.5 632.3h1.0M169.2 654.5h1.0M151.6 662.1h1.0M160.1 607.2h1.0M158.8 625.2h1.0M179.4 628.4h1.0M164.6 631.1h1.0M170 621.6h1.0M165.9 620.5h1.0M155.9 675.8h1.0M159.8 623.4h1.0M143.9 644h1.0M172.7 643.4h1.0M168.3 670.6h1.0M171.3 628.2h1.0M177.8 634.4h1.0M152.1 621.7h1.0M187.3 626.4h1.0M155.3 664.1h1.0M155.9 628.3h1.0M183.6 616h1.0M154.9 627.4h1.0M169.1 628.3h1.0M149.4 660.6h1.0M170.1 600.1h1.0M160.7 617.2h1.0M162.9 663.4h1.0M148.1 636.6h1.0M168.2 598.3h1.0M179.1 635.8h1.0M189.6 658.9h1.0M180 631.6h1.0M153.5 640.8h1.0M153.2 657h1.0M156.9 664.4h1.0M174 624.8h1.0M185.7 647.1h1.0M150.4 664.4h1.0M189.9 629.2h1.0M163.6 651.7h1.0M161.1 674.8h1.0M164.7 657h1.0M180.5 644.5h1.0M147.8 666.3h1.0M182.4 670.5h1.0M188.4 665.4h1.0M171.9 676.7h1.0M166.9 624.1h1.0M165.3 594.9h1.0M150.8 614.7h1.0M160.2 663h1.0M147.7 638.5h1.0M167.1 636.7h1.0M161.6 654.5h1.0M153.4 642h1.0M165.4 681.7h1.0M157.4 644h1.0M149 664.1h1.0M162.8 606.3h1.0M172.5 652.6h1.0M180.7 648h1.0M158.8 676.6h1.0M183.4 670.4h1.0M143.9 641.4h1.0M185.9 636.8h1.0M165.4 600h1.0M189.7 656.2h1.0M166.9 676.5h1.0M169.1 620.6h1.0M178.4 626.9h1.0M157.7 635.1h1.0M157.7 678.6h1.0M173.4 650.7h1.0M190.2 648.2h1.0M164.4 658.4h1.0M161.7 646.5h1.0M157.4 612.6h1.0M160 660.5h1.0M165.7 621.2h1.0M168.4 604.8h1.0M182.2 635.6h1.0M174.6 656.7h1.0M155.2 643.5h1.0M161.7 663.2h1.0M155.4 640.1h1.0M177.7 653h1.0M158.1 651.3h1.0M150.6 669h1.0M191 649.3h1.0M172.1 668.8h1.0M169.1 608.6h1.0M172.7 661.2h1.0M164.4 627.2h1.0M167.7 601.8h1.0M159.1 645.7h1.0M163.4 618.5h1.0M184.7 654.2h1.0M188 643.3h1.0M167.4 654h1.0M155.4 669.6h1.0M186.3 638.7h1.0M181 667.1h1.0M153.7 673.5h1.0M169.2 663.8h1.0M146.8 664.1h1.0M165.1 594.2h1.0M178.2 659.2h1.0M144.9 637.7h1.0M168.8 675.4h1.0M181.2 615.2h1.0M167.2 644.2h1.0M155.7 630.7h1.0M160.4 633.4h1.0M184.6 632.3h1.0M163.9 603.1h1.0M164.9 634.5h1.0M183.9 653.4h1.0M173.8 659.8h1.0M185.3 654.8h1.0M189.3 661.9h1.0M144.7 648.1h1.0M156.7 677.6h1.0M144.2 630h1.0M164 637.4h1.0M173.5 659h1.0M183.6 656.9h1.0M176 650.3h1.0M152.2 624.4h1.0M156.4 620.5h1.0M183.7 638.2h1.0M149.3 632.5h1.0M173.9 666.6h1.0M158.7 638h1.0M162.8 646.4h1.0M163.7 611.9h1.0M149.3 638.2h1.0M165.1 626.2h1.0M166.8 647.9h1.0M176.6 610.6h1.0M173.3 617.3h1.0M161.4 634.5h1.0M169.4 655.9h1.0M151.2 666.2h1.0M157.2 642h1.0M178.5 656h1.0M165.1 594.9h1.0M162 643.1h1.0M153.7 671.2h1.0M170.4 640h1.0M167 640.2h1.0M154.3 642.5h1.0M164.2 595.4h1.0M174.3 670.6h1.0M183.1 654.9h1.0M183.6 635.8h1.0M169.2 673.4h1.0M170.1 672.7h1.0M181.7 655.8h1.0M162.3 612.7h1.0M163.6 604.3h1.0M178.1 649h1.0M152.2 623.8h1.0M152.9 677.5h1.0M188 665.2h1.0M163.9 683.2h1.0M154.9 653.8h1.0M173.7 665.2h1.0M155 603.5h1.0M168.6 615.1h1.0M154.7 641.2h1.0M186.2 662.5h1.0M171.3 664.3h1.0M155.5 611.7h1.0M174.9 649.1h1.0M156.4 621.7h1.0M168.2 683.7h1.0M184.4 668.4h1.0M168.4 594.3h1.0M173.3 681.4h1.0M151.6 643.2h1.0M179.3 637.9h1.0M150.2 671h1.0M161.7 681.2h1.0M166.4 651h1.0M176.4 648.5h1.0M175.6 669.5h1.0M186 616.8h1.0M178.8 628h1.0M174 680.9h1.0M180.9 626.8h1.0M166.3 630.7h1.0M156.7 624.1h1.0M177.3 645.4h1.0M173.1 603.9h1.0M179.1 615.6h1.0M160.8 620h1.0M154.9 648.1h1.0M177.8 620.7h1.0M181.3 642.1h1.0M183.6 668.8h1.0M179.7 669h1.0M147.1 644.2h1.0M177 668.8h1.0M163.2 611.3h1.0M161.4 655.6h1.0M172.6 618h1.0M189.7 662.6h1.0M177.8 619h1.0M151.4 612.3h1.0M186.8 640.9h1.0M187.4 619.8h1.0M188.6 661.1h1.0M180.3 654.3h1.0M177.1 643.7h1.0M163 646.9h1.0M152.9 663.7h1.0M166.3 642.7h1.0M189.7 656.8h1.0M166.5 674.8h1.0M168.6 668.8h1.0M160.7 606.1h1.0M155.4 642.2h1.0M190 642.1h1.0M159.7 596h1.0M169.7 653.5h1.0M148.4 651.8h1.0M164.5 674.4h1.0M158.9 598.3h1.0M189.8 639.7h1.0M159.6 641.6h1.0M176 658.6h1.0M190.2 634.1h1.0M165.6 592.1h1.0M154 665.5h1.0M172.6 672.8h1.0M154.6 597.6h1.0M165.4 681.8h1.0M176.7 630.7h1.0M145.1 647.5h1.0M179.5 609.5h1.0M183.9 616.9h1.0M172.3 636.4h1.0M165 662.1h1.0M150.7 647h1.0M165.4 658.2h1.0M161.7 595.1h1.0M174.7 632.4h1.0M159.9 677.5h1.0M150 625.8h1.0M170.1 638.6h1.0M167.9 657.1h1.0M153.3 607.9h1.0M171 654.3h1.0M171.5 634.1h1.0M150.6 613.9h1.0M189 623.1h1.0M161.8 595.4h1.0M177.8 617h1.0M152.2 614.4h1.0M156.1 675.4h1.0M160.5 678.2h1.0M167.6 660h1.0M167 658.5h1.0M183.2 647.7h1.0M172 614.9h1.0M160.7 617.3h1.0M178.1 644.2h1.0M189.6 662.7h1.0M146.7 657.9h1.0M169.1 613.4h1.0M181.4 652.6h1.0M178.8 671.9h1.0M175.3 632.8h1.0M161.7 677.4h1.0M152.6 662.8h1.0M175.1 645.4h1.0M161.5 609h1.0M165.8 625.2h1.0M184.5 647.9h1.0M167.1 624.5h1.0M177.7 672.9h1.0M154.1 660.6h1.0M190.1 633.1h1.0M166.6 598h1.0M181.1 647.1h1.0M151.1 668.8h1.0M165.2 662.5h1.0M161.3 606.3h1.0M176 612h1.0M148.5 628.2h1.0M160.3 631.8h1.0M189.4 645.1h1.0M168.5 669.7h1.0M169.4 654.3h1.0M181.4 671.1h1.0M162 682h1.0M161.9 644.5h1.0M155.5 660.5h1.0M144.9 645.9h1.0M188.4 655.5h1.0M164.8 612h1.0M165.5 634.2h1.0M170 671.5h1.0M175.4 631.8h1.0M162.9 615.8h1.0M155 667.9h1.0M162.8 629.5h1.0M187.3 643.3h1.0M161.4 636h1.0M187.7 643.2h1.0M169.1 647.7h1.0M146.7 658.5h1.0M161.9 646h1.0M175.8 612.3h1.0M149.1 637.2h1.0M167.9 604.8h1.0M180.5 620.4h1.0M165.9 668.2h1.0M173.8 648.6h1.0M171.6 648.3h1.0M184.9 658.1h1.0M151.8 648h1.0M162.8 653.9h1.0M157.2 665.9h1.0M167 675.3h1.0M168.3 602.5h1.0M172.2 631.4h1.0M159 639.6h1.0M181.5 631.5h1.0M161.9 649h1.0M167.3 679.9h1.0M158.1 632.2h1.0M150.4 652.5h1.0M167.4 609.4h1.0M168 593.3h1.0M152.7 648.6h1.0M170.5 663.8h1.0M144.1 634.5h1.0M172.6 681.1h1.0M151.9 626.6h1.0M180.1 624.1h1.0M178.7 633.7h1.0M169.5 606.5h1.0M175.4 649.3h1.0M179.3 655.7h1.0M179.3 626.3h1.0M177.6 662.5h1.0M179.8 662h1.0M149.3 638.2h1.0M153.7 680h1.0M190 659.4h1.0M169.5 639.4h1.0M159.8 672h1.0M177 643.9h1.0M159.4 627.5h1.0M150.9 643.8h1.0M183.7 619.3h1.0M172.4 610.4h1.0M179.6 667.8h1.0M188 640.5h1.0M185.9 648.3h1.0M161.8 595h1.0M144.9 646.9h1.0M169 608.4h1.0M172.6 640.2h1.0M173.8 666h1.0M150.9 650.2h1.0M177.4 671.2h1.0M163.7 607.3h1.0M177.9 666.9h1.0M168.4 609.3h1.0M162.3 663h1.0M148.4 625.2h1.0M174.2 670.2h1.0M163.4 604.1h1.0M172 676.2h1.0M160.3 646.2h1.0M175.7 600h1.0M169.8 612h1.0M151.6 625.1h1.0M177.5 628.5h1.0M169.9 627.7h1.0M165.9 645.3h1.0M178 616.6h1.0M188.2 633.2h1.0M155.8 670.9h1.0M170.4 637.8h1.0M168.5 611h1.0M167 658.1h1.0M155.8 605.4h1.0M186.3 665.5h1.0M159.2 664.4h1.0M159.3 620.7h1.0M159 640.2h1.0M158.2 592.1h1.0M149 642h1.0M180.7 643.9h1.0M168.5 682.3h1.0M183.7 615.6h1.0M163.8 605.3h1.0M155.8 677.5h1.0M161.9 676.9h1.0M172.9 657.1h1.0M164.1 624.3h1.0M171.4 624.4h1.0M188.9 658.9h1.0M147.2 635.9h1.0M181.4 674.7h1.0M176.8 672.3h1.0M156.2 622h1.0M177.8 658.4h1.0M167.6 642.5h1.0M184.4 634.6h1.0M158.3 678.7h1.0M161.1 613.3h1.0M183.2 613.7h1.0M167.9 599.9h1.0M180.5 666.1h1.0M156 648.2h1.0M178.2 621.9h1.0M174 636.7h1.0M178.6 619.3h1.0M177.6 669.5h1.0M152.4 606.2h1.0M143.5 645h1.0M174.1 621.7h1.0M152.5 630.7h1.0M152.4 644.1h1.0M149 668.3h1.0M175.2 661.5h1.0M183.8 636.1h1.0M182.8 648.3h1.0M168.3 684h1.0M169.5 620.7h1.0M155.5 651.2h1.0M165.9 668.6h1.0M184.4 617.2h1.0M177 636h1.0M145 656.9h1.0M155.3 666h1.0M150.8 610.8h1.0M173.3 616.6h1.0M179.6 621.1h1.0M160.8 647h1.0M172.5 665.3h1.0M163.3 643.5h1.0M180.9 644.3h1.0M162.4 596.7h1.0M157 633.5h1.0M156.9 614.8h1.0M172.8 677.4h1.0M173.5 646.8h1.0M155.2 617.6h1.0M177.4 677.4h1.0M148 637.2h1.0M176.8 651.5h1.0M162.3 640.5h1.0M149.1 639.6h1.0M183 635.7h1.0M187.4 638.4h1.0M155.8 619.8h1.0M161.9 629.9h1.0M182.3 616.6h1.0M163.4 599h1.0M178.3 608.5h1.0M185.5 616.5h1.0M158.2 624.6h1.0M159.3 673h1.0M168.7 679.5h1.0M167.5 626.2h1.0M187.5 663.5h1.0M185.4 618.2h1.0M153.9 632.2h1.0M170.3 607.4h1.0M152.4 671.7h1.0M147.8 627.6h1.0M153.9 609.5h1.0M147.9 628.5h1.0M184.2 621.6h1.0M178.6 610.2h1.0M164.7 604.4h1.0M178.6 624.5h1.0M155 652.7h1.0M153.9 624.3h1.0M176.7 656.1h1.0M188.8 633.4h1.0M165 683.1h1.0M181.1 639h1.0M150.2 608.3h1.0M157.1 609.7h1.0M183.6 625.8h1.0M151.4 636.6h1.0M159.6 591.4h1.0M179.1 646.6h1.0M159.7 591.8h1.0M185.1 655.6h1.0M161.4 631.9h1.0M190.6 657.7h1.0M188.9 635.3h1.0M162.1 680.5h1.0M161.4 677.1h1.0M165.4 640.7h1.0M162.2 639.2h1.0M148.2 660.8h1.0M168.9 613.1h1.0M174.2 681.7h1.0M159 591h1.0M145.7 637.5h1.0M152.6 648.8h1.0M164.8 635.3h1.0M156.5 592.9h1.0M167.1 614h1.0M172.9 647.8h1.0M151.1 662.1h1.0M160.9 608.9h1.0M186 620.8h1.0M156.8 610h1.0M169.6 622.2h1.0M144.4 640.5h1.0M170.5 652.3h1.0M157 644.2h1.0M169 623.6h1.0M151.1 624.4h1.0M187.5 657.4h1.0M156.7 664.3h1.0M154.6 624.1h1.0M182.4 648.9h1.0M162.4 657.9h1.0M151.2 651.7h1.0M175.1 617.7h1.0M157.4 665h1.0M164.9 609.5h1.0M153.5 676.4h1.0M158.3 663.1h1.0M188.5 636.7h1.0M160.4 677h1.0M163.3 657.3h1.0M144.9 626h1.0M157.7 628.7h1.0M163.5 680.4h1.0M155.7 630.4h1.0M157.2 592.7h1.0M182.7 628.2h1.0M175.4 608.9h1.0M166.1 659.5h1.0M157.5 605.1h1.0M157.9 604.4h1.0M168.6 593.3h1.0M178.7 610.1h1.0M171.4 604.8h1.0M160.8 680.6h1.0M153 667.8h1.0M171 632.6h1.0M163 625.9h1.0M183.6 625.6h1.0M178.1 640.6h1.0M151.3 663.7h1.0M181 648.4h1.0M184.1 668.3h1.0M175.8 604.7h1.0M159.7 668h1.0M166.1 657.2h1.0M159.7 614.6h1.0M146.5 650.9h1.0M145.5 655.2h1.0M162.2 674.5h1.0M157.7 610.9h1.0M183.5 636.2h1.0M157.4 638.1h1.0M155.9 638.9h1.0M160.7 675.2h1.0M153.5 647.1h1.0M180.4 651.6h1.0M167.5 666h1.0M179.9 612.9h1.0M157.2 615.1h1.0M170.1 665.8h1.0M186.5 654.6h1.0M176.9 627.5h1.0M152.8 600.2h1.0M177.6 607.4h1.0M157.6 634.2h1.0M171 654.6h1.0M163.6 636.8h1.0M180.2 649.6h1.0M186.3 668.2h1.0M160.2 654.7h1.0M164.4 673.2h1.0M148.7 655.3h1.0M189.8 658.3h1.0M185.5 623.7h1.0M151.1 633h1.0M185.1 666.6h1.0M155.6 627.7h1.0M158.9 610.8h1.0M181 631.6h1.0M190.5 645.4h1.0M150 607.2h1.0M154.6 628.5h1.0M157.1 676h1.0M188.5 657.7h1.0M144.7 640.4h1.0M174.7 614.9h1.0M156.1 625.1h1.0M180 636.9h1.0M176.4 628.1h1.0M152 669.9h1.0M166.4 593.9h1.0M152.2 662.2h1.0M174.1 621.8h1.0M162 602.4h1.0M185.4 658.4h1.0M152.7 618.6h1.0" stroke="#55e030" stroke-width="1.0" fill="none"/>
<path d="M70.9 608.2h1.0M115 642.4h1.0M73.7 636.7h1.0M71.7 603.2h1.0M84.6 599.2h1.0M88.8 647.1h1.0M65.7 607.5h1.0M90.7 577.1h1.0M111.8 614.9h1.0M85.3 605.9h1.0M111.8 600.3h1.0M109 602.6h1.0M86.4 636.5h1.0M76 618.3h1.0M95.6 620.2h1.0M103.3 640.4h1.0M80.7 643.4h1.0M82.8 612.7h1.0M96.8 617.1h1.0M69.6 607.9h1.0M62 609.2h1.0M63.6 603.2h1.0M102.3 591h1.0M95.3 572.5h1.0M64.8 591.4h1.0M73.4 642.8h1.0M65.5 589h1.0M97.1 583.6h1.0M102.8 633h1.0M113.7 621.6h1.0M56.6 629.3h1.0M110.4 613.3h1.0M105.6 614.8h1.0M81.2 615.7h1.0M106.4 589.7h1.0M111 614h1.0M109.2 620.2h1.0M82.8 621.9h1.0M67.9 623.4h1.0M98.8 604.9h1.0M91.5 610.1h1.0M73.2 636.4h1.0M64 602.8h1.0M98.5 587.5h1.0M104.3 628.5h1.0M109.2 640.1h1.0M83.3 588.6h1.0M106.5 595.4h1.0M102.3 634.3h1.0M108.3 613.8h1.0M67.2 624.3h1.0M97.7 588.1h1.0M85.5 575.8h1.0M100.9 582.7h1.0M91.9 611.4h1.0M84.6 646h1.0M114.2 616.2h1.0M79.1 620h1.0M101.1 622.8h1.0M95.4 636.9h1.0M98.4 603.8h1.0M87.3 597.8h1.0M82.7 604.9h1.0M106 610.7h1.0M67.5 601.1h1.0M102.8 603.7h1.0M94.8 599.9h1.0M61.2 634.1h1.0M63.8 616.8h1.0M84.7 634.5h1.0M80.7 579.2h1.0M99.6 596.5h1.0M155.6 674.8h1.0M172.4 667.1h1.0M147.8 613.7h1.0M154.8 649.5h1.0M180 660.6h1.0M147.3 627.5h1.0M149.9 609.9h1.0M163.3 648.5h1.0M151 626.8h1.0M178.9 610h1.0M166.8 614.6h1.0M171 649.3h1.0M177 605h1.0M177.6 655h1.0M151.2 605.2h1.0M160.4 624.1h1.0M168.3 630.7h1.0M177.7 602.7h1.0M156.8 617.7h1.0M180.9 663.9h1.0M154 655.3h1.0" stroke="#f59222" stroke-width="1.0" fill="none"/>
<path d="M96.0 652.0 L106.0 646.0 L115.0 639.0 L119.0 640.0 L116.0 645.0 L106.0 651.0 L98.0 655.0Z" fill="#d8a040" fill-opacity="0.55" filter="url(#bl)"/>
<path d="M59.3 674.1 L57.2 677.2 L54.8 679.8 L52.3 681.9 L50.0 683.1 L48.0 683.5 L46.3 683.1 L45.2 681.8 L44.7 679.8 L44.8 677.1 L45.5 674.1 L46.9 670.8 L48.7 667.5 L50.8 664.4 L53.2 661.8 L55.7 659.7 L58.0 658.5 L60.0 658.1 L61.7 658.5 L62.8 659.8 L63.3 661.8 L63.2 664.5 L62.5 667.5 L61.1 670.8Z" fill="#f59222" fill-opacity="1.0" filter="url(#bl2)"/>
<path d="M77.0 677.0 L83.0 678.0 L87.0 688.0 L88.5 700.0 L90.0 712.0 L95.0 716.0 L102.0 718.0 L103.0 724.0 L98.0 726.0 L92.0 722.0 L86.0 714.0 L81.0 702.0 L78.0 690.0Z" fill="#f59222" fill-opacity="0.6" filter="url(#bl2)"/>
<path d="M156.0 683.0 L163.0 684.0 L168.0 690.0 L172.0 697.0 L171.0 702.0 L166.0 700.0 L161.0 694.0 L157.0 690.0Z" fill="#f59222" fill-opacity="0.9" filter="url(#bl2)"/>
<path d="M90.5 666.0 L100.0 664.0 L112.0 664.0 L122.0 665.0 L126.0 668.0 L126.5 674.0 L123.0 684.0 L117.0 695.0 L111.0 705.0 L105.0 713.0 L100.0 717.5 L95.0 717.0 L91.0 710.0 L90.0 695.0 L89.5 675.0Z" fill="#1cc0f4" fill-opacity="1.0" filter="url(#bl2)"/>
<path d="M143.5 656.0 L151.0 656.0 L153.0 668.0 L152.0 684.0 L151.0 695.0 L146.0 697.0 L143.5 686.0 L142.5 670.0Z" fill="#48b4cc" fill-opacity="0.9" filter="url(#bl2)"/>
<path d="M89.0 655.0 L125.0 655.0 L127.0 662.0 L124.0 669.0 L110.0 671.0 L95.0 671.0 L89.0 670.0Z" fill="#88c8b0" fill-opacity="0.55" filter="url(#bl2)"/>
<path d="M116.6 641.2h1.0M107.5 648h1.0M100.6 649.9h1.0M109.8 648.1h1.0M104 649.6h1.0M111.3 646.5h1.0M97.4 651.8h1.0M102.7 651.3h1.0M101.1 652.6h1.0M109.6 647.4h1.0M114.4 645.6h1.0M109.3 648.5h1.0M100.4 650h1.0M113.5 641.3h1.0M104.8 650h1.0M116.1 640.6h1.0M113.9 645h1.0M107.7 649.3h1.0M109.7 646h1.0M109.6 644.6h1.0M111.7 644.6h1.0M112.9 644h1.0M113.9 642.4h1.0M100 651.7h1.0M113.5 642.8h1.0M103.8 648.7h1.0M105.6 648.4h1.0M113.4 640.8h1.0M107.8 648.2h1.0M112.3 642.9h1.0M109.5 646h1.0M115.7 643.3h1.0M100.1 652.6h1.0M102.2 651.2h1.0M96.6 654.6h1.0M55.4 641.5h1.0M82.5 650.8h1.0M58.7 644.2h1.0M91.6 646.6h1.0M115.1 648.5h1.0M89.4 654.3h1.0M84.4 661.2h1.0M107 657.1h1.0M74.1 659.7h1.0M75.9 646.1h1.0M86.5 649.2h1.0M101.1 658.9h1.0M98.8 659.8h1.0M100.2 651.9h1.0M66.5 647h1.0M99 655.2h1.0M91.1 647.9h1.0M82.3 647.2h1.0M104 658.1h1.0M110.9 649.6h1.0M110 653.2h1.0M73.7 652.1h1.0M69.8 643.4h1.0M100.9 659h1.0M55.9 638.9h1.0M87.2 650h1.0M94 661.4h1.0M82.3 655.3h1.0M78.7 651.8h1.0M80.4 646.8h1.0M82.8 659.2h1.0M73 643.3h1.0M72.1 657.2h1.0M107.5 652.2h1.0M90.2 650.7h1.0M64.8 645.1h1.0M98.5 646.5h1.0M59.5 639.2h1.0M75.1 658.6h1.0M105.2 651.2h1.0M89.9 659.1h1.0M63.1 644.9h1.0M108.5 652.6h1.0M100.9 651h1.0M86.6 652.5h1.0M102 646.7h1.0M67.2 654.5h1.0M71.4 650.5h1.0M105.2 650.1h1.0M89.2 654.2h1.0M81.8 647.2h1.0M108.1 656.2h1.0M95.7 649.4h1.0M93.9 658.8h1.0M75.4 654.7h1.0M95.7 652.1h1.0M111.9 652.4h1.0M85.5 654.5h1.0M88 661.5h1.0M82.2 655.7h1.0M79 645.6h1.0M94 646.1h1.0M57.8 637.5h1.0M75.1 656.9h1.0M75.6 651.8h1.0M78.5 647.7h1.0M103.1 657.8h1.0M113.9 650.8h1.0M77.1 655h1.0M58.5 646.3h1.0M108.7 656.4h1.0M68.6 651.1h1.0M92.6 648.1h1.0M86.4 652.2h1.0M113.7 648.5h1.0M87.3 654.5h1.0M110.9 653.1h1.0M99.6 653.2h1.0M56.5 640.2h1.0M63.2 642h1.0M67.8 645.8h1.0M103 658.7h1.0M64.9 645.4h1.0M85.9 650.1h1.0M66.2 649.2h1.0M144.1 674.6h1.0M149.4 688.4h1.0M146.8 676.1h1.0M147.2 680.2h1.0M148.1 668.8h1.0M148.5 689.2h1.0M148.7 660.7h1.0M151.3 668h1.0M149 679h1.0M145.8 677.4h1.0M146.3 665.7h1.0M150.3 684.4h1.0M145.6 692h1.0M146.6 659.3h1.0M152.9 669.9h1.0M150.1 685.6h1.0M146.9 665.7h1.0M147.4 671.6h1.0M149.1 676.2h1.0M147.9 677.7h1.0M150.3 690.7h1.0M150.1 663.9h1.0M144.2 659.1h1.0M143.7 656.9h1.0M149.3 673.5h1.0M147.8 692h1.0M151.1 690.9h1.0M143.9 657.4h1.0M91.3 658.4h1.0M111.9 663.1h1.0M121.7 665.1h1.0M117.7 663.6h1.0M96.2 670.1h1.0M90.2 663.8h1.0M97.4 669.7h1.0M119.1 658.6h1.0M107.9 664.8h1.0M120.3 657.3h1.0M95.1 669.8h1.0M92 669.7h1.0M96.8 670.9h1.0M93.5 657.3h1.0M94.1 659.9h1.0M103.8 657.3h1.0M115.5 670.6h1.0M117.4 669.5h1.0M110.2 664.9h1.0M118.8 658.3h1.0M95.9 660.5h1.0M123.4 660.1h1.0M89.3 656.7h1.0M97 665.1h1.0M92.2 665.3h1.0M96 669.9h1.0M124.8 667.1h1.0M120.7 669.3h1.0M106.4 666.4h1.0M114.8 668.4h1.0M115.7 656.6h1.0M94.5 659.4h1.0M90.6 662.7h1.0M114.3 666.1h1.0M110.7 661.4h1.0M115.4 659.4h1.0M107.9 658.2h1.0M107 661.4h1.0M104.7 659.4h1.0M122.1 656.4h1.0M104.1 671.3h1.0M117.5 655.9h1.0M104.1 659.3h1.0M96.1 671h1.0M92.7 664.8h1.0M114.3 661.2h1.0M94.9 667.3h1.0M91.9 664.3h1.0M89.8 668.2h1.0M111.3 655.7h1.0M89.2 669.1h1.0M105 660h1.0M96.6 655.6h1.0M91.6 657.9h1.0M113.1 663.9h1.0M100.8 667.8h1.0M93.6 659.4h1.0M96.9 655.8h1.0M121.4 661.4h1.0M89.1 666.2h1.0M124.8 655.7h1.0M94.4 666.7h1.0M92.4 665.2h1.0M120.5 662.9h1.0M103.9 669.1h1.0M96.8 662h1.0M108.9 663h1.0M112.2 668.2h1.0M90.9 668.8h1.0M113.9 661.7h1.0M100.5 664.5h1.0M106.1 665.7h1.0M103.9 658.6h1.0M114.4 664.4h1.0M104.2 659.3h1.0M103.5 668.8h1.0M104.8 658.8h1.0M104.9 655.7h1.0M118.4 657.3h1.0M125.1 663.2h1.0M97.9 667.2h1.0M94.5 662h1.0M111.7 659.7h1.0M92.3 665.4h1.0M125 663.2h1.0M100.3 663.6h1.0M96.1 657.6h1.0M97.6 660.4h1.0M121.8 667h1.0M104.2 668.4h1.0M106.1 658.8h1.0M101.7 660.7h1.0M124.1 665.3h1.0M115.8 665.8h1.0M119.7 667.8h1.0M114.9 660.4h1.0M90.4 661.4h1.0M119.2 667h1.0M110.6 667.9h1.0M93.7 655.5h1.0M123.7 669.2h1.0M121.5 660.4h1.0M92.1 655.5h1.0M93.2 670.4h1.0M115.4 669.5h1.0M115.2 667.9h1.0M120.1 666.4h1.0M100.9 665.2h1.0M94.8 658.1h1.0M120.9 660.1h1.0M117 665.4h1.0M121.3 661.7h1.0M97 661h1.0M107.2 661.6h1.0M114.6 661.8h1.0M114.5 665.5h1.0M111.9 668.4h1.0M112.2 659.6h1.0M117.7 667.6h1.0" stroke="#2a7a1a" stroke-width="1.0" fill="none"/>
<path d="M106.2 647.4h1.0M102.5 652h1.0M117.1 641h1.0M106.1 649.6h1.0M115.2 641.6h1.0M110.9 643.5h1.0M106.7 648.4h1.0M110.3 647.8h1.0M111.3 645h1.0M113.5 641.5h1.0M98.5 653.9h1.0M98.5 651.2h1.0M97.4 652.6h1.0M107.5 649.1h1.0M114.6 644.6h1.0M99.2 651.6h1.0M106.1 650.5h1.0M106.4 646.9h1.0M108.4 646.2h1.0M102.8 649.2h1.0M100.6 650h1.0M106.4 647.1h1.0M117.2 642.7h1.0M106.8 648.9h1.0M99.4 652.1h1.0M108.5 645.8h1.0M104.3 652.3h1.0M108 647.9h1.0M103.1 650.3h1.0M115.9 640.5h1.0M101.1 650h1.0M116.5 644.1h1.0M98.5 654.8h1.0M100 651.2h1.0M115.1 640.9h1.0M110.8 646.9h1.0M98.7 653.6h1.0M103.1 649.9h1.0M107.8 646.3h1.0M102.1 652.9h1.0M103.3 649.4h1.0M99.8 652h1.0M113.3 645.7h1.0M99.1 653h1.0M99.2 651.4h1.0M114 644.1h1.0M112.9 642.3h1.0M107.6 649.6h1.0M96.8 653.6h1.0M102.6 651.2h1.0M108 647.5h1.0M101.5 652.1h1.0M106.4 650.7h1.0M105.5 648.4h1.0M107.1 647.1h1.0M98.2 654.1h1.0M109.2 647.1h1.0M97.1 654h1.0M113.2 641.9h1.0M102.4 651h1.0M106.6 646.2h1.0M104.8 650.7h1.0M111.1 643.6h1.0M102 649.5h1.0M98.5 652.5h1.0M105.3 647.9h1.0M108.8 649.1h1.0M99.1 650.7h1.0M106.2 651.1h1.0M112.2 643.8h1.0M105 647.5h1.0M103.2 648.9h1.0M107.1 646.6h1.0M110.6 644h1.0M115.8 642.1h1.0M104.6 648.3h1.0M115.9 644.7h1.0M115.7 641.9h1.0M116.9 642.2h1.0M100.5 651.5h1.0M98.3 655.2h1.0M108.3 647.9h1.0M101.2 652.2h1.0M111.2 647.8h1.0M112.4 647.4h1.0M101.4 652.3h1.0M107.4 647.1h1.0M116.7 643.6h1.0M112.4 647.3h1.0M116.4 642.3h1.0M102.3 646.9h1.0M90.2 655h1.0M95.4 651.8h1.0M57.4 641.6h1.0M98.8 648.6h1.0M86.2 655.8h1.0M73.9 659h1.0M65.6 649.8h1.0M98.1 655.4h1.0M83.5 661.8h1.0M95.4 654.2h1.0M95.8 655h1.0M60.7 641.9h1.0M63.5 642.3h1.0M83.4 658.1h1.0M103.3 655.3h1.0M112.3 645.6h1.0M103.8 652.7h1.0M97.7 656.5h1.0M88.6 657h1.0M90.2 647.3h1.0M74.2 651.4h1.0M108.9 653.4h1.0M84.3 655.1h1.0M101.3 647.2h1.0M102.5 658.7h1.0M69.5 651.3h1.0M95.6 646.8h1.0M100.4 659.7h1.0M93.5 657.1h1.0M67.1 647.4h1.0M103.5 656.3h1.0M76.7 644.4h1.0M80.4 645.9h1.0M87.2 650.6h1.0M109.5 651.5h1.0M96.8 649.3h1.0M69.4 653.2h1.0M83 658h1.0M93.6 646.3h1.0M76.8 645.2h1.0M91.5 649.3h1.0M74.9 650.7h1.0M97 655.7h1.0M88.1 649.5h1.0M75 648.4h1.0M81.9 651h1.0M87 653.2h1.0M95.2 651.8h1.0M64.8 643.2h1.0M66.2 645.2h1.0M63.2 642.4h1.0M110.3 645.5h1.0M65.5 648.4h1.0M49 672.4h1.0M47 679.4h1.0M51.9 681.9h1.0M48 681.2h1.0M48.5 665.7h1.0M61.4 671.3h1.0M56.8 676.5h1.0M48.3 677.1h1.0M56.8 678.1h1.0M61.8 662.7h1.0M57.2 675.4h1.0M50.5 678h1.0M59.6 675.3h1.0M58 676.8h1.0M43.8 683.2h1.0M63.3 664.5h1.0M44.6 673.1h1.0M49.7 665.8h1.0M59.4 673.5h1.0M65.1 664.6h1.0M47 672.4h1.0M51 665.7h1.0M44 676.1h1.0M54.6 661.5h1.0M47.4 669.1h1.0M51.9 661.4h1.0M64.7 668.1h1.0M44.9 678.3h1.0M57.3 657.8h1.0M58.3 662.4h1.0M44.3 674.5h1.0M58.4 673.3h1.0M59.3 656.4h1.0M65.5 664h1.0M52.2 665.6h1.0M58.2 675.2h1.0M43.4 674.8h1.0M44.4 677.1h1.0M43 680.8h1.0M63.5 660.5h1.0M56.7 670.1h1.0M59.7 677.6h1.0M60.4 657.1h1.0M60 662.7h1.0M53 678.7h1.0M58.6 661h1.0M56.8 677.3h1.0M62.1 663.2h1.0M47.8 676.2h1.0M53.1 663.7h1.0M56.8 677.2h1.0M51.2 682.9h1.0M50 682.7h1.0M52.2 681.7h1.0M52.2 662.2h1.0M48.5 665.9h1.0M46.6 679.9h1.0M55.2 662.2h1.0M64.4 658.8h1.0M57 664.4h1.0M49.3 666.6h1.0M43.6 682.2h1.0M50.2 684.3h1.0M55.6 661.9h1.0M62.2 660.2h1.0M51.6 666.1h1.0M55.6 665.2h1.0M51.9 665.6h1.0M52.7 667.5h1.0M57.1 678.4h1.0M58.2 669.7h1.0M52.3 683.6h1.0M64.1 665.8h1.0M55.4 666.5h1.0M58.5 656.2h1.0M56.5 681.2h1.0M54.2 678.4h1.0M60 660.1h1.0M52.8 677.8h1.0M50.6 682.3h1.0M65.3 660.5h1.0M57.3 668.9h1.0M53.3 681h1.0M53 682.5h1.0M56.1 682.4h1.0M61.5 665.4h1.0M48.9 686h1.0M56.4 681.5h1.0M45.6 674.7h1.0M48 676.1h1.0M58.9 676.6h1.0M53.3 678.7h1.0M50.9 673.2h1.0M54.4 682.5h1.0M62.1 670.2h1.0M46 676h1.0M61.9 662.3h1.0M51.8 660.3h1.0M61.6 656.2h1.0M63.6 662h1.0M64.2 665.7h1.0M59.3 673.7h1.0M60.7 669h1.0M61.9 662.8h1.0M47.1 668.9h1.0M62.2 661.4h1.0M55.5 680.3h1.0M43.7 677.9h1.0M56.9 680.3h1.0M45.7 676.4h1.0M56.7 667.8h1.0M55.6 672.9h1.0M50.6 672.9h1.0M62.3 668.4h1.0M48.2 675.4h1.0M56.1 664.6h1.0M60.5 656.9h1.0M50.1 675.3h1.0M50.7 672.9h1.0M63.5 662.3h1.0M46.1 680.5h1.0M51.7 683.9h1.0M49.9 677.6h1.0M62.4 659.6h1.0M53.2 668.9h1.0M57.9 660.7h1.0M64 660.5h1.0M53.9 683.1h1.0M55.7 673.1h1.0M43.4 680.5h1.0M60.6 667.9h1.0M62.7 663.1h1.0M54.2 671.8h1.0M61.4 665.8h1.0M50.4 665.8h1.0M52.2 667.7h1.0M54.4 663.7h1.0M59.3 672.6h1.0M45.6 676.7h1.0M59.4 663.6h1.0M60.5 665.4h1.0M62.4 661.9h1.0M45.8 676.8h1.0M51.5 666.6h1.0M55.2 679.3h1.0M56.4 668h1.0M49.2 672.8h1.0M54.7 671.3h1.0M54.1 676.4h1.0M51.8 680.5h1.0M60.4 662.6h1.0M50.3 672.7h1.0M58.5 664.2h1.0M62.1 664.5h1.0M53.2 676.8h1.0M52.9 670.1h1.0M56.5 668.3h1.0M55.4 673.7h1.0M52.4 680.5h1.0M50 673.9h1.0M55.2 670.2h1.0M58.1 669.2h1.0M51.8 672.9h1.0M59.8 670.8h1.0M59.6 669.2h1.0M53.2 667.9h1.0M54.9 664.9h1.0M53 681.3h1.0M61.4 665.4h1.0M54.6 672.8h1.0M51.3 681.9h1.0M46 677h1.0M56.8 664.1h1.0M55.2 675.5h1.0M58.2 670.9h1.0M57 668.4h1.0M50.4 673.7h1.0M51.9 674.7h1.0M52.2 671.3h1.0M55.2 667.8h1.0M61.4 667.2h1.0M51.7 680.6h1.0M54.4 680.5h1.0M61.6 667.4h1.0M56.6 667.4h1.0M58.4 673.6h1.0M47.5 675.5h1.0M51.2 667.1h1.0M54.6 669.7h1.0M51.2 679.9h1.0M58.1 673h1.0M52.8 672.3h1.0M55.9 674.8h1.0M56 667.7h1.0M57.2 666.6h1.0M53.7 678.3h1.0M52.8 666.5h1.0M51.7 671.9h1.0M51.4 667.5h1.0M46.6 677.6h1.0M49.6 668.2h1.0M46.4 681.4h1.0M53 669.7h1.0M54.5 675.9h1.0M51.5 666.3h1.0M56.5 665.9h1.0M47.1 678h1.0M49.9 676.9h1.0M60.7 669.4h1.0M47.4 674.8h1.0M51.7 682.7h1.0M57.2 671.6h1.0M59.8 664.9h1.0M61.5 669h1.0M61 664.2h1.0M46.5 678.2h1.0M48.9 667.7h1.0M58.2 669.7h1.0M55.5 664.5h1.0M63 663.6h1.0M54.2 672.3h1.0M51.8 674.3h1.0M59.5 670.2h1.0M56.1 662.6h1.0M58.9 661h1.0M53.3 669.3h1.0M48.7 671.7h1.0M50.4 681.8h1.0M59.1 673.9h1.0M49.7 671h1.0M63.2 661.8h1.0M62.3 662.9h1.0M54.2 677.1h1.0M53.5 672h1.0M48.3 678h1.0M60.6 672h1.0M54.9 680.2h1.0M60.9 671.5h1.0M46.1 683.2h1.0M55.8 670.4h1.0M54.5 661.6h1.0M47 671.7h1.0M60.3 662.7h1.0M50.6 672.5h1.0M61.4 668.6h1.0M54.5 673.2h1.0M58.9 668.1h1.0M57.4 672h1.0M60.5 664.5h1.0M54.9 672.9h1.0M53.3 680.6h1.0M57.2 674.2h1.0M57.2 670.9h1.0M47 673.6h1.0M49.8 681.3h1.0M52 670.3h1.0M54.1 671h1.0M47.2 680.4h1.0M45.2 676.5h1.0M46 681.3h1.0M62.4 660.8h1.0M54.6 680h1.0M51.4 674.2h1.0M56.1 661.4h1.0M47.9 683.3h1.0M57.4 669.2h1.0M55.2 677.2h1.0M53.8 678.9h1.0M48.9 676.5h1.0M55.5 661h1.0M57.8 665.4h1.0M57.9 675.3h1.0M53.7 673.3h1.0M59.3 666.3h1.0M55.2 665.8h1.0M50.4 679.4h1.0M61.5 660.7h1.0M49.5 667.8h1.0M50.1 680h1.0M50.8 675.2h1.0M50.9 680.6h1.0M53.5 667.1h1.0M52.3 664.7h1.0M52.5 664.2h1.0M61.1 660.1h1.0M51.7 665.3h1.0M47.5 682.3h1.0M45.1 681.4h1.0M50.3 667.8h1.0M59.5 664.1h1.0M57.1 660.5h1.0M52.9 676.7h1.0M48.6 674.1h1.0M60.7 669.6h1.0M56 674.4h1.0M55.6 673.4h1.0M47.5 671.7h1.0M57.4 660.1h1.0M52.5 680.8h1.0M57.6 668.3h1.0M57.8 667.7h1.0M60.4 663.8h1.0M46.3 682.1h1.0M50.5 668.8h1.0M51.9 665.8h1.0M61.8 667.7h1.0M54.2 667.5h1.0M48.3 673.8h1.0M46.1 682.8h1.0M49.6 680.9h1.0M60.6 663.1h1.0M47.8 674.8h1.0M58.6 661.7h1.0M59.1 670h1.0M49.4 671.1h1.0M48.6 673.6h1.0M53.6 671.9h1.0M55 662.7h1.0M62.5 661.5h1.0M54.8 678.7h1.0M58.1 661.1h1.0M47.2 678.5h1.0M49.2 667.9h1.0M60.1 667.6h1.0M52.9 663.8h1.0M57.6 659.9h1.0M60.3 669.5h1.0M54.6 677.3h1.0M58 663.9h1.0M48.6 668.2h1.0M47.6 671.3h1.0M48.9 671.6h1.0M53.9 668.3h1.0M51.1 670.2h1.0M57.5 659.5h1.0M48 669.9h1.0M56 678.2h1.0M52.4 668.7h1.0M49.3 675.1h1.0M52.1 666.3h1.0M49.9 669.4h1.0M54.9 674.6h1.0M48.7 678.3h1.0M53.5 673.5h1.0M62.1 664.2h1.0M50.3 676.1h1.0M57.8 665.8h1.0M55 677.3h1.0M54.8 662.7h1.0M50.6 673.5h1.0M51.1 674.5h1.0M50.5 669.1h1.0M60.5 666.9h1.0M52.8 666.5h1.0M56.7 675.4h1.0M54.9 680.1h1.0M48.3 682.5h1.0M50 679h1.0M50.7 666.6h1.0M52.2 680.5h1.0M54.9 678.8h1.0M52.9 667.1h1.0M61.4 660.6h1.0M58.1 666.8h1.0M53.9 678.2h1.0M48.9 668.8h1.0M47.8 673.4h1.0M86.8 714.3h1.0M81.3 680.9h1.0M85.3 704h1.0M86.6 709h1.0M92 719.4h1.0M84.9 701.2h1.0M77.8 679.9h1.0M83.2 679.3h1.0M86.3 712.1h1.0M99.1 725.4h1.0M84.3 703.6h1.0M88 700.5h1.0M87 693.1h1.0M82 692.1h1.0M81 688.5h1.0M85.2 691.6h1.0M92.8 717.5h1.0M99.3 717.9h1.0M84.8 699.6h1.0M99.4 725.8h1.0M84.9 706.4h1.0M82.3 688.2h1.0M82.9 693.1h1.0M88.1 715.4h1.0M77.8 681.6h1.0M81.4 687.3h1.0M87 701.3h1.0M101.9 722.2h1.0M80.5 682.1h1.0M91.4 718.9h1.0M86.5 712.2h1.0M81.5 682.5h1.0M78.8 688.6h1.0M80.8 698.2h1.0M85.8 700.9h1.0M91.9 718.5h1.0M88.2 700.9h1.0M84.9 691.2h1.0M98 725.5h1.0M97.5 718.7h1.0M98.2 722.8h1.0M82.8 693.7h1.0M85.7 712.8h1.0M85.7 709.7h1.0M77.2 677.6h1.0M95.6 716.9h1.0M81.2 696.4h1.0M85.2 711h1.0M79.3 678.3h1.0M90 714h1.0M81.3 693.6h1.0M82.3 699.8h1.0M83.5 693.3h1.0M87.3 695.5h1.0M87.7 699.5h1.0M85.5 685.3h1.0M97.6 724.1h1.0M97.9 718.4h1.0M80.9 682.9h1.0M88.1 711h1.0M82.3 703.7h1.0M82.4 705.3h1.0M97 717.8h1.0M82.6 697.5h1.0M83.9 698.9h1.0M84 696.3h1.0M82.4 698.6h1.0M90.2 718.5h1.0M81.1 680.2h1.0M89.6 709.9h1.0M100.5 724.6h1.0M80.8 699.9h1.0M80.2 698.8h1.0M86.5 699.1h1.0M79.7 683.8h1.0M96.3 723.3h1.0M88.8 709h1.0M101.3 718.7h1.0M82.6 705.9h1.0M101 724.7h1.0M80.5 679.3h1.0M87.7 712.9h1.0M79 688.5h1.0M81 682.6h1.0M79.6 678.5h1.0M82.8 682.7h1.0M94.1 723h1.0M87.7 713.6h1.0M93.7 722.6h1.0M78.8 693.5h1.0M87.6 712.3h1.0M87.4 700.4h1.0M84 700.3h1.0M83.7 687.7h1.0M80.1 692h1.0M85.1 703.8h1.0M77.9 689h1.0M83.3 695.5h1.0M92.8 716.1h1.0M84.3 690.4h1.0M83.7 694.8h1.0M94.4 716.4h1.0M81.1 692.6h1.0M77.6 680.4h1.0M80.4 693.8h1.0M82.5 689.6h1.0M83.5 682.5h1.0M92.7 718.7h1.0M84.6 697.8h1.0M93.3 723h1.0M101.1 724.5h1.0M89.3 707.2h1.0M87.3 694.5h1.0M78.6 692.8h1.0M94.5 721.6h1.0M81.4 697.4h1.0M99.8 719.2h1.0M85.9 686h1.0M85.1 686.7h1.0M99.8 722.5h1.0M82.5 703.5h1.0M82 692.8h1.0M83.1 688.7h1.0M83.6 682.9h1.0M80.6 691.7h1.0M84.4 689.2h1.0M90.7 719.3h1.0M95 721.5h1.0M92.8 720.2h1.0M81.8 698.6h1.0M81.8 693.3h1.0M78.8 678.9h1.0M92.2 716.9h1.0M82 689.8h1.0M82 702.4h1.0M85.1 684.4h1.0M82.9 679.7h1.0M80.6 684.5h1.0M94.4 721.2h1.0M102.7 723.5h1.0M85.2 688.2h1.0M89.3 711h1.0M82.8 694.6h1.0M87.9 699.4h1.0M82 693.1h1.0M88.9 711.2h1.0M94.2 723h1.0M101.1 719.1h1.0M82.8 698.2h1.0M94.1 718.1h1.0M84.9 708.9h1.0M95.1 718.1h1.0M81.9 699.1h1.0M96.1 719.2h1.0M78.6 679h1.0M81.2 701.2h1.0M92.7 719.5h1.0M86.4 713.4h1.0M87.7 716.2h1.0M84.7 682.9h1.0M84.9 702.3h1.0M93.4 715.9h1.0M84.6 709.2h1.0M83.8 692.9h1.0M82.9 681.7h1.0M82.7 683.8h1.0M90 717.8h1.0M94.8 719.2h1.0M79.1 679.7h1.0M84 690.8h1.0M88.7 705h1.0M81.4 691.1h1.0M84.9 708h1.0M93.3 715.4h1.0M87.4 710h1.0M85.4 703.7h1.0M88.2 715.4h1.0M97.6 722.2h1.0M100.5 720.6h1.0M99.9 721.6h1.0M87.8 700.1h1.0M100.2 718.3h1.0M167.4 697.6h1.0M160.7 687.1h1.0M164.2 695.1h1.0M160.8 686.8h1.0M168.4 694.4h1.0M170.8 697.1h1.0M169.1 693.2h1.0M157.8 683.9h1.0M157.8 685.6h1.0M163 689.6h1.0M167.6 700.6h1.0M163.1 694h1.0M157.9 689.2h1.0M162.5 695.9h1.0M161.5 689.8h1.0M168.8 696.2h1.0M167.2 700.8h1.0M167.5 700.8h1.0M158.7 684h1.0M171.5 699.5h1.0M156.9 684.9h1.0M169.3 700.4h1.0M167.3 692.3h1.0M160.8 691.6h1.0M171.3 697.9h1.0M164.4 695.5h1.0M165.9 696.2h1.0M158.8 688.2h1.0M170.8 695.6h1.0M166.9 700.2h1.0M156.1 684.1h1.0M161.2 685.5h1.0M168.8 696.7h1.0M156.6 687.5h1.0M160.4 688.7h1.0M167.3 698.4h1.0M162.1 688.7h1.0M167.1 693.1h1.0M164.1 693.5h1.0M167.2 698.6h1.0M157.5 687.7h1.0M166.5 691.6h1.0M160.3 684.7h1.0M156.8 688.2h1.0M156.8 688.4h1.0M162.3 687.9h1.0M166.4 697.3h1.0M164.3 696.4h1.0M168.2 694h1.0M169.5 700.1h1.0M160.7 685.2h1.0M162.6 685.2h1.0M169 695.6h1.0M160.8 690.9h1.0M171.2 701.4h1.0M165.1 690.5h1.0M162.8 690.4h1.0M163.5 690h1.0M166.5 695.4h1.0M168.4 698.4h1.0M158.8 684.9h1.0M168.1 693.9h1.0M162.4 689h1.0M166.4 691.1h1.0M159.2 692h1.0M163 686h1.0M169 698.3h1.0M158.1 685.6h1.0M157.1 688.7h1.0M159.5 687h1.0M162.7 694.9h1.0M169.6 695.2h1.0M161 684.7h1.0M165 687.2h1.0M163.4 694.7h1.0M162.6 696.2h1.0M169.1 697h1.0M171.2 697.3h1.0M171 696.7h1.0M171.1 701.3h1.0M168.3 701.2h1.0M167.5 699.2h1.0M167.8 695.7h1.0M170.5 697.6h1.0M164.2 698.1h1.0M158.5 689.9h1.0M165.1 689.8h1.0M157.6 683.8h1.0M163.2 685.5h1.0M162.8 689.4h1.0M166 689.6h1.0M170.9 700.3h1.0M167.3 700.8h1.0M170.3 698.4h1.0M168.8 698.7h1.0M166.2 692.5h1.0M164.5 696.2h1.0M162.2 695.5h1.0M156.8 686.9h1.0M161.5 688.6h1.0M159.2 685.2h1.0M165.9 688.9h1.0M166 698.8h1.0M164.7 697.9h1.0M162.1 695h1.0M158.2 688.2h1.0M164 687.9h1.0M167 698.8h1.0M163.4 696.8h1.0M158.6 689.9h1.0M156.3 685.7h1.0M112.2 695.6h1.0M99.8 687.2h1.0M98 688.6h1.0M105.5 676.9h1.0M102.8 703.2h1.0M95.8 709.1h1.0M92.2 692.7h1.0M102.2 714.8h1.0M121 672.5h1.0M109.9 691.4h1.0M91.2 675.1h1.0M114.4 688.2h1.0M112 687.4h1.0M101.7 697.1h1.0M145 693h1.0M148.9 689.2h1.0M146.3 687.1h1.0M149.1 670.9h1.0M146.9 689h1.0M151.6 681.4h1.0M149.1 662.6h1.0M148.1 665.4h1.0M152.4 666.2h1.0M147.7 658.8h1.0M146.5 691.2h1.0M143.1 675.6h1.0M145.2 663.4h1.0M148.6 670.5h1.0M150.9 684.4h1.0M143.8 661.3h1.0M149.8 688.4h1.0M148.2 669.3h1.0M147.3 694h1.0M146.4 672.1h1.0M149 683.5h1.0M149.8 665.3h1.0M148.2 683.2h1.0M144.6 686.4h1.0M148.4 688.4h1.0M147 665.3h1.0M148.5 665.9h1.0M151.7 663.2h1.0M146.3 677.2h1.0M147.7 685.5h1.0M151 666.5h1.0M143.5 659.1h1.0M100.1 665.9h1.0M114.8 660.3h1.0M101.2 660.2h1.0M110.7 655.7h1.0M102.6 671h1.0M106.4 666.1h1.0M91.9 659.1h1.0M122.8 665.4h1.0M100.8 665.1h1.0M106.7 659.9h1.0M111.8 665.1h1.0M118.8 663.6h1.0M104 668.4h1.0M100.9 667.5h1.0M101.1 670.4h1.0M115.8 659.5h1.0M103.9 669.8h1.0M120.6 666.3h1.0M102.9 666.8h1.0M98.5 670.5h1.0M112.8 667.4h1.0M110.5 670.8h1.0M104.5 669.2h1.0M95.9 668.3h1.0M117.9 657.4h1.0M99.3 665.5h1.0M97.2 669.4h1.0M100 659.4h1.0M108 661.4h1.0M124.5 662.8h1.0M109 669.3h1.0M113.5 657.6h1.0M104.8 664.8h1.0M98.9 658.1h1.0M96.8 666.8h1.0M105.9 662.4h1.0M109.5 663.6h1.0M114.4 670.9h1.0M95.9 666.3h1.0M99.7 661.1h1.0M111.7 666.1h1.0M97.8 659.6h1.0M125.9 664.2h1.0M90.6 665.3h1.0M94.2 662.6h1.0M107.2 670.1h1.0M109.5 662.5h1.0M105.9 662.8h1.0M95.2 670.6h1.0M92.9 666.9h1.0M91.4 665.4h1.0M124.2 661.7h1.0M114.8 670.4h1.0M104.3 664.4h1.0M100.7 658.7h1.0M95.1 668.3h1.0M116 656.6h1.0M95.3 657.7h1.0M113.7 659h1.0M121.1 657.3h1.0M105.8 668.1h1.0M122.7 665.3h1.0M126.3 660.4h1.0M98.6 656.8h1.0M90 663.1h1.0M114.6 657.3h1.0M123.2 659.8h1.0M93 669.6h1.0M105.6 659.9h1.0M119.4 668.9h1.0M97.2 665.1h1.0" stroke="#f59222" stroke-width="1.0" fill="none"/>
<path d="M115.3 644.4h1.0M118.1 641.3h1.0M107.9 646.2h1.0M109.5 648.2h1.0M116.5 640.4h1.0M111.8 642.1h1.0M106.9 649.2h1.0M118.1 641.1h1.0M110.6 645.2h1.0M106.3 650.4h1.0M107.9 647.3h1.0M112.2 643.5h1.0M106.7 646.9h1.0M99.7 651.7h1.0M112.2 645.5h1.0M105 651.6h1.0M100.9 652.5h1.0M108.5 647.9h1.0M106.9 649.2h1.0M112.1 645h1.0M112 643.8h1.0M112.1 643.1h1.0M99.6 651.3h1.0M114.8 639.9h1.0M98.5 653.3h1.0M97.6 652.7h1.0M98.9 651.3h1.0M97.7 653.2h1.0M99.6 651.6h1.0M108.7 647.5h1.0M112.5 643.1h1.0M116.8 641.8h1.0M112.3 642.5h1.0M107.3 646.3h1.0M113 643.3h1.0M113.9 644.9h1.0M103.6 654.1h1.0M114.8 648.3h1.0M68.5 647.6h1.0M94.7 660h1.0M56.3 641.9h1.0M72.8 654.5h1.0M65.7 647.5h1.0M58.3 646.2h1.0M80 652.3h1.0M98.1 660.7h1.0M102.6 648.5h1.0M80 649.7h1.0M88.7 646.6h1.0M86.7 648.3h1.0M57.6 639.6h1.0M112.7 651.5h1.0M66.4 650.3h1.0M93.1 658.8h1.0M101.6 648.5h1.0M97.5 648.7h1.0M80.1 655h1.0M75 653.4h1.0M55.2 646.3h1.0M59.7 646.6h1.0M105.4 649.5h1.0M106.5 657.9h1.0M71.4 649.1h1.0M111.4 645.2h1.0M81.7 652.8h1.0M111.3 648.8h1.0M88.5 657.2h1.0M90 654h1.0M86.1 652.5h1.0M85.9 661.6h1.0M74.5 655.9h1.0M76.3 650.3h1.0M108.2 648.5h1.0M96.6 660.1h1.0M59.8 646.5h1.0M81.6 647.2h1.0M110 648.7h1.0M96.9 653.6h1.0M66.9 647.4h1.0M75.2 660.4h1.0M95.8 653.6h1.0M62.1 642.4h1.0M65.7 652.1h1.0M111.9 654.3h1.0M83.3 648.6h1.0M108.8 653.5h1.0M85.9 647.3h1.0M73.7 658.6h1.0M73.3 647.8h1.0M60.7 650.4h1.0M112.7 649.8h1.0M109.9 652.7h1.0M79 657.3h1.0M57 640.6h1.0M80.7 655.8h1.0" stroke="#9a8a40" stroke-width="1.0" fill="none"/>
<path d="M84.9 659.5h1.0M110.6 652.6h1.0M89.4 649.2h1.0M112.5 650h1.0M104.7 648.4h1.0M112.4 647.6h1.0M77.5 660.5h1.0M80.9 652.1h1.0M98.7 657.5h1.0M107 656.2h1.0M86.6 661.3h1.0M105.4 645.6h1.0M82.9 656.5h1.0M87.3 654.2h1.0M89.7 649.2h1.0M57.7 637.6h1.0M93.1 649.9h1.0M81.4 658.8h1.0M62.3 649.7h1.0M93.2 650.5h1.0M106.4 651.2h1.0M96.5 649.2h1.0M63.4 651.8h1.0M93.6 656.1h1.0M93.9 653.2h1.0M79.5 651.9h1.0M97.4 657.3h1.0M80 647h1.0M103.8 657.7h1.0M68 651h1.0M110.9 647.9h1.0M109.6 645.6h1.0M92.6 655.5h1.0M70.3 645.3h1.0M78.1 656h1.0M76.1 660.4h1.0M57.7 647.9h1.0M69 646.9h1.0M63.5 652.8h1.0M103.1 657.7h1.0M86.7 650.8h1.0M64.1 652.5h1.0M109.6 650.3h1.0M82.2 657.9h1.0M62 644.2h1.0M88.4 655.2h1.0M68.9 650.8h1.0M91.9 660h1.0M93.3 655.5h1.0M109.7 646.2h1.0M83.7 646.7h1.0M65.3 652.1h1.0M94.2 661.1h1.0M82.2 654.5h1.0M85.2 661.8h1.0M115.3 650h1.0M104 646.2h1.0M76.7 653.1h1.0M65.5 648.3h1.0M100.3 653.3h1.0M101.1 646.7h1.0M112.7 648.5h1.0M81.6 655.1h1.0M54.8 644h1.0M113.5 644h1.0M90 660.4h1.0M103.7 648.5h1.0M55.8 646.4h1.0M83 651.2h1.0M102.4 650.2h1.0M91.4 648.4h1.0M82.1 647.8h1.0M84.3 652.1h1.0M64 652.9h1.0M79.7 652h1.0M79 650.8h1.0M77.1 653h1.0M69 645.6h1.0M98.9 649.5h1.0M65 651.8h1.0" stroke="#3cb02a" stroke-width="1.0" fill="none"/>
<path d="M88.6 661.6h1.0M100.3 650.9h1.0M94.9 652.3h1.0M70 644h1.0M90.1 646.8h1.0M112.2 654h1.0M109.9 654.4h1.0M91.4 651h1.0M63.4 643.9h1.0M69.7 652.3h1.0M103.2 652.2h1.0M69.7 651.2h1.0M109.8 647.6h1.0M96.7 650.8h1.0M85 656.3h1.0M68.9 653.8h1.0M108.8 654.1h1.0M87.5 657.1h1.0M86.9 649.5h1.0M62.8 650.1h1.0M80.2 653.8h1.0M102.2 656.4h1.0M71.3 644.2h1.0M88.4 648.1h1.0M69.3 646.4h1.0M91 660.6h1.0M84.8 658.9h1.0M104.1 656h1.0M92.1 660.1h1.0M85.8 656.3h1.0M90.8 648.2h1.0M58.2 646.1h1.0M76.5 644.9h1.0M101.6 651.4h1.0M103.7 651.4h1.0M62.2 641.7h1.0M86.3 648h1.0M114.7 647h1.0M89 657.1h1.0M68 642.5h1.0M97.5 649.1h1.0M78.5 647.3h1.0M79.6 653h1.0M83.4 659.4h1.0M100.2 659.5h1.0M99 653.6h1.0M78.9 654.1h1.0M65.5 642.9h1.0M63.9 651.7h1.0M88.1 660.5h1.0M63.3 640.9h1.0M57.9 645.2h1.0M70.1 657.1h1.0M99.5 657.3h1.0M69.8 643.2h1.0M83.9 650.3h1.0M61.8 640.8h1.0M68.5 653h1.0M96.7 647.1h1.0M60.7 650.3h1.0M97.2 652.5h1.0M78.3 656.2h1.0M90.6 649.4h1.0M58.5 641.6h1.0M82.3 654.6h1.0M75.2 649.3h1.0M82.3 658.8h1.0M70.3 642.8h1.0M88.2 658.5h1.0M82.2 649.3h1.0M76.7 650h1.0M88.8 647.2h1.0M87 648.4h1.0M85 653h1.0M58.9 648h1.0M87.7 658.7h1.0M88.4 660.8h1.0M65.9 653.1h1.0M65.3 652.6h1.0M91 659.6h1.0M54.9 644h1.0M101.2 659.5h1.0M105.2 647.8h1.0M83.9 653.9h1.0M56.2 641.4h1.0M64.9 647.8h1.0M108 654.4h1.0M66.6 649.4h1.0M105.7 646.4h1.0M74.4 659.3h1.0M99.8 651.7h1.0M103.7 647.1h1.0M66.9 643h1.0M73.7 648.8h1.0M64.8 649.5h1.0M85.4 647.7h1.0M112.4 648h1.0M59.3 647.1h1.0M92.9 652.3h1.0M109.2 646.1h1.0M91.7 656.4h1.0M80.2 659.2h1.0M91.7 646.8h1.0M65.3 649.2h1.0M91 648.6h1.0M111 656.6h1.0M90.6 649h1.0M66.3 642.9h1.0M111.1 646.9h1.0M111.8 647.5h1.0M80.9 648.4h1.0M86.1 649.7h1.0M82.3 649.1h1.0M93.6 658.1h1.0M69.3 648.6h1.0M80.5 651.8h1.0M103.6 652.6h1.0M91.8 657.2h1.0M65.3 646.2h1.0M79.2 658.1h1.0M77.6 648.5h1.0M57.5 647.2h1.0M55.9 643.8h1.0M109.9 656.2h1.0M86.2 647h1.0M90.1 648.4h1.0M95.7 652.4h1.0M62.6 643.1h1.0M78.1 659.3h1.0M85.9 660.4h1.0M110.5 653.6h1.0M110.6 656.9h1.0M84.5 652.9h1.0M69.3 656.8h1.0M58.8 649.1h1.0M111.7 655.8h1.0M61.7 640.5h1.0M64.8 654h1.0M73.1 657.7h1.0M68.2 646.6h1.0M57.7 639.4h1.0M97.7 658.1h1.0M101.2 652.7h1.0M97.9 657.5h1.0M92.4 654.7h1.0M80.1 648.8h1.0M92.7 646.2h1.0M78 646.4h1.0M82.9 650.9h1.0M117.8 663h1.0M109.1 668.3h1.0M99.3 658.4h1.0M116.6 665.4h1.0M97.8 661.3h1.0M98.7 671h1.0M93.9 666.8h1.0M118.6 656.2h1.0M96.8 670.9h1.0M107 662.4h1.0M110 665.8h1.0M112 666.4h1.0M113.8 665.1h1.0M102.9 662.5h1.0M106 663h1.0M96.7 660.7h1.0M102.8 664.3h1.0M123.2 666.6h1.0M123 658.8h1.0M96.1 659.3h1.0M104.9 669.2h1.0M101.5 660.2h1.0M103.4 667.1h1.0M102.6 663.4h1.0M93.5 658.7h1.0M94.7 656.2h1.0M124.3 659.9h1.0M95 664.8h1.0M107.1 657h1.0M97.2 657.8h1.0M117.6 665.7h1.0M125.6 664.4h1.0M101.3 666.1h1.0M116 657.3h1.0M112.4 664.6h1.0M105.3 659.6h1.0M100.4 671.4h1.0M123 660.2h1.0M110.8 658.3h1.0M117.8 669.5h1.0M96 657.8h1.0M125.1 661.2h1.0M120 669.5h1.0M105.9 656.2h1.0M111.2 659.9h1.0M106.3 656.5h1.0M92.2 667.9h1.0M110.9 665.1h1.0M115.3 656.5h1.0M107.9 656.7h1.0M91.6 656.1h1.0M93.6 670.3h1.0M108.3 666.9h1.0M94.7 656.3h1.0M99.2 656.8h1.0M92.6 660.7h1.0M93.8 657.5h1.0M111.3 663h1.0M92.8 665.7h1.0M98.9 659.4h1.0M95.4 668.7h1.0M109.4 657.2h1.0M121.8 663.7h1.0M101.8 671.5h1.0M115.6 656.5h1.0M110.9 663.8h1.0M97.7 658.7h1.0M123.7 663.1h1.0M97.7 668.2h1.0M94.4 656.4h1.0M106 664.6h1.0M94.7 669.9h1.0M108.1 655.8h1.0M109 667h1.0M94.8 667.1h1.0M109.3 657.4h1.0M118.2 656.8h1.0M116.1 661.9h1.0M104 655.8h1.0M116.1 660.4h1.0" stroke="#a8ee90" stroke-width="1.0" fill="none"/>
<path d="M104.1 657.8h1.0M74.6 657.6h1.0M110.3 646.5h1.0M72.7 647.4h1.0M85.8 651.2h1.0M88.1 656h1.0M90.5 648.1h1.0M93.6 659.5h1.0M105 646.3h1.0M72.5 649.1h1.0M71.5 646.4h1.0M103.1 658.5h1.0M82.1 659.2h1.0M82.9 649.6h1.0M109.6 650.6h1.0M99.9 650.5h1.0M79.8 655.9h1.0M70.1 651.6h1.0M75.7 656.7h1.0M111.9 651.9h1.0M96.2 652.5h1.0M58.6 646.3h1.0M65.6 651.1h1.0M65.1 651.5h1.0M63.6 640.1h1.0M68.5 652.5h1.0M67.7 649.9h1.0M77 644.4h1.0M69.9 642.7h1.0M102.6 653.6h1.0M80.5 644.7h1.0M78.7 659.6h1.0M83.1 650.2h1.0M93.4 659.2h1.0M76.7 660.4h1.0M83.9 659.6h1.0M86.4 661.2h1.0M71.4 646.3h1.0M105.2 650h1.0M105.3 655.5h1.0M87.2 651.1h1.0M76.1 653.9h1.0M91.3 661.2h1.0M114.5 646h1.0M98.6 650h1.0M58.3 644.2h1.0M112.4 647h1.0M57.2 645.8h1.0M85.4 655.6h1.0M110.1 650.6h1.0M99.5 649.4h1.0M56 646.7h1.0M77.1 647.1h1.0M56.6 643h1.0M57.2 644.5h1.0M110 656.7h1.0M57.9 644.3h1.0M79.6 649.1h1.0M85 649.8h1.0M111.3 655h1.0M73.1 643.6h1.0M110.2 648.6h1.0M87.2 661.2h1.0M87.5 660.1h1.0M81.8 655.2h1.0M55.5 640.5h1.0M105.9 652.6h1.0M61.2 651.3h1.0M57 643.9h1.0M73.9 655.5h1.0M94.8 647.9h1.0M91.1 660h1.0M96.2 659.6h1.0M111 653.6h1.0M110.2 651.1h1.0M60.3 649h1.0M73.8 651.2h1.0M80.3 646.7h1.0M92.7 649.2h1.0M110.1 646h1.0M58.7 639.1h1.0M110.8 652.4h1.0M82.7 658.3h1.0M106.6 657.5h1.0M112.6 649.3h1.0M84.9 657.1h1.0M71.1 646.2h1.0M77.9 645.3h1.0M102.2 655.8h1.0M103.1 649.2h1.0M74.5 649h1.0M74.4 654.1h1.0M76.7 650h1.0M77.3 645.5h1.0M108.3 657.5h1.0M76.3 650.6h1.0M105.2 650.8h1.0M82.7 661.3h1.0M80.1 657.8h1.0M74.4 644.6h1.0M112.4 655.8h1.0M84.7 654.8h1.0M86.3 649.3h1.0M63.8 651.4h1.0M111.6 655.8h1.0M83.8 657.6h1.0M87.5 647.8h1.0M111.9 647.5h1.0M102.7 650h1.0M81.8 652.1h1.0M56.2 637h1.0M89.7 656.1h1.0M70.2 647.4h1.0M73.8 645.8h1.0M80.5 648h1.0M97.7 657.8h1.0M92.3 652.7h1.0M94 649.6h1.0M75.3 654.2h1.0M77.9 645.6h1.0M71.1 643.6h1.0M88.4 660.3h1.0M79.9 655.1h1.0M108.7 655.4h1.0M79.8 651.9h1.0M98.6 660.3h1.0M88.9 651.6h1.0M88.6 652h1.0M100.4 658h1.0M71 643.1h1.0M98.3 650.3h1.0M77.7 644.7h1.0M107.1 649.8h1.0M97.2 652.5h1.0M81.2 660.8h1.0M71.8 657.3h1.0M91.3 656.1h1.0M76.6 652.6h1.0M61.9 649.5h1.0M57 639.5h1.0M103.2 651.9h1.0M90.9 648h1.0M87.3 659.5h1.0M71.1 652.9h1.0M55.1 645.7h1.0M96.5 648.9h1.0M65.9 651.6h1.0M79.2 656.4h1.0M95 650.3h1.0M54.3 645h1.0M56.9 640.5h1.0M82.9 653.8h1.0M88.5 652.1h1.0M92.5 659.4h1.0M94.7 655.3h1.0M109.7 652.5h1.0M112 652.1h1.0M89.3 649.8h1.0M88.3 660.3h1.0M98 657.6h1.0M74.3 658.6h1.0M96.2 654.4h1.0M94.9 656.7h1.0M66.4 647.2h1.0M102.2 655h1.0M100.8 654.2h1.0M103.3 649.1h1.0M78.6 645.9h1.0M67.2 650.1h1.0M95.6 655.2h1.0M99.9 653.2h1.0M110.1 649.2h1.0M67.6 652.9h1.0M80.9 653.4h1.0M90.1 650.7h1.0M107.7 655.7h1.0M79.3 658.5h1.0M99.9 650.8h1.0M96.7 657.8h1.0M86.1 648h1.0M67 648.8h1.0M91.8 656.9h1.0M117.3 648.5h1.0M89.6 650.1h1.0M157.5 689.1h1.0M165.4 692.1h1.0M164.2 693.5h1.0M169.8 694.4h1.0M162 687.6h1.0M159.6 692.9h1.0M163.9 689h1.0M164 692.3h1.0M157.1 686.9h1.0" stroke="#55e030" stroke-width="1.0" fill="none"/>
<path d="M108.1 653.1h1.0M97.2 649h1.0M76 653.2h1.0M90.3 647.7h1.0M72.6 650.6h1.0M101.8 655.1h1.0M79.7 659.2h1.0M83.4 654.6h1.0M58.9 647.6h1.0M59.4 645.9h1.0M107 649.1h1.0M96.4 660.9h1.0M98.3 650.1h1.0M82.8 649.1h1.0M59.4 645.4h1.0M82.5 656.5h1.0M114 648.4h1.0M86.3 651.5h1.0M60.2 643.7h1.0M104.1 648h1.0M57.1 646.8h1.0M81.2 649.2h1.0M65.8 641.6h1.0M112.8 646.7h1.0M80.3 660.5h1.0M61.9 645.7h1.0M109.6 654.5h1.0M105.3 646.3h1.0M59.1 646.1h1.0M103.2 646.1h1.0M99.2 648.1h1.0M87.9 662h1.0M88.1 659h1.0M96.1 653.8h1.0M101.2 655.3h1.0M82.5 645.1h1.0M74.5 658.2h1.0M56 641.5h1.0M83.8 691.4h1.0M95.2 718.8h1.0M96.5 721h1.0M93.5 716.2h1.0M84.3 693.5h1.0M98.8 721.5h1.0M80.7 694.2h1.0M98 722.4h1.0M83.9 689.4h1.0M89 717.6h1.0M84.8 704.7h1.0M87.7 695.7h1.0M98.4 726.2h1.0M86.7 704.4h1.0M78.5 685.8h1.0M88.3 700.6h1.0M102.6 722.5h1.0M86.5 693.2h1.0M86.6 707.1h1.0M81.6 679.3h1.0M93.5 723.5h1.0M86.2 713.2h1.0M87.3 716.2h1.0M95.7 722.5h1.0M85.6 709h1.0M94.5 716.3h1.0M86.6 703.2h1.0M81.7 691h1.0M78.9 682.7h1.0M99.3 722.4h1.0M89 716.5h1.0M86.8 692h1.0M82.9 694.7h1.0M79.1 690.5h1.0M100.5 724.9h1.0M87.2 710.7h1.0M91.2 720.4h1.0M81.9 702h1.0M86.9 715.7h1.0M93.2 717.6h1.0M78.4 685.8h1.0M85.9 688.4h1.0M86.6 701.3h1.0M87.5 707.5h1.0M100.9 724.9h1.0M96.9 720.3h1.0M87 711.2h1.0M80.2 685.7h1.0M82.4 696.5h1.0M82.1 698.7h1.0M100.8 723.8h1.0M96.5 724.4h1.0M80.5 698.4h1.0M82 686.7h1.0M89 713.4h1.0M84.7 691.5h1.0M83.4 698.2h1.0" stroke="#ffffff" stroke-width="1.0" fill="none"/>
<path d="M47.1 672.1h1.0M45.4 680.9h1.0M51 672h1.0M46.3 682.1h1.0M53.8 678.3h1.0M56.5 667.5h1.0M52.7 673.1h1.0M45.9 672.1h1.0M46 667.8h1.0M51.8 668.6h1.0M49.4 681.6h1.0M50.6 679.2h1.0M51.4 674.6h1.0M60.3 659h1.0M59.7 667h1.0M43.9 680.2h1.0M52.5 667.1h1.0M53.8 668.9h1.0M56.7 675.2h1.0M59.4 672.7h1.0M47.5 678.3h1.0M55.2 672.2h1.0M55.2 660.2h1.0M55.6 681.7h1.0M58.6 663h1.0M63.2 665.9h1.0M45.2 676.8h1.0M53.1 683.4h1.0" stroke="#f8c080" stroke-width="1.0" fill="none"/>
<path d="M49.6 674.3h1.0M45.7 675.5h1.0M50.7 669.5h1.0M57.6 672.6h1.0M53.3 677.2h1.0M57.2 662.8h1.0M50.9 677.4h1.0M52.3 674.1h1.0M51.9 674.4h1.0M55.7 669.4h1.0M55.5 677.7h1.0M51.3 673.3h1.0M55.7 675.3h1.0M45.9 675.9h1.0M46.1 677.7h1.0M60.5 667.6h1.0M53.1 679.7h1.0M56.3 674h1.0M61.5 670.5h1.0M55.1 679.8h1.0M58.1 667.8h1.0M58.9 663.4h1.0M54 666.3h1.0M46.3 674.2h1.0M45.1 676.5h1.0M61.9 668.1h1.0M55 663.3h1.0M54.1 679.2h1.0M52.1 681.5h1.0M45.2 677.6h1.0M56 660.4h1.0M51.3 678.7h1.0M45.5 677.6h1.0M51 668.8h1.0M53.2 662.3h1.0M51 672.7h1.0M55.1 673.7h1.0M56.2 671.7h1.0M46.7 673.9h1.0M61.1 661.8h1.0M47.3 678h1.0M58.8 675.4h1.0M55.2 672.1h1.0M57.3 663.7h1.0M48.2 672.3h1.0M51.9 668.4h1.0M59.7 671.3h1.0M57.2 675.4h1.0M51.2 674.2h1.0M55.3 661.5h1.0M54 677.3h1.0M58.5 661.6h1.0M58.1 659.4h1.0M49 678.1h1.0M54.9 679.8h1.0M45.4 679.1h1.0M48.1 676.7h1.0M50.9 668.7h1.0M51.1 676.3h1.0M54.1 670.5h1.0M51.3 670.1h1.0M52.9 666.3h1.0M50.3 680.7h1.0M52.6 681.4h1.0M60.3 662.1h1.0" stroke="#ffb050" stroke-width="1.0" fill="none"/>
<path d="M77.8 682.5h1.0M85.9 702.2h1.0M86.4 703.7h1.0M84 708.9h1.0M82.2 682.1h1.0M98.4 720.7h1.0M78.6 687.4h1.0M100 721.4h1.0M82.6 684.5h1.0M83.9 681.2h1.0M81.1 684.2h1.0M94.6 716.5h1.0M94.6 722.2h1.0M80.5 697.5h1.0M77.8 679.2h1.0M81.5 700h1.0M94.5 721.8h1.0M91.4 717.6h1.0M88.3 713.8h1.0M82.6 693.8h1.0M86.4 695h1.0M151.9 668.9h1.0M148 675.4h1.0M148.8 685.9h1.0M148.4 689.1h1.0M150.7 687.3h1.0M146.2 686.1h1.0M146.7 671.2h1.0M151.4 670h1.0M145.5 688.3h1.0M152.1 668.3h1.0M147.1 662.9h1.0M145.8 694.3h1.0M148.4 663.3h1.0M147.3 696.9h1.0M148.4 677.8h1.0M148.1 685.4h1.0M151.5 680.7h1.0M148.9 679h1.0M147.6 691.8h1.0M150.8 678.2h1.0M145.7 677.4h1.0M150.9 695.3h1.0M151.5 671h1.0M144.4 657.1h1.0M147.7 658.9h1.0M146.9 696.2h1.0M150.3 684.1h1.0M151.1 673.8h1.0M145.6 693.4h1.0M149.1 685.2h1.0M147.8 680.5h1.0M146.8 668.8h1.0M151.7 679.9h1.0M146.4 679.4h1.0M143.6 665.9h1.0M149.8 671.1h1.0M146.2 678.9h1.0M151.3 682.1h1.0M147.2 681h1.0M144.2 669.7h1.0M147.4 692.6h1.0M146.9 672.6h1.0M113.6 664.2h1.0M117.1 664.7h1.0M122.3 657.4h1.0M102 663.1h1.0M89.1 664.6h1.0M122.1 657.4h1.0M111.9 667.7h1.0M100.3 667.4h1.0M119.4 662.5h1.0M114.5 656.4h1.0M90.5 665.2h1.0M96.7 659.3h1.0M115.3 663h1.0M107.6 662.1h1.0M104.2 671h1.0M111.1 656.9h1.0M117.5 667.2h1.0M125.2 656.7h1.0M111.4 663.8h1.0M115.8 659h1.0M98.1 671.4h1.0M97.5 667.6h1.0M121.9 667.7h1.0M123.8 668.8h1.0M111.3 657.4h1.0M94.5 658.3h1.0M101.7 657.9h1.0M90.4 655.9h1.0M123.3 661.7h1.0M91.5 658.4h1.0M123 657.5h1.0M115.2 668.7h1.0M106.5 664.3h1.0M115.1 659.7h1.0M96.8 666.6h1.0M100.5 662.9h1.0M119.6 661.1h1.0M95.6 670.8h1.0M94.9 670.5h1.0M118 658.8h1.0M110.7 661.1h1.0M110.1 667.2h1.0M115.4 657.7h1.0M108.8 661.4h1.0M105.6 656.8h1.0M109.3 660.6h1.0M113.9 656.4h1.0M120.9 655.8h1.0M126 662.7h1.0M108.9 671.4h1.0M98.9 656.7h1.0M108.3 663.4h1.0M91.7 660.3h1.0M107.4 667.6h1.0M100.5 665.4h1.0M99.4 661.3h1.0M109.2 659.1h1.0M115.2 669.8h1.0M106.7 659.9h1.0M118.6 658.7h1.0M119.9 665h1.0M114.3 661.4h1.0M112.2 664.2h1.0M104.1 656.5h1.0M90 664.4h1.0M99.2 665.1h1.0M117.3 662h1.0M105.3 658.6h1.0M106.6 656.8h1.0M121.3 664.3h1.0M111.5 667.3h1.0M100.6 659.9h1.0M109.9 664.2h1.0M126.3 663.8h1.0M109.6 656.7h1.0M102.9 669.8h1.0M95 664.4h1.0M107.9 665.5h1.0M104.9 660.7h1.0M101.9 661.1h1.0M120.6 664.4h1.0M116.9 664.8h1.0M109.3 659.5h1.0M106.4 659.9h1.0M122.5 657h1.0M95.9 662.5h1.0M112.9 670.6h1.0M111.3 661.8h1.0M89.2 660.1h1.0M116.2 661.9h1.0M110.6 661h1.0M113.3 669.7h1.0M92.5 669.3h1.0M96 662.8h1.0M110.5 660.3h1.0M111.1 657.6h1.0M92.9 665.1h1.0M109.9 668.3h1.0M103.1 659.6h1.0M115.8 658.5h1.0" stroke="#1cc0f4" stroke-width="1.0" fill="none"/>
<path d="M121.6 676.1h1.0M90.9 666.7h1.0M113.8 691.2h1.0M90.7 698.2h1.0M93.3 698.7h1.0M97.3 676.7h1.0M110.2 669.9h1.0M101.8 693h1.0M93.3 682.8h1.0M106.6 690.3h1.0M106.8 668.9h1.0M111.9 695.4h1.0M109.4 678.6h1.0M104.3 694.3h1.0M101.3 696.4h1.0M118.5 690.6h1.0M112.9 685.2h1.0M105 697h1.0M115.6 682.1h1.0M117.7 688.4h1.0M96.9 678.6h1.0M117.2 688.3h1.0M92.9 713.8h1.0M108.3 707.6h1.0M95.8 701.1h1.0M100.6 704.1h1.0M122.2 668h1.0M98.9 668.9h1.0M115.5 672.7h1.0M105 690.4h1.0M110 681.3h1.0M118.7 676.6h1.0M111.4 665.7h1.0M105.9 679.4h1.0M116.9 675.8h1.0M106.7 665.3h1.0M90.3 674.6h1.0M102.4 689.5h1.0M95.9 671.7h1.0M101.2 682.6h1.0M99.5 672.9h1.0M109.9 675.4h1.0M110.9 689.8h1.0M112 699h1.0M115.3 680.7h1.0M92.8 684.6h1.0M95.4 706.4h1.0M116.7 676.9h1.0M93.4 676.7h1.0M104.6 699.4h1.0M98.7 691.7h1.0M104.5 697.1h1.0M108.4 696.3h1.0M104 708.6h1.0M121.9 670.5h1.0M101.8 698.8h1.0M91.2 686.9h1.0M114.7 684.9h1.0M94.4 690.3h1.0M120.7 675.9h1.0M98.5 680.7h1.0M90.5 680.5h1.0M108.2 700.5h1.0M99.3 697.8h1.0M95.2 704h1.0M99.1 714.8h1.0M92.3 693.3h1.0M115.9 696.1h1.0M92.1 699.6h1.0M101.2 666.6h1.0M104 678.8h1.0M99.7 677.1h1.0M116.4 679.6h1.0M92 689.7h1.0M94.1 706.4h1.0M90.8 675h1.0M94.9 683.3h1.0M122.1 667.2h1.0M101.4 697h1.0M108.6 706.4h1.0M91.1 701.4h1.0M104.7 709.9h1.0M113.5 689.5h1.0M92.3 699.9h1.0M90.8 703.6h1.0M117.1 685.1h1.0M109.4 696.9h1.0M98.2 686.8h1.0M113.1 697.2h1.0M90.7 696.7h1.0M97.8 685.3h1.0M107.3 687.4h1.0M106.8 675.3h1.0M93.8 713.7h1.0M108.1 668.5h1.0M115.6 694.1h1.0M97.2 700.6h1.0M100.2 681.3h1.0M96.3 682.4h1.0M105.8 685.2h1.0M100.7 696.9h1.0M118 687.1h1.0M115.7 695.5h1.0M95.3 678.6h1.0M103.5 705.3h1.0M105.7 696.8h1.0M98.7 677.4h1.0M100.2 714.9h1.0M109 698.1h1.0M96 704.7h1.0M104.6 699.7h1.0M101.9 665.2h1.0M99.6 712.4h1.0M102.3 697.2h1.0M100.9 673.7h1.0M109.7 706.1h1.0M102.3 712.1h1.0M121.4 672.6h1.0M109.4 686.6h1.0M91.2 696.6h1.0M119.3 672.9h1.0M112.6 671.3h1.0M102.1 697h1.0M98.8 708.5h1.0M100.5 704h1.0M113.7 674.7h1.0M99.2 673.3h1.0M96.1 680h1.0M119.1 691.6h1.0M94.7 679.5h1.0M107.7 682.3h1.0M108.4 691.6h1.0M102.4 696.3h1.0M108.7 666.2h1.0M107.3 681.9h1.0M89.9 688.3h1.0M95.7 678.7h1.0M95.5 705.9h1.0M94 691.4h1.0M93.1 674.4h1.0M125.8 672.7h1.0M105.7 709.6h1.0M106.7 680.1h1.0M97.7 698.4h1.0M111.2 704.7h1.0M119.9 683.8h1.0M121.5 671h1.0M91.3 679.2h1.0M104.6 707.5h1.0M96.6 680.3h1.0M97.3 701.8h1.0M118.6 671.3h1.0M105.2 696.5h1.0M100.3 678.7h1.0M122.4 666.7h1.0M90.9 700.2h1.0M112.9 672.9h1.0M116.4 683.1h1.0M94.1 706h1.0M103.3 689h1.0M98.5 692.7h1.0M125.7 672.2h1.0M102.4 668.3h1.0M92.9 691h1.0M96.7 708.6h1.0M99.1 686.9h1.0M97 694.7h1.0M90.3 698.2h1.0M101.8 681.8h1.0M123.8 680.9h1.0M116 683.6h1.0M110.8 693.9h1.0M123.4 674.3h1.0M91.9 689.9h1.0M96.4 715.7h1.0M111 699.7h1.0M93.1 696.7h1.0M120 670.5h1.0M90.2 674h1.0M98 677.2h1.0M90.7 671.4h1.0M103.2 704h1.0M104.1 676.6h1.0M101.6 686.8h1.0M95.6 707.9h1.0M92 695.8h1.0M103.4 685.5h1.0M113.1 668.1h1.0M123 677.8h1.0M99.9 683.6h1.0M97.4 708h1.0M123.2 667.5h1.0M93.4 675h1.0M119.8 687.4h1.0M92.6 708.4h1.0M98.7 677.6h1.0M106.3 696.8h1.0M112.6 685.8h1.0M101.8 668.5h1.0M123.8 681.5h1.0M96.6 704.6h1.0M108.1 708h1.0M109.5 703.5h1.0M94.2 703.1h1.0M101.6 680.9h1.0M115.5 693.8h1.0M124.3 668.3h1.0M120.2 676.4h1.0M104.8 675h1.0M91.3 674.5h1.0M104.9 667.9h1.0M94.3 669.3h1.0M122.6 678.6h1.0M116.1 665h1.0M119.2 679.1h1.0M90 695h1.0M105.1 670.6h1.0M100.4 697.2h1.0M102.6 680.9h1.0M91.3 675h1.0M99.9 675h1.0M101.2 714.1h1.0M95.4 678.7h1.0M99.4 676.6h1.0M112.6 694.8h1.0M100.6 665h1.0M92.5 688.3h1.0M99 713.9h1.0M121.8 676.2h1.0M105.9 687.9h1.0M115.4 689.5h1.0M111.5 698h1.0M111 679.1h1.0M90.7 701.8h1.0M121.6 680.6h1.0M114.1 670.4h1.0M100.3 690.8h1.0M94.8 669.4h1.0M122.9 675.4h1.0M123.1 677.3h1.0M109 695.5h1.0M103.7 692.7h1.0M98.4 674.8h1.0M102 684.1h1.0M102.6 711.9h1.0M92.6 692.7h1.0M120.2 678h1.0M120 684.4h1.0M109.4 700.8h1.0M95.9 716.7h1.0M123.1 671.6h1.0M108.1 664.8h1.0M116.1 670h1.0M101.4 674.8h1.0M98.3 678.2h1.0M115.7 687.7h1.0M112.5 685h1.0M89.7 676.5h1.0M116 681.1h1.0M107.6 675.8h1.0M101.3 704.2h1.0M93.7 671.5h1.0M96.4 675.2h1.0M105.9 686.8h1.0M97.4 679.6h1.0M116.1 666.6h1.0M114 693.8h1.0M98.7 687.3h1.0M92 684.5h1.0M97.8 678.4h1.0M122.7 680.9h1.0M103.3 665.6h1.0M103.4 690.4h1.0M113.8 691h1.0M98.1 685.1h1.0M93.3 689h1.0M98.3 702.6h1.0M96.4 681.4h1.0M104.1 665.9h1.0M110.7 705.6h1.0M107.5 670.8h1.0M115 677.5h1.0M106.8 691.2h1.0M103.3 690.4h1.0M119.6 674.9h1.0M108.3 676.6h1.0M93.4 677.2h1.0M113.1 673.7h1.0M103.2 674.3h1.0M105 665h1.0M120.7 680.8h1.0M96.4 707.8h1.0M119.8 687.4h1.0M107.4 668.2h1.0M122.6 676.4h1.0M105.6 666h1.0M113.7 675.7h1.0M100.1 707.1h1.0M100.5 664.8h1.0M99.1 689.9h1.0M90.4 688h1.0M102 706.1h1.0M121.4 677.9h1.0M121.9 677.8h1.0M115.2 676h1.0M111.3 702.3h1.0M103.3 706.1h1.0M109.6 692.2h1.0M92.3 672.6h1.0M114.8 665.1h1.0M119.4 667.8h1.0M120.3 672.7h1.0M101.4 706.2h1.0M100.4 665h1.0M106.9 709.9h1.0M96.9 677.9h1.0M116.1 676.3h1.0M90.5 680.4h1.0M122.3 666.8h1.0M96.5 701.3h1.0M91.7 707.5h1.0M125.3 676.3h1.0M123.5 671.6h1.0M95.4 697h1.0M90.6 676.4h1.0M116.5 665.8h1.0M94.1 688.6h1.0M108.1 693.8h1.0M105.1 687.5h1.0M97.4 678.2h1.0M95.3 703.1h1.0M96.9 672.2h1.0M102.2 702.1h1.0M106.4 702.2h1.0M119 667.8h1.0M123.1 680h1.0M116 688.9h1.0M110 672h1.0M104 672.1h1.0M99.6 666.1h1.0M99.7 704.6h1.0M101.8 668.4h1.0M97.3 710.6h1.0M94.1 671h1.0M107.3 680.7h1.0M103.8 701.4h1.0M90.7 668.2h1.0M105.3 712.6h1.0M106.3 676.3h1.0M103.9 681.4h1.0M103.5 705.7h1.0M111.8 676.8h1.0M119.6 669.8h1.0M112 703.8h1.0M106.7 703.8h1.0M101.8 699.7h1.0M106.8 695.3h1.0M116.6 692.2h1.0M102.3 709.2h1.0M100.6 710.9h1.0M92.2 699.2h1.0M100.7 699.6h1.0M95.6 708.8h1.0M109.6 690.4h1.0M96.5 701.3h1.0M92.7 700.5h1.0M107.5 667.3h1.0M90.6 700h1.0M102.6 691.9h1.0M108.8 685.8h1.0M109.2 707.9h1.0M112.2 666.6h1.0M121.8 681.8h1.0M104.3 679.9h1.0M105.5 690.7h1.0M103 681.1h1.0M91.4 703.3h1.0M91.5 695.5h1.0M95.9 693h1.0M95.4 715.1h1.0M96.6 707.6h1.0M124.2 669.9h1.0M115 681.9h1.0M98.7 714.9h1.0M94 715.8h1.0M96.8 697.1h1.0M99.3 694.6h1.0M97.2 706.9h1.0M118 667.4h1.0" stroke="#12b4ea" stroke-width="1.0" fill="none"/>
<path d="M120.5 675.9h1.0M122.9 671.8h1.0M101.6 695h1.0M111.4 703h1.0M99.9 710.4h1.0M114.8 679.7h1.0M96.5 714.7h1.0M100.1 689.5h1.0M102.5 696.6h1.0M100.5 701.4h1.0M106.3 683.9h1.0M125.1 671.8h1.0M115.3 675.1h1.0M96.4 668.9h1.0M113.2 684.5h1.0M93.1 708.5h1.0M105.2 708.8h1.0M124.2 675.2h1.0M102.2 679.8h1.0M97 677.3h1.0M109.3 673.6h1.0M100.2 713.3h1.0M118.4 669.1h1.0M90.4 688.1h1.0M110.7 685.9h1.0M117.7 676.5h1.0M104.3 690.8h1.0M100.4 695.7h1.0M102.2 666.5h1.0M91 692.5h1.0M116.6 682.4h1.0M115.2 671.3h1.0M101 677h1.0M116.2 690.9h1.0M113 681.9h1.0M93 710.6h1.0M111.7 694.6h1.0M91.6 698.7h1.0M103.9 709h1.0M111.2 676.3h1.0M103.1 701.8h1.0M95.5 688.3h1.0M93.8 685.7h1.0M102.8 698.3h1.0M108.1 686.4h1.0M109.5 689.5h1.0M108.9 676.9h1.0M113.4 695.7h1.0M121.1 684.7h1.0M92.1 699.1h1.0M105.9 677.5h1.0M99.1 699.2h1.0M113.6 700.2h1.0M102.1 690.8h1.0M108.6 695.8h1.0M100.3 710.5h1.0M102.9 673.9h1.0M108.5 684.9h1.0M119.6 679.1h1.0M120.8 667.1h1.0M93.5 687.2h1.0M98.9 692h1.0M113.4 698.8h1.0M90.4 687.6h1.0M102 711h1.0M95.4 717.5h1.0M105.9 705.4h1.0M121.4 678.4h1.0M94.3 667.1h1.0M91.6 679.4h1.0M105.9 684.1h1.0M112.1 681.6h1.0M96.6 701.8h1.0M106.5 685.2h1.0M91.4 705h1.0M97.5 696.7h1.0M92.1 676.9h1.0M111.9 692.1h1.0M95 690.9h1.0M112.7 667.1h1.0M97.9 691.9h1.0M113.3 687.4h1.0M106.8 688.8h1.0M96.4 716.7h1.0M95.3 678h1.0M124.2 671h1.0M90.6 700.3h1.0M117.5 689.6h1.0M114.8 695.8h1.0M94.3 670.7h1.0M94.5 700h1.0M94.4 669.6h1.0M100.1 683.8h1.0M106.4 669.2h1.0M118.7 679.3h1.0M100.6 696.5h1.0M115.7 667.8h1.0M112.4 667.1h1.0M113.2 665.9h1.0M89.8 674.7h1.0M101 716.7h1.0M122.1 683.6h1.0M112.7 695.6h1.0M92.4 706.8h1.0M109.7 674.9h1.0M120.1 669.7h1.0M91.6 698h1.0M95.1 668.1h1.0M109.5 681.7h1.0M93.9 669.8h1.0M91.7 703.1h1.0M97.7 714h1.0M104.8 672.2h1.0M105.8 682.8h1.0M93.4 696.6h1.0M95 676.4h1.0M117.1 672h1.0M94.7 701.7h1.0M108.2 701.8h1.0M96.7 709.2h1.0M98 687h1.0M93.1 695.9h1.0M104.8 693.9h1.0M104.7 694.3h1.0M97.1 675.9h1.0M92 670.9h1.0M111.1 685.2h1.0M105.4 707.8h1.0M106.9 667.4h1.0M114.5 669h1.0M100.7 706.4h1.0M103 686.1h1.0M101.9 715.2h1.0M105 674.7h1.0M91.7 681.9h1.0M110.1 677.8h1.0M122.2 669.9h1.0M118.8 684.7h1.0M94.9 714.1h1.0M97.1 674.9h1.0M100.5 664.6h1.0M105.9 700.4h1.0M104.7 666.8h1.0M95 716h1.0M118.6 669h1.0M113.9 683.3h1.0M91.3 672h1.0M100.7 711.8h1.0M94.9 712.4h1.0M100.6 716.7h1.0M110.8 699.5h1.0M108.5 696.4h1.0M101.3 703.8h1.0M104.5 703.8h1.0M99 698.2h1.0M108 679h1.0M96.7 703.2h1.0M92.2 698.9h1.0M91.5 684.2h1.0M126.1 671.2h1.0M100.6 694.8h1.0M103.5 702.7h1.0M90.8 679.5h1.0M107.4 670.4h1.0M95.3 673.3h1.0M101.3 684.9h1.0M110.3 686.7h1.0M98.4 670.9h1.0M96.4 669.6h1.0M93.9 691.7h1.0M94.1 685h1.0M117.4 678.4h1.0M93.9 696.5h1.0M104.3 699.5h1.0M108.6 681.5h1.0M116.3 687.4h1.0M125.2 673.5h1.0M116.5 678.4h1.0M107.9 695h1.0M113.6 666.2h1.0M95.9 710.5h1.0M100.8 715.9h1.0M92.4 707.4h1.0M123.7 677.8h1.0M116.6 669.2h1.0M110.5 685.7h1.0M102.2 713.8h1.0M103.2 671.8h1.0M92.2 671.8h1.0M112.7 672.2h1.0M101.3 700.4h1.0M115.9 674.2h1.0M98.6 705.1h1.0M95.4 703.5h1.0M93.6 708.8h1.0M95.1 714.9h1.0M123.7 680.1h1.0M93.3 712.8h1.0M98.7 703.1h1.0M101.7 684.4h1.0M111.7 671.7h1.0M112 683h1.0M106 669.7h1.0M118.2 679.4h1.0M97.7 674.6h1.0M104.9 697.7h1.0M104.7 675.4h1.0M101.6 700.3h1.0M93.3 712.4h1.0M96.6 698.1h1.0M92.2 678.5h1.0M93.5 704.7h1.0M104.6 670.4h1.0M101.8 710.1h1.0M102.4 669.3h1.0M90.4 689.7h1.0M121.5 685.1h1.0M93.1 692.4h1.0M106.7 697.1h1.0M106.3 711.1h1.0M90.8 671.7h1.0M112.3 680.2h1.0M105.2 678.3h1.0M97.3 699.4h1.0M98.3 711.4h1.0M96.4 683.5h1.0M120 671.9h1.0M93 709.5h1.0M103.8 684h1.0M98.2 717.1h1.0M99.8 706.1h1.0M117.5 672h1.0M101.4 677.9h1.0M121.6 677.8h1.0M99.7 674.8h1.0M119.2 684.5h1.0M105 674h1.0M99 690.7h1.0M103.2 678.3h1.0M91.7 697.9h1.0M100.9 672.8h1.0M113 671.2h1.0M117.4 685.2h1.0M102.4 695.3h1.0M107.4 703.1h1.0M101.4 701.6h1.0M91.9 683.2h1.0M108.1 680.2h1.0M101.7 709.3h1.0M98.5 677.5h1.0M114.4 693.6h1.0M109.6 674.2h1.0M108.2 678.1h1.0M98.1 703.3h1.0M106.8 701.5h1.0M105.9 683.3h1.0M105.4 688.9h1.0M100.6 715.5h1.0M113.6 690.3h1.0M93.8 710.9h1.0M104.9 698.9h1.0M105.8 679.7h1.0M110.3 704.8h1.0M108 680.3h1.0M115.2 682h1.0M108.6 696.7h1.0M90.4 694.4h1.0M98.1 678.1h1.0M115.6 688.9h1.0M99.7 702h1.0M90.6 699.9h1.0M101.3 674.7h1.0M96.9 669.4h1.0M106.2 688.3h1.0M91.3 709.6h1.0M103.3 690.6h1.0M113.1 664.7h1.0M91.3 681.7h1.0M95.9 677h1.0M94.3 708h1.0M99.2 711.2h1.0M105.4 688.8h1.0M91.2 696.5h1.0M102.9 708.9h1.0M112.5 668.9h1.0M104.2 686.2h1.0M108.1 674.5h1.0M99.8 696.5h1.0M114 667.2h1.0M121 686.5h1.0M103 674.8h1.0M102.3 680.6h1.0M100.5 691.2h1.0M108.8 670.8h1.0M108.3 701.5h1.0M114.7 675.6h1.0M114.2 682.7h1.0M97.1 676h1.0M104.5 711.4h1.0M113.2 693.1h1.0M101.4 686.8h1.0M112.4 682h1.0M91.6 680.8h1.0M105.2 706.8h1.0M117.7 680.2h1.0M113.3 680.6h1.0M115 678.8h1.0M93.6 668.1h1.0M102.9 693h1.0M90 691.4h1.0M116 696.1h1.0M122.5 682.3h1.0M101.3 672.1h1.0M96.9 700.2h1.0M96.5 675.4h1.0M101.4 702.3h1.0M97.2 717.7h1.0M99.3 698.6h1.0M92.3 692.1h1.0M94.9 693.6h1.0M121.6 686h1.0M117.4 674.7h1.0M109.4 677.2h1.0M94.3 683.7h1.0M95.5 696.9h1.0M119.1 672.9h1.0M122.6 681.3h1.0M95.9 704.9h1.0M121.9 685.4h1.0M106.6 665.6h1.0M100.3 681.3h1.0M108.4 707.3h1.0M96.3 680.2h1.0M105.9 669.3h1.0M111.8 682.4h1.0M119.9 688.6h1.0M91.4 702.1h1.0M103.9 699h1.0M109.2 665.9h1.0M102.5 682.3h1.0M92.6 707.2h1.0M98.4 680.2h1.0M107.5 674h1.0M100.3 677.9h1.0M119.1 683.3h1.0M121.1 666h1.0M99 676.3h1.0M93.4 701.6h1.0M100.7 702.2h1.0M96.9 707.7h1.0M102.6 697.8h1.0M92.1 693.8h1.0M94.3 704.4h1.0M93.7 695.4h1.0M109.9 701.2h1.0M89.8 686.9h1.0M99.8 712.5h1.0M100.9 714h1.0M102.2 687.7h1.0M95.4 679.6h1.0M99.7 692.5h1.0M113.6 696.9h1.0M102.6 668.2h1.0M119.5 675.1h1.0M96.2 704.5h1.0M121 668.1h1.0M125.5 672.9h1.0M91.3 708h1.0M107 664.7h1.0M90.8 669.6h1.0M108 665.5h1.0M109.1 688.3h1.0M109.9 677h1.0M106.3 678.6h1.0M99.5 678.8h1.0M119.6 689.3h1.0M97.3 707h1.0M113 701.1h1.0M108 701.8h1.0M95.2 703.8h1.0M101.2 667.7h1.0M97.3 672.9h1.0M108.6 697.7h1.0M106.3 688.1h1.0M92.8 697.6h1.0M121.2 673.7h1.0M115 680.8h1.0M109.8 672.6h1.0M92.3 681.6h1.0M95.4 695.6h1.0M96.7 691.5h1.0M109.4 701.8h1.0M102.1 705.7h1.0M106.8 665.7h1.0M110.6 673.1h1.0M106.8 687.3h1.0M100.7 708.1h1.0M101.3 715.6h1.0M112.6 686.6h1.0M122.4 674.9h1.0M116.8 677.6h1.0M99.4 706.4h1.0M97.2 692.1h1.0M94.8 668.7h1.0M110.5 701.4h1.0M108.1 680.3h1.0M99.3 671.4h1.0M119 688h1.0M94.3 677h1.0M96.3 675.2h1.0M119.8 680.6h1.0M96.5 671.3h1.0M105.6 687.1h1.0M100.1 675.7h1.0M95.6 676h1.0M94.4 674.1h1.0M105.4 695.7h1.0M105.1 699.8h1.0M96.9 687.6h1.0M103.5 711.4h1.0M100.5 712.4h1.0M93.3 678.1h1.0M98.3 674h1.0M95.1 684h1.0M98.4 712.4h1.0M117.6 673.7h1.0M92.6 702.4h1.0M112 678h1.0M90.1 692.2h1.0M93.6 677.2h1.0M106.2 699.9h1.0M94.5 689h1.0M114.3 682.1h1.0M109.2 671.2h1.0M97.1 671.8h1.0M100.3 683.7h1.0M110.7 676.9h1.0M111.7 675h1.0M109.1 673.2h1.0M108.2 688.5h1.0M104.5 677h1.0M106.4 704.7h1.0M101.3 716.8h1.0M96.7 674.5h1.0M107.9 684.2h1.0M112.3 695.2h1.0M113.1 678.9h1.0M101.2 665.8h1.0M90.4 681.3h1.0M94.7 669.6h1.0M91.9 677.1h1.0M93.8 688.8h1.0M121.4 674.6h1.0M94.4 675.3h1.0M123 666.5h1.0M93.5 682.6h1.0M118.8 670.2h1.0M119 671.2h1.0M100.2 709.3h1.0M104.2 671.7h1.0M92.4 712.2h1.0M117.3 672.9h1.0M103.3 698h1.0M93.1 697h1.0M106.3 671.9h1.0M97.2 668.2h1.0M91.4 676.6h1.0M123.4 678.1h1.0M97.1 717.4h1.0" stroke="#30c8f6" stroke-width="1.0" fill="none"/>
<path d="M101.4 698h1.0M107.4 687.5h1.0M102.7 712.1h1.0M116.3 681.9h1.0M96.4 689.1h1.0M105.5 710.2h1.0M102.2 687.9h1.0M116.5 668.2h1.0M99.1 671.6h1.0M102 667.9h1.0M96.5 666.7h1.0M106.9 676.3h1.0M125.3 671.8h1.0M97.3 683.8h1.0M99.6 696.3h1.0M99.9 702.6h1.0M92.4 668.5h1.0M114.3 699.1h1.0M99.9 703.7h1.0M116.2 677.3h1.0M95.5 709h1.0M93.8 688.2h1.0M90.5 693.4h1.0M103.9 713.2h1.0M90.7 699.8h1.0M123 677.1h1.0M121.6 668.9h1.0M104.5 672.6h1.0M147.8 682.5h1.0M148.5 682.4h1.0M143.5 669.5h1.0M150.3 660.7h1.0M142.9 666.1h1.0M145.4 679.9h1.0M144 660.8h1.0M145 688h1.0M145.9 666.5h1.0M143.7 664.8h1.0M150.6 664.5h1.0M144.6 675.7h1.0M152.6 668.4h1.0M145.4 673.5h1.0M149.7 691.7h1.0M147.6 667.9h1.0M151.2 676h1.0M147.7 658.6h1.0M145.8 671.7h1.0M144.6 658.5h1.0M152.5 666.5h1.0M150 678.8h1.0M151 672.5h1.0M147.6 687.9h1.0M149.9 677.9h1.0M146.6 663.1h1.0M143.3 682.4h1.0M152.1 669.2h1.0M146.3 685.2h1.0M150.3 662.7h1.0M148.5 675h1.0M150.4 685.5h1.0M147.5 673.1h1.0M152.2 671.9h1.0M148.1 691.8h1.0M151.3 689.9h1.0M147.2 683.6h1.0M148.4 672.7h1.0M143.6 672.9h1.0M152 678.6h1.0M145.5 669.4h1.0M145.3 659.8h1.0M151.9 673.4h1.0M148.8 684.6h1.0M145.1 688.4h1.0M143.3 668.7h1.0M150.4 662.7h1.0M143.2 672.1h1.0M146.4 676.6h1.0M143.6 683.3h1.0M150.1 669.4h1.0M151 680.5h1.0M145.5 670.6h1.0M150.1 660.2h1.0M146.3 695.7h1.0M149.7 662.7h1.0M148.4 667.8h1.0M150 686.8h1.0M149.8 692.8h1.0M150.4 662.8h1.0M145.6 676.6h1.0M144.2 658.8h1.0M150.3 670.5h1.0M143.9 683.3h1.0M147.1 696.4h1.0M143.3 681.8h1.0M147.7 691.6h1.0M144.4 685.2h1.0M152.6 669.8h1.0M149.8 663.4h1.0M147.3 666.3h1.0M149.4 662.8h1.0M151.9 677.7h1.0M145.8 656.9h1.0M143.4 676.7h1.0M146.3 692.9h1.0M149.5 686.8h1.0M147.2 685.4h1.0M151.7 669.9h1.0M147.2 672.1h1.0M147.2 683.1h1.0M143.2 670.5h1.0M144.2 663.6h1.0M151.6 671.8h1.0M151 663.8h1.0M145.6 660.7h1.0M147.5 686h1.0M145.8 680.7h1.0M151.2 688.5h1.0M150.8 688.7h1.0M143.3 671.9h1.0M145 658.8h1.0M145.9 682h1.0M144.7 680.4h1.0M146.3 665.6h1.0M148.4 662h1.0M148.4 678.9h1.0M149.5 685h1.0M147.5 677.5h1.0M147.6 680h1.0M150.7 693.9h1.0M143 670.3h1.0M146.4 663.2h1.0M149.4 690.7h1.0M144.2 684.6h1.0M143.2 669.7h1.0M148.7 674.2h1.0M146.7 669.5h1.0M149.1 687.2h1.0M148.8 669.1h1.0M148.7 668.5h1.0M144.9 663h1.0M145 667.1h1.0M148.1 670.9h1.0M147.5 678.1h1.0M150.7 679.4h1.0M150.7 656.7h1.0M149.4 671.3h1.0M149.4 675.7h1.0M150 661.3h1.0M146.9 677.2h1.0M152.6 675.4h1.0M144.3 675.6h1.0M149.4 685.5h1.0M148.6 661.1h1.0M146 662.9h1.0M147.7 660.7h1.0M152.1 682.1h1.0M144.5 675.4h1.0M147 677.4h1.0M145.6 662.7h1.0M147.9 687.1h1.0M146.7 686.4h1.0M150.6 658.8h1.0M147.9 657.4h1.0M149.1 678.4h1.0M149.2 677.6h1.0M146.9 684.4h1.0M150.2 673.6h1.0M144.7 691.5h1.0M150.2 685.7h1.0M151.4 679.6h1.0M150.3 667.1h1.0M144.5 681.2h1.0M148.4 658.2h1.0M146.1 690.3h1.0M147.7 691.9h1.0M150.4 671.1h1.0M97.7 656.4h1.0M89.1 670.2h1.0M122.8 667.9h1.0M117.2 658.4h1.0M107.2 662.8h1.0M113.1 666.9h1.0M110.7 660.6h1.0M95.1 669.5h1.0M106.5 665.5h1.0M114 658.5h1.0M93.8 664.9h1.0M97.9 664.5h1.0M110.8 663.3h1.0M113.6 661.4h1.0M103.9 666.2h1.0M110.1 670h1.0M123.9 656.8h1.0M106.9 658.5h1.0M93 667.3h1.0M111.1 659.9h1.0M104.6 662.3h1.0M118.1 660.1h1.0M95.6 656.4h1.0M89.1 658.7h1.0M125.1 660.6h1.0M94.8 659.7h1.0M92.9 667.5h1.0M123.9 661.7h1.0M126 659.5h1.0M96.6 670.7h1.0M98.2 666.2h1.0M119.1 665.2h1.0M123.9 669.2h1.0M106.7 670.8h1.0M107.1 658.7h1.0M112.6 668.2h1.0M103.1 664.8h1.0M94.8 668.2h1.0M114.9 655.6h1.0M97.1 668.3h1.0M112.7 669h1.0M91.7 670.6h1.0M101.2 662.4h1.0M120.7 665h1.0M115.4 657h1.0M102 657.1h1.0M114.7 660.1h1.0M114.2 667.4h1.0M95.9 670.7h1.0M97 659h1.0M125.8 662.2h1.0M95.8 668.9h1.0M113.8 661.1h1.0M113.8 660.6h1.0M100.8 662.8h1.0M104.9 666.2h1.0M125.8 662.2h1.0M98.4 667.3h1.0M110.3 664.6h1.0M106.8 670.2h1.0M116.5 665.9h1.0M103.9 655.6h1.0M107.2 658.7h1.0M110.4 656.4h1.0M103.7 666.3h1.0M100.1 662.8h1.0M126.7 662.1h1.0M90.1 658.4h1.0M120.7 668.1h1.0M95.7 658.9h1.0M106 665.3h1.0M99.5 663.8h1.0M106.9 657.6h1.0M119.6 668.1h1.0M96.6 661.4h1.0M122.8 668.6h1.0M97 667h1.0M89.8 668.3h1.0M108.6 660.1h1.0M95.4 666.7h1.0M118.6 660.2h1.0M104.8 664.5h1.0M103.4 668.5h1.0M101.5 663.7h1.0M97 669.8h1.0M107.5 670.7h1.0M105.5 666.3h1.0M122.3 662.6h1.0M116.1 656h1.0M94.2 661.3h1.0M120.2 666.7h1.0M121.6 667.2h1.0M95.4 665.7h1.0M114.4 656.3h1.0M89.3 662.3h1.0M111 670.2h1.0M123.8 664.6h1.0M104.1 660.8h1.0M95.1 660.3h1.0M115.2 665.2h1.0M96 664.6h1.0M107.1 668.2h1.0M94.8 665.4h1.0M89.7 668.4h1.0M125.6 658.2h1.0M105.7 667.2h1.0M110.4 671h1.0M97.4 658.7h1.0M118.1 662.7h1.0M106.2 655.6h1.0M106.3 660.4h1.0M121.1 667.6h1.0M93.2 666.6h1.0M112.2 665.9h1.0M114.2 661.1h1.0M125.7 664.9h1.0M120.7 663.2h1.0M115.2 656.5h1.0M105.6 662.9h1.0M105.9 662.8h1.0M95.9 662.4h1.0M111.6 669.9h1.0M97.5 655.7h1.0M108.6 669.1h1.0M106.4 661h1.0M115.4 664.6h1.0M123.1 662.1h1.0M118.5 669h1.0M121.1 667.8h1.0M113.1 668.5h1.0M121.4 668.1h1.0M115.4 658.7h1.0M97.1 662.6h1.0M93.5 661.7h1.0M106.6 667.1h1.0M110.7 659.5h1.0M113.1 663.9h1.0M124.6 658.7h1.0M98.9 669.9h1.0M117.2 666.5h1.0M112.7 661h1.0M99.8 664.3h1.0M119.2 666.9h1.0M123.2 664.5h1.0M119.8 657.7h1.0M91.4 660.6h1.0M118.2 663.8h1.0M115.7 663.2h1.0M100.1 665.1h1.0M113.7 659.3h1.0" stroke="#3aa8b8" stroke-width="1.0" fill="none"/>
<rect x="88.1" y="654.7" width="66.3" height="64.4" fill="none" stroke="#000" stroke-width="2"/>
<text x="90.4" y="564.5" font-size="8.2" text-anchor="middle" fill="#111">CD4</text>
<text x="165.5" y="577.3" font-size="8.2" text-anchor="middle" fill="#111">CD8</text>
<rect x="212.3" y="670.9" width="72.4" height="69" fill="#fff" stroke="#777" stroke-width="1.2"/>
<rect x="212.9" y="671.5" width="71.2" height="13.1" fill="#efefef"/>
<line x1="220.8" y1="670.9" x2="220.8" y2="739.9" stroke="#777" stroke-width="1"/>
<line x1="212.3" y1="684.6" x2="284.7" y2="684.6" stroke="#777" stroke-width="1"/>
<line x1="212.3" y1="698.4" x2="284.7" y2="698.4" stroke="#777" stroke-width="1"/>
<line x1="212.3" y1="712.4" x2="284.7" y2="712.4" stroke="#777" stroke-width="1"/>
<line x1="212.3" y1="726.3" x2="284.7" y2="726.3" stroke="#777" stroke-width="1"/>
<text x="224.3" y="681.1" font-size="8.9" font-weight="bold" fill="#111">Subset Name</text>
<rect x="214.6" y="686.9" width="4.6" height="9.3" fill="#22b8ea"/>
<text x="224.3" y="695.0" font-size="8.6" fill="#111">Tscm_N</text>
<rect x="214.6" y="700.8" width="4.6" height="9.3" fill="#f0952c"/>
<text x="224.3" y="708.9" font-size="8.6" fill="#111">CM</text>
<rect x="214.6" y="714.7" width="4.6" height="9.3" fill="#66dd33"/>
<text x="224.3" y="722.8" font-size="8.6" fill="#111">EM</text>
<rect x="214.6" y="728.6" width="4.6" height="9.3" fill="#2a5a14"/>
<text x="224.3" y="736.7" font-size="8.6" fill="#111">EMRA</text>
<rect x="22.7" y="743.4" width="116.6" height="116.6" fill="#fff" stroke="#6e6e6e" stroke-width="1.2"/>
<rect x="142.6" y="743.4" width="117.0" height="116.6" fill="#fff" stroke="#6e6e6e" stroke-width="1.2"/>
<rect x="263.2" y="743.4" width="116.4" height="116.6" fill="#fff" stroke="#6e6e6e" stroke-width="1.2"/>
<rect x="383.2" y="743.4" width="117.1" height="116.6" fill="#fff" stroke="#6e6e6e" stroke-width="1.2"/>
<g transform="translate(8.52 397.86) scale(0.6245 0.6245)" opacity="0.85"><path d="M84.0 571.0 L93.0 569.5 L100.0 572.0 L106.0 578.0 L110.0 588.0 L113.0 600.0 L117.0 612.0 L119.0 625.0 L118.0 637.0 L114.0 645.0 L100.0 648.0 L85.0 647.0 L70.0 644.0 L58.0 638.0 L53.0 630.0 L55.0 620.0 L57.5 610.0 L60.5 598.0 L65.0 586.0 L73.0 577.0Z" fill="#efefef" stroke="#c6c6c6" stroke-width="0.6" vector-effect="non-scaling-stroke" stroke-linejoin="round"/><path d="M84.7 578.8 L91.9 577.6 L97.5 579.6 L102.3 584.4 L105.5 592.4 L107.9 602.0 L111.1 611.6 L112.7 622.0 L111.9 631.6 L108.7 638.0 L97.5 640.4 L85.5 639.6 L73.5 637.2 L63.9 632.4 L59.9 626.0 L61.5 618.0 L63.5 610.0 L65.9 600.4 L69.5 590.8 L75.9 583.6Z" fill="none" stroke="#d0d0d0" stroke-width="0.6" vector-effect="non-scaling-stroke" stroke-linejoin="round"/><path d="M85.4 586.5 L90.8 585.6 L95.0 587.1 L98.6 590.7 L101.0 596.7 L102.8 603.9 L105.2 611.1 L106.4 618.9 L105.8 626.1 L103.4 630.9 L95.0 632.7 L86.0 632.1 L77.0 630.3 L69.8 626.7 L66.8 621.9 L68.0 615.9 L69.5 609.9 L71.3 602.7 L74.0 595.5 L78.8 590.1Z" fill="none" stroke="#d6d6d6" stroke-width="0.6" vector-effect="non-scaling-stroke" stroke-linejoin="round"/><path d="M88.0 646.0 L100.0 646.0 L117.0 637.0 L122.0 648.0 L127.0 662.0 L126.5 674.0 L123.0 684.0 L117.0 695.0 L111.0 705.0 L103.0 718.0 L98.0 726.0 L90.0 722.0 L82.0 706.0 L77.0 684.0 L80.0 664.0Z" fill="#efefef" stroke="#c6c6c6" stroke-width="0.6" vector-effect="non-scaling-stroke" stroke-linejoin="round"/><path d="M91.2 653.0 L100.8 653.0 L114.4 645.8 L118.4 654.6 L122.4 665.8 L122.0 675.4 L119.2 683.4 L114.4 692.2 L109.6 700.2 L103.2 710.6 L99.2 717.0 L92.8 713.8 L86.4 701.0 L82.4 683.4 L84.8 667.4Z" fill="none" stroke="#d0d0d0" stroke-width="0.6" vector-effect="non-scaling-stroke" stroke-linejoin="round"/><path d="M94.4 660.1 L101.6 660.1 L111.8 654.7 L114.8 661.3 L117.8 669.7 L117.5 676.9 L115.4 682.9 L111.8 689.5 L108.2 695.5 L103.4 703.3 L100.4 708.1 L95.6 705.7 L90.8 696.1 L87.8 682.9 L89.6 670.9Z" fill="none" stroke="#d6d6d6" stroke-width="0.6" vector-effect="non-scaling-stroke" stroke-linejoin="round"/><path d="M157.0 591.0 L163.0 589.0 L170.0 593.0 L178.0 602.0 L185.0 613.0 L189.0 622.0 L191.5 636.0 L192.5 650.0 L190.0 662.0 L185.0 671.0 L177.0 680.0 L168.0 684.0 L158.0 684.0 L153.0 679.0 L149.0 670.0 L145.0 660.0 L150.0 672.0 L153.0 684.0 L160.0 690.0 L168.0 694.0 L171.0 702.0 L164.0 700.0 L152.0 697.0 L144.0 690.0 L142.0 670.0 L143.0 648.0 L143.0 635.0 L145.0 620.0 L149.0 606.0 L153.0 596.0Z" fill="#efefef" stroke="#c6c6c6" stroke-width="0.6" vector-effect="non-scaling-stroke" stroke-linejoin="round"/><path d="M158.2 603.4 L163.0 601.8 L168.6 605.0 L175.0 612.2 L180.6 621.0 L183.8 628.2 L185.8 639.4 L186.6 650.6 L184.6 660.2 L180.6 667.4 L174.2 674.6 L167.0 677.8 L159.0 677.8 L155.0 673.8 L151.8 666.6 L148.6 658.6 L152.6 668.2 L155.0 677.8 L160.6 682.6 L167.0 685.8 L169.4 692.2 L163.8 690.6 L154.2 688.2 L147.8 682.6 L146.2 666.6 L147.0 649.0 L147.0 638.6 L148.6 626.6 L151.8 615.4 L155.0 607.4Z" fill="none" stroke="#d0d0d0" stroke-width="0.6" vector-effect="non-scaling-stroke" stroke-linejoin="round"/><path d="M159.4 615.8 L163.0 614.6 L167.2 617.0 L172.0 622.4 L176.2 629.0 L178.6 634.4 L180.1 642.8 L180.7 651.2 L179.2 658.4 L176.2 663.8 L171.4 669.2 L166.0 671.6 L160.0 671.6 L157.0 668.6 L154.6 663.2 L152.2 657.2 L155.2 664.4 L157.0 671.6 L161.2 675.2 L166.0 677.6 L167.8 682.4 L163.6 681.2 L156.4 679.4 L151.6 675.2 L150.4 663.2 L151.0 650.0 L151.0 642.2 L152.2 633.2 L154.6 624.8 L157.0 618.8Z" fill="none" stroke="#d6d6d6" stroke-width="0.6" vector-effect="non-scaling-stroke" stroke-linejoin="round"/><path d="M59.3 674.1 L57.2 677.2 L54.8 679.8 L52.3 681.9 L50.0 683.1 L48.0 683.5 L46.3 683.1 L45.2 681.8 L44.7 679.8 L44.8 677.1 L45.5 674.1 L46.9 670.8 L48.7 667.5 L50.8 664.4 L53.2 661.8 L55.7 659.7 L58.0 658.5 L60.0 658.1 L61.7 658.5 L62.8 659.8 L63.3 661.8 L63.2 664.5 L62.5 667.5 L61.1 670.8Z" fill="#efefef" stroke="#c6c6c6" stroke-width="0.6" vector-effect="non-scaling-stroke" stroke-linejoin="round"/><path d="M58.3 673.5 L56.5 675.9 L54.6 678.0 L52.7 679.6 L50.8 680.7 L49.2 681.0 L47.9 680.6 L47.0 679.6 L46.5 678.0 L46.6 675.9 L47.2 673.4 L48.3 670.8 L49.7 668.1 L51.5 665.7 L53.4 663.6 L55.3 662.0 L57.2 660.9 L58.8 660.6 L60.1 661.0 L61.0 662.0 L61.5 663.6 L61.4 665.7 L60.8 668.2 L59.7 670.8Z" fill="none" stroke="#d0d0d0" stroke-width="0.6" vector-effect="non-scaling-stroke" stroke-linejoin="round"/><path d="M57.2 672.8 L55.9 674.6 L54.5 676.2 L53.0 677.4 L51.6 678.2 L50.4 678.4 L49.4 678.2 L48.7 677.4 L48.4 676.2 L48.5 674.6 L48.9 672.8 L49.7 670.8 L50.8 668.8 L52.1 667.0 L53.5 665.4 L55.0 664.2 L56.4 663.4 L57.6 663.2 L58.6 663.4 L59.3 664.2 L59.6 665.4 L59.5 667.0 L59.1 668.8 L58.3 670.8Z" fill="none" stroke="#d6d6d6" stroke-width="0.6" vector-effect="non-scaling-stroke" stroke-linejoin="round"/></g>
<g transform="translate(128.42 397.86) scale(0.6245 0.6245)" opacity="0.85"><path d="M84.0 571.0 L93.0 569.5 L100.0 572.0 L106.0 578.0 L110.0 588.0 L113.0 600.0 L117.0 612.0 L119.0 625.0 L118.0 637.0 L114.0 645.0 L100.0 648.0 L85.0 647.0 L70.0 644.0 L58.0 638.0 L53.0 630.0 L55.0 620.0 L57.5 610.0 L60.5 598.0 L65.0 586.0 L73.0 577.0Z" fill="#efefef" stroke="#c6c6c6" stroke-width="0.6" vector-effect="non-scaling-stroke" stroke-linejoin="round"/><path d="M84.7 578.8 L91.9 577.6 L97.5 579.6 L102.3 584.4 L105.5 592.4 L107.9 602.0 L111.1 611.6 L112.7 622.0 L111.9 631.6 L108.7 638.0 L97.5 640.4 L85.5 639.6 L73.5 637.2 L63.9 632.4 L59.9 626.0 L61.5 618.0 L63.5 610.0 L65.9 600.4 L69.5 590.8 L75.9 583.6Z" fill="none" stroke="#d0d0d0" stroke-width="0.6" vector-effect="non-scaling-stroke" stroke-linejoin="round"/><path d="M85.4 586.5 L90.8 585.6 L95.0 587.1 L98.6 590.7 L101.0 596.7 L102.8 603.9 L105.2 611.1 L106.4 618.9 L105.8 626.1 L103.4 630.9 L95.0 632.7 L86.0 632.1 L77.0 630.3 L69.8 626.7 L66.8 621.9 L68.0 615.9 L69.5 609.9 L71.3 602.7 L74.0 595.5 L78.8 590.1Z" fill="none" stroke="#d6d6d6" stroke-width="0.6" vector-effect="non-scaling-stroke" stroke-linejoin="round"/><path d="M88.0 646.0 L100.0 646.0 L117.0 637.0 L122.0 648.0 L127.0 662.0 L126.5 674.0 L123.0 684.0 L117.0 695.0 L111.0 705.0 L103.0 718.0 L98.0 726.0 L90.0 722.0 L82.0 706.0 L77.0 684.0 L80.0 664.0Z" fill="#efefef" stroke="#c6c6c6" stroke-width="0.6" vector-effect="non-scaling-stroke" stroke-linejoin="round"/><path d="M91.2 653.0 L100.8 653.0 L114.4 645.8 L118.4 654.6 L122.4 665.8 L122.0 675.4 L119.2 683.4 L114.4 692.2 L109.6 700.2 L103.2 710.6 L99.2 717.0 L92.8 713.8 L86.4 701.0 L82.4 683.4 L84.8 667.4Z" fill="none" stroke="#d0d0d0" stroke-width="0.6" vector-effect="non-scaling-stroke" stroke-linejoin="round"/><path d="M94.4 660.1 L101.6 660.1 L111.8 654.7 L114.8 661.3 L117.8 669.7 L117.5 676.9 L115.4 682.9 L111.8 689.5 L108.2 695.5 L103.4 703.3 L100.4 708.1 L95.6 705.7 L90.8 696.1 L87.8 682.9 L89.6 670.9Z" fill="none" stroke="#d6d6d6" stroke-width="0.6" vector-effect="non-scaling-stroke" stroke-linejoin="round"/><path d="M157.0 591.0 L163.0 589.0 L170.0 593.0 L178.0 602.0 L185.0 613.0 L189.0 622.0 L191.5 636.0 L192.5 650.0 L190.0 662.0 L185.0 671.0 L177.0 680.0 L168.0 684.0 L158.0 684.0 L153.0 679.0 L149.0 670.0 L145.0 660.0 L150.0 672.0 L153.0 684.0 L160.0 690.0 L168.0 694.0 L171.0 702.0 L164.0 700.0 L152.0 697.0 L144.0 690.0 L142.0 670.0 L143.0 648.0 L143.0 635.0 L145.0 620.0 L149.0 606.0 L153.0 596.0Z" fill="#efefef" stroke="#c6c6c6" stroke-width="0.6" vector-effect="non-scaling-stroke" stroke-linejoin="round"/><path d="M158.2 603.4 L163.0 601.8 L168.6 605.0 L175.0 612.2 L180.6 621.0 L183.8 628.2 L185.8 639.4 L186.6 650.6 L184.6 660.2 L180.6 667.4 L174.2 674.6 L167.0 677.8 L159.0 677.8 L155.0 673.8 L151.8 666.6 L148.6 658.6 L152.6 668.2 L155.0 677.8 L160.6 682.6 L167.0 685.8 L169.4 692.2 L163.8 690.6 L154.2 688.2 L147.8 682.6 L146.2 666.6 L147.0 649.0 L147.0 638.6 L148.6 626.6 L151.8 615.4 L155.0 607.4Z" fill="none" stroke="#d0d0d0" stroke-width="0.6" vector-effect="non-scaling-stroke" stroke-linejoin="round"/><path d="M159.4 615.8 L163.0 614.6 L167.2 617.0 L172.0 622.4 L176.2 629.0 L178.6 634.4 L180.1 642.8 L180.7 651.2 L179.2 658.4 L176.2 663.8 L171.4 669.2 L166.0 671.6 L160.0 671.6 L157.0 668.6 L154.6 663.2 L152.2 657.2 L155.2 664.4 L157.0 671.6 L161.2 675.2 L166.0 677.6 L167.8 682.4 L163.6 681.2 L156.4 679.4 L151.6 675.2 L150.4 663.2 L151.0 650.0 L151.0 642.2 L152.2 633.2 L154.6 624.8 L157.0 618.8Z" fill="none" stroke="#d6d6d6" stroke-width="0.6" vector-effect="non-scaling-stroke" stroke-linejoin="round"/><path d="M59.3 674.1 L57.2 677.2 L54.8 679.8 L52.3 681.9 L50.0 683.1 L48.0 683.5 L46.3 683.1 L45.2 681.8 L44.7 679.8 L44.8 677.1 L45.5 674.1 L46.9 670.8 L48.7 667.5 L50.8 664.4 L53.2 661.8 L55.7 659.7 L58.0 658.5 L60.0 658.1 L61.7 658.5 L62.8 659.8 L63.3 661.8 L63.2 664.5 L62.5 667.5 L61.1 670.8Z" fill="#efefef" stroke="#c6c6c6" stroke-width="0.6" vector-effect="non-scaling-stroke" stroke-linejoin="round"/><path d="M58.3 673.5 L56.5 675.9 L54.6 678.0 L52.7 679.6 L50.8 680.7 L49.2 681.0 L47.9 680.6 L47.0 679.6 L46.5 678.0 L46.6 675.9 L47.2 673.4 L48.3 670.8 L49.7 668.1 L51.5 665.7 L53.4 663.6 L55.3 662.0 L57.2 660.9 L58.8 660.6 L60.1 661.0 L61.0 662.0 L61.5 663.6 L61.4 665.7 L60.8 668.2 L59.7 670.8Z" fill="none" stroke="#d0d0d0" stroke-width="0.6" vector-effect="non-scaling-stroke" stroke-linejoin="round"/><path d="M57.2 672.8 L55.9 674.6 L54.5 676.2 L53.0 677.4 L51.6 678.2 L50.4 678.4 L49.4 678.2 L48.7 677.4 L48.4 676.2 L48.5 674.6 L48.9 672.8 L49.7 670.8 L50.8 668.8 L52.1 667.0 L53.5 665.4 L55.0 664.2 L56.4 663.4 L57.6 663.2 L58.6 663.4 L59.3 664.2 L59.6 665.4 L59.5 667.0 L59.1 668.8 L58.3 670.8Z" fill="none" stroke="#d6d6d6" stroke-width="0.6" vector-effect="non-scaling-stroke" stroke-linejoin="round"/></g>
<g transform="translate(249.02 397.86) scale(0.6245 0.6245)" opacity="0.85"><path d="M84.0 571.0 L93.0 569.5 L100.0 572.0 L106.0 578.0 L110.0 588.0 L113.0 600.0 L117.0 612.0 L119.0 625.0 L118.0 637.0 L114.0 645.0 L100.0 648.0 L85.0 647.0 L70.0 644.0 L58.0 638.0 L53.0 630.0 L55.0 620.0 L57.5 610.0 L60.5 598.0 L65.0 586.0 L73.0 577.0Z" fill="#efefef" stroke="#c6c6c6" stroke-width="0.6" vector-effect="non-scaling-stroke" stroke-linejoin="round"/><path d="M84.7 578.8 L91.9 577.6 L97.5 579.6 L102.3 584.4 L105.5 592.4 L107.9 602.0 L111.1 611.6 L112.7 622.0 L111.9 631.6 L108.7 638.0 L97.5 640.4 L85.5 639.6 L73.5 637.2 L63.9 632.4 L59.9 626.0 L61.5 618.0 L63.5 610.0 L65.9 600.4 L69.5 590.8 L75.9 583.6Z" fill="none" stroke="#d0d0d0" stroke-width="0.6" vector-effect="non-scaling-stroke" stroke-linejoin="round"/><path d="M85.4 586.5 L90.8 585.6 L95.0 587.1 L98.6 590.7 L101.0 596.7 L102.8 603.9 L105.2 611.1 L106.4 618.9 L105.8 626.1 L103.4 630.9 L95.0 632.7 L86.0 632.1 L77.0 630.3 L69.8 626.7 L66.8 621.9 L68.0 615.9 L69.5 609.9 L71.3 602.7 L74.0 595.5 L78.8 590.1Z" fill="none" stroke="#d6d6d6" stroke-width="0.6" vector-effect="non-scaling-stroke" stroke-linejoin="round"/><path d="M88.0 646.0 L100.0 646.0 L117.0 637.0 L122.0 648.0 L127.0 662.0 L126.5 674.0 L123.0 684.0 L117.0 695.0 L111.0 705.0 L103.0 718.0 L98.0 726.0 L90.0 722.0 L82.0 706.0 L77.0 684.0 L80.0 664.0Z" fill="#efefef" stroke="#c6c6c6" stroke-width="0.6" vector-effect="non-scaling-stroke" stroke-linejoin="round"/><path d="M91.2 653.0 L100.8 653.0 L114.4 645.8 L118.4 654.6 L122.4 665.8 L122.0 675.4 L119.2 683.4 L114.4 692.2 L109.6 700.2 L103.2 710.6 L99.2 717.0 L92.8 713.8 L86.4 701.0 L82.4 683.4 L84.8 667.4Z" fill="none" stroke="#d0d0d0" stroke-width="0.6" vector-effect="non-scaling-stroke" stroke-linejoin="round"/><path d="M94.4 660.1 L101.6 660.1 L111.8 654.7 L114.8 661.3 L117.8 669.7 L117.5 676.9 L115.4 682.9 L111.8 689.5 L108.2 695.5 L103.4 703.3 L100.4 708.1 L95.6 705.7 L90.8 696.1 L87.8 682.9 L89.6 670.9Z" fill="none" stroke="#d6d6d6" stroke-width="0.6" vector-effect="non-scaling-stroke" stroke-linejoin="round"/><path d="M157.0 591.0 L163.0 589.0 L170.0 593.0 L178.0 602.0 L185.0 613.0 L189.0 622.0 L191.5 636.0 L192.5 650.0 L190.0 662.0 L185.0 671.0 L177.0 680.0 L168.0 684.0 L158.0 684.0 L153.0 679.0 L149.0 670.0 L145.0 660.0 L150.0 672.0 L153.0 684.0 L160.0 690.0 L168.0 694.0 L171.0 702.0 L164.0 700.0 L152.0 697.0 L144.0 690.0 L142.0 670.0 L143.0 648.0 L143.0 635.0 L145.0 620.0 L149.0 606.0 L153.0 596.0Z" fill="#efefef" stroke="#c6c6c6" stroke-width="0.6" vector-effect="non-scaling-stroke" stroke-linejoin="round"/><path d="M158.2 603.4 L163.0 601.8 L168.6 605.0 L175.0 612.2 L180.6 621.0 L183.8 628.2 L185.8 639.4 L186.6 650.6 L184.6 660.2 L180.6 667.4 L174.2 674.6 L167.0 677.8 L159.0 677.8 L155.0 673.8 L151.8 666.6 L148.6 658.6 L152.6 668.2 L155.0 677.8 L160.6 682.6 L167.0 685.8 L169.4 692.2 L163.8 690.6 L154.2 688.2 L147.8 682.6 L146.2 666.6 L147.0 649.0 L147.0 638.6 L148.6 626.6 L151.8 615.4 L155.0 607.4Z" fill="none" stroke="#d0d0d0" stroke-width="0.6" vector-effect="non-scaling-stroke" stroke-linejoin="round"/><path d="M159.4 615.8 L163.0 614.6 L167.2 617.0 L172.0 622.4 L176.2 629.0 L178.6 634.4 L180.1 642.8 L180.7 651.2 L179.2 658.4 L176.2 663.8 L171.4 669.2 L166.0 671.6 L160.0 671.6 L157.0 668.6 L154.6 663.2 L152.2 657.2 L155.2 664.4 L157.0 671.6 L161.2 675.2 L166.0 677.6 L167.8 682.4 L163.6 681.2 L156.4 679.4 L151.6 675.2 L150.4 663.2 L151.0 650.0 L151.0 642.2 L152.2 633.2 L154.6 624.8 L157.0 618.8Z" fill="none" stroke="#d6d6d6" stroke-width="0.6" vector-effect="non-scaling-stroke" stroke-linejoin="round"/><path d="M59.3 674.1 L57.2 677.2 L54.8 679.8 L52.3 681.9 L50.0 683.1 L48.0 683.5 L46.3 683.1 L45.2 681.8 L44.7 679.8 L44.8 677.1 L45.5 674.1 L46.9 670.8 L48.7 667.5 L50.8 664.4 L53.2 661.8 L55.7 659.7 L58.0 658.5 L60.0 658.1 L61.7 658.5 L62.8 659.8 L63.3 661.8 L63.2 664.5 L62.5 667.5 L61.1 670.8Z" fill="#efefef" stroke="#c6c6c6" stroke-width="0.6" vector-effect="non-scaling-stroke" stroke-linejoin="round"/><path d="M58.3 673.5 L56.5 675.9 L54.6 678.0 L52.7 679.6 L50.8 680.7 L49.2 681.0 L47.9 680.6 L47.0 679.6 L46.5 678.0 L46.6 675.9 L47.2 673.4 L48.3 670.8 L49.7 668.1 L51.5 665.7 L53.4 663.6 L55.3 662.0 L57.2 660.9 L58.8 660.6 L60.1 661.0 L61.0 662.0 L61.5 663.6 L61.4 665.7 L60.8 668.2 L59.7 670.8Z" fill="none" stroke="#d0d0d0" stroke-width="0.6" vector-effect="non-scaling-stroke" stroke-linejoin="round"/><path d="M57.2 672.8 L55.9 674.6 L54.5 676.2 L53.0 677.4 L51.6 678.2 L50.4 678.4 L49.4 678.2 L48.7 677.4 L48.4 676.2 L48.5 674.6 L48.9 672.8 L49.7 670.8 L50.8 668.8 L52.1 667.0 L53.5 665.4 L55.0 664.2 L56.4 663.4 L57.6 663.2 L58.6 663.4 L59.3 664.2 L59.6 665.4 L59.5 667.0 L59.1 668.8 L58.3 670.8Z" fill="none" stroke="#d6d6d6" stroke-width="0.6" vector-effect="non-scaling-stroke" stroke-linejoin="round"/></g>
<g transform="translate(369.02 397.86) scale(0.6245 0.6245)" opacity="0.85"><path d="M84.0 571.0 L93.0 569.5 L100.0 572.0 L106.0 578.0 L110.0 588.0 L113.0 600.0 L117.0 612.0 L119.0 625.0 L118.0 637.0 L114.0 645.0 L100.0 648.0 L85.0 647.0 L70.0 644.0 L58.0 638.0 L53.0 630.0 L55.0 620.0 L57.5 610.0 L60.5 598.0 L65.0 586.0 L73.0 577.0Z" fill="#efefef" stroke="#c6c6c6" stroke-width="0.6" vector-effect="non-scaling-stroke" stroke-linejoin="round"/><path d="M84.7 578.8 L91.9 577.6 L97.5 579.6 L102.3 584.4 L105.5 592.4 L107.9 602.0 L111.1 611.6 L112.7 622.0 L111.9 631.6 L108.7 638.0 L97.5 640.4 L85.5 639.6 L73.5 637.2 L63.9 632.4 L59.9 626.0 L61.5 618.0 L63.5 610.0 L65.9 600.4 L69.5 590.8 L75.9 583.6Z" fill="none" stroke="#d0d0d0" stroke-width="0.6" vector-effect="non-scaling-stroke" stroke-linejoin="round"/><path d="M85.4 586.5 L90.8 585.6 L95.0 587.1 L98.6 590.7 L101.0 596.7 L102.8 603.9 L105.2 611.1 L106.4 618.9 L105.8 626.1 L103.4 630.9 L95.0 632.7 L86.0 632.1 L77.0 630.3 L69.8 626.7 L66.8 621.9 L68.0 615.9 L69.5 609.9 L71.3 602.7 L74.0 595.5 L78.8 590.1Z" fill="none" stroke="#d6d6d6" stroke-width="0.6" vector-effect="non-scaling-stroke" stroke-linejoin="round"/><path d="M88.0 646.0 L100.0 646.0 L117.0 637.0 L122.0 648.0 L127.0 662.0 L126.5 674.0 L123.0 684.0 L117.0 695.0 L111.0 705.0 L103.0 718.0 L98.0 726.0 L90.0 722.0 L82.0 706.0 L77.0 684.0 L80.0 664.0Z" fill="#efefef" stroke="#c6c6c6" stroke-width="0.6" vector-effect="non-scaling-stroke" stroke-linejoin="round"/><path d="M91.2 653.0 L100.8 653.0 L114.4 645.8 L118.4 654.6 L122.4 665.8 L122.0 675.4 L119.2 683.4 L114.4 692.2 L109.6 700.2 L103.2 710.6 L99.2 717.0 L92.8 713.8 L86.4 701.0 L82.4 683.4 L84.8 667.4Z" fill="none" stroke="#d0d0d0" stroke-width="0.6" vector-effect="non-scaling-stroke" stroke-linejoin="round"/><path d="M94.4 660.1 L101.6 660.1 L111.8 654.7 L114.8 661.3 L117.8 669.7 L117.5 676.9 L115.4 682.9 L111.8 689.5 L108.2 695.5 L103.4 703.3 L100.4 708.1 L95.6 705.7 L90.8 696.1 L87.8 682.9 L89.6 670.9Z" fill="none" stroke="#d6d6d6" stroke-width="0.6" vector-effect="non-scaling-stroke" stroke-linejoin="round"/><path d="M157.0 591.0 L163.0 589.0 L170.0 593.0 L178.0 602.0 L185.0 613.0 L189.0 622.0 L191.5 636.0 L192.5 650.0 L190.0 662.0 L185.0 671.0 L177.0 680.0 L168.0 684.0 L158.0 684.0 L153.0 679.0 L149.0 670.0 L145.0 660.0 L150.0 672.0 L153.0 684.0 L160.0 690.0 L168.0 694.0 L171.0 702.0 L164.0 700.0 L152.0 697.0 L144.0 690.0 L142.0 670.0 L143.0 648.0 L143.0 635.0 L145.0 620.0 L149.0 606.0 L153.0 596.0Z" fill="#efefef" stroke="#c6c6c6" stroke-width="0.6" vector-effect="non-scaling-stroke" stroke-linejoin="round"/><path d="M158.2 603.4 L163.0 601.8 L168.6 605.0 L175.0 612.2 L180.6 621.0 L183.8 628.2 L185.8 639.4 L186.6 650.6 L184.6 660.2 L180.6 667.4 L174.2 674.6 L167.0 677.8 L159.0 677.8 L155.0 673.8 L151.8 666.6 L148.6 658.6 L152.6 668.2 L155.0 677.8 L160.6 682.6 L167.0 685.8 L169.4 692.2 L163.8 690.6 L154.2 688.2 L147.8 682.6 L146.2 666.6 L147.0 649.0 L147.0 638.6 L148.6 626.6 L151.8 615.4 L155.0 607.4Z" fill="none" stroke="#d0d0d0" stroke-width="0.6" vector-effect="non-scaling-stroke" stroke-linejoin="round"/><path d="M159.4 615.8 L163.0 614.6 L167.2 617.0 L172.0 622.4 L176.2 629.0 L178.6 634.4 L180.1 642.8 L180.7 651.2 L179.2 658.4 L176.2 663.8 L171.4 669.2 L166.0 671.6 L160.0 671.6 L157.0 668.6 L154.6 663.2 L152.2 657.2 L155.2 664.4 L157.0 671.6 L161.2 675.2 L166.0 677.6 L167.8 682.4 L163.6 681.2 L156.4 679.4 L151.6 675.2 L150.4 663.2 L151.0 650.0 L151.0 642.2 L152.2 633.2 L154.6 624.8 L157.0 618.8Z" fill="none" stroke="#d6d6d6" stroke-width="0.6" vector-effect="non-scaling-stroke" stroke-linejoin="round"/><path d="M59.3 674.1 L57.2 677.2 L54.8 679.8 L52.3 681.9 L50.0 683.1 L48.0 683.5 L46.3 683.1 L45.2 681.8 L44.7 679.8 L44.8 677.1 L45.5 674.1 L46.9 670.8 L48.7 667.5 L50.8 664.4 L53.2 661.8 L55.7 659.7 L58.0 658.5 L60.0 658.1 L61.7 658.5 L62.8 659.8 L63.3 661.8 L63.2 664.5 L62.5 667.5 L61.1 670.8Z" fill="#efefef" stroke="#c6c6c6" stroke-width="0.6" vector-effect="non-scaling-stroke" stroke-linejoin="round"/><path d="M58.3 673.5 L56.5 675.9 L54.6 678.0 L52.7 679.6 L50.8 680.7 L49.2 681.0 L47.9 680.6 L47.0 679.6 L46.5 678.0 L46.6 675.9 L47.2 673.4 L48.3 670.8 L49.7 668.1 L51.5 665.7 L53.4 663.6 L55.3 662.0 L57.2 660.9 L58.8 660.6 L60.1 661.0 L61.0 662.0 L61.5 663.6 L61.4 665.7 L60.8 668.2 L59.7 670.8Z" fill="none" stroke="#d0d0d0" stroke-width="0.6" vector-effect="non-scaling-stroke" stroke-linejoin="round"/><path d="M57.2 672.8 L55.9 674.6 L54.5 676.2 L53.0 677.4 L51.6 678.2 L50.4 678.4 L49.4 678.2 L48.7 677.4 L48.4 676.2 L48.5 674.6 L48.9 672.8 L49.7 670.8 L50.8 668.8 L52.1 667.0 L53.5 665.4 L55.0 664.2 L56.4 663.4 L57.6 663.2 L58.6 663.4 L59.3 664.2 L59.6 665.4 L59.5 667.0 L59.1 668.8 L58.3 670.8Z" fill="none" stroke="#d6d6d6" stroke-width="0.6" vector-effect="non-scaling-stroke" stroke-linejoin="round"/></g>
<path d="M53.8 800.2h0.8M46.2 800.3h0.8M52.9 798.3h0.8M57.5 803.9h0.8M40.2 816.1h0.8M54.3 806.1h0.8M47.9 807h0.8M63 800.8h0.8M48.1 811.6h0.8M44.4 801.5h0.8M51.5 803.5h0.8M44.1 817.2h0.8M51.9 813.2h0.8M59 798.1h0.8M45.2 814.1h0.8M38.8 802.5h0.8M57 808.7h0.8M66 796.9h0.8M63.1 803.8h0.8M45.1 814.6h0.8M39.8 802.2h0.8M60.6 802.4h0.8M42.9 802.1h0.8M38.4 802.9h0.8M44.2 799.3h0.8M44.7 798h0.8M55.8 806.8h0.8M58.9 796.5h0.8M41.4 816.5h0.8M64.5 796.9h0.8M53.3 798.8h0.8M59.8 801.3h0.8M49.8 809h0.8M49.9 812.7h0.8M39.4 816.1h0.8M46.4 797.7h0.8M50.3 813.6h0.8M46.1 812.2h0.8M58.4 801.5h0.8M38.6 817.5h0.8M52.2 797.3h0.8M38.1 813.3h0.8M52.4 812.5h0.8M63.9 804.9h0.8M43.3 806.6h0.8M46 798.3h0.8M56.2 799.3h0.8M43.4 809.5h0.8M39.2 807.1h0.8M64 800.3h0.8M47.6 805.9h0.8M45.5 816.5h0.8M38.8 801.1h0.8M54.7 811.3h0.8M54.6 800.5h0.8M53.6 809.1h0.8M50.2 799.9h0.8M60 805.9h0.8M54.9 811.7h0.8M88 798.6h0.8M85.8 796.8h0.8M83.2 794.7h0.8M85.3 782.5h0.8M92.2 776.4h0.8M91.4 794h0.8M85.2 788.9h0.8M100.3 802.3h0.8M99.8 799.2h0.8M86.1 799.5h0.8M89.6 779h0.8M86.3 780.3h0.8M89.7 804.2h0.8M95.1 784.5h0.8M79 778.1h0.8M99.5 781.2h0.8M98.6 791.3h0.8M87.6 781h0.8M89.6 792.8h0.8M80.5 794.4h0.8M95.9 804.4h0.8M83.3 792.2h0.8M79 792.2h0.8M79.2 788.9h0.8M98.1 782.3h0.8M77.2 785.9h0.8M83.2 780.3h0.8M82.7 782.2h0.8M88 783.6h0.8M87.3 780.6h0.8M82.2 791.5h0.8M79.2 784.7h0.8M81 788.6h0.8M76.9 787.6h0.8M77.7 790.3h0.8M94.2 801.7h0.8M90.8 779.8h0.8M95.8 785h0.8M91 776.8h0.8M79.9 790.8h0.8M92.5 786.6h0.8M99.1 794.1h0.8M99.6 786.1h0.8M90.9 791.4h0.8M92.9 786h0.8M84.3 793.5h0.8M90.8 782.3h0.8M81.4 790.1h0.8M101.2 782.8h0.8M92 777.4h0.8M75.9 789.1h0.8M75.6 792.9h0.8M89.4 804h0.8M83.5 787.3h0.8M87.2 800.2h0.8M75.3 784.3h0.8M90.1 780.4h0.8M100.2 784.9h0.8M113.6 833.5h0.8M107.4 835.9h0.8M113.2 821.7h0.8M105 834.7h0.8M109.8 833.7h0.8M112.1 820.9h0.8M102.3 822.5h0.8M112.5 837.7h0.8M108.1 835.9h0.8M117.7 830.3h0.8M112.1 835.8h0.8M107.1 818.4h0.8M103.6 828.4h0.8M105.9 838.8h0.8M117.4 828.5h0.8M102.9 817.7h0.8M104.6 821.7h0.8M117.2 822.5h0.8M115.3 830.4h0.8M108.3 833.9h0.8M113.4 818.5h0.8M117.2 827.7h0.8M107.1 830.2h0.8" stroke="#9a9a9a" stroke-width="0.8" fill="none"/>
<path d="M45.1 798.9h0.8M54.2 804.8h0.8M37 802.2h0.8M38 818h0.8M45 813.8h0.8M38.1 820.6h0.8M38 819.1h0.8M37.5 805h0.8M37.6 813.5h0.8M52.8 796.8h0.8M44.7 815.3h0.8M58.1 800.7h0.8M43.5 808.4h0.8M37.8 816.7h0.8M52.7 804.2h0.8M44.8 800.6h0.8M57.2 798.2h0.8M38.5 804.3h0.8M44.2 801.9h0.8M59.1 802.7h0.8M65.3 799.8h0.8M38.6 804.7h0.8M46.1 801.1h0.8M42.4 813.4h0.8M61.8 805.9h0.8M44.4 809.6h0.8M57.5 805.5h0.8M41.7 806.7h0.8M61.6 802h0.8M48.6 814.5h0.8M37 813.8h0.8M56.2 802h0.8M45 811.8h0.8M41.8 817.9h0.8M54 800.8h0.8M44.7 801.7h0.8M43.8 800.5h0.8M42.7 814h0.8M44.1 815.9h0.8M52.7 809.1h0.8M41.1 816.8h0.8M59.8 808.5h0.8M52 801.4h0.8M58.2 805.7h0.8M57.6 796.4h0.8M56.5 799.8h0.8M44.2 800.6h0.8M48.1 816.6h0.8M65.5 799.9h0.8M62.1 793.8h0.8M64.2 794.7h0.8M54.2 800.6h0.8M43 799.4h0.8M58.3 799.5h0.8M39.1 817.3h0.8M48.7 808.9h0.8M55.7 811.6h0.8M44.8 809.1h0.8M48.7 811.7h0.8M46.5 808.7h0.8M38.4 817.3h0.8M47.3 812.2h0.8M42.6 817h0.8M53.2 812.5h0.8M63.3 800.8h0.8M45.4 815h0.8M53.8 809.6h0.8M58.2 796.4h0.8M83.6 781.8h0.8M97.6 784.8h0.8M99.8 782h0.8M75.7 789.8h0.8M90.3 799.6h0.8M95.7 778.9h0.8M90.2 793.3h0.8M83.7 799.5h0.8M97.5 785.5h0.8M96.7 791.7h0.8M86.7 795.7h0.8M83.5 788.4h0.8M74.5 784.8h0.8M98.8 805h0.8M99.6 798.3h0.8M85.8 786h0.8M96.2 786.9h0.8M84.3 783.8h0.8M89.8 782.6h0.8M95.6 794h0.8M92.2 791.7h0.8M79.3 793.2h0.8M76.2 780.6h0.8M84.5 792.8h0.8M79.7 789.4h0.8M84.1 780.9h0.8M98.2 786h0.8M78.7 779.6h0.8M99 780.3h0.8M81.7 777.3h0.8M98.6 783.3h0.8M80 785.1h0.8M90.8 797.5h0.8M96.4 780.2h0.8M88.4 783.2h0.8M95 778.3h0.8M81.2 804.7h0.8M101.1 795.6h0.8M93.5 778.7h0.8M91.3 783h0.8M83.9 791.7h0.8M84.9 800.8h0.8M75.8 794.2h0.8M84.8 793.7h0.8M94.2 804.4h0.8M87.5 797.5h0.8M94.9 778.1h0.8M91.5 804.4h0.8M86.1 787.1h0.8M97.3 779.6h0.8M91.6 783.7h0.8M79.9 799h0.8M78.5 789h0.8M85.1 785.1h0.8M92.1 799.6h0.8M81.6 779.4h0.8M79.8 783.2h0.8M96.7 783.2h0.8M97.1 796.5h0.8M107.9 830h0.8M109.6 829.1h0.8M104.1 816.6h0.8M116.5 834.1h0.8M115.9 818.3h0.8M115.9 833h0.8M113.5 821.3h0.8M109.7 818.6h0.8M105.7 831.1h0.8M108 839.6h0.8M115.6 823.1h0.8M112.7 823.6h0.8M117.8 837.5h0.8" stroke="#c8c8c8" stroke-width="0.8" fill="none"/>
<path d="M66.6 799h0.8M49.6 804.7h0.8M45.5 804.3h0.8M49.2 804.8h0.8M60.7 803.1h0.8M57.3 810.2h0.8M63.2 801.7h0.8M43.9 804.2h0.8M49.8 805.4h0.8M58.8 806.2h0.8M64.8 801.2h0.8M52.7 796.2h0.8M43.1 814.9h0.8M42.9 804.5h0.8M39 819.8h0.8M61.3 794.6h0.8M60 806.3h0.8M46.4 807h0.8M57.1 800h0.8M39.4 802.6h0.8M45.8 812.3h0.8M36.5 807.3h0.8M41.1 809.4h0.8M49.9 811.3h0.8M36.4 808.4h0.8M60.7 801.8h0.8M46.1 812.4h0.8M44.5 805.4h0.8M45.5 814.4h0.8M97.2 780.4h0.8M99.3 803.3h0.8M77.6 784h0.8M98.6 799.2h0.8M80.1 800.5h0.8M91.4 775.8h0.8M85.9 787.9h0.8M94.9 807.3h0.8M87.8 776.9h0.8M84.2 800.2h0.8M88.6 789.9h0.8M84.4 781.8h0.8M93 786.8h0.8M81.7 779.1h0.8M83.6 797.2h0.8M77 790h0.8M78.7 787.7h0.8M100.7 784.1h0.8M80.6 793.1h0.8M94.4 794.2h0.8M91.4 806.9h0.8M89.6 786.3h0.8M93.8 782.8h0.8M94.8 779.7h0.8M87.5 801.6h0.8M91.1 792.7h0.8M86.6 797.7h0.8M78.3 779.6h0.8M87.7 806.7h0.8M86.9 787.6h0.8M86.1 794.3h0.8M80 780.8h0.8M77.1 797.3h0.8M85.9 804.9h0.8M82.1 798.4h0.8M81.1 786.9h0.8M87.7 781.3h0.8M89.2 779.7h0.8M79.8 779.5h0.8M105.1 837.1h0.8M109.7 824.2h0.8M114.2 831.6h0.8M116.5 822.2h0.8M114.7 822.1h0.8M105.2 817.6h0.8M111.9 820.5h0.8M117.3 836.5h0.8M104 833.1h0.8M109.8 832.8h0.8M112.5 821.3h0.8M113.4 835.6h0.8" stroke="#b05050" stroke-width="0.8" fill="none"/>
<path d="M89.6 828.6h0.8M73.4 835.1h0.8M76.8 807.5h0.8M85.6 818.3h0.8M80.6 809.4h0.8M67.3 810.7h0.8M86.9 818.2h0.8M73.5 807.2h0.8M70.4 836.1h0.8M89.1 832.3h0.8M75.3 828.1h0.8M76.9 821.1h0.8M82.6 822.3h0.8M75.9 826.5h0.8M71.2 817.4h0.8M82.6 806.4h0.8M80.4 812.4h0.8M75.5 830.9h0.8M87.1 833.5h0.8M75.1 817.2h0.8M69.9 823.5h0.8M71.9 826.6h0.8M73.8 824.1h0.8M77.3 808.8h0.8M82.3 831.9h0.8M89.9 814.3h0.8M68.6 811.2h0.8M71.7 807.3h0.8M82.6 806.8h0.8M83.1 833.5h0.8M78.5 810.1h0.8M80.2 825h0.8M85 818.5h0.8M82.3 840.4h0.8M77.8 833h0.8" stroke="#dadada" stroke-width="0.8" fill="none"/>
<path d="M83.7 839.8h0.8M69 813.4h0.8M73.8 828.6h0.8M67.5 830h0.8M75.6 820.8h0.8M83.5 821.2h0.8M74.5 836.9h0.8M72.2 808.6h0.8M79 836.3h0.8M70.4 822.1h0.8M72.7 825.7h0.8M74.2 827.8h0.8M85.6 806.7h0.8M73.2 822.5h0.8M73.4 809.1h0.8M86.3 828.2h0.8M72 837.6h0.8M69 813.7h0.8M77.5 817.6h0.8M66.3 836.2h0.8M75.2 839.8h0.8M72.1 829.2h0.8M87.4 825h0.8M87.4 822.2h0.8M77 821.3h0.8M68 812.2h0.8M82 809h0.8M89.5 822.2h0.8M84 820.5h0.8M89.7 833h0.8M85.9 835.6h0.8M76.1 824.6h0.8M81.9 831h0.8M89.3 808.1h0.8M77.7 818.1h0.8M76.6 839.2h0.8M72.3 814.3h0.8M70.6 817.4h0.8M89.4 838.6h0.8M85.2 821.5h0.8M70 809.2h0.8M78 814.1h0.8M74.8 827h0.8M88 828.8h0.8M66.8 832.6h0.8M89.7 839h0.8M67.4 812.8h0.8M84.5 828.9h0.8M83.6 837.9h0.8M66.8 822.9h0.8M78.2 815.7h0.8M73.3 815.2h0.8M66.4 836.6h0.8M69.5 835h0.8M78 826.3h0.8M79.4 836.9h0.8M80.6 840.2h0.8M89.8 818.4h0.8M85.1 832.3h0.8M86.3 824.3h0.8M73.3 824.9h0.8" stroke="#c4c4c4" stroke-width="0.8" fill="none"/>
<ellipse cx="78" cy="821" rx="7" ry="14" transform="rotate(-8 78 821)" fill="#dcdcdc" stroke="none" stroke-width="0" opacity="0.55" filter="url(#bl)"/>
<ellipse cx="79" cy="821" rx="3.5" ry="9" transform="rotate(-8 79 821)" fill="#ffffff" stroke="none" stroke-width="0" opacity="0.6" filter="url(#bl)"/>
<g transform="translate(61 776) rotate(33)" opacity="1.0" filter="url(#bl2)"><path d="M0 -1C0.45 -1 0.72 -0.55 0.68 -0.05C0.64 0.45 0.3 0.85 0.08 1C-0.2 0.88 -0.55 0.45 -0.58 -0.02C-0.62 -0.55 -0.38 -1 0 -1Z" transform="translate(0.00 -0.00) scale(18.50 27.00)" fill="#e8827f"/><path d="M0 -1C0.45 -1 0.72 -0.55 0.68 -0.05C0.64 0.45 0.3 0.85 0.08 1C-0.2 0.88 -0.55 0.45 -0.58 -0.02C-0.62 -0.55 -0.38 -1 0 -1Z" transform="translate(0.00 -0.33) scale(16.96 24.75)" fill="#e0565b"/><path d="M0 -1C0.45 -1 0.72 -0.55 0.68 -0.05C0.64 0.45 0.3 0.85 0.08 1C-0.2 0.88 -0.55 0.45 -0.58 -0.02C-0.62 -0.55 -0.38 -1 0 -1Z" transform="translate(0.00 -0.67) scale(15.42 22.50)" fill="#e0565b"/><path d="M0 -1C0.45 -1 0.72 -0.55 0.68 -0.05C0.64 0.45 0.3 0.85 0.08 1C-0.2 0.88 -0.55 0.45 -0.58 -0.02C-0.62 -0.55 -0.38 -1 0 -1Z" transform="translate(0.00 -1.00) scale(13.88 20.25)" fill="#e46567"/><path d="M0 -1C0.45 -1 0.72 -0.55 0.68 -0.05C0.64 0.45 0.3 0.85 0.08 1C-0.2 0.88 -0.55 0.45 -0.58 -0.02C-0.62 -0.55 -0.38 -1 0 -1Z" transform="translate(0.00 -1.33) scale(12.33 18.00)" fill="#ee9d95"/><path d="M0 -1C0.45 -1 0.72 -0.55 0.68 -0.05C0.64 0.45 0.3 0.85 0.08 1C-0.2 0.88 -0.55 0.45 -0.58 -0.02C-0.62 -0.55 -0.38 -1 0 -1Z" transform="translate(0.00 -1.67) scale(10.79 15.75)" fill="#f6d0cf"/><path d="M0 -1C0.45 -1 0.72 -0.55 0.68 -0.05C0.64 0.45 0.3 0.85 0.08 1C-0.2 0.88 -0.55 0.45 -0.58 -0.02C-0.62 -0.55 -0.38 -1 0 -1Z" transform="translate(0.00 -2.00) scale(9.25 13.50)" fill="#fbeef0"/></g>
<g transform="translate(61 776) rotate(33)" opacity="0.5"><path d="M0 -1C0.45 -1 0.72 -0.55 0.68 -0.05C0.64 0.45 0.3 0.85 0.08 1C-0.2 0.88 -0.55 0.45 -0.58 -0.02C-0.62 -0.55 -0.38 -1 0 -1Z" transform="translate(0.00 -0.20) scale(17.57 25.65)" fill="none" stroke="#fff" stroke-width="0.5" vector-effect="non-scaling-stroke"/><path d="M0 -1C0.45 -1 0.72 -0.55 0.68 -0.05C0.64 0.45 0.3 0.85 0.08 1C-0.2 0.88 -0.55 0.45 -0.58 -0.02C-0.62 -0.55 -0.38 -1 0 -1Z" transform="translate(0.00 -0.60) scale(15.72 22.95)" fill="none" stroke="#fff" stroke-width="0.5" vector-effect="non-scaling-stroke"/><path d="M0 -1C0.45 -1 0.72 -0.55 0.68 -0.05C0.64 0.45 0.3 0.85 0.08 1C-0.2 0.88 -0.55 0.45 -0.58 -0.02C-0.62 -0.55 -0.38 -1 0 -1Z" transform="translate(0.00 -1.00) scale(13.88 20.25)" fill="none" stroke="#fff" stroke-width="0.5" vector-effect="non-scaling-stroke"/><path d="M0 -1C0.45 -1 0.72 -0.55 0.68 -0.05C0.64 0.45 0.3 0.85 0.08 1C-0.2 0.88 -0.55 0.45 -0.58 -0.02C-0.62 -0.55 -0.38 -1 0 -1Z" transform="translate(0.00 -1.40) scale(12.03 17.55)" fill="none" stroke="#fff" stroke-width="0.5" vector-effect="non-scaling-stroke"/><path d="M0 -1C0.45 -1 0.72 -0.55 0.68 -0.05C0.64 0.45 0.3 0.85 0.08 1C-0.2 0.88 -0.55 0.45 -0.58 -0.02C-0.62 -0.55 -0.38 -1 0 -1Z" transform="translate(0.00 -1.80) scale(10.18 14.85)" fill="none" stroke="#fff" stroke-width="0.5" vector-effect="non-scaling-stroke"/></g>
<ellipse cx="116.5" cy="794" rx="12.5" ry="28.0" transform="rotate(-21 116.5 794)" fill="none" stroke="#d87880" stroke-width="0.5" opacity="0.7"/>
<ellipse cx="116.5" cy="794" rx="10.62" ry="23.8" transform="rotate(-21 116.5 794)" fill="none" stroke="#d87880" stroke-width="0.5" opacity="0.7"/>
<ellipse cx="116.5" cy="794" rx="8.75" ry="19.6" transform="rotate(-21 116.5 794)" fill="none" stroke="#d87880" stroke-width="0.5" opacity="0.7"/>
<g transform="translate(116.5 794) rotate(-21)" opacity="1.0" filter="url(#bl2)"><ellipse cx="0.00" cy="0.00" rx="12.50" ry="28.00" fill="#f9dfdb"/><ellipse cx="1.07" cy="0.43" rx="11.34" ry="25.40" fill="#f6d0ce"/><ellipse cx="2.14" cy="0.86" rx="10.18" ry="22.80" fill="#f0aa9f"/><ellipse cx="3.21" cy="1.29" rx="9.02" ry="20.20" fill="#ea8682"/><ellipse cx="4.29" cy="1.71" rx="7.86" ry="17.60" fill="#e46165"/><ellipse cx="5.36" cy="2.14" rx="6.70" ry="15.00" fill="#e25659"/><ellipse cx="6.43" cy="2.57" rx="5.54" ry="12.40" fill="#e04c52"/><ellipse cx="7.50" cy="3.00" rx="4.38" ry="9.80" fill="#ea7371"/></g>
<g transform="translate(116.5 794) rotate(-21)" opacity="0.5"><ellipse cx="0.75" cy="0.30" rx="11.69" ry="26.18" fill="none" stroke="#fff" stroke-width="0.5"/><ellipse cx="2.25" cy="0.90" rx="10.06" ry="22.54" fill="none" stroke="#fff" stroke-width="0.5"/><ellipse cx="3.75" cy="1.50" rx="8.44" ry="18.90" fill="none" stroke="#fff" stroke-width="0.5"/><ellipse cx="5.25" cy="2.10" rx="6.81" ry="15.26" fill="none" stroke="#fff" stroke-width="0.5"/><ellipse cx="6.75" cy="2.70" rx="5.19" ry="11.62" fill="none" stroke="#fff" stroke-width="0.5"/></g>
<path d="M161.5 812.7h0.8M175.6 801.6h0.8M170.8 810.3h0.8M164.5 834.9h0.8M171.4 828.6h0.8M175.3 795.1h0.8M170.1 786.1h0.8M162 791.3h0.8M178.4 823.9h0.8M166 835.5h0.8M167.8 820.9h0.8M171.9 801.8h0.8M177 809.7h0.8M169.5 785.8h0.8M175.5 796.5h0.8M157.1 814.8h0.8M176.8 807.3h0.8M168.9 799.9h0.8M169 804.2h0.8M171.7 828.9h0.8M162.5 827.6h0.8M177.6 825.8h0.8M154.3 784.7h0.8M160.4 838.4h0.8M175.9 840.1h0.8M161.6 816.5h0.8M155.4 809.5h0.8M157.9 798.4h0.8M166.2 821.4h0.8M166 827.6h0.8M175.2 804.9h0.8M166.6 790.5h0.8M173.2 825.2h0.8M153.2 819.6h0.8M157.5 800.2h0.8M158.8 809.8h0.8M151.8 810.2h0.8M170.3 815.4h0.8M244.3 792.9h0.8M244.3 787.1h0.8M236.5 777.3h0.8M237.1 840.7h0.8M212 790.2h0.8M220.2 781h0.8M217.3 838.6h0.8M233.6 825.4h0.8M233.1 777.3h0.8M229.3 781.7h0.8M248.8 795h0.8M240 810.3h0.8M213.8 802h0.8M212.4 827.9h0.8M217.3 804.8h0.8M244.7 775.3h0.8M229.4 793.8h0.8M219.7 797.2h0.8M233.2 836.8h0.8M220.1 796.2h0.8M248 811.9h0.8M212.5 796.2h0.8M212.2 823h0.8M237.4 773.2h0.8M225.3 796.3h0.8M227.6 839.5h0.8M214.6 770.3h0.8M230.3 816.3h0.8M227.5 825.2h0.8M238.4 785.5h0.8M233.4 800h0.8M228.1 809.1h0.8M228.7 820.6h0.8M245.4 808.7h0.8M228.1 797.1h0.8M225.6 784.9h0.8M199.2 783.5h0.8M193 775.1h0.8M199.3 767h0.8M203.3 772.4h0.8M203.9 777.1h0.8M200 768.3h0.8M188.5 765.1h0.8" stroke="#b05050" stroke-width="0.8" fill="none"/>
<path d="M170.6 832.5h0.8M178.9 813.2h0.8M175.8 830.9h0.8M161.7 838.4h0.8M163.1 826.4h0.8M164.3 793h0.8M175.8 804.9h0.8M162.9 803.4h0.8M176.3 825.2h0.8M165.9 800.4h0.8M171 823.9h0.8M159.2 800.1h0.8M171.7 820.6h0.8M173 808.7h0.8M166.8 823.2h0.8M168 816.8h0.8M157.8 809.9h0.8M162.1 819.3h0.8M172.2 825.1h0.8M170.7 795.3h0.8M170.9 836h0.8M174 817h0.8M162.9 802.7h0.8M157.8 820.4h0.8M164.1 786.7h0.8M153.3 808.4h0.8M168.8 810.9h0.8M171.2 837.6h0.8M151.2 800.8h0.8M172.4 808.4h0.8M169.4 808.6h0.8M173.5 806.8h0.8M169.8 787.4h0.8M153.5 815.3h0.8M169.3 803.3h0.8M174.3 834.9h0.8M173.9 838.4h0.8M169.7 789.6h0.8M171.9 801h0.8M176.6 830.8h0.8M173.2 831.1h0.8M173.1 821.8h0.8M178.4 824.7h0.8M172.9 808.5h0.8M153.3 804.3h0.8M163.9 815.5h0.8M166.4 800.6h0.8M168.9 835.8h0.8M170.9 822.9h0.8M171.4 787.1h0.8M174.9 808.5h0.8M169.5 828.8h0.8M169.8 815.4h0.8M156.8 794.3h0.8M167.7 814.4h0.8M165.7 827.3h0.8M167.5 785.7h0.8M166.2 834.7h0.8M168.1 802.9h0.8M151 805.5h0.8M175.4 827.6h0.8M174.8 838.9h0.8M233.6 785.1h0.8M225.9 819.7h0.8M219.3 830h0.8M215 787.2h0.8M236.3 813.7h0.8M240.7 798.1h0.8M239.2 824h0.8M224.4 801.4h0.8M212.2 802.5h0.8M247.3 781.7h0.8M243.6 792.1h0.8M226.1 771.7h0.8M245.7 775.1h0.8M214 822.4h0.8M235 823.9h0.8M223.7 840.2h0.8M208.4 789h0.8M239.1 788.8h0.8M241.8 783.6h0.8M222.1 795.3h0.8M245.3 776h0.8M212.8 778.2h0.8M226.6 785.8h0.8M223.3 813.5h0.8M226.9 813.6h0.8M243.6 815.3h0.8M242.9 792.3h0.8M231.8 771.8h0.8M224.1 813.1h0.8M215 782.8h0.8M247.3 775.5h0.8M248.9 797.3h0.8M235.1 774.8h0.8M213.6 778.4h0.8M249.3 785.9h0.8M238.2 777.9h0.8M215.9 786.5h0.8M231.8 799.7h0.8M218.7 770.5h0.8M215.3 832.4h0.8M254.1 803.5h0.8M229 811.8h0.8M250.8 785.5h0.8M215.5 772.5h0.8M226 784.8h0.8M234.5 798.6h0.8M254.3 795.8h0.8M213.7 793.3h0.8M221.5 809.4h0.8M249.5 820.5h0.8M243.5 832.4h0.8M240.5 816.8h0.8M228.4 790h0.8M239.5 782.9h0.8M209.4 794.9h0.8M218.1 829.5h0.8M191.4 764.3h0.8M191.8 763.2h0.8M199.9 771h0.8M207.8 783.7h0.8M206.2 777.6h0.8M199.8 766h0.8M194.2 774.8h0.8M194.3 766.6h0.8M199.2 784.1h0.8M204.9 773.9h0.8M188.1 761.8h0.8M207.5 782.2h0.8M198.7 775.9h0.8M200.1 779.8h0.8M196.6 774.6h0.8M197.1 776.8h0.8M191 768.2h0.8M191.5 770.9h0.8M193.6 775.1h0.8M205.9 779.7h0.8M193.1 768.7h0.8M206.3 787.5h0.8" stroke="#c8c8c8" stroke-width="0.8" fill="none"/>
<path d="M163.3 807.2h0.8M161.4 834h0.8M163.7 802.5h0.8M155.9 788.7h0.8M169.1 819.2h0.8M162.9 816.2h0.8M170.9 806.9h0.8M155.6 824.4h0.8M168.2 836.5h0.8M164.1 824.3h0.8M156.6 812.7h0.8M167.8 783.7h0.8M156.4 793.9h0.8M167.8 792.4h0.8M178.9 812.9h0.8M174.3 806.8h0.8M173.1 797h0.8M166 792.7h0.8M158.9 783.3h0.8M165.2 793.3h0.8M152.2 811.1h0.8M164.9 834.6h0.8M176.8 830.1h0.8M168 831.1h0.8M173.2 792.3h0.8M172.8 814.3h0.8M171.2 792.1h0.8M171.6 820.9h0.8M176.9 808h0.8M178.6 818.3h0.8M167.5 822.9h0.8M177 816.7h0.8M167.3 839.2h0.8M175.8 840.5h0.8M164.1 822.4h0.8M159.5 806.2h0.8M172.5 830.6h0.8M169.5 829.6h0.8M153.3 805h0.8M155.1 801.3h0.8M163.3 807.4h0.8M174 838.7h0.8M155.7 822.9h0.8M151.8 818.3h0.8M159.3 787.1h0.8M171.3 828.5h0.8M169.2 805h0.8M174.2 839.6h0.8M173.3 838.6h0.8M163 821h0.8M169.6 825.5h0.8M169 803.9h0.8M174.4 805h0.8M168.4 818.8h0.8M168.1 808.4h0.8M168.1 824.1h0.8M157.2 799.3h0.8M173.8 822h0.8M170.5 812.3h0.8M171.8 836.2h0.8M164.7 790.8h0.8M176.6 805.9h0.8M168.5 790.1h0.8M171.4 788h0.8M157.1 822.3h0.8M159.9 793.9h0.8M164.6 798.1h0.8M170.9 831.5h0.8M238.9 775.2h0.8M213.7 798.9h0.8M237.7 781h0.8M220.1 814.8h0.8M221.7 789.1h0.8M243.6 791h0.8M234.7 837.1h0.8M244.9 788.5h0.8M239.9 819.5h0.8M218.7 771h0.8M236.2 786.6h0.8M252.8 814.4h0.8M219.5 793.9h0.8M244.5 832.4h0.8M251 790.2h0.8M246.3 818.5h0.8M230.4 785.2h0.8M214.8 769.4h0.8M239.1 796.3h0.8M212.7 804.8h0.8M243.2 811.5h0.8M214.5 831.5h0.8M242.6 774.6h0.8M248.4 792.2h0.8M247.2 802.1h0.8M247.7 822.8h0.8M216 801.8h0.8M230.9 789.9h0.8M239.5 817h0.8M219.3 812.5h0.8M227.7 811.7h0.8M238.5 804.8h0.8M245 776.8h0.8M233 827.5h0.8M232.3 784.8h0.8M232.1 795.9h0.8M214.7 838.3h0.8M217.2 830.3h0.8M216.6 836.7h0.8M224.5 804.3h0.8M239.2 839.9h0.8M219.8 804.2h0.8M222.7 811.5h0.8M226 829.4h0.8M233.4 829.2h0.8M218.7 783.3h0.8M237.4 797.1h0.8M230.9 781.4h0.8M221.1 789.5h0.8M214.7 831.4h0.8M242.3 773.6h0.8M217.7 813.6h0.8M194.1 763.8h0.8M207 784.1h0.8M189.3 765h0.8M201.4 768.3h0.8M204.8 775.9h0.8M205.2 777.4h0.8M195.4 776.7h0.8M198.4 781.7h0.8M198.6 772.7h0.8M201 784.5h0.8M193.4 773.7h0.8M194.5 777.2h0.8M206.2 786.2h0.8M200 767.8h0.8M195.4 768h0.8M201.5 773.3h0.8M189.7 767.8h0.8M199.7 780.7h0.8M204.1 772.4h0.8" stroke="#9a9a9a" stroke-width="0.8" fill="none"/>
<g transform="translate(189 814) rotate(-6)" opacity="1.0" filter="url(#bl2)"><ellipse cx="-0.00" cy="0.00" rx="14.00" ry="34.00" fill="#f4cccb"/><ellipse cx="-0.33" cy="0.00" rx="12.48" ry="30.32" fill="#ec9b93"/><ellipse cx="-0.67" cy="0.00" rx="10.97" ry="26.63" fill="#e88481"/><ellipse cx="-1.00" cy="0.00" rx="9.45" ry="22.95" fill="#eb938d"/><ellipse cx="-1.33" cy="0.00" rx="7.93" ry="19.27" fill="#f0b6b8"/><ellipse cx="-1.67" cy="0.00" rx="6.42" ry="15.58" fill="#f5cdcb"/><ellipse cx="-2.00" cy="0.00" rx="4.90" ry="11.90" fill="#f9e2de"/></g>
<g transform="translate(189 814) rotate(-6)" opacity="0.5"><ellipse cx="-0.20" cy="0.00" rx="13.09" ry="31.79" fill="none" stroke="#fff" stroke-width="0.5"/><ellipse cx="-0.60" cy="0.00" rx="11.27" ry="27.37" fill="none" stroke="#fff" stroke-width="0.5"/><ellipse cx="-1.00" cy="0.00" rx="9.45" ry="22.95" fill="none" stroke="#fff" stroke-width="0.5"/><ellipse cx="-1.40" cy="0.00" rx="7.63" ry="18.53" fill="none" stroke="#fff" stroke-width="0.5"/><ellipse cx="-1.80" cy="0.00" rx="5.81" ry="14.11" fill="none" stroke="#fff" stroke-width="0.5"/></g>
<path d="M186.0 810 Q190.0 826 196.0 842" fill="none" stroke="#d05a6a" stroke-width="0.6" opacity="0.6"/>
<path d="M188.4 810 Q192.0 826 197.6 842" fill="none" stroke="#d05a6a" stroke-width="0.6" opacity="0.6"/>
<path d="M190.8 810 Q194.0 826 199.2 842" fill="none" stroke="#d05a6a" stroke-width="0.6" opacity="0.6"/>
<path d="M193.2 810 Q196.0 826 200.8 842" fill="none" stroke="#d05a6a" stroke-width="0.6" opacity="0.6"/>
<path d="M195.6 810 Q198.0 826 202.4 842" fill="none" stroke="#d05a6a" stroke-width="0.6" opacity="0.6"/>
<path d="M198.0 810 Q200.0 826 204.0 842" fill="none" stroke="#d05a6a" stroke-width="0.6" opacity="0.6"/>
<ellipse cx="181" cy="770.5" rx="13.44" ry="16.24" transform="rotate(-10 181 770.5)" fill="none" stroke="#dc8088" stroke-width="0.5" opacity="0.6"/>
<g transform="translate(181 770.5) rotate(-10)" opacity="1.0" filter="url(#bl2)"><ellipse cx="0.00" cy="0.00" rx="12.00" ry="14.50" fill="#ec8481"/><ellipse cx="0.00" cy="0.00" rx="10.66" ry="12.88" fill="#e25459"/><ellipse cx="0.00" cy="0.00" rx="9.33" ry="11.27" fill="#e04a50"/><ellipse cx="0.00" cy="0.00" rx="7.99" ry="9.65" fill="#e04a50"/><ellipse cx="0.00" cy="0.00" rx="6.65" ry="8.04" fill="#e25459"/><ellipse cx="0.00" cy="0.00" rx="5.31" ry="6.42" fill="#ea7c7b"/><ellipse cx="0.00" cy="0.00" rx="3.98" ry="4.81" fill="#f4c0c2"/><ellipse cx="0.00" cy="0.00" rx="2.64" ry="3.19" fill="#ffffff"/></g>
<g transform="translate(181 770.5) rotate(-10)" opacity="0.5"><ellipse cx="0.00" cy="0.00" rx="11.06" ry="13.37" fill="none" stroke="#fff" stroke-width="0.5"/><ellipse cx="0.00" cy="0.00" rx="9.19" ry="11.11" fill="none" stroke="#fff" stroke-width="0.5"/><ellipse cx="0.00" cy="0.00" rx="7.32" ry="8.85" fill="none" stroke="#fff" stroke-width="0.5"/><ellipse cx="0.00" cy="0.00" rx="5.45" ry="6.58" fill="none" stroke="#fff" stroke-width="0.5"/><ellipse cx="0.00" cy="0.00" rx="3.58" ry="4.32" fill="none" stroke="#fff" stroke-width="0.5"/></g>
<g transform="translate(196 792.5) rotate(0)" opacity="1.0" filter="url(#bl2)"><ellipse cx="-0.00" cy="0.00" rx="9.00" ry="13.00" fill="#ee9992"/><ellipse cx="-0.50" cy="0.00" rx="8.02" ry="11.59" fill="#e4585b"/><ellipse cx="-1.00" cy="0.00" rx="7.05" ry="10.18" fill="#e4585b"/><ellipse cx="-1.50" cy="0.00" rx="6.08" ry="8.78" fill="#e56567"/><ellipse cx="-2.00" cy="0.00" rx="5.10" ry="7.37" fill="#f0a89e"/><ellipse cx="-2.50" cy="0.00" rx="4.12" ry="5.96" fill="#f8e0dc"/><ellipse cx="-3.00" cy="0.00" rx="3.15" ry="4.55" fill="#fdf4f5"/></g>
<g transform="translate(196 792.5) rotate(0)" opacity="0.5"><ellipse cx="-0.30" cy="0.00" rx="8.42" ry="12.16" fill="none" stroke="#fff" stroke-width="0.5"/><ellipse cx="-0.90" cy="0.00" rx="7.24" ry="10.46" fill="none" stroke="#fff" stroke-width="0.5"/><ellipse cx="-1.50" cy="0.00" rx="6.08" ry="8.78" fill="none" stroke="#fff" stroke-width="0.5"/><ellipse cx="-2.10" cy="0.00" rx="4.91" ry="7.09" fill="none" stroke="#fff" stroke-width="0.5"/><ellipse cx="-2.70" cy="0.00" rx="3.73" ry="5.39" fill="none" stroke="#fff" stroke-width="0.5"/></g>
<g transform="translate(162.5 815) rotate(32)" opacity="1.0" filter="url(#bl2)"><ellipse cx="0.00" cy="0.00" rx="6.50" ry="13.00" fill="#e66768"/><ellipse cx="0.00" cy="0.00" rx="5.39" ry="10.79" fill="#e25459"/><ellipse cx="0.00" cy="0.00" rx="4.29" ry="8.58" fill="#e25459"/><ellipse cx="0.00" cy="0.00" rx="3.19" ry="6.37" fill="#ea827f"/><ellipse cx="0.00" cy="0.00" rx="2.08" ry="4.16" fill="#f6d0cf"/><ellipse cx="0.00" cy="0.00" rx="0.98" ry="1.95" fill="#ffffff"/></g>
<g transform="translate(162.5 815) rotate(32)" opacity="0.5"><ellipse cx="0.00" cy="0.00" rx="5.95" ry="11.89" fill="none" stroke="#fff" stroke-width="0.5"/><ellipse cx="0.00" cy="0.00" rx="4.84" ry="9.69" fill="none" stroke="#fff" stroke-width="0.5"/><ellipse cx="0.00" cy="0.00" rx="3.74" ry="7.47" fill="none" stroke="#fff" stroke-width="0.5"/><ellipse cx="0.00" cy="0.00" rx="2.63" ry="5.27" fill="none" stroke="#fff" stroke-width="0.5"/><ellipse cx="0.00" cy="0.00" rx="1.53" ry="3.05" fill="none" stroke="#fff" stroke-width="0.5"/></g>
<path d="M0 -1C0.45 -1 0.72 -0.55 0.68 -0.05C0.64 0.45 0.3 0.85 0.08 1C-0.2 0.88 -0.55 0.45 -0.58 -0.02C-0.62 -0.55 -0.38 -1 0 -1Z" transform="translate(231 792) scale(24.5 27)" fill="none" stroke="#dc8088" stroke-width="0.02" opacity="0.6"/>
<g transform="translate(231 792) rotate(0)" opacity="1.0" filter="url(#bl2)"><path d="M0 -1C0.45 -1 0.72 -0.55 0.68 -0.05C0.64 0.45 0.3 0.85 0.08 1C-0.2 0.88 -0.55 0.45 -0.58 -0.02C-0.62 -0.55 -0.38 -1 0 -1Z" transform="translate(0.00 0.00) scale(21.50 24.00)" fill="#ec8884"/><path d="M0 -1C0.45 -1 0.72 -0.55 0.68 -0.05C0.64 0.45 0.3 0.85 0.08 1C-0.2 0.88 -0.55 0.45 -0.58 -0.02C-0.62 -0.55 -0.38 -1 0 -1Z" transform="translate(0.00 0.57) scale(19.35 21.60)" fill="#e35e62"/><path d="M0 -1C0.45 -1 0.72 -0.55 0.68 -0.05C0.64 0.45 0.3 0.85 0.08 1C-0.2 0.88 -0.55 0.45 -0.58 -0.02C-0.62 -0.55 -0.38 -1 0 -1Z" transform="translate(0.00 1.14) scale(17.20 19.20)" fill="#e35e62"/><path d="M0 -1C0.45 -1 0.72 -0.55 0.68 -0.05C0.64 0.45 0.3 0.85 0.08 1C-0.2 0.88 -0.55 0.45 -0.58 -0.02C-0.62 -0.55 -0.38 -1 0 -1Z" transform="translate(0.00 1.71) scale(15.05 16.80)" fill="#e6696a"/><path d="M0 -1C0.45 -1 0.72 -0.55 0.68 -0.05C0.64 0.45 0.3 0.85 0.08 1C-0.2 0.88 -0.55 0.45 -0.58 -0.02C-0.62 -0.55 -0.38 -1 0 -1Z" transform="translate(0.00 2.29) scale(12.90 14.40)" fill="#f0a39a"/><path d="M0 -1C0.45 -1 0.72 -0.55 0.68 -0.05C0.64 0.45 0.3 0.85 0.08 1C-0.2 0.88 -0.55 0.45 -0.58 -0.02C-0.62 -0.55 -0.38 -1 0 -1Z" transform="translate(0.00 2.86) scale(10.75 12.00)" fill="#f6d0ce"/><path d="M0 -1C0.45 -1 0.72 -0.55 0.68 -0.05C0.64 0.45 0.3 0.85 0.08 1C-0.2 0.88 -0.55 0.45 -0.58 -0.02C-0.62 -0.55 -0.38 -1 0 -1Z" transform="translate(0.00 3.43) scale(8.60 9.60)" fill="#fbe6e1"/><path d="M0 -1C0.45 -1 0.72 -0.55 0.68 -0.05C0.64 0.45 0.3 0.85 0.08 1C-0.2 0.88 -0.55 0.45 -0.58 -0.02C-0.62 -0.55 -0.38 -1 0 -1Z" transform="translate(0.00 4.00) scale(6.45 7.20)" fill="#ffffff"/></g>
<g transform="translate(231 792) rotate(0)" opacity="0.5"><path d="M0 -1C0.45 -1 0.72 -0.55 0.68 -0.05C0.64 0.45 0.3 0.85 0.08 1C-0.2 0.88 -0.55 0.45 -0.58 -0.02C-0.62 -0.55 -0.38 -1 0 -1Z" transform="translate(0.00 0.40) scale(20.00 22.32)" fill="none" stroke="#fff" stroke-width="0.5" vector-effect="non-scaling-stroke"/><path d="M0 -1C0.45 -1 0.72 -0.55 0.68 -0.05C0.64 0.45 0.3 0.85 0.08 1C-0.2 0.88 -0.55 0.45 -0.58 -0.02C-0.62 -0.55 -0.38 -1 0 -1Z" transform="translate(0.00 1.20) scale(16.98 18.96)" fill="none" stroke="#fff" stroke-width="0.5" vector-effect="non-scaling-stroke"/><path d="M0 -1C0.45 -1 0.72 -0.55 0.68 -0.05C0.64 0.45 0.3 0.85 0.08 1C-0.2 0.88 -0.55 0.45 -0.58 -0.02C-0.62 -0.55 -0.38 -1 0 -1Z" transform="translate(0.00 2.00) scale(13.97 15.60)" fill="none" stroke="#fff" stroke-width="0.5" vector-effect="non-scaling-stroke"/><path d="M0 -1C0.45 -1 0.72 -0.55 0.68 -0.05C0.64 0.45 0.3 0.85 0.08 1C-0.2 0.88 -0.55 0.45 -0.58 -0.02C-0.62 -0.55 -0.38 -1 0 -1Z" transform="translate(0.00 2.80) scale(10.96 12.24)" fill="none" stroke="#fff" stroke-width="0.5" vector-effect="non-scaling-stroke"/><path d="M0 -1C0.45 -1 0.72 -0.55 0.68 -0.05C0.64 0.45 0.3 0.85 0.08 1C-0.2 0.88 -0.55 0.45 -0.58 -0.02C-0.62 -0.55 -0.38 -1 0 -1Z" transform="translate(0.00 3.60) scale(7.96 8.88)" fill="none" stroke="#fff" stroke-width="0.5" vector-effect="non-scaling-stroke"/></g>
<g transform="translate(233 828) rotate(0)" opacity="1.0" filter="url(#bl2)"><ellipse cx="0.00" cy="0.00" rx="6.50" ry="9.00" fill="#f6ddd9"/><ellipse cx="0.00" cy="0.00" rx="5.20" ry="7.20" fill="#f0c0c0"/><ellipse cx="0.00" cy="0.00" rx="3.90" ry="5.40" fill="#f8e4df"/><ellipse cx="0.00" cy="0.00" rx="2.60" ry="3.60" fill="#ffffff"/></g>
<g transform="translate(233 828) rotate(0)" opacity="0.5"><ellipse cx="0.00" cy="0.00" rx="6.11" ry="8.46" fill="none" stroke="#fff" stroke-width="0.5"/><ellipse cx="0.00" cy="0.00" rx="5.33" ry="7.38" fill="none" stroke="#fff" stroke-width="0.5"/><ellipse cx="0.00" cy="0.00" rx="4.55" ry="6.30" fill="none" stroke="#fff" stroke-width="0.5"/><ellipse cx="0.00" cy="0.00" rx="3.77" ry="5.22" fill="none" stroke="#fff" stroke-width="0.5"/><ellipse cx="0.00" cy="0.00" rx="2.99" ry="4.14" fill="none" stroke="#fff" stroke-width="0.5"/></g>
<ellipse cx="219.6" cy="821" rx="2.5" ry="11" fill="#e896a0" stroke="none" stroke-width="0" opacity="0.85" filter="url(#bl2)"/>
<path d="M286.1 824.3h0.8M282.5 827.7h0.8M291.8 758.5h0.8M279.7 828.5h0.8M281.8 806.8h0.8M290.1 837.5h0.8M284.6 772h0.8M285.6 764.8h0.8M284.8 835.2h0.8M294.2 788.2h0.8M286.1 760.2h0.8M288.9 789.3h0.8M292.2 764.8h0.8M286 805h0.8M289.6 808.5h0.8M284.4 775.6h0.8M281.2 812.3h0.8M299.3 762.2h0.8M300.7 776.4h0.8M298.1 762.1h0.8M280.5 834.3h0.8M280.3 835.7h0.8M285.9 790.4h0.8M283.9 759.8h0.8M300.2 768.8h0.8M288.3 768.6h0.8M281.5 767.9h0.8M293.4 762.9h0.8M298.8 807h0.8M298.2 765.5h0.8M288 759.1h0.8M285.9 826.4h0.8M299.4 769.9h0.8M294.3 814.4h0.8M291 790h0.8M291.5 801.5h0.8M283.2 790.9h0.8M287.3 819.3h0.8M282.8 764.7h0.8M289 829.5h0.8M283.2 831.9h0.8M289 769.3h0.8M293.1 804.5h0.8M288.6 768.4h0.8M278 804.2h0.8M298.1 764.8h0.8M292 765.6h0.8M288.2 830.1h0.8" stroke="#b8b8b8" stroke-width="0.8" fill="none"/>
<path d="M281.2 831.5h0.8M287.8 785.4h0.8M286.9 826.8h0.8M282.4 762.9h0.8M283.9 795.1h0.8M284.7 799.8h0.8M280.2 808.3h0.8M290.1 831.8h0.8M288.8 823.8h0.8M298.1 777.7h0.8M298.6 792.7h0.8M289.2 824.6h0.8M293.6 780.2h0.8M294 769.4h0.8M288 837.5h0.8M286.1 800.6h0.8M292 782.1h0.8M289.5 811h0.8M289.3 767.7h0.8M294.7 823.3h0.8M280.8 806.7h0.8M283.1 815h0.8M291 808h0.8M284.8 774.3h0.8M284.1 760.4h0.8M301.7 792h0.8M278.1 805h0.8M289.6 795.4h0.8M300.3 798h0.8M285.7 836.3h0.8M281.8 784.9h0.8M283.9 819.5h0.8M287.2 811.4h0.8M292.4 818h0.8M278.4 815.5h0.8M292.3 779.8h0.8M284.9 800.4h0.8M299.8 784.3h0.8M293.3 812.4h0.8M283.8 828.4h0.8M295.9 811.4h0.8M293 762.1h0.8M285.1 792.8h0.8M289.7 793.3h0.8M295.5 802.7h0.8M283.2 790.1h0.8M300.5 768.8h0.8M294.5 774h0.8M282.1 818.6h0.8M289.4 763.5h0.8M293.1 813.7h0.8M281.9 797.3h0.8M286.2 809.3h0.8M280.1 828.9h0.8M289.4 767.6h0.8M287.2 780.7h0.8M285.7 835h0.8M290 775.7h0.8M296.2 796.3h0.8M286.8 791.6h0.8M293.6 793.6h0.8M299.1 768.5h0.8M291.3 789.3h0.8M289.2 811.5h0.8M286 785.9h0.8M285 773.5h0.8M284.9 816.3h0.8M282.7 823.5h0.8M295.4 805h0.8M285.2 839h0.8M290.8 780.6h0.8M295.2 783.3h0.8" stroke="#d4d4d4" stroke-width="0.8" fill="none"/>
<path d="M299 779.6h0.8M300.3 782.1h0.8M300.1 775.6h0.8M291.6 795.8h0.8M293.9 803.7h0.8M295.8 777h0.8M293.8 785.7h0.8M292.1 796.8h0.8M291.5 771.2h0.8M294.6 784.9h0.8M290.9 795.6h0.8M293.5 780.7h0.8M300.1 785.5h0.8M291 774h0.8M294.7 772.9h0.8M294.2 775h0.8M295.4 783.1h0.8M290 798.2h0.8M288.9 800.4h0.8M289.5 787.8h0.8M296 804.1h0.8M296.3 796h0.8M293.5 802.3h0.8M294.9 784h0.8M300.1 788.4h0.8M298.8 791.7h0.8M306.3 800.8h0.8M321.3 794h0.8M308.7 796.4h0.8M328.6 797.5h0.8M302.2 791.3h0.8M305.2 796.6h0.8M320.8 801.2h0.8M318.7 795.3h0.8M316.8 800h0.8M316.6 793.1h0.8M299.5 800h0.8M326 800.2h0.8M319.3 799.7h0.8M321.6 796.8h0.8M305.8 797.7h0.8M304.1 795.7h0.8M312.2 792.2h0.8M319 797.3h0.8M331.4 801.9h0.8M309.2 792h0.8M357.2 803.2h0.8M373.4 824.7h0.8M359.8 812.2h0.8M371.6 804.9h0.8M357.7 790h0.8M353.9 808.8h0.8M355.7 804.7h0.8M356.6 812h0.8M363.3 820.3h0.8M362.8 801.3h0.8M363.6 823.3h0.8M368.4 802.6h0.8M361.9 830.5h0.8M362.2 810.5h0.8M364.8 826.8h0.8M358.1 808.7h0.8M355.1 809.2h0.8M365 824.8h0.8M360.2 801.8h0.8M371.9 817.9h0.8M368.6 805.2h0.8M360.7 812.1h0.8M363.5 826.7h0.8M361.6 826.8h0.8M372.4 824.1h0.8M361.8 826h0.8M370.7 803h0.8M359.1 802.5h0.8M371.6 822.9h0.8M355 820.5h0.8M364.8 796.2h0.8" stroke="#c8c8c8" stroke-width="0.8" fill="none"/>
<path d="M300.8 779.3h0.8M289.4 799h0.8M289.9 794.8h0.8M293.3 783.9h0.8M301.2 779.4h0.8M299.7 782.7h0.8M294.3 786.4h0.8M294.2 775.7h0.8M299.4 770.9h0.8M298.3 799.6h0.8M296.5 775.6h0.8M292.8 806h0.8M289.8 778.2h0.8M288.5 793.7h0.8M290.5 780.4h0.8M288.8 787.4h0.8M289.9 776.7h0.8M292.4 776.1h0.8M289.9 767.9h0.8M299.9 793.4h0.8M301.2 781.1h0.8M292.1 800.1h0.8M304.7 792.4h0.8M321 793.9h0.8M320.8 800.9h0.8M305.1 800.4h0.8M312.8 800.5h0.8M319.7 795.3h0.8M327.7 802.6h0.8M315.5 799.7h0.8M328.8 797.4h0.8M318.3 800.6h0.8M311.4 795.1h0.8M299.3 792.1h0.8M326.5 796.1h0.8M326.7 798.1h0.8M314.1 792.4h0.8M326 801.2h0.8M356.5 799.4h0.8M367.1 794.7h0.8M361.5 822.9h0.8M367.5 816.4h0.8M365.2 798.6h0.8M362.6 831.6h0.8M362.2 792.9h0.8M372.8 808.8h0.8M359.9 805h0.8M360.1 798.5h0.8M368.1 801.3h0.8M372.3 804h0.8M369.9 826.1h0.8M372 799.6h0.8M366.5 819.7h0.8M371.6 805.1h0.8M371.4 796.4h0.8M356 818.9h0.8M363 827.8h0.8" stroke="#b05050" stroke-width="0.8" fill="none"/>
<path d="M299.1 787h0.8M290.4 772.6h0.8M298 786.7h0.8M297.4 778.5h0.8M294.3 791.7h0.8M291.5 773.4h0.8M296.2 772.1h0.8M290.3 794.1h0.8M290.4 789.8h0.8M289.9 780.6h0.8M291 796.8h0.8M292 791h0.8M293.6 790.9h0.8M293.7 787h0.8M294.8 768.8h0.8M292.4 769.1h0.8M291.2 801.2h0.8M296 779.2h0.8M295.4 799.6h0.8M300.4 791.6h0.8M299.8 773.3h0.8M294.8 779.8h0.8M300.9 771.1h0.8M289.4 796.3h0.8M296.5 771.3h0.8M331.5 803.8h0.8M314.8 801.4h0.8M326.3 805.4h0.8M296.6 793.7h0.8M320.8 793.4h0.8M313.2 798.1h0.8M321.4 797.2h0.8M316.2 803.1h0.8M312.3 798.8h0.8M324.2 804.7h0.8M328.4 801.7h0.8M323.7 805h0.8M296.7 796.6h0.8M307.8 801.9h0.8M299.8 800.2h0.8M306.2 798.4h0.8M298 795.8h0.8M304.6 799.9h0.8M320.3 799.8h0.8M312.1 794.4h0.8M297.5 798.9h0.8M297 793.1h0.8M319.1 804h0.8M360.9 808.8h0.8M371.6 825.5h0.8M370.3 810.7h0.8M371.7 802.6h0.8M358.8 796.8h0.8M362.4 796.2h0.8M357.9 801.2h0.8M357.9 814h0.8M365.2 820.9h0.8M368.8 812.6h0.8M362.3 826.4h0.8M362.1 832.1h0.8M358 795.5h0.8M362.6 818h0.8M361.9 827.8h0.8M370.8 795.6h0.8M354.1 810.3h0.8M364.4 816.1h0.8M364.5 822h0.8M359.5 804.8h0.8M366.9 809.3h0.8M360 815.6h0.8M372.9 818.6h0.8M373 816.3h0.8M362.1 797.7h0.8M361.6 817.5h0.8M363.7 822.3h0.8M356.3 813.2h0.8" stroke="#9a9a9a" stroke-width="0.8" fill="none"/>
<ellipse cx="286" cy="805" rx="5" ry="26" transform="rotate(5 286 805)" fill="#e8e8e8" stroke="none" stroke-width="0" opacity="0.5" filter="url(#bl)"/>
<path d="M302.0 766.0 L318.0 764.0 L322.0 778.0 L298.0 780.0Z" fill="#f0b8c0" fill-opacity="0.9" stroke="none" stroke-width="0" filter="url(#bl2)"/>
<g transform="translate(309.5 763) rotate(-15)" opacity="1.0" filter="url(#bl2)"><ellipse cx="0.00" cy="0.00" rx="9.00" ry="11.00" fill="#f6d4d1"/><ellipse cx="0.00" cy="0.00" rx="7.74" ry="9.46" fill="#eea89e"/><ellipse cx="0.00" cy="0.00" rx="6.48" ry="7.92" fill="#ea958e"/><ellipse cx="0.00" cy="0.00" rx="5.22" ry="6.38" fill="#eea89e"/><ellipse cx="0.00" cy="0.00" rx="3.96" ry="4.84" fill="#f4ccc9"/><ellipse cx="0.00" cy="0.00" rx="2.70" ry="3.30" fill="#f8e0dc"/></g>
<g transform="translate(309.5 763) rotate(-15)" opacity="0.5"><ellipse cx="0.00" cy="0.00" rx="8.37" ry="10.23" fill="none" stroke="#fff" stroke-width="0.5"/><ellipse cx="0.00" cy="0.00" rx="7.11" ry="8.69" fill="none" stroke="#fff" stroke-width="0.5"/><ellipse cx="0.00" cy="0.00" rx="5.85" ry="7.15" fill="none" stroke="#fff" stroke-width="0.5"/><ellipse cx="0.00" cy="0.00" rx="4.59" ry="5.61" fill="none" stroke="#fff" stroke-width="0.5"/><ellipse cx="0.00" cy="0.00" rx="3.33" ry="4.07" fill="none" stroke="#fff" stroke-width="0.5"/></g>
<g transform="translate(309.5 784) rotate(-20)" opacity="1.0" filter="url(#bl2)"><ellipse cx="0.00" cy="0.00" rx="13.50" ry="12.50" fill="#ec9089"/><ellipse cx="0.00" cy="0.00" rx="11.70" ry="10.83" fill="#e46567"/><ellipse cx="0.00" cy="0.00" rx="9.90" ry="9.17" fill="#e46567"/><ellipse cx="0.00" cy="0.00" rx="8.10" ry="7.50" fill="#e87a78"/><ellipse cx="0.00" cy="0.00" rx="6.30" ry="5.83" fill="#ee9790"/><ellipse cx="0.00" cy="0.00" rx="4.50" ry="4.17" fill="#f2b8b8"/><ellipse cx="0.00" cy="0.00" rx="2.70" ry="2.50" fill="#ffffff"/></g>
<g transform="translate(309.5 784) rotate(-20)" opacity="0.5"><ellipse cx="0.00" cy="0.00" rx="12.42" ry="11.50" fill="none" stroke="#fff" stroke-width="0.5"/><ellipse cx="0.00" cy="0.00" rx="10.26" ry="9.50" fill="none" stroke="#fff" stroke-width="0.5"/><ellipse cx="0.00" cy="0.00" rx="8.10" ry="7.50" fill="none" stroke="#fff" stroke-width="0.5"/><ellipse cx="0.00" cy="0.00" rx="5.94" ry="5.50" fill="none" stroke="#fff" stroke-width="0.5"/><ellipse cx="0.00" cy="0.00" rx="3.78" ry="3.50" fill="none" stroke="#fff" stroke-width="0.5"/></g>
<ellipse cx="313.5" cy="823" rx="14.3" ry="20.9" transform="rotate(-12 313.5 823)" fill="none" stroke="#dc8088" stroke-width="0.5" opacity="0.6"/>
<g transform="translate(313.5 823) rotate(-12)" opacity="1.0" filter="url(#bl2)"><ellipse cx="-0.00" cy="0.00" rx="13.00" ry="19.00" fill="#ea7a7b"/><ellipse cx="-0.29" cy="0.00" rx="11.66" ry="17.05" fill="#e45a5c"/><ellipse cx="-0.57" cy="0.00" rx="10.33" ry="15.09" fill="#e45a5c"/><ellipse cx="-0.86" cy="0.00" rx="8.99" ry="13.14" fill="#e66567"/><ellipse cx="-1.14" cy="0.00" rx="7.65" ry="11.18" fill="#ee918b"/><ellipse cx="-1.43" cy="0.00" rx="6.31" ry="9.23" fill="#f5c8c7"/><ellipse cx="-1.71" cy="0.00" rx="4.98" ry="7.27" fill="#fae4df"/><ellipse cx="-2.00" cy="0.00" rx="3.64" ry="5.32" fill="#ffffff"/></g>
<g transform="translate(313.5 823) rotate(-12)" opacity="0.5"><ellipse cx="-0.20" cy="0.00" rx="12.06" ry="17.63" fill="none" stroke="#fff" stroke-width="0.5"/><ellipse cx="-0.60" cy="0.00" rx="10.19" ry="14.90" fill="none" stroke="#fff" stroke-width="0.5"/><ellipse cx="-1.00" cy="0.00" rx="8.32" ry="12.16" fill="none" stroke="#fff" stroke-width="0.5"/><ellipse cx="-1.40" cy="0.00" rx="6.45" ry="9.42" fill="none" stroke="#fff" stroke-width="0.5"/><ellipse cx="-1.80" cy="0.00" rx="4.58" ry="6.69" fill="none" stroke="#fff" stroke-width="0.5"/></g>
<g transform="translate(346 814) rotate(8)" opacity="1.0" filter="url(#bl2)"><ellipse cx="0.00" cy="0.00" rx="7.50" ry="19.00" fill="#f4c8c7"/><ellipse cx="0.00" cy="0.00" rx="6.45" ry="16.34" fill="#ec918b"/><ellipse cx="0.00" cy="0.00" rx="5.40" ry="13.68" fill="#e87876"/><ellipse cx="0.00" cy="0.00" rx="4.35" ry="11.02" fill="#ec918b"/><ellipse cx="0.00" cy="0.00" rx="3.30" ry="8.36" fill="#f2bcbe"/><ellipse cx="0.00" cy="0.00" rx="2.25" ry="5.70" fill="#f8ddd9"/></g>
<g transform="translate(346 814) rotate(8)" opacity="0.5"><ellipse cx="0.00" cy="0.00" rx="6.98" ry="17.67" fill="none" stroke="#fff" stroke-width="0.5"/><ellipse cx="0.00" cy="0.00" rx="5.93" ry="15.01" fill="none" stroke="#fff" stroke-width="0.5"/><ellipse cx="0.00" cy="0.00" rx="4.88" ry="12.35" fill="none" stroke="#fff" stroke-width="0.5"/><ellipse cx="0.00" cy="0.00" rx="3.83" ry="9.69" fill="none" stroke="#fff" stroke-width="0.5"/><ellipse cx="0.00" cy="0.00" rx="2.77" ry="7.03" fill="none" stroke="#fff" stroke-width="0.5"/></g>
<g transform="translate(354 781) rotate(-35)" opacity="1.0" filter="url(#bl2)"><ellipse cx="0.00" cy="0.00" rx="10.50" ry="18.50" fill="#ea7774"/><ellipse cx="0.00" cy="0.00" rx="8.92" ry="15.72" fill="#e46063"/><ellipse cx="0.00" cy="0.00" rx="7.35" ry="12.95" fill="#e46063"/><ellipse cx="0.00" cy="0.00" rx="5.78" ry="10.18" fill="#e87171"/><ellipse cx="0.00" cy="0.00" rx="4.20" ry="7.40" fill="#ee918b"/><ellipse cx="0.00" cy="0.00" rx="2.62" ry="4.62" fill="#fbe8e2"/></g>
<g transform="translate(354 781) rotate(-35)" opacity="0.5"><ellipse cx="0.00" cy="0.00" rx="9.71" ry="17.11" fill="none" stroke="#fff" stroke-width="0.5"/><ellipse cx="0.00" cy="0.00" rx="8.14" ry="14.34" fill="none" stroke="#fff" stroke-width="0.5"/><ellipse cx="0.00" cy="0.00" rx="6.56" ry="11.56" fill="none" stroke="#fff" stroke-width="0.5"/><ellipse cx="0.00" cy="0.00" rx="4.99" ry="8.79" fill="none" stroke="#fff" stroke-width="0.5"/><ellipse cx="0.00" cy="0.00" rx="3.41" ry="6.01" fill="none" stroke="#fff" stroke-width="0.5"/></g>
<ellipse cx="355" cy="778" rx="1.5" ry="6" transform="rotate(-25 355 778)" fill="#ffffff" stroke="none" stroke-width="0" opacity="0.9" filter="url(#bl2)"/>
<path d="M396.0 825.0 L398.0 800.0 L402.0 780.0 L410.0 762.0 L420.0 754.0 L432.0 754.0 L440.0 760.0 L441.0 770.0 L432.0 772.0 L424.0 766.0 L418.0 770.0 L416.0 790.0 L414.0 812.0 L408.0 828.0 L400.0 832.0Z" fill="#e0e0e0" fill-opacity="0.75" stroke="none" stroke-width="0" filter="url(#bl)"/>
<path d="M399 828 Q400 770 420 760 T438 766" fill="none" stroke="#cacaca" stroke-width="0.6" opacity="0.8"/>
<path d="M403 828 Q404 770 422 763 T436 767" fill="none" stroke="#cacaca" stroke-width="0.6" opacity="0.8"/>
<path d="M407 828 Q408 770 424 766 T434 768" fill="none" stroke="#cacaca" stroke-width="0.6" opacity="0.8"/>
<path d="M417.5 819.9h0.8M411 806.2h0.8M407.8 812.1h0.8M432.3 788.2h0.8M403.4 828.6h0.8M411 828.9h0.8M421.8 784.4h0.8M420.5 820.3h0.8M411.1 773.5h0.8M417.8 780.9h0.8M421.2 835.9h0.8M402.3 814.3h0.8M402.3 794.3h0.8M401.5 781.8h0.8M407.9 790.2h0.8M418.7 810.4h0.8M403.5 790.4h0.8M429 810.5h0.8M422.1 832.6h0.8M407.8 803.4h0.8M413.9 797.6h0.8M402.3 798.4h0.8M406 811h0.8M434.4 796.1h0.8M427.8 771.6h0.8M427.2 825.1h0.8M425.2 768.6h0.8M402.7 775.1h0.8M403.7 806.7h0.8M405.9 814.9h0.8M412 777.4h0.8M419 787.9h0.8M404.7 770.9h0.8M422.9 834.7h0.8M440.6 787.6h0.8M432.4 789.9h0.8M415.2 771.3h0.8M433.1 794.8h0.8M440.3 773.4h0.8M405.9 784.1h0.8M426.5 839.2h0.8M408.7 801h0.8M435.7 784h0.8M434.2 778.5h0.8M429.3 793h0.8M444.1 790.2h0.8M429.4 791.7h0.8M405.5 772.1h0.8M411.9 828.5h0.8M400.1 776.2h0.8M416.1 792.1h0.8M424 827.9h0.8M422.8 814.5h0.8M399.9 790.6h0.8M422.7 822.3h0.8M415.4 829h0.8M414.5 816.9h0.8M436.1 776.7h0.8M429.2 794.9h0.8M433.6 777.4h0.8M434.8 787h0.8M439.3 778.2h0.8M402.3 801.7h0.8M418.6 801.9h0.8M407.5 803.4h0.8M439.2 790.5h0.8M410.3 834.1h0.8M420.4 801.6h0.8M406.4 809.2h0.8M415 825.1h0.8M424.2 802.7h0.8M429.4 770.3h0.8M422.9 804.3h0.8M415 820.6h0.8M422.6 799h0.8M428.2 817.6h0.8M424.6 817.7h0.8M411.6 772.4h0.8M406.5 791.9h0.8M430.5 789.1h0.8M430 816.4h0.8M400.7 789.4h0.8M404.3 772.7h0.8M404.6 780.1h0.8M439.4 776.7h0.8M429.1 796.3h0.8M430.2 799.2h0.8M423 839.6h0.8M416.6 822.9h0.8M399.6 791.5h0.8M420.9 796.4h0.8M415 794.2h0.8M405.2 796.6h0.8M408.3 817.5h0.8M429.6 814h0.8M425 767.3h0.8M407.2 801.2h0.8M421.4 816.7h0.8M405.5 778.2h0.8M418.2 802.6h0.8M410.7 773.3h0.8M421.6 810.9h0.8M419.8 839.1h0.8M430.4 773.9h0.8M400.6 809.9h0.8M421.9 799h0.8M420.5 818.1h0.8M436 768.9h0.8M410 787.1h0.8" stroke="#d0d0d0" stroke-width="0.8" fill="none"/>
<path d="M429.7 798.3h0.8M431.1 768.3h0.8M422.6 824.7h0.8M404.3 782.5h0.8M424.9 810.3h0.8M426.4 808.9h0.8M402.3 788.8h0.8M403.8 819.7h0.8M407.4 780.2h0.8M403.1 782.1h0.8M404.1 815.8h0.8M413.4 777.6h0.8M401.3 782.5h0.8M422.7 812.9h0.8M398.7 779.9h0.8M411.6 808.2h0.8M410.2 793.7h0.8M429.4 794.4h0.8M413 788h0.8M420.7 779.8h0.8M411.3 804.5h0.8M438.7 774.5h0.8M401 817.1h0.8M403.1 784.9h0.8M405 793.1h0.8M418 814.1h0.8M436.5 784.9h0.8M433.3 788.3h0.8M414.9 815.8h0.8M423.1 767.6h0.8M419 805.5h0.8M404.4 827.6h0.8M428 787h0.8M415.4 780.9h0.8M436.7 777.2h0.8M409.8 796.6h0.8M434.9 795.5h0.8M413.4 836.7h0.8M405.3 797.4h0.8M441 780.5h0.8M410.3 813.7h0.8M430.1 802.8h0.8M403.2 820.6h0.8M416.6 781.7h0.8M409.4 801.8h0.8M414.6 836.8h0.8M409.5 817h0.8M402 820.1h0.8M444.5 788.8h0.8M400 809.7h0.8M418.8 835.9h0.8M413.2 805.6h0.8M403.1 803.1h0.8M415.8 781.6h0.8M429 823.9h0.8M398.9 779.7h0.8M427.2 779.1h0.8M420.1 800.2h0.8M421.2 820.5h0.8M402.4 811.7h0.8M406.9 796.5h0.8M437.4 790.5h0.8M443.2 785.9h0.8M443.3 785.3h0.8M427.6 791.7h0.8M412.2 817.1h0.8M416.8 804.3h0.8M404.2 819.6h0.8M400.3 777.8h0.8M432 790.4h0.8M434.8 768.9h0.8" stroke="#b0b0b0" stroke-width="0.8" fill="none"/>
<path d="M438.9 790.1h0.8M423.9 789.5h0.8M441.3 796.2h0.8M428.5 788h0.8M437 801h0.8M438.8 794.1h0.8M424.8 809.3h0.8M441.6 793.6h0.8M423.3 802.6h0.8M428.7 803h0.8M434.4 791.9h0.8M423.7 806.3h0.8M425.2 795.7h0.8M428.5 806.1h0.8M437.2 804.3h0.8M428 794h0.8M433.8 798.2h0.8M422.2 792.3h0.8M435.3 797.1h0.8M429.9 793.2h0.8M430.4 808.2h0.8M428 806h0.8M438.2 796.6h0.8M439.3 797.2h0.8M423.2 789.4h0.8M434.5 796.5h0.8M440.4 803.7h0.8M419.7 801.9h0.8M423.7 804.8h0.8M423.8 799h0.8M423.3 808h0.8M424.1 799.9h0.8M437.6 794.2h0.8M420.8 792.8h0.8M438.4 793.7h0.8M420.2 800.7h0.8M437.2 791.3h0.8M432 793.1h0.8M421.3 801.9h0.8" stroke="#c84050" stroke-width="0.8" fill="none"/>
<path d="M431.8 798h0.8M437.7 793.8h0.8M434.9 789.1h0.8M435.1 790.3h0.8M429.8 790.3h0.8M444.1 792h0.8M422.7 797.3h0.8M441.1 791.9h0.8M436.7 794.8h0.8M439.2 793h0.8M421.8 798.2h0.8M421.4 802.9h0.8M440.3 790.6h0.8M425.9 793.2h0.8M421.8 788.3h0.8" stroke="#a0a0a0" stroke-width="0.8" fill="none"/>
<path d="M480.5 802.4h0.8M476.3 828.3h0.8M486.7 817.7h0.8M480.2 823.5h0.8M484.7 793.4h0.8M480.1 812.6h0.8M480.8 814.9h0.8M484.7 781.5h0.8M489.3 794.2h0.8M485.3 824.2h0.8M482.3 819.4h0.8M490.6 801.5h0.8M484.9 789.2h0.8M487 818.4h0.8M480.3 827.6h0.8M481.7 814.7h0.8M477 776.1h0.8M490.8 793.9h0.8M480.6 818.1h0.8M487 817.9h0.8M489 813.1h0.8M485.3 782.6h0.8M484.6 787.1h0.8M477.6 785.7h0.8M485.6 789.3h0.8M479.4 826.4h0.8M480.9 788.1h0.8M480.5 775.1h0.8M486 777.9h0.8M488.9 811.9h0.8M478.5 775.8h0.8M478.9 782h0.8M481.4 792.2h0.8M477.4 782.2h0.8M483.2 823.9h0.8M484.2 806.5h0.8M482.5 792.5h0.8M490.2 796.4h0.8M481.8 817h0.8M479.5 824.8h0.8M477.8 808.5h0.8" stroke="#9a9a9a" stroke-width="0.8" fill="none"/>
<path d="M485.1 821.9h0.8M478.6 778.7h0.8M476.6 772.9h0.8M488.9 809.2h0.8M479.5 818.6h0.8M486.6 779.4h0.8M479.1 821.2h0.8M484.1 810.3h0.8M477.9 774.9h0.8M486.9 789.2h0.8M479.7 828.3h0.8M488.1 801.1h0.8M477.1 773.2h0.8M486.7 820.8h0.8M488.6 799.5h0.8M478.4 777.5h0.8M481.1 815.5h0.8M477.4 830.6h0.8M485.2 800.2h0.8M476.6 781.9h0.8M481.4 808.6h0.8M487.8 800.5h0.8M477.9 794.7h0.8M485.1 802.6h0.8M481.2 817.6h0.8M483.7 781.8h0.8M478.3 803.2h0.8M484.8 787.3h0.8M478.1 789.2h0.8M478.8 798h0.8M486.9 785.8h0.8M489 791.5h0.8M486.9 778.8h0.8M484.5 816.9h0.8M487 787.2h0.8M475.2 775.5h0.8M490.1 806.2h0.8M477 824.3h0.8M488.6 797h0.8" stroke="#c8c8c8" stroke-width="0.8" fill="none"/>
<path d="M485 806.4h0.8M481.9 815h0.8M482.5 818.5h0.8M477.6 824.9h0.8M478.1 793.9h0.8M481.5 782.7h0.8M483.4 793h0.8M484.4 780.3h0.8M485.6 825.7h0.8M476.9 791.2h0.8M481.2 793.4h0.8M481.1 802.5h0.8M485.6 795h0.8M478.9 803.7h0.8M479.9 801.7h0.8M485.5 792.5h0.8M487.4 778h0.8M474.8 771.5h0.8M478.6 781.1h0.8M488.7 813.9h0.8M485 818h0.8M480.1 772.8h0.8" stroke="#b05050" stroke-width="0.8" fill="none"/>
<path d="M417.0 800.0 L428.0 798.0 L430.0 842.0 L420.0 840.0 L416.0 820.0Z" fill="#f4ccd2" fill-opacity="0.75" stroke="none" stroke-width="0" filter="url(#bl)"/>
<path d="M417.0 804 Q416.0 822 421.0 840" fill="none" stroke="#d46a78" stroke-width="0.5" opacity="0.5"/>
<path d="M419.5 804 Q418.5 822 423.2 840" fill="none" stroke="#d46a78" stroke-width="0.5" opacity="0.5"/>
<path d="M422.0 804 Q421.0 822 425.4 840" fill="none" stroke="#d46a78" stroke-width="0.5" opacity="0.5"/>
<path d="M424.5 804 Q423.5 822 427.6 840" fill="none" stroke="#d46a78" stroke-width="0.5" opacity="0.5"/>
<path d="M427.0 804 Q426.0 822 429.8 840" fill="none" stroke="#d46a78" stroke-width="0.5" opacity="0.5"/>
<g transform="translate(439.5 782) rotate(-5)" opacity="1.0" filter="url(#bl2)"><ellipse cx="0.00" cy="0.00" rx="8.00" ry="12.50" fill="#ec8682"/><ellipse cx="0.00" cy="0.00" rx="6.88" ry="10.75" fill="#e87371"/><ellipse cx="0.00" cy="0.00" rx="5.76" ry="9.00" fill="#e87371"/><ellipse cx="0.00" cy="0.00" rx="4.64" ry="7.25" fill="#f0a197"/><ellipse cx="0.00" cy="0.00" rx="3.52" ry="5.50" fill="#f6ccc9"/><ellipse cx="0.00" cy="0.00" rx="2.40" ry="3.75" fill="#fbe6e1"/></g>
<g transform="translate(439.5 782) rotate(-5)" opacity="0.5"><ellipse cx="0.00" cy="0.00" rx="7.44" ry="11.62" fill="none" stroke="#fff" stroke-width="0.5"/><ellipse cx="0.00" cy="0.00" rx="6.32" ry="9.88" fill="none" stroke="#fff" stroke-width="0.5"/><ellipse cx="0.00" cy="0.00" rx="5.20" ry="8.12" fill="none" stroke="#fff" stroke-width="0.5"/><ellipse cx="0.00" cy="0.00" rx="4.08" ry="6.38" fill="none" stroke="#fff" stroke-width="0.5"/><ellipse cx="0.00" cy="0.00" rx="2.96" ry="4.62" fill="none" stroke="#fff" stroke-width="0.5"/></g>
<ellipse cx="439.5" cy="821.5" rx="11.0" ry="19.25" transform="rotate(-8 439.5 821.5)" fill="none" stroke="#dc8088" stroke-width="0.5" opacity="0.6"/>
<g transform="translate(439.5 821.5) rotate(-8)" opacity="1.0" filter="url(#bl2)"><ellipse cx="-0.00" cy="0.00" rx="10.00" ry="17.50" fill="#f2b8ba"/><ellipse cx="-0.43" cy="0.00" rx="9.00" ry="15.75" fill="#ea7e7d"/><ellipse cx="-0.86" cy="0.00" rx="8.00" ry="14.00" fill="#e44e54"/><ellipse cx="-1.29" cy="0.00" rx="7.00" ry="12.25" fill="#e44e54"/><ellipse cx="-1.71" cy="0.00" rx="6.00" ry="10.50" fill="#e86b6c"/><ellipse cx="-2.14" cy="0.00" rx="5.00" ry="8.75" fill="#f2aca1"/><ellipse cx="-2.57" cy="0.00" rx="4.00" ry="7.00" fill="#f8d8d5"/><ellipse cx="-3.00" cy="0.00" rx="3.00" ry="5.25" fill="#fdf0f2"/></g>
<g transform="translate(439.5 821.5) rotate(-8)" opacity="0.5"><ellipse cx="-0.30" cy="0.00" rx="9.30" ry="16.28" fill="none" stroke="#fff" stroke-width="0.5"/><ellipse cx="-0.90" cy="0.00" rx="7.90" ry="13.83" fill="none" stroke="#fff" stroke-width="0.5"/><ellipse cx="-1.50" cy="0.00" rx="6.50" ry="11.38" fill="none" stroke="#fff" stroke-width="0.5"/><ellipse cx="-2.10" cy="0.00" rx="5.10" ry="8.93" fill="none" stroke="#fff" stroke-width="0.5"/><ellipse cx="-2.70" cy="0.00" rx="3.70" ry="6.47" fill="none" stroke="#fff" stroke-width="0.5"/></g>
<ellipse cx="467.5" cy="786" rx="11.55" ry="18.7" transform="rotate(-5 467.5 786)" fill="none" stroke="#dc8088" stroke-width="0.5" opacity="0.6"/>
<ellipse cx="469" cy="816" rx="11.0" ry="18.7" fill="none" stroke="#dc8088" stroke-width="0.5" opacity="0.6"/>
<g transform="translate(467.5 786) rotate(-5)" opacity="1.0" filter="url(#bl2)"><ellipse cx="0.00" cy="0.00" rx="10.50" ry="17.00" fill="#e86367"/><ellipse cx="0.20" cy="0.00" rx="9.13" ry="14.79" fill="#e45459"/><ellipse cx="0.40" cy="0.00" rx="7.77" ry="12.58" fill="#e45459"/><ellipse cx="0.60" cy="0.00" rx="6.41" ry="10.37" fill="#ec8682"/><ellipse cx="0.80" cy="0.00" rx="5.04" ry="8.16" fill="#f6d0cd"/><ellipse cx="1.00" cy="0.00" rx="3.67" ry="5.95" fill="#ffffff"/></g>
<g transform="translate(467.5 786) rotate(-5)" opacity="0.5"><ellipse cx="0.10" cy="0.00" rx="9.82" ry="15.90" fill="none" stroke="#fff" stroke-width="0.5"/><ellipse cx="0.30" cy="0.00" rx="8.45" ry="13.68" fill="none" stroke="#fff" stroke-width="0.5"/><ellipse cx="0.50" cy="0.00" rx="7.09" ry="11.48" fill="none" stroke="#fff" stroke-width="0.5"/><ellipse cx="0.70" cy="0.00" rx="5.72" ry="9.27" fill="none" stroke="#fff" stroke-width="0.5"/><ellipse cx="0.90" cy="0.00" rx="4.36" ry="7.05" fill="none" stroke="#fff" stroke-width="0.5"/></g>
<g transform="translate(469 816) rotate(0)" opacity="1.0" filter="url(#bl2)"><ellipse cx="0.00" cy="0.00" rx="10.00" ry="17.00" fill="#e86367"/><ellipse cx="0.30" cy="0.00" rx="8.60" ry="14.62" fill="#e45459"/><ellipse cx="0.60" cy="0.00" rx="7.20" ry="12.24" fill="#e45459"/><ellipse cx="0.90" cy="0.00" rx="5.80" ry="9.86" fill="#ec8682"/><ellipse cx="1.20" cy="0.00" rx="4.40" ry="7.48" fill="#f6d0cd"/><ellipse cx="1.50" cy="0.00" rx="3.00" ry="5.10" fill="#ffffff"/></g>
<g transform="translate(469 816) rotate(0)" opacity="0.5"><ellipse cx="0.15" cy="0.00" rx="9.30" ry="15.81" fill="none" stroke="#fff" stroke-width="0.5"/><ellipse cx="0.45" cy="0.00" rx="7.90" ry="13.43" fill="none" stroke="#fff" stroke-width="0.5"/><ellipse cx="0.75" cy="0.00" rx="6.50" ry="11.05" fill="none" stroke="#fff" stroke-width="0.5"/><ellipse cx="1.05" cy="0.00" rx="5.10" ry="8.67" fill="none" stroke="#fff" stroke-width="0.5"/><ellipse cx="1.35" cy="0.00" rx="3.70" ry="6.29" fill="none" stroke="#fff" stroke-width="0.5"/></g>
<text x="27.1" y="752.0" font-size="5.9" fill="#111">Day 11</text>
<text x="27.1" y="759.0" font-size="5.9" fill="#111">n=4</text>
<rect x="64" y="804.2" width="40.6" height="38.3" fill="none" stroke="#000" stroke-width="2"/>
<text x="147.0" y="752.0" font-size="5.9" fill="#111">Day 14</text>
<text x="147.0" y="759.0" font-size="5.9" fill="#111">n=5</text>
<rect x="186.1" y="807.8" width="38.9" height="38.5" fill="none" stroke="#000" stroke-width="2"/>
<text x="267.6" y="752.0" font-size="5.9" fill="#111">Day 21</text>
<text x="267.6" y="759.0" font-size="5.9" fill="#111">n=4</text>
<rect x="307.2" y="801.8" width="38.0" height="40.4" fill="none" stroke="#000" stroke-width="2"/>
<text x="387.6" y="752.0" font-size="5.9" fill="#111">Day 28</text>
<text x="387.6" y="759.0" font-size="5.9" fill="#111">n=3</text>
<rect x="429.2" y="802.5" width="37.0" height="39.3" fill="none" stroke="#000" stroke-width="2"/>
</svg>
<div class="l" style="top:872.80px"><b>A)</b> Cellular kinetics of PHE885 as measured by mean vector transgene copies per microgram</div><div class="l" style="top:886.53px">of genomic DNA (qPCR; top) and mean percentage of CD3+ cells expressing CAR protein</div><div class="l" style="top:900.26px">(flow cytometry, bottom), in peripheral blood according to dose group. Error bars: 1 standard</div><div class="l" style="top:913.99px">deviation. Lower limit of quantitation: 100 copies/µg (qPCR); 1% (flow cytometry). At data</div><div class="l" style="top:927.72px">cutoff, samples were available up to 6 months (14.3×10<sup>6</sup> dose group) and 3 months (5×10<sup>6</sup></div><div class="l" style="top:941.45px">dose group). Transgene and CAR protein expression were quantifiable in peripheral blood at</div><div class="l" style="top:955.18px">the last time point measured for each pt. <b>B)</b> Uniform Manifold Approximation and Projection</div><div class="l" style="top:968.91px">(UMAP) for dimension reduction depicting CD4 and CD8 CAR+ T cells from 5 responding</div><div class="l" style="top:982.64px">(stringent CR, CR, very good PR, PR) pts at days 11, 14, 21, and 28 post injection. For each</div><div class="l" style="top:996.37px">time point plot, the grey represents a concatenation of all pts and time points; the red</div><div class="l" style="top:1010.10px">represents individual time points as labeled. The top dot plot is the same concatenated UMAP</div><div class="l" style="top:1023.83px">with color overlays showing locations of manually gated populations within the map:</div><div class="l" style="top:1037.56px">Tscm/Tnaïve = CD45RO-CCR7+, CM = CD45RO+CCR7+, EM = CD45RO+CCR7-, EMRA =</div><div class="l" style="top:1051.29px">CD45RO-CCR7-. Black boxes, CAR+ T cells with a naïve or SCM phenotype (Tscm/Tnaïve).</div>
</div></body></html>
